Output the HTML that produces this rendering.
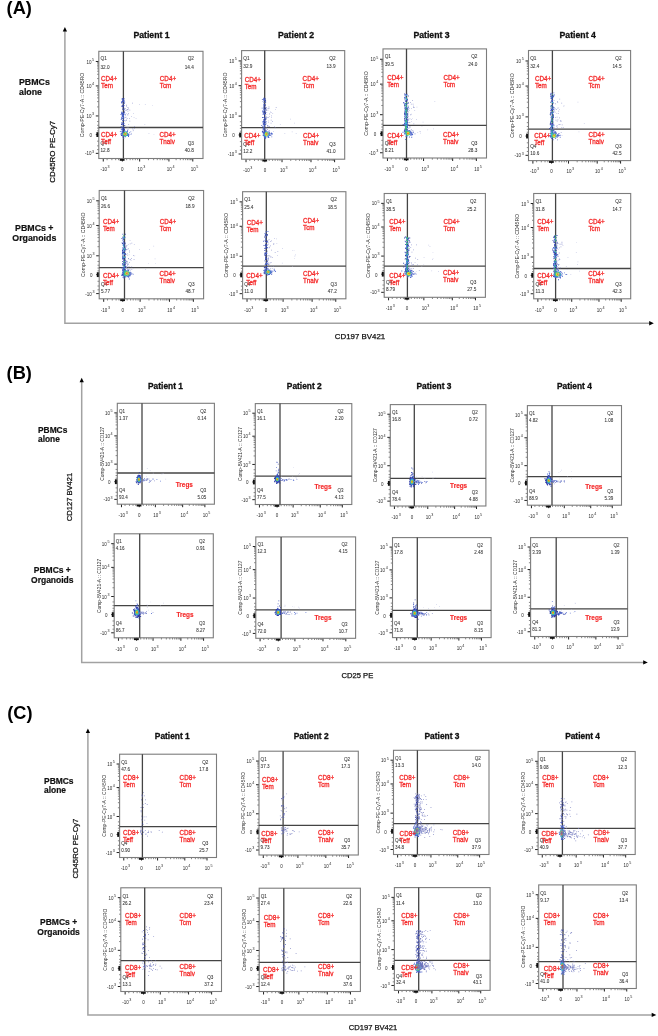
<!DOCTYPE html>
<html><head><meta charset="utf-8"><title>Flow cytometry figure</title>
<style>html,body{margin:0;padding:0;background:#fff;width:658px;height:1036px;overflow:hidden} svg{filter:blur(0.4px)}</style>
</head><body>
<svg width="658" height="1036" viewBox="0 0 658 1036" style="display:block" font-family='"Liberation Sans", sans-serif'>
<rect width="658" height="1036" fill="#fff"/>
<text x="6.6" y="14.3" font-size="18.2" fill="#000" font-weight="bold" text-anchor="start">(A)</text>
<text x="6.6" y="379.4" font-size="18.2" fill="#000" font-weight="bold" text-anchor="start">(B)</text>
<text x="7.2" y="719.2" font-size="18.2" fill="#000" font-weight="bold" text-anchor="start">(C)</text>
<path d="M64.9,30.1V323.3H650.8" fill="none" stroke="#a2a2a2" stroke-width="1.5"/>
<path d="M64.9,27.1 L67.05,31.5 L62.75,31.5Z" fill="#000"/>
<path d="M653.8,323.3 L649.2,321.1 L649.2,325.5Z" fill="#000"/>
<path d="M81.7,380.8V662.4H644.8" fill="none" stroke="#a2a2a2" stroke-width="1.5"/>
<path d="M81.7,377.8 L83.85,382.2 L79.55,382.2Z" fill="#000"/>
<path d="M647.8,662.4 L643.2,660.2 L643.2,664.6Z" fill="#000"/>
<path d="M87.9,731.5V1014.9H653.3" fill="none" stroke="#a2a2a2" stroke-width="1.5"/>
<path d="M87.9,728.5 L90.05,732.9 L85.75,732.9Z" fill="#000"/>
<path d="M656.3,1014.9 L651.7,1012.7 L651.7,1017.1Z" fill="#000"/>
<text x="55.2" y="151.8" font-size="7.95" fill="#111" stroke="#111" stroke-width="0.25" text-anchor="middle" transform="rotate(-90 55.2 151.8)">CD45RO PE-Cy7</text>
<text x="72.3" y="497" font-size="7.6" fill="#111" stroke="#111" stroke-width="0.25" text-anchor="middle" transform="rotate(-90 72.3 497)">CD127 BV421</text>
<text x="78" y="848.6" font-size="7.7" fill="#111" stroke="#111" stroke-width="0.25" text-anchor="middle" transform="rotate(-90 78 848.6)">CD45RO PE-Cy7</text>
<text x="360" y="339.3" font-size="7.9" fill="#111" font-weight="normal" text-anchor="middle" stroke="#111" stroke-width="0.25">CD197 BV421</text>
<text x="357.4" y="677.7" font-size="7.6" fill="#111" font-weight="normal" text-anchor="middle" stroke="#111" stroke-width="0.25">CD25 PE</text>
<text x="373" y="1030.1" font-size="7.6" fill="#111" font-weight="normal" text-anchor="middle" stroke="#111" stroke-width="0.25">CD197 BV421</text>
<text x="19" y="85.1" font-size="8.8" fill="#111" font-weight="bold" text-anchor="start" stroke="#111" stroke-width="0.2">PBMCs</text>
<text x="19" y="94.8" font-size="8.8" fill="#111" font-weight="bold" text-anchor="start" stroke="#111" stroke-width="0.2">alone</text>
<text x="34.3" y="231" font-size="8.8" fill="#111" font-weight="bold" text-anchor="middle" stroke="#111" stroke-width="0.2">PBMCs +</text>
<text x="34.3" y="240.7" font-size="8.8" fill="#111" font-weight="bold" text-anchor="middle" stroke="#111" stroke-width="0.2">Organoids</text>
<text x="38" y="433.3" font-size="8.4" fill="#111" font-weight="bold" text-anchor="start" stroke="#111" stroke-width="0.2">PBMCs</text>
<text x="38" y="442.4" font-size="8.4" fill="#111" font-weight="bold" text-anchor="start" stroke="#111" stroke-width="0.2">alone</text>
<text x="52.3" y="573.1" font-size="8.5" fill="#111" font-weight="bold" text-anchor="middle" stroke="#111" stroke-width="0.2">PBMCs +</text>
<text x="52.3" y="582.6" font-size="8.5" fill="#111" font-weight="bold" text-anchor="middle" stroke="#111" stroke-width="0.2">Organoids</text>
<text x="44" y="784.3" font-size="8.45" fill="#111" font-weight="bold" text-anchor="start" stroke="#111" stroke-width="0.2">PBMCs</text>
<text x="44" y="793.3" font-size="8.45" fill="#111" font-weight="bold" text-anchor="start" stroke="#111" stroke-width="0.2">alone</text>
<text x="58.6" y="925.2" font-size="8.5" fill="#111" font-weight="bold" text-anchor="middle" stroke="#111" stroke-width="0.2">PBMCs +</text>
<text x="58.6" y="934.7" font-size="8.5" fill="#111" font-weight="bold" text-anchor="middle" stroke="#111" stroke-width="0.2">Organoids</text>
<text x="151.5" y="37.8" font-size="8.7" fill="#111" font-weight="bold" text-anchor="middle" stroke="#111" stroke-width="0.3">Patient 1</text>
<text x="296.1" y="37.8" font-size="8.7" fill="#111" font-weight="bold" text-anchor="middle" stroke="#111" stroke-width="0.3">Patient 2</text>
<text x="431.5" y="37.8" font-size="8.7" fill="#111" font-weight="bold" text-anchor="middle" stroke="#111" stroke-width="0.3">Patient 3</text>
<text x="577.7" y="37.8" font-size="8.7" fill="#111" font-weight="bold" text-anchor="middle" stroke="#111" stroke-width="0.3">Patient 4</text>
<text x="165.5" y="389.1" font-size="8.4" fill="#111" font-weight="bold" text-anchor="middle" stroke="#111" stroke-width="0.3">Patient 1</text>
<text x="304.3" y="389.1" font-size="8.4" fill="#111" font-weight="bold" text-anchor="middle" stroke="#111" stroke-width="0.3">Patient 2</text>
<text x="434" y="389.1" font-size="8.4" fill="#111" font-weight="bold" text-anchor="middle" stroke="#111" stroke-width="0.3">Patient 3</text>
<text x="574.4" y="389.1" font-size="8.4" fill="#111" font-weight="bold" text-anchor="middle" stroke="#111" stroke-width="0.3">Patient 4</text>
<text x="172.3" y="738.6" font-size="8.4" fill="#111" font-weight="bold" text-anchor="middle" stroke="#111" stroke-width="0.3">Patient 1</text>
<text x="311.2" y="738.6" font-size="8.4" fill="#111" font-weight="bold" text-anchor="middle" stroke="#111" stroke-width="0.3">Patient 2</text>
<text x="442" y="738.6" font-size="8.4" fill="#111" font-weight="bold" text-anchor="middle" stroke="#111" stroke-width="0.3">Patient 3</text>
<text x="582.6" y="738.6" font-size="8.4" fill="#111" font-weight="bold" text-anchor="middle" stroke="#111" stroke-width="0.3">Patient 4</text>
<text x="84.2" y="104.9" font-size="5.15" fill="#333" text-anchor="middle" transform="rotate(-90 84.2 104.9)">Comp-PE-Cy7-A :: CD45RO</text>
<path d="M95.8,61.48H98.8M95.8,85.93H98.8M95.8,115.94H98.8M95.8,134.59H98.8M95.8,153.35H98.8M103.28,158.5V161.5M122.35,158.5V161.5M139.65,158.5V161.5M168.93,158.5V161.5M192.79,158.5V161.5" stroke="#222" stroke-width="1" fill="none"/>
<path d="M97.1,78.57H98.8M97.1,74.26H98.8M97.1,71.21H98.8M97.1,68.84H98.8M97.1,66.91H98.8M97.1,65.27H98.8M97.1,63.85H98.8M97.1,62.6H98.8M97.1,106.91H98.8M97.1,101.62H98.8M97.1,97.87H98.8M97.1,94.96H98.8M97.1,92.58H98.8M97.1,90.58H98.8M97.1,88.83H98.8M97.1,87.3H98.8M97.1,121.54H98.8M97.1,125.27H98.8M97.1,128.07H98.8M97.1,130.86H98.8M97.1,141.16H98.8M97.1,145.85H98.8M97.1,149.6H98.8M176.11,158.5V160.2M180.31,158.5V160.2M183.29,158.5V160.2M185.61,158.5V160.2M187.49,158.5V160.2M189.09,158.5V160.2M190.48,158.5V160.2M191.7,158.5V160.2M148.46,158.5V160.2M153.62,158.5V160.2M157.27,158.5V160.2M160.11,158.5V160.2M162.43,158.5V160.2M164.39,158.5V160.2M166.09,158.5V160.2M167.59,158.5V160.2M126.67,158.5V160.2M130.13,158.5V160.2M132.73,158.5V160.2M135.32,158.5V160.2M137.57,158.5V160.2M107.09,158.5V160.2M111.86,158.5V160.2M115.68,158.5V160.2M118.54,158.5V160.2" stroke="#444" stroke-width="0.65" fill="none"/>
<rect x="96.4" y="132.19" width="2.4" height="4.8" fill="#111"/>
<rect x="119.75" y="158.5" width="4.8" height="2.3" fill="#111"/>
<text x="94.1" y="63.58" font-size="4.5" fill="#2a2a2a" font-weight="normal" text-anchor="end">10<tspan font-size="3.7" dx="0.6" dy="-2.8">5</tspan></text>
<text x="94.1" y="88.03" font-size="4.5" fill="#2a2a2a" font-weight="normal" text-anchor="end">10<tspan font-size="3.7" dx="0.6" dy="-2.8">4</tspan></text>
<text x="94.1" y="118.04" font-size="4.5" fill="#2a2a2a" font-weight="normal" text-anchor="end">10<tspan font-size="3.7" dx="0.6" dy="-2.8">3</tspan></text>
<text x="92" y="136.99" font-size="4.5" fill="#2a2a2a" font-weight="normal" text-anchor="end">0</text>
<text x="94.1" y="155.45" font-size="4.5" fill="#2a2a2a" font-weight="normal" text-anchor="end">-10<tspan font-size="3.7" dx="0.6" dy="-2.8">3</tspan></text>
<text x="104.98" y="171.3" font-size="4.5" fill="#2a2a2a" font-weight="normal" text-anchor="middle">-10<tspan font-size="3.7" dx="0.6" dy="-3.0">3</tspan></text>
<text x="122.35" y="171.3" font-size="4.5" fill="#2a2a2a" font-weight="normal" text-anchor="middle">0</text>
<text x="141.35" y="171.3" font-size="4.5" fill="#2a2a2a" font-weight="normal" text-anchor="middle">10<tspan font-size="3.7" dx="0.6" dy="-3.0">3</tspan></text>
<text x="170.63" y="171.3" font-size="4.5" fill="#2a2a2a" font-weight="normal" text-anchor="middle">10<tspan font-size="3.7" dx="0.6" dy="-3.0">4</tspan></text>
<text x="194.49" y="171.3" font-size="4.5" fill="#2a2a2a" font-weight="normal" text-anchor="middle">10<tspan font-size="3.7" dx="0.6" dy="-3.0">5</tspan></text>
<rect x="98.8" y="51.3" width="104.2" height="107.2" fill="none" stroke="#7c7c7c" stroke-width="1.1"/>
<line x1="123.4" y1="51.3" x2="123.4" y2="158.5" stroke="#444" stroke-width="1.3"/>
<line x1="98.8" y1="127.5" x2="203" y2="127.5" stroke="#444" stroke-width="1.3"/>
<path d="M122.5 113.8h0.9v0.9h-0.9zM121.0 123.4h0.9v0.9h-0.9zM123.8 135.0h0.9v0.9h-0.9zM124.1 134.3h0.9v0.9h-0.9zM123.0 119.7h0.9v0.9h-0.9zM124.0 129.0h0.9v0.9h-0.9zM121.2 135.0h0.9v0.9h-0.9zM122.3 108.8h0.9v0.9h-0.9zM122.1 105.6h0.9v0.9h-0.9zM121.8 124.4h0.9v0.9h-0.9zM122.7 113.1h0.9v0.9h-0.9zM121.6 113.0h0.9v0.9h-0.9zM123.0 115.4h0.9v0.9h-0.9zM123.3 107.7h0.9v0.9h-0.9zM122.4 106.4h0.9v0.9h-0.9zM123.0 123.1h0.9v0.9h-0.9zM123.0 100.3h0.9v0.9h-0.9zM122.1 101.7h0.9v0.9h-0.9zM123.7 100.4h0.9v0.9h-0.9zM122.4 128.0h0.9v0.9h-0.9zM123.0 127.1h0.9v0.9h-0.9zM121.8 132.5h0.9v0.9h-0.9zM121.3 101.5h0.9v0.9h-0.9zM122.5 101.5h0.9v0.9h-0.9zM122.9 112.4h0.9v0.9h-0.9zM122.5 134.8h0.9v0.9h-0.9zM120.7 126.2h0.9v0.9h-0.9zM121.9 131.4h0.9v0.9h-0.9zM122.0 100.7h0.9v0.9h-0.9zM122.7 114.5h0.9v0.9h-0.9zM122.8 116.6h0.9v0.9h-0.9zM122.9 106.1h0.9v0.9h-0.9zM121.0 124.0h0.9v0.9h-0.9zM121.6 132.6h0.9v0.9h-0.9zM122.1 132.7h0.9v0.9h-0.9zM122.9 127.7h0.9v0.9h-0.9zM121.5 105.4h0.9v0.9h-0.9zM121.8 98.1h0.9v0.9h-0.9zM120.6 114.1h0.9v0.9h-0.9zM123.2 131.5h0.9v0.9h-0.9zM123.6 127.4h0.9v0.9h-0.9zM123.0 113.5h0.9v0.9h-0.9zM124.3 125.0h0.9v0.9h-0.9zM122.9 105.8h0.9v0.9h-0.9zM122.8 123.0h0.9v0.9h-0.9zM123.0 129.1h0.9v0.9h-0.9zM122.6 107.7h0.9v0.9h-0.9zM122.6 115.1h0.9v0.9h-0.9zM124.2 130.2h0.9v0.9h-0.9zM123.9 128.4h0.9v0.9h-0.9zM122.3 126.7h0.9v0.9h-0.9zM123.6 133.7h0.9v0.9h-0.9zM122.1 129.1h0.9v0.9h-0.9zM122.3 121.7h0.9v0.9h-0.9zM120.9 134.5h0.9v0.9h-0.9zM123.8 111.3h0.9v0.9h-0.9zM122.3 116.0h0.9v0.9h-0.9zM122.5 114.9h0.9v0.9h-0.9zM123.2 98.2h0.9v0.9h-0.9zM123.8 131.7h0.9v0.9h-0.9zM119.9 131.2h0.9v0.9h-0.9zM122.8 103.5h0.9v0.9h-0.9zM122.5 104.8h0.9v0.9h-0.9zM123.3 117.6h0.9v0.9h-0.9zM123.0 122.3h0.9v0.9h-0.9zM120.7 133.2h0.9v0.9h-0.9zM122.7 101.1h0.9v0.9h-0.9zM123.2 134.9h0.9v0.9h-0.9zM122.2 99.7h0.9v0.9h-0.9zM123.9 130.2h0.9v0.9h-0.9zM123.3 134.8h0.9v0.9h-0.9zM123.1 124.1h0.9v0.9h-0.9zM122.7 129.3h0.9v0.9h-0.9zM124.2 111.9h0.9v0.9h-0.9zM123.3 99.8h0.9v0.9h-0.9zM122.3 123.2h0.9v0.9h-0.9z" fill="#2a3aa6"/>
<path d="M126.5 133.9h0.8v0.8h-0.8zM127.4 134.6h0.8v0.8h-0.8zM127.2 132.7h0.8v0.8h-0.8zM127.4 133.5h0.8v0.8h-0.8zM126.9 133.6h0.8v0.8h-0.8zM130.6 134.2h0.8v0.8h-0.8zM126.8 133.6h0.8v0.8h-0.8zM127.4 133.3h0.8v0.8h-0.8zM126.9 133.8h0.8v0.8h-0.8zM127.4 133.5h0.8v0.8h-0.8zM127.9 134.6h0.8v0.8h-0.8zM128.4 133.8h0.8v0.8h-0.8zM128.6 134.5h0.8v0.8h-0.8zM128.5 134.1h0.8v0.8h-0.8zM130.4 131.5h0.8v0.8h-0.8zM127.1 134.8h0.8v0.8h-0.8zM127.2 132.5h0.8v0.8h-0.8zM127.1 134.8h0.8v0.8h-0.8zM126.4 133.9h0.8v0.8h-0.8zM128.3 134.4h0.8v0.8h-0.8z" fill="#4a64cc"/>
<path d="M122.1 114.1h0.9v0.9h-0.9zM121.3 128.7h0.9v0.9h-0.9zM122.2 113.1h0.9v0.9h-0.9zM122.2 133.6h0.9v0.9h-0.9zM122.6 115.7h0.9v0.9h-0.9zM122.2 118.0h0.9v0.9h-0.9zM122.5 130.9h0.9v0.9h-0.9zM120.7 134.1h0.9v0.9h-0.9zM121.7 123.9h0.9v0.9h-0.9zM123.4 101.1h0.9v0.9h-0.9zM123.6 112.9h0.9v0.9h-0.9zM122.9 133.1h0.9v0.9h-0.9zM123.0 99.7h0.9v0.9h-0.9zM121.5 111.8h0.9v0.9h-0.9zM122.1 128.8h0.9v0.9h-0.9zM124.6 114.1h0.9v0.9h-0.9zM122.4 133.0h0.9v0.9h-0.9zM121.3 126.7h0.9v0.9h-0.9zM123.8 98.4h0.9v0.9h-0.9zM124.0 133.5h0.9v0.9h-0.9zM121.2 118.0h0.9v0.9h-0.9zM123.2 132.4h0.9v0.9h-0.9zM121.2 101.8h0.9v0.9h-0.9zM121.8 114.7h0.9v0.9h-0.9zM122.1 130.4h0.9v0.9h-0.9zM124.5 133.5h0.9v0.9h-0.9zM122.9 133.8h0.9v0.9h-0.9zM122.5 133.9h0.9v0.9h-0.9zM121.3 121.9h0.9v0.9h-0.9zM122.9 116.3h0.9v0.9h-0.9zM122.3 130.3h0.9v0.9h-0.9zM123.5 123.1h0.9v0.9h-0.9zM123.8 103.0h0.9v0.9h-0.9zM124.2 101.8h0.9v0.9h-0.9zM121.2 116.7h0.9v0.9h-0.9zM123.0 113.4h0.9v0.9h-0.9zM120.8 129.3h0.9v0.9h-0.9zM123.8 108.4h0.9v0.9h-0.9zM121.4 117.2h0.9v0.9h-0.9zM121.9 101.2h0.9v0.9h-0.9zM122.0 127.7h0.9v0.9h-0.9zM123.2 117.1h0.9v0.9h-0.9zM123.6 109.3h0.9v0.9h-0.9zM121.7 115.3h0.9v0.9h-0.9zM121.5 102.7h0.9v0.9h-0.9zM121.7 98.9h0.9v0.9h-0.9zM121.9 128.4h0.9v0.9h-0.9zM123.1 118.6h0.9v0.9h-0.9zM122.1 123.7h0.9v0.9h-0.9zM122.6 113.6h0.9v0.9h-0.9zM121.9 130.3h0.9v0.9h-0.9zM122.1 131.3h0.9v0.9h-0.9zM121.3 102.5h0.9v0.9h-0.9zM123.6 120.2h0.9v0.9h-0.9zM121.0 113.1h0.9v0.9h-0.9zM124.4 133.0h0.9v0.9h-0.9zM123.7 105.2h0.9v0.9h-0.9zM121.3 133.2h0.9v0.9h-0.9zM123.0 115.0h0.9v0.9h-0.9zM124.3 133.8h0.9v0.9h-0.9zM122.3 112.4h0.9v0.9h-0.9zM121.0 111.8h0.9v0.9h-0.9zM123.4 125.7h0.9v0.9h-0.9zM122.3 133.7h0.9v0.9h-0.9zM122.2 120.0h0.9v0.9h-0.9zM121.7 127.6h0.9v0.9h-0.9zM122.4 98.8h0.9v0.9h-0.9zM121.3 106.2h0.9v0.9h-0.9zM121.4 131.3h0.9v0.9h-0.9zM120.8 119.1h0.9v0.9h-0.9zM124.6 130.8h0.9v0.9h-0.9zM124.6 131.6h0.9v0.9h-0.9zM122.6 115.0h0.9v0.9h-0.9zM122.2 99.3h0.9v0.9h-0.9z" fill="#4a64cc"/>
<path d="M122.1 132.3h1v1h-1zM126.7 131.0h1v1h-1zM127.1 130.3h1v1h-1zM121.5 133.2h1v1h-1zM127.2 133.7h1v1h-1zM126.9 130.7h1v1h-1zM126.2 131.6h1v1h-1zM123.2 137.8h1v1h-1zM122.8 135.3h1v1h-1zM127.3 133.9h1v1h-1zM122.6 134.8h1v1h-1zM124.8 136.0h1v1h-1zM127.8 133.7h1v1h-1zM128.0 134.9h1v1h-1zM123.5 135.7h1v1h-1zM122.3 135.3h1v1h-1zM127.0 135.0h1v1h-1zM123.6 131.4h1v1h-1zM122.4 136.4h1v1h-1zM124.8 136.2h1v1h-1zM128.0 136.1h1v1h-1zM122.0 132.1h1v1h-1z" fill="#4a64cc"/>
<path d="M126.7 133.8h1v1h-1zM126.0 134.9h1v1h-1zM126.6 133.3h1v1h-1zM125.8 135.3h1v1h-1zM126.5 132.8h1v1h-1zM126.7 134.5h1v1h-1zM122.5 133.5h1v1h-1zM125.9 131.7h1v1h-1zM124.4 131.3h1v1h-1zM125.0 135.5h1v1h-1z" fill="#30b8e0"/>
<path d="M123.1 132.7h1v1h-1zM126.5 133.3h1v1h-1zM123.0 132.9h1v1h-1zM124.3 132.0h1v1h-1zM125.4 134.9h1v1h-1zM123.9 131.8h1v1h-1zM124.5 135.2h1v1h-1zM125.0 135.0h1v1h-1zM125.9 132.2h1v1h-1zM123.6 135.0h1v1h-1zM126.4 132.8h1v1h-1zM123.1 133.5h1v1h-1zM123.3 134.3h1v1h-1zM124.5 135.3h1v1h-1zM126.0 133.2h1v1h-1zM123.0 134.0h1v1h-1zM124.6 135.3h1v1h-1z" fill="#40c070"/>
<path d="M123.6 133.4h1v1h-1zM124.9 132.3h1v1h-1zM123.4 133.0h1v1h-1zM125.9 133.2h1v1h-1zM123.5 133.8h1v1h-1zM124.8 134.8h1v1h-1zM123.4 133.4h1v1h-1zM125.9 133.5h1v1h-1zM125.5 132.5h1v1h-1zM125.9 133.9h1v1h-1z" fill="#b8e040"/>
<path d="M125.1 133.0h1v1h-1zM125.4 134.0h1v1h-1zM124.7 134.1h1v1h-1zM124.1 134.0h1v1h-1zM124.2 133.9h1v1h-1zM124.9 132.8h1v1h-1z" fill="#f0e030"/>
<path d="M125.2 133.5h1v1h-1zM124.6 133.3h1v1h-1zM124.3 133.4h1v1h-1zM124.9 133.5h1v1h-1zM124.7 134.0h1v1h-1z" fill="#f08020"/>
<path d="M128.2 127.4h0.7v0.7h-0.7zM125.7 116.7h0.7v0.7h-0.7zM133.9 128.1h0.7v0.7h-0.7zM128.6 135.1h0.7v0.7h-0.7zM126.8 118.0h0.7v0.7h-0.7zM124.6 109.8h0.7v0.7h-0.7zM124.9 108.1h0.7v0.7h-0.7zM125.8 113.4h0.7v0.7h-0.7zM129.5 120.8h0.7v0.7h-0.7zM132.3 128.5h0.7v0.7h-0.7zM129.2 132.0h0.7v0.7h-0.7zM125.1 134.3h0.7v0.7h-0.7zM132.0 102.7h0.7v0.7h-0.7zM130.9 133.2h0.7v0.7h-0.7zM126.9 128.9h0.7v0.7h-0.7zM126.5 109.6h0.7v0.7h-0.7zM133.3 129.7h0.7v0.7h-0.7zM126.8 127.0h0.7v0.7h-0.7zM127.5 114.1h0.7v0.7h-0.7zM125.3 117.1h0.7v0.7h-0.7zM125.9 119.4h0.7v0.7h-0.7zM127.6 110.7h0.7v0.7h-0.7zM129.5 109.8h0.7v0.7h-0.7zM125.8 133.5h0.7v0.7h-0.7zM129.2 118.1h0.7v0.7h-0.7zM128.4 124.0h0.7v0.7h-0.7zM126.0 120.0h0.7v0.7h-0.7zM131.0 115.9h0.7v0.7h-0.7zM126.0 104.8h0.7v0.7h-0.7zM128.2 107.7h0.7v0.7h-0.7zM125.2 120.6h0.7v0.7h-0.7zM127.5 107.1h0.7v0.7h-0.7zM127.0 109.2h0.7v0.7h-0.7zM127.7 109.3h0.7v0.7h-0.7zM125.7 110.2h0.7v0.7h-0.7zM125.2 114.9h0.7v0.7h-0.7zM126.0 105.8h0.7v0.7h-0.7zM134.3 126.3h0.7v0.7h-0.7zM128.1 113.2h0.7v0.7h-0.7zM129.3 132.6h0.7v0.7h-0.7z" fill="#8088c8"/>
<path d="M135.7 118.2h0.7v0.7h-0.7zM133.7 117.1h0.7v0.7h-0.7zM144.5 124.1h0.7v0.7h-0.7zM153.6 133.9h0.7v0.7h-0.7zM127.5 115.1h0.7v0.7h-0.7zM132.7 130.6h0.7v0.7h-0.7zM139.0 104.3h0.7v0.7h-0.7zM128.0 129.0h0.7v0.7h-0.7zM148.6 133.0h0.7v0.7h-0.7zM152.3 104.9h0.7v0.7h-0.7zM144.9 104.1h0.7v0.7h-0.7zM133.2 113.1h0.7v0.7h-0.7z" fill="#b8bce0"/>
<text x="100.5" y="60.4" font-size="4.7" fill="#333" font-weight="normal" text-anchor="start" stroke="#333" stroke-width="0.06">Q1</text>
<text x="100.5" y="68.5" font-size="4.7" fill="#333" font-weight="normal" text-anchor="start" stroke="#333" stroke-width="0.06">32.0</text>
<text x="193.9" y="60.4" font-size="4.7" fill="#333" font-weight="normal" text-anchor="end" stroke="#333" stroke-width="0.06">Q2</text>
<text x="193.9" y="68.5" font-size="4.7" fill="#333" font-weight="normal" text-anchor="end" stroke="#333" stroke-width="0.06">14.4</text>
<text x="193.9" y="145.4" font-size="4.7" fill="#333" font-weight="normal" text-anchor="end" stroke="#333" stroke-width="0.06">Q3</text>
<text x="193.9" y="152.4" font-size="4.7" fill="#333" font-weight="normal" text-anchor="end" stroke="#333" stroke-width="0.06">40.8</text>
<text x="100.5" y="145.4" font-size="4.7" fill="#333" font-weight="normal" text-anchor="start" stroke="#333" stroke-width="0.06">Q4</text>
<text x="100.5" y="152.4" font-size="4.7" fill="#333" font-weight="normal" text-anchor="start" stroke="#333" stroke-width="0.06">12.8</text>
<text x="101" y="80.6" font-size="6.3" fill="#f52a2a" font-weight="normal" text-anchor="start" stroke="#f52a2a" stroke-width="0.28">CD4+</text>
<text x="101" y="87.6" font-size="6.3" fill="#f52a2a" font-weight="normal" text-anchor="start" stroke="#f52a2a" stroke-width="0.28">Tem</text>
<text x="159.8" y="80.6" font-size="6.3" fill="#f52a2a" font-weight="normal" text-anchor="start" stroke="#f52a2a" stroke-width="0.28">CD4+</text>
<text x="159.8" y="87.6" font-size="6.3" fill="#f52a2a" font-weight="normal" text-anchor="start" stroke="#f52a2a" stroke-width="0.28">Tcm</text>
<text x="101" y="136.7" font-size="6.3" fill="#f52a2a" font-weight="normal" text-anchor="start" stroke="#f52a2a" stroke-width="0.28">CD4+</text>
<text x="101" y="143.7" font-size="6.3" fill="#f52a2a" font-weight="normal" text-anchor="start" stroke="#f52a2a" stroke-width="0.28">Teff</text>
<text x="159.4" y="136.7" font-size="6.3" fill="#f52a2a" font-weight="normal" text-anchor="start" stroke="#f52a2a" stroke-width="0.28">CD4+</text>
<text x="159.4" y="143.7" font-size="6.3" fill="#f52a2a" font-weight="normal" text-anchor="start" stroke="#f52a2a" stroke-width="0.28">Tnaiv</text>
<text x="227" y="104.9" font-size="5.15" fill="#333" text-anchor="middle" transform="rotate(-90 227 104.9)">Comp-PE-Cy7-A :: CD45RO</text>
<path d="M238.6,60.92H241.6M238.6,85.68H241.6M238.6,116.09H241.6M238.6,134.98H241.6M238.6,153.99H241.6M246.03,159.2V162.2M264.9,159.2V162.2M282.02,159.2V162.2M310.99,159.2V162.2M334.6,159.2V162.2" stroke="#222" stroke-width="1" fill="none"/>
<path d="M239.9,78.22H241.6M239.9,73.86H241.6M239.9,70.77H241.6M239.9,68.37H241.6M239.9,66.41H241.6M239.9,64.75H241.6M239.9,63.32H241.6M239.9,62.05H241.6M239.9,106.93H241.6M239.9,101.58H241.6M239.9,97.78H241.6M239.9,94.83H241.6M239.9,92.42H241.6M239.9,90.39H241.6M239.9,88.62H241.6M239.9,87.07H241.6M239.9,121.75H241.6M239.9,125.53H241.6M239.9,128.37H241.6M239.9,131.2H241.6M239.9,141.63H241.6M239.9,146.39H241.6M239.9,150.19H241.6M318.09,159.2V160.9M322.25,159.2V160.9M325.2,159.2V160.9M327.49,159.2V160.9M329.36,159.2V160.9M330.94,159.2V160.9M332.31,159.2V160.9M333.52,159.2V160.9M290.74,159.2V160.9M295.84,159.2V160.9M299.46,159.2V160.9M302.27,159.2V160.9M304.56,159.2V160.9M306.5,159.2V160.9M308.18,159.2V160.9M309.66,159.2V160.9M269.18,159.2V160.9M272.6,159.2V160.9M275.17,159.2V160.9M277.74,159.2V160.9M279.96,159.2V160.9M249.81,159.2V160.9M254.52,159.2V160.9M258.3,159.2V160.9M261.13,159.2V160.9" stroke="#444" stroke-width="0.65" fill="none"/>
<rect x="239.2" y="132.58" width="2.4" height="4.8" fill="#111"/>
<rect x="262.3" y="159.2" width="4.8" height="2.3" fill="#111"/>
<text x="236.9" y="63.02" font-size="4.5" fill="#2a2a2a" font-weight="normal" text-anchor="end">10<tspan font-size="3.7" dx="0.6" dy="-2.8">5</tspan></text>
<text x="236.9" y="87.78" font-size="4.5" fill="#2a2a2a" font-weight="normal" text-anchor="end">10<tspan font-size="3.7" dx="0.6" dy="-2.8">4</tspan></text>
<text x="236.9" y="118.19" font-size="4.5" fill="#2a2a2a" font-weight="normal" text-anchor="end">10<tspan font-size="3.7" dx="0.6" dy="-2.8">3</tspan></text>
<text x="234.8" y="137.38" font-size="4.5" fill="#2a2a2a" font-weight="normal" text-anchor="end">0</text>
<text x="236.9" y="156.09" font-size="4.5" fill="#2a2a2a" font-weight="normal" text-anchor="end">-10<tspan font-size="3.7" dx="0.6" dy="-2.8">3</tspan></text>
<text x="247.73" y="172" font-size="4.5" fill="#2a2a2a" font-weight="normal" text-anchor="middle">-10<tspan font-size="3.7" dx="0.6" dy="-3.0">3</tspan></text>
<text x="264.9" y="172" font-size="4.5" fill="#2a2a2a" font-weight="normal" text-anchor="middle">0</text>
<text x="283.72" y="172" font-size="4.5" fill="#2a2a2a" font-weight="normal" text-anchor="middle">10<tspan font-size="3.7" dx="0.6" dy="-3.0">3</tspan></text>
<text x="312.69" y="172" font-size="4.5" fill="#2a2a2a" font-weight="normal" text-anchor="middle">10<tspan font-size="3.7" dx="0.6" dy="-3.0">4</tspan></text>
<text x="336.3" y="172" font-size="4.5" fill="#2a2a2a" font-weight="normal" text-anchor="middle">10<tspan font-size="3.7" dx="0.6" dy="-3.0">5</tspan></text>
<rect x="241.6" y="50.6" width="103.1" height="108.6" fill="none" stroke="#7c7c7c" stroke-width="1.1"/>
<line x1="264.7" y1="50.6" x2="264.7" y2="159.2" stroke="#444" stroke-width="1.3"/>
<line x1="241.6" y1="127.6" x2="344.7" y2="127.6" stroke="#444" stroke-width="1.3"/>
<path d="M263.5 122.5h0.9v0.9h-0.9zM265.9 132.8h0.9v0.9h-0.9zM265.9 130.4h0.9v0.9h-0.9zM263.1 105.4h0.9v0.9h-0.9zM263.2 134.9h0.9v0.9h-0.9zM264.8 98.5h0.9v0.9h-0.9zM265.1 108.4h0.9v0.9h-0.9zM264.7 100.1h0.9v0.9h-0.9zM263.7 134.8h0.9v0.9h-0.9zM263.2 128.2h0.9v0.9h-0.9zM261.9 98.9h0.9v0.9h-0.9zM263.6 103.4h0.9v0.9h-0.9zM263.6 135.1h0.9v0.9h-0.9zM263.8 124.9h0.9v0.9h-0.9zM261.3 124.9h0.9v0.9h-0.9zM264.3 105.3h0.9v0.9h-0.9zM264.2 99.3h0.9v0.9h-0.9zM263.5 99.5h0.9v0.9h-0.9zM262.8 131.9h0.9v0.9h-0.9zM263.9 122.1h0.9v0.9h-0.9zM264.0 106.2h0.9v0.9h-0.9zM262.9 123.5h0.9v0.9h-0.9zM264.2 123.7h0.9v0.9h-0.9zM263.4 119.2h0.9v0.9h-0.9zM263.1 105.5h0.9v0.9h-0.9zM265.1 104.6h0.9v0.9h-0.9zM263.3 123.8h0.9v0.9h-0.9zM264.4 133.1h0.9v0.9h-0.9zM264.7 130.8h0.9v0.9h-0.9zM263.4 123.8h0.9v0.9h-0.9zM264.5 118.5h0.9v0.9h-0.9zM263.1 113.5h0.9v0.9h-0.9zM265.9 134.5h0.9v0.9h-0.9zM263.6 117.0h0.9v0.9h-0.9zM265.4 107.6h0.9v0.9h-0.9zM263.4 134.8h0.9v0.9h-0.9zM264.0 123.5h0.9v0.9h-0.9zM265.5 117.6h0.9v0.9h-0.9zM262.8 130.7h0.9v0.9h-0.9zM265.2 100.5h0.9v0.9h-0.9zM263.3 126.9h0.9v0.9h-0.9zM263.9 104.2h0.9v0.9h-0.9zM263.6 132.4h0.9v0.9h-0.9zM263.9 120.8h0.9v0.9h-0.9zM264.3 114.1h0.9v0.9h-0.9zM263.6 109.1h0.9v0.9h-0.9zM264.1 132.1h0.9v0.9h-0.9zM265.0 111.7h0.9v0.9h-0.9zM263.3 113.3h0.9v0.9h-0.9zM263.5 122.2h0.9v0.9h-0.9zM265.6 123.4h0.9v0.9h-0.9zM264.2 116.3h0.9v0.9h-0.9zM264.0 114.8h0.9v0.9h-0.9zM264.3 119.5h0.9v0.9h-0.9zM263.7 109.1h0.9v0.9h-0.9zM264.3 133.9h0.9v0.9h-0.9zM263.8 133.3h0.9v0.9h-0.9zM263.9 111.1h0.9v0.9h-0.9zM261.9 131.3h0.9v0.9h-0.9zM265.2 101.9h0.9v0.9h-0.9zM264.4 107.6h0.9v0.9h-0.9zM263.1 131.9h0.9v0.9h-0.9zM264.9 98.4h0.9v0.9h-0.9zM262.2 130.8h0.9v0.9h-0.9zM264.3 134.6h0.9v0.9h-0.9zM263.5 122.0h0.9v0.9h-0.9zM264.8 130.2h0.9v0.9h-0.9zM262.1 117.2h0.9v0.9h-0.9zM264.0 97.8h0.9v0.9h-0.9zM263.8 123.6h0.9v0.9h-0.9zM267.0 125.4h0.9v0.9h-0.9zM263.7 120.1h0.9v0.9h-0.9zM264.2 123.8h0.9v0.9h-0.9zM262.5 126.1h0.9v0.9h-0.9zM265.4 118.8h0.9v0.9h-0.9zM264.7 111.4h0.9v0.9h-0.9zM265.7 109.6h0.9v0.9h-0.9zM262.6 110.9h0.9v0.9h-0.9zM264.7 112.0h0.9v0.9h-0.9zM263.4 132.5h0.9v0.9h-0.9zM265.1 113.1h0.9v0.9h-0.9zM265.9 133.1h0.9v0.9h-0.9z" fill="#2a3aa6"/>
<path d="M271.4 136.5h0.8v0.8h-0.8zM268.7 132.7h0.8v0.8h-0.8zM271.9 132.9h0.8v0.8h-0.8zM268.4 133.5h0.8v0.8h-0.8zM270.8 132.8h0.8v0.8h-0.8zM268.7 134.8h0.8v0.8h-0.8zM269.3 133.3h0.8v0.8h-0.8zM271.4 133.8h0.8v0.8h-0.8zM267.6 136.2h0.8v0.8h-0.8zM271.7 134.2h0.8v0.8h-0.8zM269.6 133.4h0.8v0.8h-0.8zM271.0 132.7h0.8v0.8h-0.8zM270.8 133.4h0.8v0.8h-0.8zM267.9 136.1h0.8v0.8h-0.8zM268.8 134.7h0.8v0.8h-0.8zM268.0 137.0h0.8v0.8h-0.8zM269.7 134.5h0.8v0.8h-0.8zM271.2 133.2h0.8v0.8h-0.8zM270.9 132.6h0.8v0.8h-0.8zM270.0 135.3h0.8v0.8h-0.8z" fill="#4a64cc"/>
<path d="M265.7 117.4h0.9v0.9h-0.9zM264.0 125.3h0.9v0.9h-0.9zM263.3 98.6h0.9v0.9h-0.9zM262.9 127.2h0.9v0.9h-0.9zM264.3 126.5h0.9v0.9h-0.9zM262.1 131.7h0.9v0.9h-0.9zM263.8 124.1h0.9v0.9h-0.9zM262.6 100.9h0.9v0.9h-0.9zM263.2 111.8h0.9v0.9h-0.9zM263.5 119.5h0.9v0.9h-0.9zM263.2 99.6h0.9v0.9h-0.9zM261.7 107.7h0.9v0.9h-0.9zM263.6 104.4h0.9v0.9h-0.9zM263.8 123.0h0.9v0.9h-0.9zM263.3 128.5h0.9v0.9h-0.9zM262.5 128.5h0.9v0.9h-0.9zM263.1 108.3h0.9v0.9h-0.9zM264.4 109.7h0.9v0.9h-0.9zM262.4 128.7h0.9v0.9h-0.9zM264.0 113.6h0.9v0.9h-0.9zM265.2 121.4h0.9v0.9h-0.9zM266.0 121.4h0.9v0.9h-0.9zM263.3 97.7h0.9v0.9h-0.9zM262.4 128.5h0.9v0.9h-0.9zM263.9 109.1h0.9v0.9h-0.9zM262.8 133.6h0.9v0.9h-0.9zM264.5 133.3h0.9v0.9h-0.9zM262.9 121.5h0.9v0.9h-0.9zM265.0 124.0h0.9v0.9h-0.9zM262.3 111.5h0.9v0.9h-0.9zM264.4 134.7h0.9v0.9h-0.9zM262.6 134.9h0.9v0.9h-0.9zM264.6 120.4h0.9v0.9h-0.9zM262.4 113.7h0.9v0.9h-0.9zM263.2 112.2h0.9v0.9h-0.9zM263.7 130.6h0.9v0.9h-0.9zM264.1 117.8h0.9v0.9h-0.9zM263.1 133.6h0.9v0.9h-0.9zM264.1 99.5h0.9v0.9h-0.9zM265.1 122.2h0.9v0.9h-0.9zM263.4 98.9h0.9v0.9h-0.9zM264.0 133.1h0.9v0.9h-0.9zM263.8 125.7h0.9v0.9h-0.9zM262.3 121.5h0.9v0.9h-0.9zM263.6 120.4h0.9v0.9h-0.9zM264.1 134.6h0.9v0.9h-0.9zM263.8 124.0h0.9v0.9h-0.9zM263.7 125.2h0.9v0.9h-0.9zM262.8 123.5h0.9v0.9h-0.9zM263.3 129.4h0.9v0.9h-0.9zM262.7 133.6h0.9v0.9h-0.9zM263.4 121.0h0.9v0.9h-0.9zM263.2 111.4h0.9v0.9h-0.9zM264.8 130.8h0.9v0.9h-0.9zM264.5 127.9h0.9v0.9h-0.9zM262.4 117.1h0.9v0.9h-0.9zM263.3 104.2h0.9v0.9h-0.9zM262.7 121.0h0.9v0.9h-0.9zM264.8 131.8h0.9v0.9h-0.9zM263.6 134.8h0.9v0.9h-0.9zM263.9 112.9h0.9v0.9h-0.9zM264.7 129.3h0.9v0.9h-0.9zM263.5 102.1h0.9v0.9h-0.9zM263.0 107.2h0.9v0.9h-0.9zM263.6 110.1h0.9v0.9h-0.9zM262.2 110.4h0.9v0.9h-0.9zM267.4 133.0h0.9v0.9h-0.9zM264.9 101.3h0.9v0.9h-0.9z" fill="#4a64cc"/>
<path d="M263.9 131.7h1v1h-1zM268.7 130.6h1v1h-1zM263.7 136.3h1v1h-1zM264.2 135.6h1v1h-1zM268.8 132.6h1v1h-1zM265.1 137.7h1v1h-1zM263.8 132.1h1v1h-1zM264.7 136.1h1v1h-1zM268.3 136.9h1v1h-1zM268.8 132.1h1v1h-1zM268.8 134.9h1v1h-1zM264.2 137.1h1v1h-1zM263.1 131.8h1v1h-1zM264.4 138.2h1v1h-1zM265.1 136.3h1v1h-1zM267.6 131.5h1v1h-1zM268.8 134.5h1v1h-1zM265.0 135.8h1v1h-1zM268.7 134.1h1v1h-1zM265.3 137.0h1v1h-1zM263.3 133.2h1v1h-1zM265.2 131.0h1v1h-1zM267.6 136.8h1v1h-1zM267.7 135.8h1v1h-1z" fill="#4a64cc"/>
<path d="M264.0 134.5h1v1h-1zM267.5 135.1h1v1h-1zM264.0 133.7h1v1h-1zM268.1 134.7h1v1h-1zM267.8 134.5h1v1h-1zM265.9 131.2h1v1h-1zM264.7 135.4h1v1h-1zM265.2 135.4h1v1h-1z" fill="#30b8e0"/>
<path d="M266.7 132.1h1v1h-1zM267.6 133.3h1v1h-1zM265.4 135.3h1v1h-1zM265.7 132.1h1v1h-1zM267.7 134.1h1v1h-1zM266.3 131.9h1v1h-1zM265.0 132.2h1v1h-1zM264.6 134.3h1v1h-1zM267.5 132.7h1v1h-1zM266.2 135.4h1v1h-1zM264.6 134.0h1v1h-1zM265.1 132.5h1v1h-1zM266.3 135.1h1v1h-1zM267.3 132.8h1v1h-1z" fill="#40c070"/>
<path d="M266.5 134.7h1v1h-1zM264.8 133.9h1v1h-1zM266.3 132.6h1v1h-1zM267.2 133.8h1v1h-1zM266.8 134.6h1v1h-1zM265.9 132.3h1v1h-1zM265.9 134.9h1v1h-1zM267.1 133.8h1v1h-1zM265.0 132.8h1v1h-1zM266.6 134.6h1v1h-1zM265.1 134.5h1v1h-1z" fill="#b8e040"/>
<path d="M265.5 133.0h1v1h-1zM266.3 134.4h1v1h-1zM265.8 134.3h1v1h-1zM265.6 132.9h1v1h-1zM265.7 134.1h1v1h-1zM265.4 133.1h1v1h-1zM266.1 133.0h1v1h-1zM266.0 134.4h1v1h-1zM265.4 133.5h1v1h-1zM266.4 134.3h1v1h-1z" fill="#f0e030"/>
<path d="M266.0 133.3h1v1h-1zM265.6 133.5h1v1h-1zM266.3 133.7h1v1h-1z" fill="#f08020"/>
<path d="M271.0 116.8h0.7v0.7h-0.7zM266.4 112.0h0.7v0.7h-0.7zM269.2 113.4h0.7v0.7h-0.7zM267.7 134.9h0.7v0.7h-0.7zM266.1 107.1h0.7v0.7h-0.7zM265.9 134.3h0.7v0.7h-0.7zM268.6 106.6h0.7v0.7h-0.7zM268.4 126.4h0.7v0.7h-0.7zM269.4 113.7h0.7v0.7h-0.7zM266.1 116.4h0.7v0.7h-0.7zM272.0 121.0h0.7v0.7h-0.7zM270.8 119.8h0.7v0.7h-0.7zM270.7 122.7h0.7v0.7h-0.7zM268.3 133.5h0.7v0.7h-0.7zM267.6 109.7h0.7v0.7h-0.7zM268.7 107.8h0.7v0.7h-0.7zM267.0 131.3h0.7v0.7h-0.7zM268.4 108.2h0.7v0.7h-0.7zM269.8 133.0h0.7v0.7h-0.7zM266.8 129.4h0.7v0.7h-0.7zM268.1 121.8h0.7v0.7h-0.7zM272.4 112.9h0.7v0.7h-0.7zM269.0 115.9h0.7v0.7h-0.7zM266.8 108.4h0.7v0.7h-0.7zM266.1 109.8h0.7v0.7h-0.7zM266.3 131.2h0.7v0.7h-0.7zM270.7 112.1h0.7v0.7h-0.7zM265.9 127.5h0.7v0.7h-0.7zM274.2 126.6h0.7v0.7h-0.7zM267.7 125.6h0.7v0.7h-0.7zM267.9 117.1h0.7v0.7h-0.7zM266.5 113.9h0.7v0.7h-0.7zM265.9 128.0h0.7v0.7h-0.7zM269.1 126.2h0.7v0.7h-0.7zM267.8 133.4h0.7v0.7h-0.7zM275.8 107.3h0.7v0.7h-0.7zM267.2 117.4h0.7v0.7h-0.7zM270.9 134.9h0.7v0.7h-0.7zM267.1 128.9h0.7v0.7h-0.7zM267.0 135.0h0.7v0.7h-0.7z" fill="#8088c8"/>
<path d="M279.9 124.3h0.7v0.7h-0.7zM275.0 127.8h0.7v0.7h-0.7zM271.1 115.1h0.7v0.7h-0.7zM270.1 111.6h0.7v0.7h-0.7zM290.0 118.7h0.7v0.7h-0.7zM268.0 119.9h0.7v0.7h-0.7zM295.8 133.0h0.7v0.7h-0.7zM284.5 133.2h0.7v0.7h-0.7zM291.8 131.6h0.7v0.7h-0.7zM275.2 109.1h0.7v0.7h-0.7zM273.3 131.3h0.7v0.7h-0.7zM294.3 122.8h0.7v0.7h-0.7z" fill="#b8bce0"/>
<text x="243.3" y="59.7" font-size="4.7" fill="#333" font-weight="normal" text-anchor="start" stroke="#333" stroke-width="0.06">Q1</text>
<text x="243.3" y="67.8" font-size="4.7" fill="#333" font-weight="normal" text-anchor="start" stroke="#333" stroke-width="0.06">32.9</text>
<text x="335.6" y="59.7" font-size="4.7" fill="#333" font-weight="normal" text-anchor="end" stroke="#333" stroke-width="0.06">Q2</text>
<text x="335.6" y="67.8" font-size="4.7" fill="#333" font-weight="normal" text-anchor="end" stroke="#333" stroke-width="0.06">13.9</text>
<text x="335.6" y="146.1" font-size="4.7" fill="#333" font-weight="normal" text-anchor="end" stroke="#333" stroke-width="0.06">Q3</text>
<text x="335.6" y="153.1" font-size="4.7" fill="#333" font-weight="normal" text-anchor="end" stroke="#333" stroke-width="0.06">41.0</text>
<text x="243.3" y="146.1" font-size="4.7" fill="#333" font-weight="normal" text-anchor="start" stroke="#333" stroke-width="0.06">Q4</text>
<text x="243.3" y="153.1" font-size="4.7" fill="#333" font-weight="normal" text-anchor="start" stroke="#333" stroke-width="0.06">12.2</text>
<text x="244.7" y="81.5" font-size="6.3" fill="#f52a2a" font-weight="normal" text-anchor="start" stroke="#f52a2a" stroke-width="0.28">CD4+</text>
<text x="244.7" y="88.5" font-size="6.3" fill="#f52a2a" font-weight="normal" text-anchor="start" stroke="#f52a2a" stroke-width="0.28">Tem</text>
<text x="302.6" y="80.6" font-size="6.3" fill="#f52a2a" font-weight="normal" text-anchor="start" stroke="#f52a2a" stroke-width="0.28">CD4+</text>
<text x="302.6" y="87.6" font-size="6.3" fill="#f52a2a" font-weight="normal" text-anchor="start" stroke="#f52a2a" stroke-width="0.28">Tcm</text>
<text x="244.2" y="138.4" font-size="6.3" fill="#f52a2a" font-weight="normal" text-anchor="start" stroke="#f52a2a" stroke-width="0.28">CD4+</text>
<text x="244.2" y="145.4" font-size="6.3" fill="#f52a2a" font-weight="normal" text-anchor="start" stroke="#f52a2a" stroke-width="0.28">Teff</text>
<text x="303" y="137.7" font-size="6.3" fill="#f52a2a" font-weight="normal" text-anchor="start" stroke="#f52a2a" stroke-width="0.28">CD4+</text>
<text x="303" y="144.7" font-size="6.3" fill="#f52a2a" font-weight="normal" text-anchor="start" stroke="#f52a2a" stroke-width="0.28">Tnaiv</text>
<text x="368.4" y="103.45" font-size="5.15" fill="#333" text-anchor="middle" transform="rotate(-90 368.4 103.45)">Comp-PE-Cy7-A :: CD45RO</text>
<path d="M380,59.26H383M380,84.14H383M380,114.69H383M380,133.67H383M380,152.76H383M387.45,158V161M406.39,158V161M423.57,158V161M452.66,158V161M476.36,158V161" stroke="#222" stroke-width="1" fill="none"/>
<path d="M381.3,76.65H383M381.3,72.27H383M381.3,69.16H383M381.3,66.75H383M381.3,64.78H383M381.3,63.12H383M381.3,61.68H383M381.3,60.4H383M381.3,105.49H383M381.3,100.11H383M381.3,96.3H383M381.3,93.34H383M381.3,90.92H383M381.3,88.87H383M381.3,87.1H383M381.3,85.54H383M381.3,120.38H383M381.3,124.18H383M381.3,127.03H383M381.3,129.87H383M381.3,140.35H383M381.3,145.13H383M381.3,148.94H383M459.79,158V159.7M463.96,158V159.7M466.93,158V159.7M469.22,158V159.7M471.1,158V159.7M472.69,158V159.7M474.06,158V159.7M475.27,158V159.7M432.33,158V159.7M437.45,158V159.7M441.08,158V159.7M443.9,158V159.7M446.2,158V159.7M448.15,158V159.7M449.84,158V159.7M451.32,158V159.7M410.69,158V159.7M414.12,158V159.7M416.7,158V159.7M419.28,158V159.7M421.51,158V159.7M391.24,158V159.7M395.97,158V159.7M399.76,158V159.7M402.6,158V159.7" stroke="#444" stroke-width="0.65" fill="none"/>
<rect x="380.6" y="131.27" width="2.4" height="4.8" fill="#111"/>
<rect x="403.79" y="158" width="4.8" height="2.3" fill="#111"/>
<text x="378.3" y="61.36" font-size="4.5" fill="#2a2a2a" font-weight="normal" text-anchor="end">10<tspan font-size="3.7" dx="0.6" dy="-2.8">5</tspan></text>
<text x="378.3" y="86.24" font-size="4.5" fill="#2a2a2a" font-weight="normal" text-anchor="end">10<tspan font-size="3.7" dx="0.6" dy="-2.8">4</tspan></text>
<text x="378.3" y="116.79" font-size="4.5" fill="#2a2a2a" font-weight="normal" text-anchor="end">10<tspan font-size="3.7" dx="0.6" dy="-2.8">3</tspan></text>
<text x="376.2" y="136.07" font-size="4.5" fill="#2a2a2a" font-weight="normal" text-anchor="end">0</text>
<text x="378.3" y="154.86" font-size="4.5" fill="#2a2a2a" font-weight="normal" text-anchor="end">-10<tspan font-size="3.7" dx="0.6" dy="-2.8">3</tspan></text>
<text x="389.15" y="170.8" font-size="4.5" fill="#2a2a2a" font-weight="normal" text-anchor="middle">-10<tspan font-size="3.7" dx="0.6" dy="-3.0">3</tspan></text>
<text x="406.39" y="170.8" font-size="4.5" fill="#2a2a2a" font-weight="normal" text-anchor="middle">0</text>
<text x="425.27" y="170.8" font-size="4.5" fill="#2a2a2a" font-weight="normal" text-anchor="middle">10<tspan font-size="3.7" dx="0.6" dy="-3.0">3</tspan></text>
<text x="454.36" y="170.8" font-size="4.5" fill="#2a2a2a" font-weight="normal" text-anchor="middle">10<tspan font-size="3.7" dx="0.6" dy="-3.0">4</tspan></text>
<text x="478.06" y="170.8" font-size="4.5" fill="#2a2a2a" font-weight="normal" text-anchor="middle">10<tspan font-size="3.7" dx="0.6" dy="-3.0">5</tspan></text>
<rect x="383" y="48.9" width="103.5" height="109.1" fill="none" stroke="#7c7c7c" stroke-width="1.1"/>
<line x1="406.5" y1="48.9" x2="406.5" y2="158" stroke="#444" stroke-width="1.3"/>
<line x1="383" y1="125.3" x2="486.5" y2="125.3" stroke="#444" stroke-width="1.3"/>
<path d="M404.2 112.6h0.9v0.9h-0.9zM404.9 129.5h0.9v0.9h-0.9zM406.3 123.0h0.9v0.9h-0.9zM404.3 110.7h0.9v0.9h-0.9zM407.1 117.1h0.9v0.9h-0.9zM405.2 117.2h0.9v0.9h-0.9zM405.5 109.6h0.9v0.9h-0.9zM404.9 108.9h0.9v0.9h-0.9zM404.5 120.0h0.9v0.9h-0.9zM406.5 93.7h0.9v0.9h-0.9zM406.5 121.2h0.9v0.9h-0.9zM404.1 113.3h0.9v0.9h-0.9zM404.2 93.5h0.9v0.9h-0.9zM407.8 95.6h0.9v0.9h-0.9zM406.9 113.3h0.9v0.9h-0.9zM406.2 123.4h0.9v0.9h-0.9zM406.6 116.8h0.9v0.9h-0.9zM404.7 109.6h0.9v0.9h-0.9zM405.8 121.1h0.9v0.9h-0.9zM406.2 126.5h0.9v0.9h-0.9zM406.6 118.8h0.9v0.9h-0.9zM404.3 105.1h0.9v0.9h-0.9zM407.1 121.8h0.9v0.9h-0.9zM404.4 120.4h0.9v0.9h-0.9zM404.8 129.1h0.9v0.9h-0.9zM404.5 129.3h0.9v0.9h-0.9zM407.1 98.7h0.9v0.9h-0.9zM406.6 108.2h0.9v0.9h-0.9zM405.0 106.9h0.9v0.9h-0.9zM404.5 132.6h0.9v0.9h-0.9zM403.9 130.6h0.9v0.9h-0.9zM407.0 113.9h0.9v0.9h-0.9zM407.2 110.2h0.9v0.9h-0.9zM406.5 122.3h0.9v0.9h-0.9zM404.3 114.3h0.9v0.9h-0.9zM407.1 126.6h0.9v0.9h-0.9zM405.5 117.4h0.9v0.9h-0.9zM404.5 114.4h0.9v0.9h-0.9zM405.9 132.8h0.9v0.9h-0.9zM405.8 132.1h0.9v0.9h-0.9zM404.3 130.8h0.9v0.9h-0.9zM405.8 100.4h0.9v0.9h-0.9zM404.6 111.7h0.9v0.9h-0.9zM406.2 104.2h0.9v0.9h-0.9zM404.2 104.3h0.9v0.9h-0.9zM407.0 131.5h0.9v0.9h-0.9zM407.8 102.6h0.9v0.9h-0.9zM406.3 132.2h0.9v0.9h-0.9zM404.8 125.1h0.9v0.9h-0.9zM406.7 108.2h0.9v0.9h-0.9zM407.7 124.6h0.9v0.9h-0.9zM406.9 123.4h0.9v0.9h-0.9zM406.4 121.9h0.9v0.9h-0.9zM402.7 124.1h0.9v0.9h-0.9zM404.2 123.1h0.9v0.9h-0.9zM405.4 111.3h0.9v0.9h-0.9zM405.8 118.2h0.9v0.9h-0.9zM406.2 122.8h0.9v0.9h-0.9zM406.5 130.5h0.9v0.9h-0.9zM404.6 122.6h0.9v0.9h-0.9zM404.2 105.4h0.9v0.9h-0.9zM405.5 103.0h0.9v0.9h-0.9zM406.0 132.8h0.9v0.9h-0.9zM406.8 127.0h0.9v0.9h-0.9zM407.4 111.2h0.9v0.9h-0.9zM404.2 118.0h0.9v0.9h-0.9zM403.9 130.3h0.9v0.9h-0.9zM406.1 132.6h0.9v0.9h-0.9zM406.3 94.6h0.9v0.9h-0.9zM406.7 99.6h0.9v0.9h-0.9zM407.2 114.9h0.9v0.9h-0.9zM406.4 128.2h0.9v0.9h-0.9zM406.7 119.0h0.9v0.9h-0.9zM404.3 119.3h0.9v0.9h-0.9zM406.5 100.5h0.9v0.9h-0.9zM403.1 102.3h0.9v0.9h-0.9zM406.6 114.2h0.9v0.9h-0.9zM406.5 132.5h0.9v0.9h-0.9zM406.5 124.4h0.9v0.9h-0.9zM407.6 119.7h0.9v0.9h-0.9zM406.2 113.4h0.9v0.9h-0.9zM407.0 108.6h0.9v0.9h-0.9zM405.3 120.0h0.9v0.9h-0.9zM404.4 128.4h0.9v0.9h-0.9zM406.5 109.0h0.9v0.9h-0.9zM404.4 123.9h0.9v0.9h-0.9zM404.4 98.5h0.9v0.9h-0.9zM406.6 99.2h0.9v0.9h-0.9zM404.3 130.8h0.9v0.9h-0.9zM405.9 118.8h0.9v0.9h-0.9zM405.8 98.0h0.9v0.9h-0.9zM404.9 123.5h0.9v0.9h-0.9zM406.4 108.2h0.9v0.9h-0.9zM405.6 120.7h0.9v0.9h-0.9zM406.6 120.4h0.9v0.9h-0.9zM405.2 125.4h0.9v0.9h-0.9zM405.8 114.6h0.9v0.9h-0.9zM406.8 125.8h0.9v0.9h-0.9zM405.3 128.9h0.9v0.9h-0.9zM404.8 131.2h0.9v0.9h-0.9zM404.6 131.0h0.9v0.9h-0.9zM405.6 114.7h0.9v0.9h-0.9zM404.3 107.6h0.9v0.9h-0.9z" fill="#2a3aa6"/>
<path d="M410.8 132.9h0.8v0.8h-0.8zM414.6 133.4h0.8v0.8h-0.8zM410.1 131.1h0.8v0.8h-0.8zM410.7 132.1h0.8v0.8h-0.8zM411.0 132.6h0.8v0.8h-0.8zM412.3 133.9h0.8v0.8h-0.8zM409.8 131.3h0.8v0.8h-0.8zM412.2 134.5h0.8v0.8h-0.8zM409.9 131.8h0.8v0.8h-0.8zM410.0 133.5h0.8v0.8h-0.8zM411.7 133.6h0.8v0.8h-0.8zM409.4 134.3h0.8v0.8h-0.8zM412.2 133.8h0.8v0.8h-0.8zM413.2 131.9h0.8v0.8h-0.8zM409.4 132.2h0.8v0.8h-0.8zM410.3 134.6h0.8v0.8h-0.8zM410.1 133.3h0.8v0.8h-0.8zM411.2 132.8h0.8v0.8h-0.8zM410.1 132.2h0.8v0.8h-0.8zM411.6 134.2h0.8v0.8h-0.8z" fill="#4a64cc"/>
<path d="M406.8 130.6h0.9v0.9h-0.9zM407.3 124.2h0.9v0.9h-0.9zM406.9 130.4h0.9v0.9h-0.9zM407.1 124.9h0.9v0.9h-0.9zM406.5 120.3h0.9v0.9h-0.9zM405.2 108.6h0.9v0.9h-0.9zM404.9 116.9h0.9v0.9h-0.9zM406.4 126.9h0.9v0.9h-0.9zM406.0 94.3h0.9v0.9h-0.9zM406.1 111.2h0.9v0.9h-0.9zM404.5 130.6h0.9v0.9h-0.9zM405.5 102.9h0.9v0.9h-0.9zM405.2 125.1h0.9v0.9h-0.9zM405.4 111.8h0.9v0.9h-0.9zM404.9 108.0h0.9v0.9h-0.9zM404.6 107.9h0.9v0.9h-0.9zM405.9 94.3h0.9v0.9h-0.9zM408.0 132.0h0.9v0.9h-0.9zM405.9 131.5h0.9v0.9h-0.9zM406.5 121.0h0.9v0.9h-0.9zM405.4 96.8h0.9v0.9h-0.9zM404.5 132.5h0.9v0.9h-0.9zM407.1 129.1h0.9v0.9h-0.9zM404.8 131.4h0.9v0.9h-0.9zM404.5 129.8h0.9v0.9h-0.9zM406.1 123.2h0.9v0.9h-0.9zM406.2 130.0h0.9v0.9h-0.9zM407.3 113.5h0.9v0.9h-0.9zM406.2 128.7h0.9v0.9h-0.9zM403.7 102.4h0.9v0.9h-0.9zM404.8 113.4h0.9v0.9h-0.9zM405.5 132.7h0.9v0.9h-0.9zM404.1 97.1h0.9v0.9h-0.9zM405.1 114.3h0.9v0.9h-0.9zM404.7 95.6h0.9v0.9h-0.9zM405.5 127.6h0.9v0.9h-0.9zM406.9 131.9h0.9v0.9h-0.9zM405.0 128.1h0.9v0.9h-0.9zM406.1 117.6h0.9v0.9h-0.9zM405.3 113.1h0.9v0.9h-0.9zM404.9 126.6h0.9v0.9h-0.9zM404.3 115.8h0.9v0.9h-0.9zM404.0 129.7h0.9v0.9h-0.9zM406.5 116.3h0.9v0.9h-0.9zM404.7 121.8h0.9v0.9h-0.9zM404.9 100.3h0.9v0.9h-0.9zM405.7 132.2h0.9v0.9h-0.9zM404.8 121.8h0.9v0.9h-0.9zM404.6 94.6h0.9v0.9h-0.9zM407.3 103.0h0.9v0.9h-0.9zM406.6 108.0h0.9v0.9h-0.9zM406.7 126.2h0.9v0.9h-0.9zM405.7 124.8h0.9v0.9h-0.9zM404.8 130.2h0.9v0.9h-0.9zM405.8 103.9h0.9v0.9h-0.9zM406.7 123.7h0.9v0.9h-0.9zM406.3 107.2h0.9v0.9h-0.9zM407.6 108.9h0.9v0.9h-0.9zM406.5 117.4h0.9v0.9h-0.9zM404.3 125.4h0.9v0.9h-0.9zM404.3 116.6h0.9v0.9h-0.9zM408.4 127.7h0.9v0.9h-0.9zM406.7 107.8h0.9v0.9h-0.9zM405.2 101.1h0.9v0.9h-0.9zM406.1 126.4h0.9v0.9h-0.9zM406.8 132.6h0.9v0.9h-0.9zM405.3 93.9h0.9v0.9h-0.9zM404.4 124.7h0.9v0.9h-0.9zM404.8 100.2h0.9v0.9h-0.9zM406.6 130.5h0.9v0.9h-0.9zM406.8 117.2h0.9v0.9h-0.9zM407.7 107.3h0.9v0.9h-0.9zM404.4 124.1h0.9v0.9h-0.9zM405.6 117.1h0.9v0.9h-0.9zM406.9 125.8h0.9v0.9h-0.9zM407.2 119.7h0.9v0.9h-0.9zM404.6 103.2h0.9v0.9h-0.9zM405.7 126.7h0.9v0.9h-0.9zM406.5 113.2h0.9v0.9h-0.9zM404.9 113.8h0.9v0.9h-0.9zM404.4 97.6h0.9v0.9h-0.9zM406.0 115.6h0.9v0.9h-0.9zM408.0 106.4h0.9v0.9h-0.9zM406.6 125.2h0.9v0.9h-0.9zM404.7 121.0h0.9v0.9h-0.9zM404.7 115.6h0.9v0.9h-0.9zM404.3 103.3h0.9v0.9h-0.9zM405.8 109.7h0.9v0.9h-0.9zM404.6 105.9h0.9v0.9h-0.9zM406.3 99.5h0.9v0.9h-0.9z" fill="#4a64cc"/>
<path d="M408.0 130.3h1v1h-1zM408.9 136.4h1v1h-1zM410.6 134.7h1v1h-1zM408.5 130.6h1v1h-1zM405.2 138.9h1v1h-1zM409.2 130.2h1v1h-1zM405.5 135.8h1v1h-1zM410.6 132.2h1v1h-1zM405.2 131.4h1v1h-1zM404.5 132.9h1v1h-1zM405.8 129.9h1v1h-1zM406.5 130.2h1v1h-1zM411.2 136.7h1v1h-1zM404.3 133.4h1v1h-1zM411.2 133.8h1v1h-1zM409.3 130.1h1v1h-1zM406.4 136.2h1v1h-1zM402.5 131.7h1v1h-1z" fill="#4a64cc"/>
<path d="M405.9 131.8h0.9v0.9h-0.9zM406.1 130.4h0.9v0.9h-0.9zM406.2 122.8h0.9v0.9h-0.9zM405.3 121.6h0.9v0.9h-0.9zM405.8 124.6h0.9v0.9h-0.9zM405.1 132.4h0.9v0.9h-0.9zM405.5 119.6h0.9v0.9h-0.9zM405.8 113.6h0.9v0.9h-0.9zM405.7 123.3h0.9v0.9h-0.9zM405.8 106.3h0.9v0.9h-0.9zM405.3 112.0h0.9v0.9h-0.9zM405.6 97.6h0.9v0.9h-0.9zM406.2 125.0h0.9v0.9h-0.9zM406.0 130.4h0.9v0.9h-0.9zM406.1 115.0h0.9v0.9h-0.9zM406.2 132.8h0.9v0.9h-0.9zM405.0 123.1h0.9v0.9h-0.9zM405.3 120.3h0.9v0.9h-0.9zM405.6 124.7h0.9v0.9h-0.9zM405.6 107.1h0.9v0.9h-0.9zM406.0 95.0h0.9v0.9h-0.9zM406.2 127.1h0.9v0.9h-0.9zM405.0 104.3h0.9v0.9h-0.9zM405.3 111.8h0.9v0.9h-0.9zM406.1 110.2h0.9v0.9h-0.9zM405.5 117.3h0.9v0.9h-0.9zM406.1 98.3h0.9v0.9h-0.9zM406.3 121.8h0.9v0.9h-0.9zM406.0 104.9h0.9v0.9h-0.9zM405.0 110.0h0.9v0.9h-0.9zM405.4 130.2h0.9v0.9h-0.9zM405.8 99.0h0.9v0.9h-0.9z" fill="#30b8e0"/>
<path d="M405.5 131.7h1v1h-1zM406.7 134.7h1v1h-1zM405.6 132.1h1v1h-1zM406.3 131.1h1v1h-1zM409.1 131.3h1v1h-1zM406.4 134.8h1v1h-1zM405.5 133.8h1v1h-1zM406.8 135.0h1v1h-1zM405.3 133.5h1v1h-1zM409.2 131.5h1v1h-1zM408.4 134.5h1v1h-1zM405.5 131.7h1v1h-1z" fill="#30b8e0"/>
<path d="M406.1 128.0h0.9v0.9h-0.9zM405.8 129.5h0.9v0.9h-0.9zM406.2 113.9h0.9v0.9h-0.9zM405.6 102.9h0.9v0.9h-0.9zM405.3 129.0h0.9v0.9h-0.9zM405.1 125.6h0.9v0.9h-0.9zM405.2 128.6h0.9v0.9h-0.9zM405.7 121.3h0.9v0.9h-0.9zM405.6 110.7h0.9v0.9h-0.9zM405.8 120.0h0.9v0.9h-0.9zM405.5 108.2h0.9v0.9h-0.9zM406.0 120.8h0.9v0.9h-0.9zM406.3 105.7h0.9v0.9h-0.9zM406.3 126.1h0.9v0.9h-0.9zM405.9 97.7h0.9v0.9h-0.9zM405.0 126.3h0.9v0.9h-0.9zM405.9 131.1h0.9v0.9h-0.9zM406.3 109.3h0.9v0.9h-0.9zM405.5 120.4h0.9v0.9h-0.9zM405.9 112.2h0.9v0.9h-0.9zM405.6 131.3h0.9v0.9h-0.9zM406.3 102.3h0.9v0.9h-0.9zM406.2 102.1h0.9v0.9h-0.9zM406.3 117.0h0.9v0.9h-0.9zM405.2 132.1h0.9v0.9h-0.9zM406.3 110.5h0.9v0.9h-0.9zM405.0 127.5h0.9v0.9h-0.9zM406.0 110.7h0.9v0.9h-0.9zM405.0 131.2h0.9v0.9h-0.9zM405.6 112.7h0.9v0.9h-0.9zM405.2 126.4h0.9v0.9h-0.9zM406.0 131.3h0.9v0.9h-0.9zM405.4 116.4h0.9v0.9h-0.9zM405.5 109.2h0.9v0.9h-0.9zM405.2 105.1h0.9v0.9h-0.9z" fill="#40c070"/>
<path d="M406.3 134.4h1v1h-1zM409.0 131.8h1v1h-1zM408.8 131.6h1v1h-1zM407.8 131.1h1v1h-1zM406.9 134.4h1v1h-1zM409.0 132.8h1v1h-1zM407.5 130.9h1v1h-1zM408.9 132.9h1v1h-1zM406.3 134.2h1v1h-1zM406.2 133.9h1v1h-1zM408.8 131.8h1v1h-1zM408.0 131.3h1v1h-1zM408.5 133.7h1v1h-1zM408.5 131.8h1v1h-1zM406.1 133.5h1v1h-1zM406.1 131.8h1v1h-1zM408.7 134.1h1v1h-1zM406.2 133.7h1v1h-1zM408.5 134.1h1v1h-1zM408.0 134.3h1v1h-1zM408.3 131.5h1v1h-1z" fill="#40c070"/>
<path d="M408.0 131.9h1v1h-1zM407.6 131.5h1v1h-1zM407.5 134.0h1v1h-1zM408.6 132.7h1v1h-1zM407.7 133.8h1v1h-1z" fill="#b8e040"/>
<path d="M407.5 133.5h1v1h-1zM407.3 133.7h1v1h-1zM408.1 132.4h1v1h-1zM407.3 132.2h1v1h-1zM407.2 132.0h1v1h-1zM406.7 132.7h1v1h-1zM408.3 132.8h1v1h-1zM407.5 133.5h1v1h-1zM406.9 132.5h1v1h-1z" fill="#f0e030"/>
<path d="M407.5 133.0h1v1h-1zM407.1 133.2h1v1h-1zM407.1 132.8h1v1h-1zM407.8 132.8h1v1h-1zM407.9 132.9h1v1h-1z" fill="#f08020"/>
<path d="M408.2 102.2h0.7v0.7h-0.7zM407.8 105.4h0.7v0.7h-0.7zM410.4 114.6h0.7v0.7h-0.7zM412.4 131.7h0.7v0.7h-0.7zM408.5 122.3h0.7v0.7h-0.7zM413.1 130.7h0.7v0.7h-0.7zM413.8 107.0h0.7v0.7h-0.7zM410.9 130.7h0.7v0.7h-0.7zM409.5 122.2h0.7v0.7h-0.7zM407.8 112.6h0.7v0.7h-0.7zM407.7 116.1h0.7v0.7h-0.7zM408.7 108.0h0.7v0.7h-0.7zM409.5 126.3h0.7v0.7h-0.7zM410.3 131.8h0.7v0.7h-0.7zM407.9 125.4h0.7v0.7h-0.7zM412.1 100.0h0.7v0.7h-0.7zM409.8 126.7h0.7v0.7h-0.7zM413.2 107.2h0.7v0.7h-0.7zM411.1 118.9h0.7v0.7h-0.7zM410.1 102.0h0.7v0.7h-0.7zM407.8 118.5h0.7v0.7h-0.7zM410.5 114.3h0.7v0.7h-0.7zM413.5 123.5h0.7v0.7h-0.7zM409.0 109.9h0.7v0.7h-0.7zM409.5 131.5h0.7v0.7h-0.7zM411.3 108.4h0.7v0.7h-0.7zM407.7 114.6h0.7v0.7h-0.7zM408.6 130.8h0.7v0.7h-0.7zM407.8 116.5h0.7v0.7h-0.7zM410.9 129.2h0.7v0.7h-0.7zM416.3 119.4h0.7v0.7h-0.7zM412.7 103.8h0.7v0.7h-0.7zM408.4 118.9h0.7v0.7h-0.7zM412.6 132.6h0.7v0.7h-0.7zM413.0 105.8h0.7v0.7h-0.7zM411.9 130.3h0.7v0.7h-0.7zM419.7 131.2h0.7v0.7h-0.7zM409.6 118.6h0.7v0.7h-0.7zM410.9 103.7h0.7v0.7h-0.7zM414.4 110.4h0.7v0.7h-0.7z" fill="#8088c8"/>
<path d="M433.0 128.6h0.7v0.7h-0.7zM412.0 118.4h0.7v0.7h-0.7zM411.1 121.2h0.7v0.7h-0.7zM417.4 132.3h0.7v0.7h-0.7zM420.2 132.7h0.7v0.7h-0.7zM416.6 106.7h0.7v0.7h-0.7zM421.6 126.4h0.7v0.7h-0.7zM434.5 101.2h0.7v0.7h-0.7zM409.2 126.9h0.7v0.7h-0.7zM427.4 129.6h0.7v0.7h-0.7zM422.7 121.7h0.7v0.7h-0.7zM411.2 113.7h0.7v0.7h-0.7z" fill="#b8bce0"/>
<text x="384.7" y="58" font-size="4.7" fill="#333" font-weight="normal" text-anchor="start" stroke="#333" stroke-width="0.06">Q1</text>
<text x="384.7" y="66.1" font-size="4.7" fill="#333" font-weight="normal" text-anchor="start" stroke="#333" stroke-width="0.06">39.5</text>
<text x="477.4" y="58" font-size="4.7" fill="#333" font-weight="normal" text-anchor="end" stroke="#333" stroke-width="0.06">Q2</text>
<text x="477.4" y="66.1" font-size="4.7" fill="#333" font-weight="normal" text-anchor="end" stroke="#333" stroke-width="0.06">24.0</text>
<text x="477.4" y="144.9" font-size="4.7" fill="#333" font-weight="normal" text-anchor="end" stroke="#333" stroke-width="0.06">Q3</text>
<text x="477.4" y="151.9" font-size="4.7" fill="#333" font-weight="normal" text-anchor="end" stroke="#333" stroke-width="0.06">28.3</text>
<text x="384.7" y="144.9" font-size="4.7" fill="#333" font-weight="normal" text-anchor="start" stroke="#333" stroke-width="0.06">Q4</text>
<text x="384.7" y="151.9" font-size="4.7" fill="#333" font-weight="normal" text-anchor="start" stroke="#333" stroke-width="0.06">8.21</text>
<text x="387.2" y="80.1" font-size="6.3" fill="#f52a2a" font-weight="normal" text-anchor="start" stroke="#f52a2a" stroke-width="0.28">CD4+</text>
<text x="387.2" y="87.1" font-size="6.3" fill="#f52a2a" font-weight="normal" text-anchor="start" stroke="#f52a2a" stroke-width="0.28">Tem</text>
<text x="443.5" y="80.1" font-size="6.3" fill="#f52a2a" font-weight="normal" text-anchor="start" stroke="#f52a2a" stroke-width="0.28">CD4+</text>
<text x="443.5" y="87.1" font-size="6.3" fill="#f52a2a" font-weight="normal" text-anchor="start" stroke="#f52a2a" stroke-width="0.28">Tcm</text>
<text x="387.2" y="137.7" font-size="6.3" fill="#f52a2a" font-weight="normal" text-anchor="start" stroke="#f52a2a" stroke-width="0.28">CD4+</text>
<text x="387.2" y="144.7" font-size="6.3" fill="#f52a2a" font-weight="normal" text-anchor="start" stroke="#f52a2a" stroke-width="0.28">Teff</text>
<text x="443" y="136.6" font-size="6.3" fill="#f52a2a" font-weight="normal" text-anchor="start" stroke="#f52a2a" stroke-width="0.28">CD4+</text>
<text x="443" y="143.6" font-size="6.3" fill="#f52a2a" font-weight="normal" text-anchor="start" stroke="#f52a2a" stroke-width="0.28">Tnaiv</text>
<text x="513.9" y="105.55" font-size="5.15" fill="#333" text-anchor="middle" transform="rotate(-90 513.9 105.55)">Comp-PE-Cy7-A :: CD45RO</text>
<path d="M525.5,60.96H528.5M525.5,86.06H528.5M525.5,116.89H528.5M525.5,136.05H528.5M525.5,155.32H528.5M532.89,160.6V163.6M551.57,160.6V163.6M568.52,160.6V163.6M597.21,160.6V163.6M620.59,160.6V163.6" stroke="#222" stroke-width="1" fill="none"/>
<path d="M526.8,78.51H528.5M526.8,74.09H528.5M526.8,70.95H528.5M526.8,68.52H528.5M526.8,66.53H528.5M526.8,64.85H528.5M526.8,63.39H528.5M526.8,62.11H528.5M526.8,107.61H528.5M526.8,102.18H528.5M526.8,98.33H528.5M526.8,95.34H528.5M526.8,92.9H528.5M526.8,90.84H528.5M526.8,89.05H528.5M526.8,87.47H528.5M526.8,122.64H528.5M526.8,126.47H528.5M526.8,129.34H528.5M526.8,132.22H528.5M526.8,142.79H528.5M526.8,147.61H528.5M526.8,151.46H528.5M604.25,160.6V162.3M608.37,160.6V162.3M611.29,160.6V162.3M613.56,160.6V162.3M615.41,160.6V162.3M616.97,160.6V162.3M618.33,160.6V162.3M619.52,160.6V162.3M577.16,160.6V162.3M582.21,160.6V162.3M585.8,160.6V162.3M588.58,160.6V162.3M590.85,160.6V162.3M592.77,160.6V162.3M594.43,160.6V162.3M595.9,160.6V162.3M555.81,160.6V162.3M559.2,160.6V162.3M561.74,160.6V162.3M564.29,160.6V162.3M566.49,160.6V162.3M536.63,160.6V162.3M541.3,160.6V162.3M545.04,160.6V162.3M547.84,160.6V162.3" stroke="#444" stroke-width="0.65" fill="none"/>
<rect x="526.1" y="133.65" width="2.4" height="4.8" fill="#111"/>
<rect x="548.97" y="160.6" width="4.8" height="2.3" fill="#111"/>
<text x="523.8" y="63.06" font-size="4.5" fill="#2a2a2a" font-weight="normal" text-anchor="end">10<tspan font-size="3.7" dx="0.6" dy="-2.8">5</tspan></text>
<text x="523.8" y="88.16" font-size="4.5" fill="#2a2a2a" font-weight="normal" text-anchor="end">10<tspan font-size="3.7" dx="0.6" dy="-2.8">4</tspan></text>
<text x="523.8" y="118.99" font-size="4.5" fill="#2a2a2a" font-weight="normal" text-anchor="end">10<tspan font-size="3.7" dx="0.6" dy="-2.8">3</tspan></text>
<text x="521.7" y="138.45" font-size="4.5" fill="#2a2a2a" font-weight="normal" text-anchor="end">0</text>
<text x="523.8" y="157.42" font-size="4.5" fill="#2a2a2a" font-weight="normal" text-anchor="end">-10<tspan font-size="3.7" dx="0.6" dy="-2.8">3</tspan></text>
<text x="534.59" y="173.4" font-size="4.5" fill="#2a2a2a" font-weight="normal" text-anchor="middle">-10<tspan font-size="3.7" dx="0.6" dy="-3.0">3</tspan></text>
<text x="551.57" y="173.4" font-size="4.5" fill="#2a2a2a" font-weight="normal" text-anchor="middle">0</text>
<text x="570.22" y="173.4" font-size="4.5" fill="#2a2a2a" font-weight="normal" text-anchor="middle">10<tspan font-size="3.7" dx="0.6" dy="-3.0">3</tspan></text>
<text x="598.91" y="173.4" font-size="4.5" fill="#2a2a2a" font-weight="normal" text-anchor="middle">10<tspan font-size="3.7" dx="0.6" dy="-3.0">4</tspan></text>
<text x="622.29" y="173.4" font-size="4.5" fill="#2a2a2a" font-weight="normal" text-anchor="middle">10<tspan font-size="3.7" dx="0.6" dy="-3.0">5</tspan></text>
<rect x="528.5" y="50.5" width="102.1" height="110.1" fill="none" stroke="#7c7c7c" stroke-width="1.1"/>
<line x1="552.4" y1="50.5" x2="552.4" y2="160.6" stroke="#444" stroke-width="1.3"/>
<line x1="528.5" y1="129.2" x2="630.6" y2="129.2" stroke="#444" stroke-width="1.3"/>
<path d="M551.6 133.3h0.9v0.9h-0.9zM552.6 134.3h0.9v0.9h-0.9zM550.1 95.7h0.9v0.9h-0.9zM550.3 136.2h0.9v0.9h-0.9zM553.5 130.3h0.9v0.9h-0.9zM552.4 95.3h0.9v0.9h-0.9zM552.0 131.2h0.9v0.9h-0.9zM550.3 123.1h0.9v0.9h-0.9zM552.3 116.4h0.9v0.9h-0.9zM551.7 124.0h0.9v0.9h-0.9zM552.4 117.1h0.9v0.9h-0.9zM551.1 132.6h0.9v0.9h-0.9zM552.7 106.8h0.9v0.9h-0.9zM550.2 112.5h0.9v0.9h-0.9zM551.6 123.0h0.9v0.9h-0.9zM552.6 121.4h0.9v0.9h-0.9zM551.0 105.1h0.9v0.9h-0.9zM550.9 126.2h0.9v0.9h-0.9zM551.6 127.1h0.9v0.9h-0.9zM553.0 133.3h0.9v0.9h-0.9zM552.7 130.2h0.9v0.9h-0.9zM551.1 109.1h0.9v0.9h-0.9zM551.1 95.6h0.9v0.9h-0.9zM552.1 136.0h0.9v0.9h-0.9zM552.8 115.1h0.9v0.9h-0.9zM551.8 101.1h0.9v0.9h-0.9zM553.9 135.2h0.9v0.9h-0.9zM551.9 128.5h0.9v0.9h-0.9zM551.3 133.2h0.9v0.9h-0.9zM552.5 133.5h0.9v0.9h-0.9zM550.8 93.6h0.9v0.9h-0.9zM549.6 133.2h0.9v0.9h-0.9zM550.6 135.4h0.9v0.9h-0.9zM550.0 112.7h0.9v0.9h-0.9zM551.3 119.4h0.9v0.9h-0.9zM552.4 134.5h0.9v0.9h-0.9zM552.6 115.8h0.9v0.9h-0.9zM551.4 131.8h0.9v0.9h-0.9zM551.0 133.4h0.9v0.9h-0.9zM552.7 111.5h0.9v0.9h-0.9zM552.6 96.7h0.9v0.9h-0.9zM550.8 126.3h0.9v0.9h-0.9zM550.3 93.5h0.9v0.9h-0.9zM551.1 133.6h0.9v0.9h-0.9zM551.1 110.2h0.9v0.9h-0.9zM554.6 133.0h0.9v0.9h-0.9zM551.7 133.1h0.9v0.9h-0.9zM551.1 125.5h0.9v0.9h-0.9zM551.8 97.3h0.9v0.9h-0.9zM553.8 107.4h0.9v0.9h-0.9zM552.4 95.8h0.9v0.9h-0.9zM552.8 114.4h0.9v0.9h-0.9zM551.7 98.2h0.9v0.9h-0.9zM551.5 120.5h0.9v0.9h-0.9zM553.5 131.9h0.9v0.9h-0.9zM550.4 136.5h0.9v0.9h-0.9zM550.5 135.6h0.9v0.9h-0.9zM550.7 130.4h0.9v0.9h-0.9zM551.5 101.2h0.9v0.9h-0.9zM551.0 121.0h0.9v0.9h-0.9zM551.1 112.4h0.9v0.9h-0.9zM552.6 123.7h0.9v0.9h-0.9zM550.5 133.5h0.9v0.9h-0.9zM550.7 96.6h0.9v0.9h-0.9zM549.9 124.3h0.9v0.9h-0.9zM551.4 125.9h0.9v0.9h-0.9zM550.6 111.5h0.9v0.9h-0.9zM550.3 101.8h0.9v0.9h-0.9zM552.7 95.2h0.9v0.9h-0.9zM550.0 127.2h0.9v0.9h-0.9zM551.1 118.4h0.9v0.9h-0.9zM552.1 104.5h0.9v0.9h-0.9zM551.7 136.0h0.9v0.9h-0.9zM552.7 133.2h0.9v0.9h-0.9zM553.0 123.7h0.9v0.9h-0.9zM551.9 105.3h0.9v0.9h-0.9zM550.9 98.0h0.9v0.9h-0.9zM550.3 136.1h0.9v0.9h-0.9zM550.9 130.1h0.9v0.9h-0.9zM550.3 114.7h0.9v0.9h-0.9zM551.3 134.6h0.9v0.9h-0.9zM553.1 116.8h0.9v0.9h-0.9zM551.9 126.3h0.9v0.9h-0.9zM551.2 98.0h0.9v0.9h-0.9zM549.8 113.7h0.9v0.9h-0.9zM549.8 123.6h0.9v0.9h-0.9zM552.8 102.5h0.9v0.9h-0.9zM552.3 119.8h0.9v0.9h-0.9zM549.1 127.9h0.9v0.9h-0.9zM552.6 136.6h0.9v0.9h-0.9zM550.6 107.8h0.9v0.9h-0.9zM550.0 127.4h0.9v0.9h-0.9zM551.3 99.8h0.9v0.9h-0.9zM550.7 120.4h0.9v0.9h-0.9zM553.7 135.7h0.9v0.9h-0.9zM552.3 112.0h0.9v0.9h-0.9z" fill="#2a3aa6"/>
<path d="M558.6 133.1h0.8v0.8h-0.8zM559.1 135.2h0.8v0.8h-0.8zM559.7 135.5h0.8v0.8h-0.8zM558.1 135.7h0.8v0.8h-0.8zM557.9 133.7h0.8v0.8h-0.8zM557.4 135.6h0.8v0.8h-0.8zM559.8 137.3h0.8v0.8h-0.8zM555.5 134.9h0.8v0.8h-0.8zM559.7 134.7h0.8v0.8h-0.8zM555.5 137.4h0.8v0.8h-0.8zM556.9 134.8h0.8v0.8h-0.8zM558.1 135.4h0.8v0.8h-0.8zM555.3 134.5h0.8v0.8h-0.8zM557.2 135.9h0.8v0.8h-0.8zM556.8 135.2h0.8v0.8h-0.8zM555.4 136.2h0.8v0.8h-0.8zM557.7 134.6h0.8v0.8h-0.8zM558.1 135.1h0.8v0.8h-0.8zM557.1 139.5h0.8v0.8h-0.8zM557.0 134.2h0.8v0.8h-0.8z" fill="#4a64cc"/>
<path d="M552.2 134.0h0.9v0.9h-0.9zM551.7 101.2h0.9v0.9h-0.9zM551.7 136.6h0.9v0.9h-0.9zM552.5 136.7h0.9v0.9h-0.9zM551.7 136.6h0.9v0.9h-0.9zM550.8 119.5h0.9v0.9h-0.9zM550.3 135.7h0.9v0.9h-0.9zM549.9 135.8h0.9v0.9h-0.9zM552.3 108.0h0.9v0.9h-0.9zM550.6 98.2h0.9v0.9h-0.9zM550.8 118.4h0.9v0.9h-0.9zM550.9 130.8h0.9v0.9h-0.9zM552.2 113.4h0.9v0.9h-0.9zM552.2 111.7h0.9v0.9h-0.9zM553.6 94.9h0.9v0.9h-0.9zM552.7 124.8h0.9v0.9h-0.9zM550.7 129.9h0.9v0.9h-0.9zM552.1 100.1h0.9v0.9h-0.9zM550.6 130.1h0.9v0.9h-0.9zM550.1 94.3h0.9v0.9h-0.9zM550.7 106.5h0.9v0.9h-0.9zM550.9 136.0h0.9v0.9h-0.9zM552.7 107.3h0.9v0.9h-0.9zM552.2 129.4h0.9v0.9h-0.9zM551.5 110.5h0.9v0.9h-0.9zM550.0 122.0h0.9v0.9h-0.9zM552.3 109.1h0.9v0.9h-0.9zM551.0 97.3h0.9v0.9h-0.9zM552.0 124.0h0.9v0.9h-0.9zM550.4 128.2h0.9v0.9h-0.9zM552.9 135.4h0.9v0.9h-0.9zM551.6 134.6h0.9v0.9h-0.9zM550.4 136.7h0.9v0.9h-0.9zM552.2 108.8h0.9v0.9h-0.9zM552.4 112.0h0.9v0.9h-0.9zM552.5 114.5h0.9v0.9h-0.9zM552.6 134.2h0.9v0.9h-0.9zM552.7 118.6h0.9v0.9h-0.9zM552.6 129.0h0.9v0.9h-0.9zM553.6 109.6h0.9v0.9h-0.9zM553.2 96.1h0.9v0.9h-0.9zM550.4 113.6h0.9v0.9h-0.9zM552.9 108.7h0.9v0.9h-0.9zM551.6 129.4h0.9v0.9h-0.9zM552.8 116.3h0.9v0.9h-0.9zM551.0 133.6h0.9v0.9h-0.9zM552.5 96.2h0.9v0.9h-0.9zM552.5 106.4h0.9v0.9h-0.9zM553.7 94.3h0.9v0.9h-0.9zM550.5 105.6h0.9v0.9h-0.9zM550.7 92.7h0.9v0.9h-0.9zM551.5 134.8h0.9v0.9h-0.9zM551.4 136.1h0.9v0.9h-0.9zM550.3 128.6h0.9v0.9h-0.9zM551.5 125.3h0.9v0.9h-0.9zM552.5 122.3h0.9v0.9h-0.9zM552.3 130.8h0.9v0.9h-0.9zM551.0 123.8h0.9v0.9h-0.9zM552.1 93.5h0.9v0.9h-0.9zM552.6 109.1h0.9v0.9h-0.9zM550.6 116.8h0.9v0.9h-0.9zM549.9 114.1h0.9v0.9h-0.9zM550.2 131.5h0.9v0.9h-0.9zM553.4 92.4h0.9v0.9h-0.9zM552.0 133.5h0.9v0.9h-0.9zM551.4 116.1h0.9v0.9h-0.9zM550.0 109.7h0.9v0.9h-0.9zM550.6 110.2h0.9v0.9h-0.9zM550.1 105.7h0.9v0.9h-0.9zM550.3 121.2h0.9v0.9h-0.9zM551.6 100.5h0.9v0.9h-0.9zM550.4 136.5h0.9v0.9h-0.9zM551.6 109.0h0.9v0.9h-0.9zM553.0 132.8h0.9v0.9h-0.9zM552.1 105.3h0.9v0.9h-0.9zM553.4 126.8h0.9v0.9h-0.9zM550.8 97.6h0.9v0.9h-0.9zM552.8 114.5h0.9v0.9h-0.9zM549.9 136.2h0.9v0.9h-0.9zM551.7 99.4h0.9v0.9h-0.9zM553.2 134.7h0.9v0.9h-0.9zM551.0 125.5h0.9v0.9h-0.9zM553.7 124.7h0.9v0.9h-0.9zM550.8 117.0h0.9v0.9h-0.9zM551.7 97.9h0.9v0.9h-0.9zM551.5 134.3h0.9v0.9h-0.9z" fill="#4a64cc"/>
<path d="M555.6 133.2h1v1h-1zM552.6 139.3h1v1h-1zM552.2 131.0h1v1h-1zM551.1 134.0h1v1h-1zM554.9 137.7h1v1h-1zM555.9 132.4h1v1h-1zM551.3 138.1h1v1h-1zM550.3 136.0h1v1h-1zM551.5 136.2h1v1h-1zM552.0 137.1h1v1h-1zM554.0 131.5h1v1h-1zM551.1 135.9h1v1h-1zM551.6 133.6h1v1h-1zM554.9 132.2h1v1h-1zM550.2 134.7h1v1h-1zM549.6 136.0h1v1h-1zM551.2 136.3h1v1h-1zM555.5 133.5h1v1h-1zM557.3 135.0h1v1h-1zM551.1 138.1h1v1h-1zM551.2 136.0h1v1h-1zM555.1 131.2h1v1h-1zM556.7 136.8h1v1h-1zM556.3 135.2h1v1h-1zM554.5 132.1h1v1h-1zM551.2 135.8h1v1h-1z" fill="#4a64cc"/>
<path d="M552.0 135.2h0.9v0.9h-0.9zM551.6 117.2h0.9v0.9h-0.9zM551.2 128.2h0.9v0.9h-0.9zM551.2 132.0h0.9v0.9h-0.9zM552.2 129.7h0.9v0.9h-0.9zM551.8 135.2h0.9v0.9h-0.9zM551.7 102.4h0.9v0.9h-0.9zM552.0 135.8h0.9v0.9h-0.9zM551.9 133.7h0.9v0.9h-0.9zM552.1 131.5h0.9v0.9h-0.9zM551.7 113.2h0.9v0.9h-0.9zM551.9 133.3h0.9v0.9h-0.9zM551.2 136.4h0.9v0.9h-0.9zM552.1 119.7h0.9v0.9h-0.9zM551.5 112.4h0.9v0.9h-0.9zM552.2 102.0h0.9v0.9h-0.9zM551.4 132.8h0.9v0.9h-0.9zM552.1 125.6h0.9v0.9h-0.9zM551.0 134.1h0.9v0.9h-0.9zM551.3 126.2h0.9v0.9h-0.9zM550.9 133.0h0.9v0.9h-0.9zM551.7 107.4h0.9v0.9h-0.9zM551.5 96.6h0.9v0.9h-0.9zM551.1 134.3h0.9v0.9h-0.9z" fill="#30b8e0"/>
<path d="M552.7 133.3h1v1h-1zM555.9 134.9h1v1h-1zM552.5 133.2h1v1h-1zM551.7 135.0h1v1h-1zM551.8 136.2h1v1h-1zM551.7 135.9h1v1h-1zM551.9 134.3h1v1h-1zM551.9 134.5h1v1h-1zM551.8 135.5h1v1h-1zM555.7 135.7h1v1h-1z" fill="#30b8e0"/>
<path d="M552.1 110.9h0.9v0.9h-0.9zM551.6 120.9h0.9v0.9h-0.9zM551.4 118.6h0.9v0.9h-0.9zM552.2 115.6h0.9v0.9h-0.9zM551.5 133.0h0.9v0.9h-0.9zM551.3 133.0h0.9v0.9h-0.9zM551.1 105.5h0.9v0.9h-0.9zM552.1 93.9h0.9v0.9h-0.9zM551.5 122.0h0.9v0.9h-0.9zM551.2 135.9h0.9v0.9h-0.9zM551.8 135.8h0.9v0.9h-0.9zM552.0 136.2h0.9v0.9h-0.9zM551.2 130.3h0.9v0.9h-0.9zM551.4 119.9h0.9v0.9h-0.9z" fill="#40c070"/>
<path d="M552.2 134.6h1v1h-1zM554.6 133.9h1v1h-1zM554.5 136.3h1v1h-1zM555.1 134.5h1v1h-1zM554.4 133.4h1v1h-1zM553.0 136.6h1v1h-1zM554.5 134.1h1v1h-1zM553.8 133.7h1v1h-1zM552.2 135.6h1v1h-1zM555.0 134.1h1v1h-1zM553.8 136.8h1v1h-1zM555.1 135.5h1v1h-1zM555.4 135.6h1v1h-1zM554.5 133.9h1v1h-1zM552.3 136.4h1v1h-1zM554.6 134.0h1v1h-1z" fill="#40c070"/>
<path d="M554.8 134.8h1v1h-1zM552.5 134.8h1v1h-1zM552.7 135.4h1v1h-1zM552.6 134.6h1v1h-1zM554.7 135.1h1v1h-1zM553.6 136.4h1v1h-1zM553.9 136.5h1v1h-1zM554.0 136.2h1v1h-1zM553.3 136.4h1v1h-1z" fill="#b8e040"/>
<path d="M554.5 135.4h1v1h-1zM553.6 134.7h1v1h-1zM553.4 135.8h1v1h-1zM553.5 135.9h1v1h-1zM553.0 135.3h1v1h-1zM553.9 134.3h1v1h-1z" fill="#f0e030"/>
<path d="M553.5 135.1h1v1h-1zM553.4 135.0h1v1h-1zM553.6 135.0h1v1h-1z" fill="#f08020"/>
<path d="M557.9 113.1h0.7v0.7h-0.7zM556.9 126.7h0.7v0.7h-0.7zM556.1 109.1h0.7v0.7h-0.7zM553.7 100.0h0.7v0.7h-0.7zM553.6 133.2h0.7v0.7h-0.7zM559.3 124.0h0.7v0.7h-0.7zM559.9 120.5h0.7v0.7h-0.7zM562.8 127.3h0.7v0.7h-0.7zM560.6 120.6h0.7v0.7h-0.7zM557.6 119.5h0.7v0.7h-0.7zM556.3 127.9h0.7v0.7h-0.7zM554.7 133.5h0.7v0.7h-0.7zM556.1 136.3h0.7v0.7h-0.7zM554.9 103.0h0.7v0.7h-0.7zM559.4 98.7h0.7v0.7h-0.7zM556.4 113.4h0.7v0.7h-0.7zM560.8 132.2h0.7v0.7h-0.7zM557.3 101.1h0.7v0.7h-0.7zM556.1 125.9h0.7v0.7h-0.7zM561.4 102.7h0.7v0.7h-0.7zM560.7 121.0h0.7v0.7h-0.7zM556.8 120.7h0.7v0.7h-0.7zM559.3 117.5h0.7v0.7h-0.7zM557.5 135.7h0.7v0.7h-0.7zM555.6 119.8h0.7v0.7h-0.7zM559.1 108.9h0.7v0.7h-0.7zM555.6 135.0h0.7v0.7h-0.7zM556.7 116.8h0.7v0.7h-0.7zM554.7 111.8h0.7v0.7h-0.7zM556.7 125.0h0.7v0.7h-0.7zM554.9 131.2h0.7v0.7h-0.7zM553.6 111.2h0.7v0.7h-0.7zM555.0 131.6h0.7v0.7h-0.7zM561.8 124.5h0.7v0.7h-0.7zM555.1 116.9h0.7v0.7h-0.7zM554.9 108.6h0.7v0.7h-0.7zM558.4 110.8h0.7v0.7h-0.7zM561.2 127.4h0.7v0.7h-0.7zM557.4 102.1h0.7v0.7h-0.7zM557.5 107.7h0.7v0.7h-0.7z" fill="#8088c8"/>
<path d="M555.3 117.1h0.7v0.7h-0.7zM561.7 135.3h0.7v0.7h-0.7zM560.2 124.0h0.7v0.7h-0.7zM555.4 104.4h0.7v0.7h-0.7zM563.8 105.6h0.7v0.7h-0.7zM556.1 135.4h0.7v0.7h-0.7zM583.9 123.2h0.7v0.7h-0.7zM563.2 105.8h0.7v0.7h-0.7zM577.6 101.8h0.7v0.7h-0.7zM558.4 107.6h0.7v0.7h-0.7zM558.3 124.2h0.7v0.7h-0.7zM578.6 131.6h0.7v0.7h-0.7z" fill="#b8bce0"/>
<text x="530.2" y="59.6" font-size="4.7" fill="#333" font-weight="normal" text-anchor="start" stroke="#333" stroke-width="0.06">Q1</text>
<text x="530.2" y="67.7" font-size="4.7" fill="#333" font-weight="normal" text-anchor="start" stroke="#333" stroke-width="0.06">32.4</text>
<text x="621.5" y="59.6" font-size="4.7" fill="#333" font-weight="normal" text-anchor="end" stroke="#333" stroke-width="0.06">Q2</text>
<text x="621.5" y="67.7" font-size="4.7" fill="#333" font-weight="normal" text-anchor="end" stroke="#333" stroke-width="0.06">14.5</text>
<text x="621.5" y="147.5" font-size="4.7" fill="#333" font-weight="normal" text-anchor="end" stroke="#333" stroke-width="0.06">Q3</text>
<text x="621.5" y="154.5" font-size="4.7" fill="#333" font-weight="normal" text-anchor="end" stroke="#333" stroke-width="0.06">42.5</text>
<text x="530.2" y="147.5" font-size="4.7" fill="#333" font-weight="normal" text-anchor="start" stroke="#333" stroke-width="0.06">Q4</text>
<text x="530.2" y="154.5" font-size="4.7" fill="#333" font-weight="normal" text-anchor="start" stroke="#333" stroke-width="0.06">10.6</text>
<text x="534.9" y="80.6" font-size="6.3" fill="#f52a2a" font-weight="normal" text-anchor="start" stroke="#f52a2a" stroke-width="0.28">CD4+</text>
<text x="534.9" y="87.6" font-size="6.3" fill="#f52a2a" font-weight="normal" text-anchor="start" stroke="#f52a2a" stroke-width="0.28">Tem</text>
<text x="588.4" y="80.6" font-size="6.3" fill="#f52a2a" font-weight="normal" text-anchor="start" stroke="#f52a2a" stroke-width="0.28">CD4+</text>
<text x="588.4" y="87.6" font-size="6.3" fill="#f52a2a" font-weight="normal" text-anchor="start" stroke="#f52a2a" stroke-width="0.28">Tcm</text>
<text x="534.2" y="137.7" font-size="6.3" fill="#f52a2a" font-weight="normal" text-anchor="start" stroke="#f52a2a" stroke-width="0.28">CD4+</text>
<text x="534.2" y="144.7" font-size="6.3" fill="#f52a2a" font-weight="normal" text-anchor="start" stroke="#f52a2a" stroke-width="0.28">Teff</text>
<text x="588.4" y="137.3" font-size="6.3" fill="#f52a2a" font-weight="normal" text-anchor="start" stroke="#f52a2a" stroke-width="0.28">CD4+</text>
<text x="588.4" y="144.3" font-size="6.3" fill="#f52a2a" font-weight="normal" text-anchor="start" stroke="#f52a2a" stroke-width="0.28">Tnaiv</text>
<text x="84.6" y="244.65" font-size="5.15" fill="#333" text-anchor="middle" transform="rotate(-90 84.6 244.65)">Comp-PE-Cy7-A :: CD45RO</text>
<path d="M96.2,200.79H99.2M96.2,225.48H99.2M96.2,255.8H99.2M96.2,274.65H99.2M96.2,293.6H99.2M103.69,298.8V301.8M122.79,298.8V301.8M140.12,298.8V301.8M169.46,298.8V301.8M193.37,298.8V301.8" stroke="#222" stroke-width="1" fill="none"/>
<path d="M97.5,218.05H99.2M97.5,213.7H99.2M97.5,210.61H99.2M97.5,208.22H99.2M97.5,206.27H99.2M97.5,204.61H99.2M97.5,203.18H99.2M97.5,201.92H99.2M97.5,246.68H99.2M97.5,241.34H99.2M97.5,237.55H99.2M97.5,234.61H99.2M97.5,232.21H99.2M97.5,230.18H99.2M97.5,228.42H99.2M97.5,226.87H99.2M97.5,261.46H99.2M97.5,265.23H99.2M97.5,268.05H99.2M97.5,270.88H99.2M97.5,281.28H99.2M97.5,286.02H99.2M97.5,289.81H99.2M176.66,298.8V300.5M180.87,298.8V300.5M183.86,298.8V300.5M186.17,298.8V300.5M188.06,298.8V300.5M189.67,298.8V300.5M191.05,298.8V300.5M192.27,298.8V300.5M148.96,298.8V300.5M154.12,298.8V300.5M157.79,298.8V300.5M160.63,298.8V300.5M162.95,298.8V300.5M164.92,298.8V300.5M166.62,298.8V300.5M168.12,298.8V300.5M127.13,298.8V300.5M130.59,298.8V300.5M133.19,298.8V300.5M135.79,298.8V300.5M138.05,298.8V300.5M107.51,298.8V300.5M112.29,298.8V300.5M116.11,298.8V300.5M118.97,298.8V300.5" stroke="#444" stroke-width="0.65" fill="none"/>
<rect x="96.8" y="272.25" width="2.4" height="4.8" fill="#111"/>
<rect x="120.19" y="298.8" width="4.8" height="2.3" fill="#111"/>
<text x="94.5" y="202.89" font-size="4.5" fill="#2a2a2a" font-weight="normal" text-anchor="end">10<tspan font-size="3.7" dx="0.6" dy="-2.8">5</tspan></text>
<text x="94.5" y="227.58" font-size="4.5" fill="#2a2a2a" font-weight="normal" text-anchor="end">10<tspan font-size="3.7" dx="0.6" dy="-2.8">4</tspan></text>
<text x="94.5" y="257.9" font-size="4.5" fill="#2a2a2a" font-weight="normal" text-anchor="end">10<tspan font-size="3.7" dx="0.6" dy="-2.8">3</tspan></text>
<text x="92.4" y="277.05" font-size="4.5" fill="#2a2a2a" font-weight="normal" text-anchor="end">0</text>
<text x="94.5" y="295.7" font-size="4.5" fill="#2a2a2a" font-weight="normal" text-anchor="end">-10<tspan font-size="3.7" dx="0.6" dy="-2.8">3</tspan></text>
<text x="105.39" y="311.6" font-size="4.5" fill="#2a2a2a" font-weight="normal" text-anchor="middle">-10<tspan font-size="3.7" dx="0.6" dy="-3.0">3</tspan></text>
<text x="122.79" y="311.6" font-size="4.5" fill="#2a2a2a" font-weight="normal" text-anchor="middle">0</text>
<text x="141.82" y="311.6" font-size="4.5" fill="#2a2a2a" font-weight="normal" text-anchor="middle">10<tspan font-size="3.7" dx="0.6" dy="-3.0">3</tspan></text>
<text x="171.16" y="311.6" font-size="4.5" fill="#2a2a2a" font-weight="normal" text-anchor="middle">10<tspan font-size="3.7" dx="0.6" dy="-3.0">4</tspan></text>
<text x="195.07" y="311.6" font-size="4.5" fill="#2a2a2a" font-weight="normal" text-anchor="middle">10<tspan font-size="3.7" dx="0.6" dy="-3.0">5</tspan></text>
<rect x="99.2" y="190.5" width="104.4" height="108.3" fill="none" stroke="#7c7c7c" stroke-width="1.1"/>
<line x1="124.5" y1="190.5" x2="124.5" y2="298.8" stroke="#444" stroke-width="1.3"/>
<line x1="99.2" y1="267.6" x2="203.6" y2="267.6" stroke="#444" stroke-width="1.3"/>
<path d="M123.6 270.8h0.9v0.9h-0.9zM122.0 263.3h0.9v0.9h-0.9zM122.3 268.8h0.9v0.9h-0.9zM122.6 255.7h0.9v0.9h-0.9zM122.1 249.6h0.9v0.9h-0.9zM123.5 252.5h0.9v0.9h-0.9zM122.0 274.0h0.9v0.9h-0.9zM124.7 246.5h0.9v0.9h-0.9zM122.8 271.2h0.9v0.9h-0.9zM122.4 271.8h0.9v0.9h-0.9zM122.9 251.9h0.9v0.9h-0.9zM124.9 254.3h0.9v0.9h-0.9zM124.2 272.6h0.9v0.9h-0.9zM121.9 253.5h0.9v0.9h-0.9zM123.9 249.6h0.9v0.9h-0.9zM123.1 268.8h0.9v0.9h-0.9zM123.4 248.5h0.9v0.9h-0.9zM123.5 265.0h0.9v0.9h-0.9zM124.6 243.0h0.9v0.9h-0.9zM123.1 272.7h0.9v0.9h-0.9zM121.9 243.0h0.9v0.9h-0.9zM124.7 248.0h0.9v0.9h-0.9zM123.4 271.8h0.9v0.9h-0.9zM124.0 250.6h0.9v0.9h-0.9zM120.9 267.4h0.9v0.9h-0.9zM124.2 253.2h0.9v0.9h-0.9zM123.5 272.3h0.9v0.9h-0.9zM125.5 274.5h0.9v0.9h-0.9zM122.6 274.7h0.9v0.9h-0.9zM123.6 235.7h0.9v0.9h-0.9zM121.5 238.1h0.9v0.9h-0.9zM123.5 274.7h0.9v0.9h-0.9zM123.3 260.2h0.9v0.9h-0.9zM122.9 266.8h0.9v0.9h-0.9zM124.0 247.4h0.9v0.9h-0.9zM123.3 258.3h0.9v0.9h-0.9zM124.6 258.5h0.9v0.9h-0.9zM122.1 236.7h0.9v0.9h-0.9zM124.1 275.1h0.9v0.9h-0.9zM124.9 264.3h0.9v0.9h-0.9zM125.2 266.4h0.9v0.9h-0.9zM122.1 252.1h0.9v0.9h-0.9zM124.1 264.9h0.9v0.9h-0.9zM125.0 253.3h0.9v0.9h-0.9zM122.5 247.4h0.9v0.9h-0.9zM125.2 261.8h0.9v0.9h-0.9zM122.1 257.8h0.9v0.9h-0.9zM123.8 261.9h0.9v0.9h-0.9zM123.5 267.6h0.9v0.9h-0.9zM125.4 273.0h0.9v0.9h-0.9zM124.8 233.8h0.9v0.9h-0.9zM122.9 237.5h0.9v0.9h-0.9zM122.2 256.5h0.9v0.9h-0.9zM122.0 250.5h0.9v0.9h-0.9zM122.5 258.9h0.9v0.9h-0.9zM124.6 271.9h0.9v0.9h-0.9zM123.6 261.3h0.9v0.9h-0.9zM124.8 269.5h0.9v0.9h-0.9zM123.0 258.4h0.9v0.9h-0.9zM125.4 273.4h0.9v0.9h-0.9zM122.4 270.4h0.9v0.9h-0.9zM122.5 273.8h0.9v0.9h-0.9zM122.6 275.0h0.9v0.9h-0.9zM123.7 272.8h0.9v0.9h-0.9zM124.0 260.4h0.9v0.9h-0.9zM124.4 244.6h0.9v0.9h-0.9zM123.7 272.8h0.9v0.9h-0.9zM124.3 247.6h0.9v0.9h-0.9zM123.1 268.6h0.9v0.9h-0.9zM123.4 241.8h0.9v0.9h-0.9zM122.1 260.9h0.9v0.9h-0.9zM123.8 264.6h0.9v0.9h-0.9zM123.3 256.9h0.9v0.9h-0.9zM122.4 272.5h0.9v0.9h-0.9zM124.7 264.6h0.9v0.9h-0.9zM123.8 236.6h0.9v0.9h-0.9zM124.1 262.0h0.9v0.9h-0.9zM125.0 272.8h0.9v0.9h-0.9zM124.5 263.4h0.9v0.9h-0.9zM124.7 274.2h0.9v0.9h-0.9zM124.8 266.7h0.9v0.9h-0.9zM123.9 261.6h0.9v0.9h-0.9zM124.2 274.4h0.9v0.9h-0.9zM122.9 258.0h0.9v0.9h-0.9zM123.4 269.5h0.9v0.9h-0.9zM123.1 274.3h0.9v0.9h-0.9zM124.4 262.6h0.9v0.9h-0.9zM122.4 269.6h0.9v0.9h-0.9zM124.3 242.3h0.9v0.9h-0.9zM123.2 267.1h0.9v0.9h-0.9zM122.6 258.6h0.9v0.9h-0.9zM122.6 243.5h0.9v0.9h-0.9zM124.3 269.9h0.9v0.9h-0.9zM121.4 275.1h0.9v0.9h-0.9zM123.5 268.9h0.9v0.9h-0.9zM124.8 273.5h0.9v0.9h-0.9zM124.5 242.4h0.9v0.9h-0.9zM124.2 236.6h0.9v0.9h-0.9zM124.8 249.5h0.9v0.9h-0.9zM123.5 273.4h0.9v0.9h-0.9zM124.4 274.8h0.9v0.9h-0.9zM124.6 266.8h0.9v0.9h-0.9zM123.4 263.9h0.9v0.9h-0.9zM125.2 266.3h0.9v0.9h-0.9zM123.0 238.8h0.9v0.9h-0.9zM124.4 256.1h0.9v0.9h-0.9zM123.5 251.9h0.9v0.9h-0.9zM124.6 268.7h0.9v0.9h-0.9zM124.4 265.9h0.9v0.9h-0.9zM122.8 245.0h0.9v0.9h-0.9zM122.3 252.8h0.9v0.9h-0.9z" fill="#2a3aa6"/>
<path d="M129.6 272.1h0.8v0.8h-0.8zM128.0 273.8h0.8v0.8h-0.8zM129.2 272.1h0.8v0.8h-0.8zM128.8 275.3h0.8v0.8h-0.8zM129.3 273.0h0.8v0.8h-0.8zM128.5 272.4h0.8v0.8h-0.8zM130.8 272.6h0.8v0.8h-0.8zM129.9 272.1h0.8v0.8h-0.8zM130.1 273.9h0.8v0.8h-0.8zM132.7 274.3h0.8v0.8h-0.8zM129.9 275.0h0.8v0.8h-0.8zM128.9 273.9h0.8v0.8h-0.8zM130.1 272.6h0.8v0.8h-0.8zM128.1 274.9h0.8v0.8h-0.8zM130.7 274.0h0.8v0.8h-0.8zM130.0 274.2h0.8v0.8h-0.8zM129.4 275.1h0.8v0.8h-0.8zM130.5 273.3h0.8v0.8h-0.8zM128.7 273.1h0.8v0.8h-0.8zM129.9 271.8h0.8v0.8h-0.8z" fill="#4a64cc"/>
<path d="M124.0 247.8h0.9v0.9h-0.9zM122.9 261.6h0.9v0.9h-0.9zM122.9 267.3h0.9v0.9h-0.9zM122.3 270.1h0.9v0.9h-0.9zM123.9 237.7h0.9v0.9h-0.9zM122.4 233.8h0.9v0.9h-0.9zM124.8 272.7h0.9v0.9h-0.9zM122.3 250.8h0.9v0.9h-0.9zM123.5 248.9h0.9v0.9h-0.9zM122.8 265.4h0.9v0.9h-0.9zM123.6 253.3h0.9v0.9h-0.9zM122.7 248.2h0.9v0.9h-0.9zM124.5 274.0h0.9v0.9h-0.9zM122.6 240.3h0.9v0.9h-0.9zM123.8 273.7h0.9v0.9h-0.9zM122.9 249.0h0.9v0.9h-0.9zM123.4 270.7h0.9v0.9h-0.9zM124.9 257.2h0.9v0.9h-0.9zM123.9 249.5h0.9v0.9h-0.9zM121.7 241.9h0.9v0.9h-0.9zM123.9 266.9h0.9v0.9h-0.9zM122.2 258.2h0.9v0.9h-0.9zM124.0 261.7h0.9v0.9h-0.9zM122.6 247.4h0.9v0.9h-0.9zM123.3 245.7h0.9v0.9h-0.9zM124.0 273.4h0.9v0.9h-0.9zM122.4 264.0h0.9v0.9h-0.9zM123.9 249.1h0.9v0.9h-0.9zM123.3 243.5h0.9v0.9h-0.9zM124.4 237.0h0.9v0.9h-0.9zM122.3 264.7h0.9v0.9h-0.9zM122.2 267.6h0.9v0.9h-0.9zM122.5 255.0h0.9v0.9h-0.9zM123.2 239.0h0.9v0.9h-0.9zM123.2 265.4h0.9v0.9h-0.9zM125.2 271.4h0.9v0.9h-0.9zM124.4 256.4h0.9v0.9h-0.9zM125.8 267.2h0.9v0.9h-0.9zM125.0 260.3h0.9v0.9h-0.9zM124.7 259.8h0.9v0.9h-0.9zM123.4 259.5h0.9v0.9h-0.9zM123.1 273.3h0.9v0.9h-0.9zM124.5 273.8h0.9v0.9h-0.9zM124.4 251.2h0.9v0.9h-0.9zM123.6 274.1h0.9v0.9h-0.9zM123.7 254.2h0.9v0.9h-0.9zM122.3 239.4h0.9v0.9h-0.9zM122.5 264.6h0.9v0.9h-0.9zM122.6 250.8h0.9v0.9h-0.9zM123.2 268.6h0.9v0.9h-0.9zM123.6 244.6h0.9v0.9h-0.9zM122.7 263.5h0.9v0.9h-0.9zM123.8 275.1h0.9v0.9h-0.9zM121.5 273.8h0.9v0.9h-0.9zM122.6 272.5h0.9v0.9h-0.9zM122.8 273.9h0.9v0.9h-0.9zM123.0 244.5h0.9v0.9h-0.9zM124.7 262.9h0.9v0.9h-0.9zM124.6 271.7h0.9v0.9h-0.9zM122.9 250.6h0.9v0.9h-0.9zM124.3 263.1h0.9v0.9h-0.9zM125.9 261.3h0.9v0.9h-0.9zM123.2 241.3h0.9v0.9h-0.9zM122.0 252.8h0.9v0.9h-0.9zM125.0 249.1h0.9v0.9h-0.9zM123.0 269.4h0.9v0.9h-0.9zM123.5 272.7h0.9v0.9h-0.9zM122.8 257.8h0.9v0.9h-0.9zM123.6 263.7h0.9v0.9h-0.9zM123.3 262.3h0.9v0.9h-0.9zM126.0 275.1h0.9v0.9h-0.9zM123.7 250.8h0.9v0.9h-0.9zM123.4 265.4h0.9v0.9h-0.9zM125.1 274.6h0.9v0.9h-0.9zM122.5 256.5h0.9v0.9h-0.9zM124.7 253.5h0.9v0.9h-0.9zM123.2 243.2h0.9v0.9h-0.9zM122.7 274.9h0.9v0.9h-0.9z" fill="#4a64cc"/>
<path d="M124.3 270.9h1v1h-1zM123.3 273.6h1v1h-1zM128.8 275.2h1v1h-1zM123.4 276.3h1v1h-1zM123.4 275.8h1v1h-1zM129.2 272.1h1v1h-1zM123.4 269.5h1v1h-1zM122.6 272.3h1v1h-1zM127.5 269.5h1v1h-1zM123.8 274.7h1v1h-1zM128.8 278.5h1v1h-1zM122.8 273.7h1v1h-1zM128.1 269.5h1v1h-1zM122.5 276.8h1v1h-1zM123.5 277.6h1v1h-1zM129.5 273.6h1v1h-1zM127.8 270.3h1v1h-1zM124.7 275.7h1v1h-1zM129.3 275.5h1v1h-1zM127.5 270.2h1v1h-1zM127.5 275.7h1v1h-1zM128.2 276.7h1v1h-1zM128.0 275.7h1v1h-1zM125.4 270.2h1v1h-1zM123.6 271.1h1v1h-1zM130.3 273.2h1v1h-1zM129.6 273.9h1v1h-1zM127.2 275.7h1v1h-1zM126.5 276.2h1v1h-1zM128.0 269.8h1v1h-1zM123.8 274.5h1v1h-1zM124.8 269.6h1v1h-1zM123.7 273.9h1v1h-1zM124.8 276.5h1v1h-1zM124.3 270.2h1v1h-1z" fill="#4a64cc"/>
<path d="M124.2 248.1h0.9v0.9h-0.9zM124.0 267.9h0.9v0.9h-0.9zM123.5 256.8h0.9v0.9h-0.9zM124.3 274.9h0.9v0.9h-0.9zM123.4 253.3h0.9v0.9h-0.9zM123.7 249.3h0.9v0.9h-0.9zM123.9 274.9h0.9v0.9h-0.9zM123.2 237.0h0.9v0.9h-0.9zM123.4 246.3h0.9v0.9h-0.9zM123.7 275.0h0.9v0.9h-0.9zM124.2 256.8h0.9v0.9h-0.9zM124.1 273.8h0.9v0.9h-0.9zM124.1 266.3h0.9v0.9h-0.9zM123.2 244.8h0.9v0.9h-0.9zM123.0 271.6h0.9v0.9h-0.9z" fill="#30b8e0"/>
<path d="M125.4 275.5h1v1h-1zM124.5 274.9h1v1h-1zM124.1 273.8h1v1h-1zM124.8 270.8h1v1h-1zM125.8 275.2h1v1h-1zM128.7 271.8h1v1h-1zM125.5 270.8h1v1h-1zM124.3 272.0h1v1h-1zM125.5 275.0h1v1h-1zM129.1 273.4h1v1h-1zM125.5 275.1h1v1h-1zM125.5 275.0h1v1h-1zM129.1 273.6h1v1h-1zM123.8 272.2h1v1h-1zM124.8 274.6h1v1h-1zM124.7 271.0h1v1h-1zM125.7 270.2h1v1h-1z" fill="#30b8e0"/>
<path d="M124.2 270.9h0.9v0.9h-0.9zM124.2 238.2h0.9v0.9h-0.9zM124.2 272.4h0.9v0.9h-0.9zM124.2 270.0h0.9v0.9h-0.9zM123.3 235.3h0.9v0.9h-0.9zM124.3 248.8h0.9v0.9h-0.9zM123.6 262.5h0.9v0.9h-0.9zM123.6 235.5h0.9v0.9h-0.9zM123.5 274.4h0.9v0.9h-0.9zM123.6 256.2h0.9v0.9h-0.9zM123.9 248.7h0.9v0.9h-0.9zM124.1 261.2h0.9v0.9h-0.9zM124.1 260.9h0.9v0.9h-0.9zM124.0 273.6h0.9v0.9h-0.9zM123.3 265.1h0.9v0.9h-0.9zM123.9 274.7h0.9v0.9h-0.9z" fill="#40c070"/>
<path d="M127.9 274.4h1v1h-1zM124.6 271.6h1v1h-1zM126.4 270.7h1v1h-1zM125.5 274.8h1v1h-1zM125.5 274.5h1v1h-1zM128.1 272.0h1v1h-1zM128.3 273.8h1v1h-1zM126.0 271.2h1v1h-1zM127.1 270.8h1v1h-1zM128.5 272.5h1v1h-1zM124.2 273.4h1v1h-1zM128.3 271.7h1v1h-1zM124.7 274.1h1v1h-1zM124.6 273.5h1v1h-1zM126.9 274.6h1v1h-1zM127.5 274.4h1v1h-1zM124.8 273.2h1v1h-1zM124.8 272.2h1v1h-1zM127.1 274.7h1v1h-1zM128.0 271.6h1v1h-1z" fill="#40c070"/>
<path d="M125.3 273.4h1v1h-1zM127.2 273.9h1v1h-1zM127.7 273.1h1v1h-1zM125.9 274.1h1v1h-1zM127.5 273.3h1v1h-1zM126.6 271.6h1v1h-1zM126.3 274.1h1v1h-1zM127.0 274.0h1v1h-1zM127.4 271.8h1v1h-1zM127.2 272.1h1v1h-1zM125.7 271.9h1v1h-1zM124.9 272.8h1v1h-1z" fill="#b8e040"/>
<path d="M126.3 271.8h1v1h-1zM127.1 272.0h1v1h-1zM125.9 272.3h1v1h-1zM126.6 271.8h1v1h-1zM127.3 273.4h1v1h-1zM126.0 273.7h1v1h-1zM125.8 273.5h1v1h-1zM126.2 273.9h1v1h-1z" fill="#f0e030"/>
<path d="M126.1 273.3h1v1h-1zM126.2 272.9h1v1h-1zM126.1 273.2h1v1h-1zM126.6 272.9h1v1h-1zM126.8 272.8h1v1h-1zM126.6 272.4h1v1h-1zM125.9 272.8h1v1h-1zM126.7 273.1h1v1h-1z" fill="#f08020"/>
<path d="M130.7 260.4h0.7v0.7h-0.7zM131.5 242.7h0.7v0.7h-0.7zM125.7 254.1h0.7v0.7h-0.7zM129.1 250.6h0.7v0.7h-0.7zM127.5 272.3h0.7v0.7h-0.7zM133.0 255.2h0.7v0.7h-0.7zM127.8 263.7h0.7v0.7h-0.7zM130.3 259.2h0.7v0.7h-0.7zM128.0 258.0h0.7v0.7h-0.7zM125.9 266.3h0.7v0.7h-0.7zM128.9 273.8h0.7v0.7h-0.7zM127.3 268.4h0.7v0.7h-0.7zM127.1 270.9h0.7v0.7h-0.7zM127.0 269.6h0.7v0.7h-0.7zM126.2 263.3h0.7v0.7h-0.7zM129.9 269.7h0.7v0.7h-0.7zM126.1 267.1h0.7v0.7h-0.7zM127.1 264.9h0.7v0.7h-0.7zM132.5 273.3h0.7v0.7h-0.7zM127.4 254.7h0.7v0.7h-0.7zM126.5 272.9h0.7v0.7h-0.7zM129.4 268.8h0.7v0.7h-0.7zM128.0 266.6h0.7v0.7h-0.7zM127.1 263.8h0.7v0.7h-0.7zM127.4 264.0h0.7v0.7h-0.7zM129.1 262.2h0.7v0.7h-0.7zM129.4 265.9h0.7v0.7h-0.7zM125.7 254.4h0.7v0.7h-0.7zM128.2 258.3h0.7v0.7h-0.7zM129.8 274.3h0.7v0.7h-0.7zM126.8 265.8h0.7v0.7h-0.7zM127.0 261.0h0.7v0.7h-0.7zM126.4 260.6h0.7v0.7h-0.7zM127.8 248.5h0.7v0.7h-0.7zM126.5 274.7h0.7v0.7h-0.7zM127.4 262.6h0.7v0.7h-0.7zM127.3 274.3h0.7v0.7h-0.7zM126.6 245.1h0.7v0.7h-0.7zM131.5 269.3h0.7v0.7h-0.7zM129.5 272.3h0.7v0.7h-0.7zM129.7 239.9h0.7v0.7h-0.7zM131.4 266.5h0.7v0.7h-0.7zM125.9 267.8h0.7v0.7h-0.7zM131.1 258.0h0.7v0.7h-0.7zM127.6 270.8h0.7v0.7h-0.7zM128.7 259.4h0.7v0.7h-0.7zM133.9 244.4h0.7v0.7h-0.7zM126.9 253.4h0.7v0.7h-0.7zM126.3 249.2h0.7v0.7h-0.7zM125.9 249.6h0.7v0.7h-0.7zM133.7 259.2h0.7v0.7h-0.7zM127.9 244.4h0.7v0.7h-0.7zM129.1 251.7h0.7v0.7h-0.7zM128.2 263.7h0.7v0.7h-0.7zM126.9 248.9h0.7v0.7h-0.7zM126.2 245.8h0.7v0.7h-0.7zM130.4 273.7h0.7v0.7h-0.7zM126.9 270.5h0.7v0.7h-0.7zM125.7 246.8h0.7v0.7h-0.7zM129.8 243.6h0.7v0.7h-0.7z" fill="#8088c8"/>
<path d="M130.5 272.8h0.7v0.7h-0.7zM155.0 263.4h0.7v0.7h-0.7zM148.3 263.4h0.7v0.7h-0.7zM139.1 249.2h0.7v0.7h-0.7zM153.4 245.7h0.7v0.7h-0.7zM133.0 268.0h0.7v0.7h-0.7zM145.4 269.0h0.7v0.7h-0.7zM134.4 255.6h0.7v0.7h-0.7zM149.1 249.2h0.7v0.7h-0.7zM154.7 258.5h0.7v0.7h-0.7zM128.2 248.0h0.7v0.7h-0.7zM128.8 254.5h0.7v0.7h-0.7z" fill="#b8bce0"/>
<text x="100.9" y="199.6" font-size="4.7" fill="#333" font-weight="normal" text-anchor="start" stroke="#333" stroke-width="0.06">Q1</text>
<text x="100.9" y="207.7" font-size="4.7" fill="#333" font-weight="normal" text-anchor="start" stroke="#333" stroke-width="0.06">26.6</text>
<text x="194.5" y="199.6" font-size="4.7" fill="#333" font-weight="normal" text-anchor="end" stroke="#333" stroke-width="0.06">Q2</text>
<text x="194.5" y="207.7" font-size="4.7" fill="#333" font-weight="normal" text-anchor="end" stroke="#333" stroke-width="0.06">18.9</text>
<text x="194.5" y="285.7" font-size="4.7" fill="#333" font-weight="normal" text-anchor="end" stroke="#333" stroke-width="0.06">Q3</text>
<text x="194.5" y="292.7" font-size="4.7" fill="#333" font-weight="normal" text-anchor="end" stroke="#333" stroke-width="0.06">48.7</text>
<text x="100.9" y="285.7" font-size="4.7" fill="#333" font-weight="normal" text-anchor="start" stroke="#333" stroke-width="0.06">Q4</text>
<text x="100.9" y="292.7" font-size="4.7" fill="#333" font-weight="normal" text-anchor="start" stroke="#333" stroke-width="0.06">5.77</text>
<text x="102.9" y="224" font-size="6.3" fill="#f52a2a" font-weight="normal" text-anchor="start" stroke="#f52a2a" stroke-width="0.28">CD4+</text>
<text x="102.9" y="231" font-size="6.3" fill="#f52a2a" font-weight="normal" text-anchor="start" stroke="#f52a2a" stroke-width="0.28">Tem</text>
<text x="159.8" y="224" font-size="6.3" fill="#f52a2a" font-weight="normal" text-anchor="start" stroke="#f52a2a" stroke-width="0.28">CD4+</text>
<text x="159.8" y="231" font-size="6.3" fill="#f52a2a" font-weight="normal" text-anchor="start" stroke="#f52a2a" stroke-width="0.28">Tcm</text>
<text x="102.9" y="277.7" font-size="6.3" fill="#f52a2a" font-weight="normal" text-anchor="start" stroke="#f52a2a" stroke-width="0.28">CD4+</text>
<text x="102.9" y="284.7" font-size="6.3" fill="#f52a2a" font-weight="normal" text-anchor="start" stroke="#f52a2a" stroke-width="0.28">Teff</text>
<text x="159.4" y="275.5" font-size="6.3" fill="#f52a2a" font-weight="normal" text-anchor="start" stroke="#f52a2a" stroke-width="0.28">CD4+</text>
<text x="159.4" y="282.5" font-size="6.3" fill="#f52a2a" font-weight="normal" text-anchor="start" stroke="#f52a2a" stroke-width="0.28">Tnaiv</text>
<text x="228" y="245.25" font-size="5.15" fill="#333" text-anchor="middle" transform="rotate(-90 228 245.25)">Comp-PE-Cy7-A :: CD45RO</text>
<path d="M239.6,201.87H242.6M239.6,226.29H242.6M239.6,256.28H242.6M239.6,274.92H242.6M239.6,293.66H242.6M247.04,298.8V301.8M265.95,298.8V301.8M283.09,298.8V301.8M312.12,298.8V301.8M335.78,298.8V301.8" stroke="#222" stroke-width="1" fill="none"/>
<path d="M240.9,218.94H242.6M240.9,214.64H242.6M240.9,211.59H242.6M240.9,209.23H242.6M240.9,207.29H242.6M240.9,205.66H242.6M240.9,204.24H242.6M240.9,202.99H242.6M240.9,247.25H242.6M240.9,241.97H242.6M240.9,238.23H242.6M240.9,235.32H242.6M240.9,232.95H242.6M240.9,230.94H242.6M240.9,229.2H242.6M240.9,227.67H242.6M240.9,261.87H242.6M240.9,265.6H242.6M240.9,268.39H242.6M240.9,271.19H242.6M240.9,281.48H242.6M240.9,286.16H242.6M240.9,289.91H242.6M319.24,298.8V300.5M323.41,298.8V300.5M326.36,298.8V300.5M328.66,298.8V300.5M330.53,298.8V300.5M332.11,298.8V300.5M333.48,298.8V300.5M334.69,298.8V300.5M291.83,298.8V300.5M296.94,298.8V300.5M300.57,298.8V300.5M303.38,298.8V300.5M305.68,298.8V300.5M307.62,298.8V300.5M309.31,298.8V300.5M310.79,298.8V300.5M270.23,298.8V300.5M273.66,298.8V300.5M276.23,298.8V300.5M278.81,298.8V300.5M281.04,298.8V300.5M250.82,298.8V300.5M255.55,298.8V300.5M259.33,298.8V300.5M262.17,298.8V300.5" stroke="#444" stroke-width="0.65" fill="none"/>
<rect x="240.2" y="272.52" width="2.4" height="4.8" fill="#111"/>
<rect x="263.35" y="298.8" width="4.8" height="2.3" fill="#111"/>
<text x="237.9" y="203.97" font-size="4.5" fill="#2a2a2a" font-weight="normal" text-anchor="end">10<tspan font-size="3.7" dx="0.6" dy="-2.8">5</tspan></text>
<text x="237.9" y="228.39" font-size="4.5" fill="#2a2a2a" font-weight="normal" text-anchor="end">10<tspan font-size="3.7" dx="0.6" dy="-2.8">4</tspan></text>
<text x="237.9" y="258.38" font-size="4.5" fill="#2a2a2a" font-weight="normal" text-anchor="end">10<tspan font-size="3.7" dx="0.6" dy="-2.8">3</tspan></text>
<text x="235.8" y="277.32" font-size="4.5" fill="#2a2a2a" font-weight="normal" text-anchor="end">0</text>
<text x="237.9" y="295.76" font-size="4.5" fill="#2a2a2a" font-weight="normal" text-anchor="end">-10<tspan font-size="3.7" dx="0.6" dy="-2.8">3</tspan></text>
<text x="248.74" y="311.6" font-size="4.5" fill="#2a2a2a" font-weight="normal" text-anchor="middle">-10<tspan font-size="3.7" dx="0.6" dy="-3.0">3</tspan></text>
<text x="265.95" y="311.6" font-size="4.5" fill="#2a2a2a" font-weight="normal" text-anchor="middle">0</text>
<text x="284.79" y="311.6" font-size="4.5" fill="#2a2a2a" font-weight="normal" text-anchor="middle">10<tspan font-size="3.7" dx="0.6" dy="-3.0">3</tspan></text>
<text x="313.82" y="311.6" font-size="4.5" fill="#2a2a2a" font-weight="normal" text-anchor="middle">10<tspan font-size="3.7" dx="0.6" dy="-3.0">4</tspan></text>
<text x="337.48" y="311.6" font-size="4.5" fill="#2a2a2a" font-weight="normal" text-anchor="middle">10<tspan font-size="3.7" dx="0.6" dy="-3.0">5</tspan></text>
<rect x="242.6" y="191.7" width="103.3" height="107.1" fill="none" stroke="#7c7c7c" stroke-width="1.1"/>
<line x1="266.3" y1="191.7" x2="266.3" y2="298.8" stroke="#444" stroke-width="1.3"/>
<line x1="242.6" y1="266.2" x2="345.9" y2="266.2" stroke="#444" stroke-width="1.3"/>
<path d="M265.2 241.2h0.9v0.9h-0.9zM267.8 263.7h0.9v0.9h-0.9zM264.1 270.4h0.9v0.9h-0.9zM264.7 240.2h0.9v0.9h-0.9zM265.0 247.8h0.9v0.9h-0.9zM266.7 247.2h0.9v0.9h-0.9zM264.2 272.4h0.9v0.9h-0.9zM264.9 235.1h0.9v0.9h-0.9zM265.2 233.8h0.9v0.9h-0.9zM267.5 259.7h0.9v0.9h-0.9zM265.1 245.2h0.9v0.9h-0.9zM265.5 258.6h0.9v0.9h-0.9zM265.3 253.0h0.9v0.9h-0.9zM265.4 256.3h0.9v0.9h-0.9zM265.3 272.4h0.9v0.9h-0.9zM264.1 266.9h0.9v0.9h-0.9zM263.6 245.0h0.9v0.9h-0.9zM264.8 234.7h0.9v0.9h-0.9zM265.8 263.2h0.9v0.9h-0.9zM265.8 270.3h0.9v0.9h-0.9zM267.0 266.2h0.9v0.9h-0.9zM266.3 257.8h0.9v0.9h-0.9zM265.3 259.0h0.9v0.9h-0.9zM263.9 270.9h0.9v0.9h-0.9zM266.5 263.8h0.9v0.9h-0.9zM264.9 270.5h0.9v0.9h-0.9zM265.4 245.6h0.9v0.9h-0.9zM266.3 241.8h0.9v0.9h-0.9zM265.9 257.7h0.9v0.9h-0.9zM265.6 236.5h0.9v0.9h-0.9zM264.3 236.4h0.9v0.9h-0.9zM264.6 252.7h0.9v0.9h-0.9zM265.9 271.4h0.9v0.9h-0.9zM265.0 243.8h0.9v0.9h-0.9zM265.7 241.2h0.9v0.9h-0.9zM267.9 269.4h0.9v0.9h-0.9zM264.5 272.9h0.9v0.9h-0.9zM264.9 240.4h0.9v0.9h-0.9zM265.3 245.0h0.9v0.9h-0.9zM265.9 261.3h0.9v0.9h-0.9zM265.5 256.9h0.9v0.9h-0.9zM265.3 256.6h0.9v0.9h-0.9zM264.0 254.5h0.9v0.9h-0.9zM265.3 257.4h0.9v0.9h-0.9zM265.0 258.6h0.9v0.9h-0.9zM264.7 252.2h0.9v0.9h-0.9zM263.7 272.1h0.9v0.9h-0.9zM265.5 236.5h0.9v0.9h-0.9zM266.2 252.0h0.9v0.9h-0.9zM265.3 266.9h0.9v0.9h-0.9zM267.3 270.8h0.9v0.9h-0.9zM266.6 267.8h0.9v0.9h-0.9zM266.6 266.0h0.9v0.9h-0.9zM266.2 261.7h0.9v0.9h-0.9zM265.8 254.0h0.9v0.9h-0.9zM265.8 253.9h0.9v0.9h-0.9zM267.3 240.4h0.9v0.9h-0.9zM265.8 272.5h0.9v0.9h-0.9zM265.1 255.0h0.9v0.9h-0.9zM264.2 250.2h0.9v0.9h-0.9zM265.4 249.7h0.9v0.9h-0.9zM264.5 248.0h0.9v0.9h-0.9zM263.9 267.1h0.9v0.9h-0.9zM266.6 241.1h0.9v0.9h-0.9zM265.6 268.7h0.9v0.9h-0.9zM265.8 247.3h0.9v0.9h-0.9zM266.2 246.9h0.9v0.9h-0.9zM265.8 244.3h0.9v0.9h-0.9zM266.4 252.9h0.9v0.9h-0.9zM266.7 250.7h0.9v0.9h-0.9zM263.7 272.9h0.9v0.9h-0.9zM265.8 230.9h0.9v0.9h-0.9zM267.0 260.8h0.9v0.9h-0.9zM265.7 252.9h0.9v0.9h-0.9zM264.0 236.7h0.9v0.9h-0.9zM266.0 266.0h0.9v0.9h-0.9zM266.4 247.3h0.9v0.9h-0.9zM264.7 266.5h0.9v0.9h-0.9zM265.6 245.8h0.9v0.9h-0.9zM265.1 263.6h0.9v0.9h-0.9zM266.9 234.1h0.9v0.9h-0.9zM265.8 253.4h0.9v0.9h-0.9z" fill="#2a3aa6"/>
<path d="M269.5 270.7h0.8v0.8h-0.8zM271.3 274.1h0.8v0.8h-0.8zM274.5 270.5h0.8v0.8h-0.8zM270.4 272.8h0.8v0.8h-0.8zM270.9 271.9h0.8v0.8h-0.8zM275.2 271.1h0.8v0.8h-0.8zM270.1 271.4h0.8v0.8h-0.8zM269.6 273.2h0.8v0.8h-0.8zM269.6 271.0h0.8v0.8h-0.8zM271.5 270.4h0.8v0.8h-0.8zM270.3 271.9h0.8v0.8h-0.8zM270.4 271.1h0.8v0.8h-0.8zM271.4 271.7h0.8v0.8h-0.8zM269.8 270.5h0.8v0.8h-0.8zM269.5 272.5h0.8v0.8h-0.8zM274.2 269.6h0.8v0.8h-0.8zM273.7 269.6h0.8v0.8h-0.8zM272.5 271.0h0.8v0.8h-0.8zM271.5 270.2h0.8v0.8h-0.8zM270.9 272.2h0.8v0.8h-0.8z" fill="#4a64cc"/>
<path d="M265.9 230.9h0.9v0.9h-0.9zM265.6 257.9h0.9v0.9h-0.9zM264.3 260.4h0.9v0.9h-0.9zM266.0 245.4h0.9v0.9h-0.9zM266.7 272.7h0.9v0.9h-0.9zM265.1 271.4h0.9v0.9h-0.9zM265.0 269.5h0.9v0.9h-0.9zM264.6 247.8h0.9v0.9h-0.9zM264.3 273.4h0.9v0.9h-0.9zM266.0 252.3h0.9v0.9h-0.9zM264.2 272.3h0.9v0.9h-0.9zM265.1 234.3h0.9v0.9h-0.9zM267.0 263.2h0.9v0.9h-0.9zM263.9 269.5h0.9v0.9h-0.9zM267.1 273.3h0.9v0.9h-0.9zM264.3 253.2h0.9v0.9h-0.9zM265.5 267.7h0.9v0.9h-0.9zM267.1 244.7h0.9v0.9h-0.9zM263.2 240.8h0.9v0.9h-0.9zM266.3 262.3h0.9v0.9h-0.9zM267.0 271.2h0.9v0.9h-0.9zM264.8 270.1h0.9v0.9h-0.9zM265.5 234.3h0.9v0.9h-0.9zM265.0 238.8h0.9v0.9h-0.9zM264.8 264.0h0.9v0.9h-0.9zM266.8 235.1h0.9v0.9h-0.9zM266.6 263.2h0.9v0.9h-0.9zM267.7 258.6h0.9v0.9h-0.9zM265.7 263.7h0.9v0.9h-0.9zM263.4 270.1h0.9v0.9h-0.9zM265.0 248.1h0.9v0.9h-0.9zM264.4 267.6h0.9v0.9h-0.9zM266.2 271.1h0.9v0.9h-0.9zM265.6 244.3h0.9v0.9h-0.9zM266.1 269.3h0.9v0.9h-0.9zM265.6 273.7h0.9v0.9h-0.9zM264.9 270.4h0.9v0.9h-0.9zM265.9 263.0h0.9v0.9h-0.9zM265.1 269.1h0.9v0.9h-0.9zM264.9 248.0h0.9v0.9h-0.9zM266.3 235.3h0.9v0.9h-0.9zM264.4 232.9h0.9v0.9h-0.9zM266.5 241.7h0.9v0.9h-0.9zM265.7 245.6h0.9v0.9h-0.9zM266.1 253.1h0.9v0.9h-0.9zM266.8 241.5h0.9v0.9h-0.9zM266.9 247.3h0.9v0.9h-0.9zM265.5 238.9h0.9v0.9h-0.9zM267.5 231.1h0.9v0.9h-0.9zM264.7 254.2h0.9v0.9h-0.9zM265.6 232.6h0.9v0.9h-0.9zM266.1 272.6h0.9v0.9h-0.9zM267.5 268.0h0.9v0.9h-0.9zM264.9 269.0h0.9v0.9h-0.9zM266.7 255.4h0.9v0.9h-0.9zM266.8 266.2h0.9v0.9h-0.9zM265.3 238.0h0.9v0.9h-0.9zM266.8 271.5h0.9v0.9h-0.9z" fill="#4a64cc"/>
<path d="M267.2 269.3h1v1h-1zM265.9 270.6h1v1h-1zM268.9 274.0h1v1h-1zM267.9 274.0h1v1h-1zM270.5 272.2h1v1h-1zM267.1 274.4h1v1h-1zM270.5 270.9h1v1h-1zM269.2 273.6h1v1h-1zM265.3 270.8h1v1h-1zM270.0 271.6h1v1h-1zM268.8 269.5h1v1h-1zM270.0 271.3h1v1h-1zM269.7 273.0h1v1h-1zM269.8 270.8h1v1h-1zM268.8 269.6h1v1h-1zM270.5 272.1h1v1h-1zM269.3 270.1h1v1h-1zM267.4 274.2h1v1h-1z" fill="#4a64cc"/>
<path d="M269.1 270.7h1v1h-1zM269.1 272.2h1v1h-1zM269.3 271.4h1v1h-1zM269.2 272.7h1v1h-1zM266.3 272.9h1v1h-1zM268.8 272.9h1v1h-1zM265.9 271.5h1v1h-1zM268.3 269.9h1v1h-1zM269.2 272.4h1v1h-1z" fill="#30b8e0"/>
<path d="M266.5 270.8h1v1h-1zM266.7 270.7h1v1h-1zM266.9 270.7h1v1h-1zM266.9 270.7h1v1h-1zM268.0 270.2h1v1h-1zM268.8 271.8h1v1h-1zM268.9 271.6h1v1h-1zM266.4 271.7h1v1h-1zM268.8 271.5h1v1h-1zM267.5 272.8h1v1h-1zM269.2 271.4h1v1h-1z" fill="#40c070"/>
<path d="M267.3 270.5h1v1h-1zM267.3 270.5h1v1h-1zM266.7 271.8h1v1h-1zM266.9 271.2h1v1h-1zM268.5 271.7h1v1h-1zM266.7 271.4h1v1h-1z" fill="#b8e040"/>
<path d="M268.3 271.2h1v1h-1zM268.2 271.7h1v1h-1zM267.9 272.2h1v1h-1z" fill="#f0e030"/>
<path d="M267.8 271.2h1v1h-1zM267.7 271.8h1v1h-1zM267.6 271.5h1v1h-1z" fill="#f08020"/>
<path d="M267.6 263.9h0.7v0.7h-0.7zM268.7 247.6h0.7v0.7h-0.7zM269.0 246.7h0.7v0.7h-0.7zM267.5 267.7h0.7v0.7h-0.7zM271.2 261.9h0.7v0.7h-0.7zM271.4 273.6h0.7v0.7h-0.7zM269.6 255.7h0.7v0.7h-0.7zM268.8 254.9h0.7v0.7h-0.7zM274.8 252.1h0.7v0.7h-0.7zM273.4 244.0h0.7v0.7h-0.7zM268.6 272.8h0.7v0.7h-0.7zM270.7 256.4h0.7v0.7h-0.7zM267.8 242.6h0.7v0.7h-0.7zM277.5 251.1h0.7v0.7h-0.7zM267.7 244.1h0.7v0.7h-0.7zM273.8 268.5h0.7v0.7h-0.7zM269.8 262.6h0.7v0.7h-0.7zM268.3 257.4h0.7v0.7h-0.7zM268.6 264.2h0.7v0.7h-0.7zM268.0 255.4h0.7v0.7h-0.7zM268.7 239.0h0.7v0.7h-0.7zM270.8 265.8h0.7v0.7h-0.7zM270.5 268.4h0.7v0.7h-0.7zM272.1 268.4h0.7v0.7h-0.7zM270.3 241.1h0.7v0.7h-0.7zM274.0 238.4h0.7v0.7h-0.7zM271.2 249.7h0.7v0.7h-0.7zM270.1 245.6h0.7v0.7h-0.7zM268.5 272.4h0.7v0.7h-0.7zM273.5 243.1h0.7v0.7h-0.7zM271.9 257.3h0.7v0.7h-0.7zM271.7 272.5h0.7v0.7h-0.7zM268.3 258.3h0.7v0.7h-0.7zM270.2 268.5h0.7v0.7h-0.7zM271.3 240.6h0.7v0.7h-0.7zM270.5 256.7h0.7v0.7h-0.7zM267.7 262.0h0.7v0.7h-0.7zM267.9 255.6h0.7v0.7h-0.7zM268.6 263.6h0.7v0.7h-0.7zM273.0 266.3h0.7v0.7h-0.7z" fill="#8088c8"/>
<path d="M270.0 262.4h0.7v0.7h-0.7zM282.3 248.3h0.7v0.7h-0.7zM295.0 254.6h0.7v0.7h-0.7zM294.3 257.9h0.7v0.7h-0.7zM292.1 265.9h0.7v0.7h-0.7zM276.5 243.1h0.7v0.7h-0.7zM294.5 255.8h0.7v0.7h-0.7zM281.9 262.7h0.7v0.7h-0.7zM277.1 255.0h0.7v0.7h-0.7zM292.2 250.4h0.7v0.7h-0.7zM293.7 250.4h0.7v0.7h-0.7zM276.2 238.6h0.7v0.7h-0.7z" fill="#b8bce0"/>
<text x="244.3" y="200.8" font-size="4.7" fill="#333" font-weight="normal" text-anchor="start" stroke="#333" stroke-width="0.06">Q1</text>
<text x="244.3" y="208.9" font-size="4.7" fill="#333" font-weight="normal" text-anchor="start" stroke="#333" stroke-width="0.06">25.4</text>
<text x="336.8" y="200.8" font-size="4.7" fill="#333" font-weight="normal" text-anchor="end" stroke="#333" stroke-width="0.06">Q2</text>
<text x="336.8" y="208.9" font-size="4.7" fill="#333" font-weight="normal" text-anchor="end" stroke="#333" stroke-width="0.06">18.5</text>
<text x="336.8" y="285.7" font-size="4.7" fill="#333" font-weight="normal" text-anchor="end" stroke="#333" stroke-width="0.06">Q3</text>
<text x="336.8" y="292.7" font-size="4.7" fill="#333" font-weight="normal" text-anchor="end" stroke="#333" stroke-width="0.06">47.2</text>
<text x="244.3" y="285.7" font-size="4.7" fill="#333" font-weight="normal" text-anchor="start" stroke="#333" stroke-width="0.06">Q4</text>
<text x="244.3" y="292.7" font-size="4.7" fill="#333" font-weight="normal" text-anchor="start" stroke="#333" stroke-width="0.06">11.0</text>
<text x="246.7" y="225.4" font-size="6.3" fill="#f52a2a" font-weight="normal" text-anchor="start" stroke="#f52a2a" stroke-width="0.28">CD4+</text>
<text x="246.7" y="232.4" font-size="6.3" fill="#f52a2a" font-weight="normal" text-anchor="start" stroke="#f52a2a" stroke-width="0.28">Tem</text>
<text x="303" y="223.1" font-size="6.3" fill="#f52a2a" font-weight="normal" text-anchor="start" stroke="#f52a2a" stroke-width="0.28">CD4+</text>
<text x="303" y="230.1" font-size="6.3" fill="#f52a2a" font-weight="normal" text-anchor="start" stroke="#f52a2a" stroke-width="0.28">Tcm</text>
<text x="246.3" y="277.7" font-size="6.3" fill="#f52a2a" font-weight="normal" text-anchor="start" stroke="#f52a2a" stroke-width="0.28">CD4+</text>
<text x="246.3" y="284.7" font-size="6.3" fill="#f52a2a" font-weight="normal" text-anchor="start" stroke="#f52a2a" stroke-width="0.28">Teff</text>
<text x="303" y="275.5" font-size="6.3" fill="#f52a2a" font-weight="normal" text-anchor="start" stroke="#f52a2a" stroke-width="0.28">CD4+</text>
<text x="303" y="282.5" font-size="6.3" fill="#f52a2a" font-weight="normal" text-anchor="start" stroke="#f52a2a" stroke-width="0.28">Tnaiv</text>
<text x="369.6" y="245.4" font-size="5.15" fill="#333" text-anchor="middle" transform="rotate(-90 369.6 245.4)">Comp-PE-Cy7-A :: CD45RO</text>
<path d="M381.2,203.36H384.2M381.2,227.03H384.2M381.2,256.09H384.2M381.2,274.15H384.2M381.2,292.32H384.2M388.55,297.3V300.3M407.07,297.3V300.3M423.87,297.3V300.3M452.31,297.3V300.3M475.48,297.3V300.3" stroke="#222" stroke-width="1" fill="none"/>
<path d="M382.5,219.9H384.2M382.5,215.74H384.2M382.5,212.78H384.2M382.5,210.49H384.2M382.5,208.61H384.2M382.5,207.03H384.2M382.5,205.65H384.2M382.5,204.44H384.2M382.5,247.34H384.2M382.5,242.22H384.2M382.5,238.59H384.2M382.5,235.78H384.2M382.5,233.48H384.2M382.5,231.53H384.2M382.5,229.84H384.2M382.5,228.36H384.2M382.5,261.51H384.2M382.5,265.12H384.2M382.5,267.83H384.2M382.5,270.54H384.2M382.5,280.51H384.2M382.5,285.05H384.2M382.5,288.68H384.2M459.28,297.3V299M463.36,297.3V299M466.26,297.3V299M468.51,297.3V299M470.34,297.3V299M471.89,297.3V299M473.24,297.3V299M474.42,297.3V299M432.43,297.3V299M437.44,297.3V299M440.99,297.3V299M443.75,297.3V299M446,297.3V299M447.9,297.3V299M449.55,297.3V299M451.01,297.3V299M411.27,297.3V299M414.63,297.3V299M417.15,297.3V299M419.67,297.3V299M421.85,297.3V299M392.26,297.3V299M396.89,297.3V299M400.59,297.3V299M403.37,297.3V299" stroke="#444" stroke-width="0.65" fill="none"/>
<rect x="381.8" y="271.75" width="2.4" height="4.8" fill="#111"/>
<rect x="404.47" y="297.3" width="4.8" height="2.3" fill="#111"/>
<text x="379.5" y="205.46" font-size="4.5" fill="#2a2a2a" font-weight="normal" text-anchor="end">10<tspan font-size="3.7" dx="0.6" dy="-2.8">5</tspan></text>
<text x="379.5" y="229.13" font-size="4.5" fill="#2a2a2a" font-weight="normal" text-anchor="end">10<tspan font-size="3.7" dx="0.6" dy="-2.8">4</tspan></text>
<text x="379.5" y="258.19" font-size="4.5" fill="#2a2a2a" font-weight="normal" text-anchor="end">10<tspan font-size="3.7" dx="0.6" dy="-2.8">3</tspan></text>
<text x="377.4" y="276.55" font-size="4.5" fill="#2a2a2a" font-weight="normal" text-anchor="end">0</text>
<text x="379.5" y="294.42" font-size="4.5" fill="#2a2a2a" font-weight="normal" text-anchor="end">-10<tspan font-size="3.7" dx="0.6" dy="-2.8">3</tspan></text>
<text x="390.25" y="310.1" font-size="4.5" fill="#2a2a2a" font-weight="normal" text-anchor="middle">-10<tspan font-size="3.7" dx="0.6" dy="-3.0">3</tspan></text>
<text x="407.07" y="310.1" font-size="4.5" fill="#2a2a2a" font-weight="normal" text-anchor="middle">0</text>
<text x="425.57" y="310.1" font-size="4.5" fill="#2a2a2a" font-weight="normal" text-anchor="middle">10<tspan font-size="3.7" dx="0.6" dy="-3.0">3</tspan></text>
<text x="454.01" y="310.1" font-size="4.5" fill="#2a2a2a" font-weight="normal" text-anchor="middle">10<tspan font-size="3.7" dx="0.6" dy="-3.0">4</tspan></text>
<text x="477.18" y="310.1" font-size="4.5" fill="#2a2a2a" font-weight="normal" text-anchor="middle">10<tspan font-size="3.7" dx="0.6" dy="-3.0">5</tspan></text>
<rect x="384.2" y="193.5" width="101.2" height="103.8" fill="none" stroke="#7c7c7c" stroke-width="1.1"/>
<line x1="407.4" y1="193.5" x2="407.4" y2="297.3" stroke="#444" stroke-width="1.3"/>
<line x1="384.2" y1="266.2" x2="485.4" y2="266.2" stroke="#444" stroke-width="1.3"/>
<path d="M405.4 255.6h0.9v0.9h-0.9zM408.1 272.6h0.9v0.9h-0.9zM408.0 238.2h0.9v0.9h-0.9zM405.9 266.9h0.9v0.9h-0.9zM406.9 252.4h0.9v0.9h-0.9zM408.2 260.1h0.9v0.9h-0.9zM405.1 247.7h0.9v0.9h-0.9zM409.1 268.7h0.9v0.9h-0.9zM407.2 249.1h0.9v0.9h-0.9zM404.9 268.8h0.9v0.9h-0.9zM405.3 252.4h0.9v0.9h-0.9zM407.6 271.0h0.9v0.9h-0.9zM406.5 262.8h0.9v0.9h-0.9zM407.9 245.3h0.9v0.9h-0.9zM404.0 237.5h0.9v0.9h-0.9zM405.1 269.8h0.9v0.9h-0.9zM403.2 262.8h0.9v0.9h-0.9zM404.5 273.6h0.9v0.9h-0.9zM407.0 245.6h0.9v0.9h-0.9zM407.3 256.4h0.9v0.9h-0.9zM406.3 269.1h0.9v0.9h-0.9zM406.9 267.6h0.9v0.9h-0.9zM406.3 239.5h0.9v0.9h-0.9zM407.1 237.2h0.9v0.9h-0.9zM407.0 254.2h0.9v0.9h-0.9zM407.3 263.3h0.9v0.9h-0.9zM407.7 254.2h0.9v0.9h-0.9zM405.0 255.0h0.9v0.9h-0.9zM407.9 273.3h0.9v0.9h-0.9zM406.0 272.3h0.9v0.9h-0.9zM408.7 240.5h0.9v0.9h-0.9zM406.7 245.2h0.9v0.9h-0.9zM407.5 250.1h0.9v0.9h-0.9zM407.2 271.6h0.9v0.9h-0.9zM406.2 263.7h0.9v0.9h-0.9zM407.4 257.2h0.9v0.9h-0.9zM406.5 262.2h0.9v0.9h-0.9zM405.9 265.3h0.9v0.9h-0.9zM404.0 271.4h0.9v0.9h-0.9zM406.3 271.2h0.9v0.9h-0.9zM403.3 266.5h0.9v0.9h-0.9zM406.7 270.6h0.9v0.9h-0.9zM406.4 244.1h0.9v0.9h-0.9zM406.4 244.4h0.9v0.9h-0.9zM406.0 252.4h0.9v0.9h-0.9zM405.6 254.4h0.9v0.9h-0.9zM407.2 259.6h0.9v0.9h-0.9zM406.6 241.6h0.9v0.9h-0.9zM406.7 238.2h0.9v0.9h-0.9zM408.1 244.4h0.9v0.9h-0.9zM407.0 273.2h0.9v0.9h-0.9zM407.6 271.1h0.9v0.9h-0.9zM405.2 266.1h0.9v0.9h-0.9zM407.3 262.4h0.9v0.9h-0.9zM406.7 258.3h0.9v0.9h-0.9zM408.2 237.4h0.9v0.9h-0.9zM406.4 251.4h0.9v0.9h-0.9zM408.4 273.0h0.9v0.9h-0.9zM405.1 271.3h0.9v0.9h-0.9zM405.9 247.4h0.9v0.9h-0.9zM406.4 254.7h0.9v0.9h-0.9zM406.7 242.3h0.9v0.9h-0.9zM406.9 273.4h0.9v0.9h-0.9zM404.7 258.7h0.9v0.9h-0.9zM405.3 258.2h0.9v0.9h-0.9zM406.6 264.9h0.9v0.9h-0.9zM409.4 241.8h0.9v0.9h-0.9zM404.7 264.0h0.9v0.9h-0.9zM405.8 253.8h0.9v0.9h-0.9zM406.0 271.4h0.9v0.9h-0.9zM406.2 263.2h0.9v0.9h-0.9zM405.8 254.6h0.9v0.9h-0.9zM408.4 263.4h0.9v0.9h-0.9zM408.0 269.9h0.9v0.9h-0.9zM407.7 259.0h0.9v0.9h-0.9zM407.4 251.7h0.9v0.9h-0.9zM406.0 270.0h0.9v0.9h-0.9zM406.5 272.3h0.9v0.9h-0.9zM407.3 245.8h0.9v0.9h-0.9zM404.9 236.5h0.9v0.9h-0.9zM407.3 246.5h0.9v0.9h-0.9zM407.8 271.7h0.9v0.9h-0.9zM407.5 262.9h0.9v0.9h-0.9zM406.6 244.6h0.9v0.9h-0.9zM407.4 270.2h0.9v0.9h-0.9zM407.2 273.7h0.9v0.9h-0.9zM406.8 270.7h0.9v0.9h-0.9zM407.7 270.2h0.9v0.9h-0.9zM408.2 272.3h0.9v0.9h-0.9zM407.4 239.3h0.9v0.9h-0.9zM407.6 268.6h0.9v0.9h-0.9zM407.5 253.3h0.9v0.9h-0.9zM407.7 273.7h0.9v0.9h-0.9zM408.7 240.1h0.9v0.9h-0.9zM408.0 271.1h0.9v0.9h-0.9zM405.1 270.0h0.9v0.9h-0.9zM406.6 259.1h0.9v0.9h-0.9zM409.3 237.6h0.9v0.9h-0.9zM407.5 267.8h0.9v0.9h-0.9zM407.0 257.0h0.9v0.9h-0.9zM405.7 271.0h0.9v0.9h-0.9zM406.2 259.2h0.9v0.9h-0.9zM405.9 267.7h0.9v0.9h-0.9zM405.9 259.7h0.9v0.9h-0.9zM406.0 267.3h0.9v0.9h-0.9zM406.2 270.0h0.9v0.9h-0.9zM406.6 267.8h0.9v0.9h-0.9zM406.0 248.8h0.9v0.9h-0.9zM407.2 248.0h0.9v0.9h-0.9zM409.2 256.0h0.9v0.9h-0.9zM406.5 237.3h0.9v0.9h-0.9zM407.0 252.1h0.9v0.9h-0.9zM406.3 268.4h0.9v0.9h-0.9z" fill="#2a3aa6"/>
<path d="M412.7 273.9h0.8v0.8h-0.8zM410.6 273.9h0.8v0.8h-0.8zM410.1 274.5h0.8v0.8h-0.8zM410.4 272.1h0.8v0.8h-0.8zM411.6 272.9h0.8v0.8h-0.8zM413.6 273.3h0.8v0.8h-0.8zM410.4 273.5h0.8v0.8h-0.8zM409.9 273.2h0.8v0.8h-0.8zM415.0 273.4h0.8v0.8h-0.8zM413.3 273.6h0.8v0.8h-0.8zM412.2 272.6h0.8v0.8h-0.8zM413.7 274.0h0.8v0.8h-0.8zM410.1 270.6h0.8v0.8h-0.8zM412.6 274.0h0.8v0.8h-0.8zM410.2 274.5h0.8v0.8h-0.8zM411.0 274.0h0.8v0.8h-0.8zM411.6 273.7h0.8v0.8h-0.8zM411.7 273.0h0.8v0.8h-0.8zM410.4 274.9h0.8v0.8h-0.8zM410.2 271.6h0.8v0.8h-0.8z" fill="#4a64cc"/>
<path d="M405.9 247.2h0.9v0.9h-0.9zM408.0 242.7h0.9v0.9h-0.9zM405.2 241.3h0.9v0.9h-0.9zM405.7 244.0h0.9v0.9h-0.9zM404.6 251.8h0.9v0.9h-0.9zM405.4 268.4h0.9v0.9h-0.9zM407.8 238.5h0.9v0.9h-0.9zM406.4 264.7h0.9v0.9h-0.9zM406.3 237.8h0.9v0.9h-0.9zM405.4 264.7h0.9v0.9h-0.9zM407.3 258.6h0.9v0.9h-0.9zM405.9 263.5h0.9v0.9h-0.9zM407.7 263.1h0.9v0.9h-0.9zM407.0 271.7h0.9v0.9h-0.9zM405.6 258.2h0.9v0.9h-0.9zM407.3 260.8h0.9v0.9h-0.9zM406.3 258.6h0.9v0.9h-0.9zM408.4 271.6h0.9v0.9h-0.9zM407.4 267.2h0.9v0.9h-0.9zM405.7 266.5h0.9v0.9h-0.9zM405.3 270.7h0.9v0.9h-0.9zM405.0 248.2h0.9v0.9h-0.9zM407.9 268.0h0.9v0.9h-0.9zM405.0 244.0h0.9v0.9h-0.9zM406.6 273.3h0.9v0.9h-0.9zM407.3 267.7h0.9v0.9h-0.9zM407.9 249.7h0.9v0.9h-0.9zM407.3 250.1h0.9v0.9h-0.9zM407.0 257.7h0.9v0.9h-0.9zM405.8 262.6h0.9v0.9h-0.9zM405.8 269.3h0.9v0.9h-0.9zM405.3 265.7h0.9v0.9h-0.9zM407.9 261.0h0.9v0.9h-0.9zM406.1 273.7h0.9v0.9h-0.9zM405.3 266.4h0.9v0.9h-0.9zM405.4 247.8h0.9v0.9h-0.9zM407.6 273.7h0.9v0.9h-0.9zM405.4 236.7h0.9v0.9h-0.9zM407.6 259.6h0.9v0.9h-0.9zM406.7 258.3h0.9v0.9h-0.9zM406.2 238.1h0.9v0.9h-0.9zM406.3 255.4h0.9v0.9h-0.9zM405.6 265.1h0.9v0.9h-0.9zM406.7 273.6h0.9v0.9h-0.9zM407.3 253.4h0.9v0.9h-0.9zM407.5 242.6h0.9v0.9h-0.9zM406.0 261.1h0.9v0.9h-0.9zM406.6 256.1h0.9v0.9h-0.9zM407.4 253.7h0.9v0.9h-0.9zM405.1 268.0h0.9v0.9h-0.9zM407.9 250.5h0.9v0.9h-0.9zM406.2 267.1h0.9v0.9h-0.9zM406.9 261.0h0.9v0.9h-0.9zM407.4 267.5h0.9v0.9h-0.9zM405.8 248.4h0.9v0.9h-0.9zM406.7 254.4h0.9v0.9h-0.9zM406.0 272.9h0.9v0.9h-0.9zM407.4 261.6h0.9v0.9h-0.9zM406.4 255.6h0.9v0.9h-0.9zM407.4 240.1h0.9v0.9h-0.9zM406.1 242.2h0.9v0.9h-0.9zM407.0 273.2h0.9v0.9h-0.9zM407.4 245.3h0.9v0.9h-0.9zM405.2 266.3h0.9v0.9h-0.9zM407.4 258.5h0.9v0.9h-0.9zM406.4 273.1h0.9v0.9h-0.9zM407.7 259.5h0.9v0.9h-0.9zM406.8 238.0h0.9v0.9h-0.9zM406.0 254.8h0.9v0.9h-0.9zM407.7 254.5h0.9v0.9h-0.9zM408.2 260.5h0.9v0.9h-0.9zM406.0 246.0h0.9v0.9h-0.9zM407.4 239.0h0.9v0.9h-0.9zM407.7 252.3h0.9v0.9h-0.9zM407.0 250.2h0.9v0.9h-0.9zM406.0 248.0h0.9v0.9h-0.9zM406.3 237.6h0.9v0.9h-0.9zM406.5 255.9h0.9v0.9h-0.9zM407.7 248.6h0.9v0.9h-0.9zM407.3 266.9h0.9v0.9h-0.9zM405.2 264.6h0.9v0.9h-0.9zM406.2 264.0h0.9v0.9h-0.9zM407.4 272.1h0.9v0.9h-0.9zM404.7 240.7h0.9v0.9h-0.9zM404.9 252.1h0.9v0.9h-0.9zM406.4 245.1h0.9v0.9h-0.9zM406.9 255.8h0.9v0.9h-0.9zM407.7 245.7h0.9v0.9h-0.9zM406.4 257.9h0.9v0.9h-0.9zM405.6 254.9h0.9v0.9h-0.9zM406.6 237.9h0.9v0.9h-0.9z" fill="#4a64cc"/>
<path d="M401.3 270.6h1v1h-1zM410.7 271.2h1v1h-1zM410.5 272.0h1v1h-1zM409.8 269.7h1v1h-1zM408.1 275.8h1v1h-1zM409.9 276.7h1v1h-1zM406.8 275.3h1v1h-1zM405.8 271.4h1v1h-1zM407.2 276.6h1v1h-1zM411.5 275.4h1v1h-1zM405.7 273.7h1v1h-1zM410.9 272.1h1v1h-1zM410.3 277.1h1v1h-1zM412.8 271.1h1v1h-1zM407.6 269.5h1v1h-1zM407.2 269.9h1v1h-1zM405.1 273.4h1v1h-1zM411.0 274.3h1v1h-1zM409.6 270.9h1v1h-1zM411.5 276.1h1v1h-1zM410.5 275.2h1v1h-1zM407.3 269.8h1v1h-1zM404.5 272.6h1v1h-1zM410.9 269.9h1v1h-1z" fill="#4a64cc"/>
<path d="M406.4 272.9h0.9v0.9h-0.9zM406.2 264.7h0.9v0.9h-0.9zM406.9 253.7h0.9v0.9h-0.9zM406.3 272.7h0.9v0.9h-0.9zM406.2 257.7h0.9v0.9h-0.9zM406.5 266.5h0.9v0.9h-0.9zM406.4 268.7h0.9v0.9h-0.9zM406.2 261.3h0.9v0.9h-0.9zM407.2 265.3h0.9v0.9h-0.9zM406.1 244.4h0.9v0.9h-0.9zM406.7 261.8h0.9v0.9h-0.9zM405.9 269.8h0.9v0.9h-0.9zM406.4 246.2h0.9v0.9h-0.9zM406.5 268.6h0.9v0.9h-0.9zM406.1 268.6h0.9v0.9h-0.9zM406.4 260.1h0.9v0.9h-0.9zM406.1 238.1h0.9v0.9h-0.9zM407.0 243.0h0.9v0.9h-0.9zM406.5 250.5h0.9v0.9h-0.9zM406.9 242.9h0.9v0.9h-0.9zM405.9 269.9h0.9v0.9h-0.9zM407.1 239.9h0.9v0.9h-0.9zM407.2 246.7h0.9v0.9h-0.9zM407.0 254.6h0.9v0.9h-0.9zM406.1 254.4h0.9v0.9h-0.9zM406.4 272.9h0.9v0.9h-0.9zM406.7 263.2h0.9v0.9h-0.9zM407.2 270.6h0.9v0.9h-0.9z" fill="#30b8e0"/>
<path d="M408.3 275.2h1v1h-1zM406.3 273.6h1v1h-1zM410.4 272.3h1v1h-1zM406.8 274.7h1v1h-1zM409.3 275.2h1v1h-1zM406.8 271.8h1v1h-1z" fill="#30b8e0"/>
<path d="M406.8 273.0h0.9v0.9h-0.9zM407.2 272.8h0.9v0.9h-0.9zM406.3 250.1h0.9v0.9h-0.9zM406.1 240.0h0.9v0.9h-0.9zM406.4 252.7h0.9v0.9h-0.9zM406.9 238.0h0.9v0.9h-0.9zM406.2 244.1h0.9v0.9h-0.9zM407.1 241.5h0.9v0.9h-0.9zM407.1 241.6h0.9v0.9h-0.9zM407.2 247.7h0.9v0.9h-0.9zM406.0 242.9h0.9v0.9h-0.9zM406.7 240.3h0.9v0.9h-0.9zM406.8 252.2h0.9v0.9h-0.9zM406.4 270.1h0.9v0.9h-0.9zM406.9 253.4h0.9v0.9h-0.9zM405.9 272.8h0.9v0.9h-0.9zM406.3 236.8h0.9v0.9h-0.9zM406.9 237.0h0.9v0.9h-0.9zM406.7 263.4h0.9v0.9h-0.9zM406.1 239.8h0.9v0.9h-0.9zM407.2 260.0h0.9v0.9h-0.9zM406.5 265.5h0.9v0.9h-0.9zM406.3 258.8h0.9v0.9h-0.9zM406.8 268.1h0.9v0.9h-0.9zM406.1 256.4h0.9v0.9h-0.9zM407.1 266.8h0.9v0.9h-0.9zM407.0 248.0h0.9v0.9h-0.9zM406.5 243.4h0.9v0.9h-0.9z" fill="#40c070"/>
<path d="M409.4 272.0h1v1h-1zM409.2 271.6h1v1h-1zM409.8 272.4h1v1h-1zM408.7 274.9h1v1h-1zM407.1 272.1h1v1h-1zM409.3 271.6h1v1h-1zM407.4 271.7h1v1h-1zM410.0 272.9h1v1h-1zM410.2 273.1h1v1h-1zM407.4 272.0h1v1h-1zM409.9 272.2h1v1h-1zM409.9 272.4h1v1h-1zM408.1 274.7h1v1h-1zM407.9 274.8h1v1h-1zM407.5 274.6h1v1h-1zM407.5 274.4h1v1h-1z" fill="#40c070"/>
<path d="M407.8 274.2h1v1h-1zM407.5 272.5h1v1h-1zM407.3 273.9h1v1h-1zM408.9 274.2h1v1h-1zM409.0 274.1h1v1h-1zM409.5 273.2h1v1h-1zM409.1 274.0h1v1h-1zM407.2 273.6h1v1h-1zM407.1 272.8h1v1h-1zM408.2 272.1h1v1h-1zM408.0 272.1h1v1h-1zM409.5 273.8h1v1h-1zM407.4 273.8h1v1h-1zM407.2 272.9h1v1h-1z" fill="#b8e040"/>
<path d="M407.6 273.8h1v1h-1zM408.1 272.5h1v1h-1zM408.5 273.9h1v1h-1zM407.7 273.7h1v1h-1zM407.4 272.8h1v1h-1zM407.4 272.9h1v1h-1zM407.5 273.1h1v1h-1z" fill="#f0e030"/>
<path d="M408.9 273.2h1v1h-1zM408.7 273.1h1v1h-1zM408.2 273.0h1v1h-1z" fill="#f08020"/>
<path d="M408.7 262.4h0.7v0.7h-0.7zM409.0 256.7h0.7v0.7h-0.7zM409.3 266.4h0.7v0.7h-0.7zM410.0 273.5h0.7v0.7h-0.7zM418.9 270.1h0.7v0.7h-0.7zM413.3 264.3h0.7v0.7h-0.7zM408.7 249.1h0.7v0.7h-0.7zM411.3 268.5h0.7v0.7h-0.7zM412.0 264.5h0.7v0.7h-0.7zM409.4 262.2h0.7v0.7h-0.7zM411.0 272.7h0.7v0.7h-0.7zM412.1 270.0h0.7v0.7h-0.7zM410.0 256.3h0.7v0.7h-0.7zM416.1 273.8h0.7v0.7h-0.7zM413.2 249.5h0.7v0.7h-0.7zM409.9 273.4h0.7v0.7h-0.7zM411.0 263.5h0.7v0.7h-0.7zM413.2 268.1h0.7v0.7h-0.7zM414.1 273.4h0.7v0.7h-0.7zM411.8 270.9h0.7v0.7h-0.7zM409.1 250.3h0.7v0.7h-0.7zM412.8 271.2h0.7v0.7h-0.7zM411.1 272.4h0.7v0.7h-0.7zM415.3 257.7h0.7v0.7h-0.7zM417.3 264.6h0.7v0.7h-0.7zM411.0 265.6h0.7v0.7h-0.7zM409.1 246.1h0.7v0.7h-0.7zM409.3 248.1h0.7v0.7h-0.7zM417.4 259.1h0.7v0.7h-0.7zM411.6 251.8h0.7v0.7h-0.7zM409.2 257.4h0.7v0.7h-0.7zM410.4 247.3h0.7v0.7h-0.7zM410.4 268.6h0.7v0.7h-0.7zM414.7 262.4h0.7v0.7h-0.7zM411.0 261.9h0.7v0.7h-0.7zM411.2 244.6h0.7v0.7h-0.7zM409.3 266.7h0.7v0.7h-0.7zM409.2 270.1h0.7v0.7h-0.7zM416.3 244.5h0.7v0.7h-0.7zM411.6 268.6h0.7v0.7h-0.7z" fill="#8088c8"/>
<path d="M432.2 259.2h0.7v0.7h-0.7zM423.7 257.0h0.7v0.7h-0.7zM421.5 266.4h0.7v0.7h-0.7zM414.6 272.0h0.7v0.7h-0.7zM438.3 271.0h0.7v0.7h-0.7zM429.6 246.2h0.7v0.7h-0.7zM432.7 258.4h0.7v0.7h-0.7zM428.4 244.7h0.7v0.7h-0.7zM432.6 252.4h0.7v0.7h-0.7zM431.4 270.6h0.7v0.7h-0.7zM415.9 270.9h0.7v0.7h-0.7zM423.4 263.9h0.7v0.7h-0.7z" fill="#b8bce0"/>
<text x="385.9" y="202.6" font-size="4.7" fill="#333" font-weight="normal" text-anchor="start" stroke="#333" stroke-width="0.06">Q1</text>
<text x="385.9" y="210.7" font-size="4.7" fill="#333" font-weight="normal" text-anchor="start" stroke="#333" stroke-width="0.06">38.5</text>
<text x="476.3" y="202.6" font-size="4.7" fill="#333" font-weight="normal" text-anchor="end" stroke="#333" stroke-width="0.06">Q2</text>
<text x="476.3" y="210.7" font-size="4.7" fill="#333" font-weight="normal" text-anchor="end" stroke="#333" stroke-width="0.06">25.2</text>
<text x="476.3" y="284.2" font-size="4.7" fill="#333" font-weight="normal" text-anchor="end" stroke="#333" stroke-width="0.06">Q3</text>
<text x="476.3" y="291.2" font-size="4.7" fill="#333" font-weight="normal" text-anchor="end" stroke="#333" stroke-width="0.06">27.5</text>
<text x="385.9" y="284.2" font-size="4.7" fill="#333" font-weight="normal" text-anchor="start" stroke="#333" stroke-width="0.06">Q4</text>
<text x="385.9" y="291.2" font-size="4.7" fill="#333" font-weight="normal" text-anchor="start" stroke="#333" stroke-width="0.06">8.79</text>
<text x="389.2" y="223.6" font-size="6.3" fill="#f52a2a" font-weight="normal" text-anchor="start" stroke="#f52a2a" stroke-width="0.28">CD4+</text>
<text x="389.2" y="230.6" font-size="6.3" fill="#f52a2a" font-weight="normal" text-anchor="start" stroke="#f52a2a" stroke-width="0.28">Tem</text>
<text x="443.5" y="223.6" font-size="6.3" fill="#f52a2a" font-weight="normal" text-anchor="start" stroke="#f52a2a" stroke-width="0.28">CD4+</text>
<text x="443.5" y="230.6" font-size="6.3" fill="#f52a2a" font-weight="normal" text-anchor="start" stroke="#f52a2a" stroke-width="0.28">Tcm</text>
<text x="389.2" y="277.7" font-size="6.3" fill="#f52a2a" font-weight="normal" text-anchor="start" stroke="#f52a2a" stroke-width="0.28">CD4+</text>
<text x="389.2" y="284.7" font-size="6.3" fill="#f52a2a" font-weight="normal" text-anchor="start" stroke="#f52a2a" stroke-width="0.28">Teff</text>
<text x="443" y="275" font-size="6.3" fill="#f52a2a" font-weight="normal" text-anchor="start" stroke="#f52a2a" stroke-width="0.28">CD4+</text>
<text x="443" y="282" font-size="6.3" fill="#f52a2a" font-weight="normal" text-anchor="start" stroke="#f52a2a" stroke-width="0.28">Tnaiv</text>
<text x="519.1" y="246.15" font-size="5.15" fill="#333" text-anchor="middle" transform="rotate(-90 519.1 246.15)">Comp-PE-Cy7-A :: CD45RO</text>
<path d="M530.7,203.5H533.7M530.7,227.51H533.7M530.7,257H533.7M530.7,275.32H533.7M530.7,293.75H533.7M537.87,298.8V301.8M555.62,298.8V301.8M571.72,298.8V301.8M598.98,298.8V301.8M621.19,298.8V301.8" stroke="#222" stroke-width="1" fill="none"/>
<path d="M532,220.28H533.7M532,216.06H533.7M532,213.06H533.7M532,210.73H533.7M532,208.83H533.7M532,207.22H533.7M532,205.83H533.7M532,204.6H533.7M532,248.12H533.7M532,242.93H533.7M532,239.24H533.7M532,236.39H533.7M532,234.05H533.7M532,232.08H533.7M532,230.37H533.7M532,228.86H533.7M532,262.49H533.7M532,266.16H533.7M532,268.91H533.7M532,271.65H533.7M532,281.77H533.7M532,286.37H533.7M532,290.06H533.7M605.67,298.8V300.5M609.58,298.8V300.5M612.35,298.8V300.5M614.51,298.8V300.5M616.27,298.8V300.5M617.75,298.8V300.5M619.04,298.8V300.5M620.18,298.8V300.5M579.93,298.8V300.5M584.73,298.8V300.5M588.13,298.8V300.5M590.78,298.8V300.5M592.93,298.8V300.5M594.76,298.8V300.5M596.34,298.8V300.5M597.73,298.8V300.5M559.65,298.8V300.5M562.87,298.8V300.5M565.28,298.8V300.5M567.7,298.8V300.5M569.79,298.8V300.5M541.42,298.8V300.5M545.86,298.8V300.5M549.41,298.8V300.5M552.07,298.8V300.5" stroke="#444" stroke-width="0.65" fill="none"/>
<rect x="531.3" y="272.92" width="2.4" height="4.8" fill="#111"/>
<rect x="553.02" y="298.8" width="4.8" height="2.3" fill="#111"/>
<text x="529" y="205.6" font-size="4.5" fill="#2a2a2a" font-weight="normal" text-anchor="end">10<tspan font-size="3.7" dx="0.6" dy="-2.8">5</tspan></text>
<text x="529" y="229.61" font-size="4.5" fill="#2a2a2a" font-weight="normal" text-anchor="end">10<tspan font-size="3.7" dx="0.6" dy="-2.8">4</tspan></text>
<text x="529" y="259.1" font-size="4.5" fill="#2a2a2a" font-weight="normal" text-anchor="end">10<tspan font-size="3.7" dx="0.6" dy="-2.8">3</tspan></text>
<text x="526.9" y="277.72" font-size="4.5" fill="#2a2a2a" font-weight="normal" text-anchor="end">0</text>
<text x="529" y="295.85" font-size="4.5" fill="#2a2a2a" font-weight="normal" text-anchor="end">-10<tspan font-size="3.7" dx="0.6" dy="-2.8">3</tspan></text>
<text x="539.57" y="311.6" font-size="4.5" fill="#2a2a2a" font-weight="normal" text-anchor="middle">-10<tspan font-size="3.7" dx="0.6" dy="-3.0">3</tspan></text>
<text x="555.62" y="311.6" font-size="4.5" fill="#2a2a2a" font-weight="normal" text-anchor="middle">0</text>
<text x="573.42" y="311.6" font-size="4.5" fill="#2a2a2a" font-weight="normal" text-anchor="middle">10<tspan font-size="3.7" dx="0.6" dy="-3.0">3</tspan></text>
<text x="600.68" y="311.6" font-size="4.5" fill="#2a2a2a" font-weight="normal" text-anchor="middle">10<tspan font-size="3.7" dx="0.6" dy="-3.0">4</tspan></text>
<text x="622.89" y="311.6" font-size="4.5" fill="#2a2a2a" font-weight="normal" text-anchor="middle">10<tspan font-size="3.7" dx="0.6" dy="-3.0">5</tspan></text>
<rect x="533.7" y="193.5" width="97" height="105.3" fill="none" stroke="#7c7c7c" stroke-width="1.1"/>
<line x1="555.6" y1="193.5" x2="555.6" y2="298.8" stroke="#444" stroke-width="1.3"/>
<line x1="533.7" y1="268.5" x2="630.7" y2="268.5" stroke="#444" stroke-width="1.3"/>
<path d="M553.4 263.1h0.9v0.9h-0.9zM556.0 273.7h0.9v0.9h-0.9zM554.6 256.6h0.9v0.9h-0.9zM553.0 275.7h0.9v0.9h-0.9zM555.8 276.0h0.9v0.9h-0.9zM554.9 269.9h0.9v0.9h-0.9zM555.5 271.3h0.9v0.9h-0.9zM554.2 275.4h0.9v0.9h-0.9zM553.5 271.2h0.9v0.9h-0.9zM553.2 276.0h0.9v0.9h-0.9zM553.9 265.1h0.9v0.9h-0.9zM555.9 254.6h0.9v0.9h-0.9zM554.0 244.2h0.9v0.9h-0.9zM556.6 276.0h0.9v0.9h-0.9zM555.5 265.7h0.9v0.9h-0.9zM555.7 251.8h0.9v0.9h-0.9zM553.7 253.6h0.9v0.9h-0.9zM553.1 263.9h0.9v0.9h-0.9zM553.2 275.8h0.9v0.9h-0.9zM555.9 246.5h0.9v0.9h-0.9zM553.5 270.6h0.9v0.9h-0.9zM554.0 275.7h0.9v0.9h-0.9zM553.9 249.6h0.9v0.9h-0.9zM553.6 242.0h0.9v0.9h-0.9zM556.0 247.5h0.9v0.9h-0.9zM554.9 273.5h0.9v0.9h-0.9zM553.5 263.0h0.9v0.9h-0.9zM555.7 249.7h0.9v0.9h-0.9zM554.2 245.8h0.9v0.9h-0.9zM553.8 273.7h0.9v0.9h-0.9zM555.8 240.2h0.9v0.9h-0.9zM556.5 263.7h0.9v0.9h-0.9zM553.4 247.0h0.9v0.9h-0.9zM557.1 242.5h0.9v0.9h-0.9zM553.0 267.8h0.9v0.9h-0.9zM556.3 275.1h0.9v0.9h-0.9zM553.1 264.9h0.9v0.9h-0.9zM553.8 236.4h0.9v0.9h-0.9zM553.1 251.4h0.9v0.9h-0.9zM553.6 265.5h0.9v0.9h-0.9zM556.0 249.9h0.9v0.9h-0.9zM553.3 256.3h0.9v0.9h-0.9zM553.0 236.7h0.9v0.9h-0.9zM554.4 276.0h0.9v0.9h-0.9zM555.1 239.5h0.9v0.9h-0.9zM555.9 273.7h0.9v0.9h-0.9zM554.3 241.8h0.9v0.9h-0.9zM554.1 236.0h0.9v0.9h-0.9zM556.7 234.9h0.9v0.9h-0.9zM556.5 254.9h0.9v0.9h-0.9zM554.8 236.6h0.9v0.9h-0.9zM554.7 262.2h0.9v0.9h-0.9zM555.4 260.2h0.9v0.9h-0.9zM554.2 276.0h0.9v0.9h-0.9zM554.7 272.7h0.9v0.9h-0.9zM554.9 244.5h0.9v0.9h-0.9zM554.8 250.7h0.9v0.9h-0.9zM555.1 249.7h0.9v0.9h-0.9zM553.7 237.2h0.9v0.9h-0.9zM556.4 244.7h0.9v0.9h-0.9zM554.2 239.3h0.9v0.9h-0.9zM554.6 264.0h0.9v0.9h-0.9zM554.6 270.5h0.9v0.9h-0.9zM557.0 254.2h0.9v0.9h-0.9zM554.3 245.3h0.9v0.9h-0.9zM554.7 251.7h0.9v0.9h-0.9zM554.2 252.6h0.9v0.9h-0.9zM555.3 257.9h0.9v0.9h-0.9zM555.2 271.8h0.9v0.9h-0.9zM556.3 261.4h0.9v0.9h-0.9zM552.5 239.9h0.9v0.9h-0.9zM555.2 266.9h0.9v0.9h-0.9zM554.1 273.7h0.9v0.9h-0.9zM554.2 260.8h0.9v0.9h-0.9zM553.5 241.3h0.9v0.9h-0.9zM554.1 254.4h0.9v0.9h-0.9zM553.9 262.6h0.9v0.9h-0.9zM555.7 274.4h0.9v0.9h-0.9zM554.0 265.8h0.9v0.9h-0.9zM554.6 265.9h0.9v0.9h-0.9zM555.9 246.4h0.9v0.9h-0.9zM555.3 272.7h0.9v0.9h-0.9zM554.0 257.7h0.9v0.9h-0.9zM554.7 272.0h0.9v0.9h-0.9zM555.5 237.0h0.9v0.9h-0.9zM555.7 272.4h0.9v0.9h-0.9zM553.9 254.1h0.9v0.9h-0.9zM554.6 268.5h0.9v0.9h-0.9zM556.1 265.0h0.9v0.9h-0.9zM554.8 261.8h0.9v0.9h-0.9zM552.1 249.6h0.9v0.9h-0.9zM556.2 274.7h0.9v0.9h-0.9zM553.6 252.0h0.9v0.9h-0.9zM555.9 266.3h0.9v0.9h-0.9zM555.4 257.3h0.9v0.9h-0.9zM555.9 240.4h0.9v0.9h-0.9zM554.3 275.4h0.9v0.9h-0.9zM555.4 264.6h0.9v0.9h-0.9zM554.0 244.4h0.9v0.9h-0.9zM555.3 254.5h0.9v0.9h-0.9zM555.0 262.6h0.9v0.9h-0.9z" fill="#2a3aa6"/>
<path d="M560.2 273.5h0.8v0.8h-0.8zM559.0 274.8h0.8v0.8h-0.8zM559.1 275.5h0.8v0.8h-0.8zM561.4 274.9h0.8v0.8h-0.8zM561.7 275.8h0.8v0.8h-0.8zM561.7 272.8h0.8v0.8h-0.8zM559.0 274.8h0.8v0.8h-0.8zM564.2 272.5h0.8v0.8h-0.8zM559.6 271.9h0.8v0.8h-0.8zM559.0 274.3h0.8v0.8h-0.8zM565.7 274.0h0.8v0.8h-0.8zM566.4 274.3h0.8v0.8h-0.8zM560.1 274.9h0.8v0.8h-0.8zM559.4 274.9h0.8v0.8h-0.8zM559.0 272.1h0.8v0.8h-0.8zM560.9 272.3h0.8v0.8h-0.8zM561.8 273.5h0.8v0.8h-0.8zM562.1 276.3h0.8v0.8h-0.8zM559.5 273.7h0.8v0.8h-0.8zM559.4 272.7h0.8v0.8h-0.8z" fill="#4a64cc"/>
<path d="M554.6 274.6h0.9v0.9h-0.9zM554.7 239.8h0.9v0.9h-0.9zM555.0 248.6h0.9v0.9h-0.9zM554.3 270.9h0.9v0.9h-0.9zM553.8 238.7h0.9v0.9h-0.9zM555.3 255.8h0.9v0.9h-0.9zM554.2 273.5h0.9v0.9h-0.9zM553.9 261.1h0.9v0.9h-0.9zM554.0 275.7h0.9v0.9h-0.9zM554.6 264.4h0.9v0.9h-0.9zM555.8 235.0h0.9v0.9h-0.9zM554.2 244.1h0.9v0.9h-0.9zM555.9 255.2h0.9v0.9h-0.9zM554.3 275.4h0.9v0.9h-0.9zM553.4 240.7h0.9v0.9h-0.9zM555.0 259.7h0.9v0.9h-0.9zM555.9 253.5h0.9v0.9h-0.9zM554.2 248.2h0.9v0.9h-0.9zM553.3 247.1h0.9v0.9h-0.9zM555.0 247.2h0.9v0.9h-0.9zM555.4 239.3h0.9v0.9h-0.9zM555.0 265.5h0.9v0.9h-0.9zM554.1 260.6h0.9v0.9h-0.9zM554.8 271.1h0.9v0.9h-0.9zM555.6 275.4h0.9v0.9h-0.9zM553.1 268.2h0.9v0.9h-0.9zM555.1 249.1h0.9v0.9h-0.9zM553.7 251.0h0.9v0.9h-0.9zM552.9 251.6h0.9v0.9h-0.9zM555.2 271.7h0.9v0.9h-0.9zM555.0 262.1h0.9v0.9h-0.9zM556.7 272.2h0.9v0.9h-0.9zM555.3 254.3h0.9v0.9h-0.9zM553.5 273.8h0.9v0.9h-0.9zM556.2 254.4h0.9v0.9h-0.9zM554.1 275.0h0.9v0.9h-0.9zM554.5 237.6h0.9v0.9h-0.9zM554.6 256.0h0.9v0.9h-0.9zM552.6 248.0h0.9v0.9h-0.9zM554.5 257.0h0.9v0.9h-0.9zM554.2 262.5h0.9v0.9h-0.9zM557.4 269.5h0.9v0.9h-0.9zM553.6 273.7h0.9v0.9h-0.9zM555.5 253.7h0.9v0.9h-0.9zM555.5 269.0h0.9v0.9h-0.9zM555.1 263.9h0.9v0.9h-0.9zM553.4 258.1h0.9v0.9h-0.9zM553.2 249.9h0.9v0.9h-0.9zM553.6 262.9h0.9v0.9h-0.9zM554.5 266.0h0.9v0.9h-0.9zM553.6 258.3h0.9v0.9h-0.9zM554.8 256.0h0.9v0.9h-0.9zM555.1 273.4h0.9v0.9h-0.9zM554.9 275.0h0.9v0.9h-0.9zM554.5 269.8h0.9v0.9h-0.9zM554.4 270.9h0.9v0.9h-0.9zM553.7 271.6h0.9v0.9h-0.9zM555.7 245.8h0.9v0.9h-0.9zM556.1 267.6h0.9v0.9h-0.9zM557.4 272.1h0.9v0.9h-0.9zM554.1 270.1h0.9v0.9h-0.9zM556.1 266.8h0.9v0.9h-0.9zM554.2 253.3h0.9v0.9h-0.9zM556.5 246.7h0.9v0.9h-0.9zM553.1 263.5h0.9v0.9h-0.9zM554.8 271.8h0.9v0.9h-0.9zM555.4 257.1h0.9v0.9h-0.9zM553.6 263.7h0.9v0.9h-0.9zM555.5 261.5h0.9v0.9h-0.9zM554.1 255.4h0.9v0.9h-0.9zM554.7 244.5h0.9v0.9h-0.9zM555.9 252.9h0.9v0.9h-0.9zM553.7 266.8h0.9v0.9h-0.9zM554.4 247.4h0.9v0.9h-0.9zM554.2 239.5h0.9v0.9h-0.9zM553.6 265.1h0.9v0.9h-0.9zM555.3 248.1h0.9v0.9h-0.9zM554.5 242.6h0.9v0.9h-0.9zM555.9 253.6h0.9v0.9h-0.9zM554.9 260.4h0.9v0.9h-0.9zM555.8 262.5h0.9v0.9h-0.9zM555.4 274.1h0.9v0.9h-0.9zM554.2 234.9h0.9v0.9h-0.9zM553.6 260.8h0.9v0.9h-0.9zM554.0 267.7h0.9v0.9h-0.9zM555.8 242.5h0.9v0.9h-0.9z" fill="#4a64cc"/>
<path d="M554.1 275.0h1v1h-1zM556.5 276.7h1v1h-1zM554.8 276.5h1v1h-1zM556.0 270.8h1v1h-1zM557.2 268.7h1v1h-1zM554.0 272.5h1v1h-1zM554.7 277.1h1v1h-1zM554.5 275.4h1v1h-1zM559.6 276.3h1v1h-1zM558.0 279.2h1v1h-1zM555.5 276.6h1v1h-1zM557.6 276.7h1v1h-1zM554.3 275.4h1v1h-1zM560.0 273.4h1v1h-1zM559.4 276.9h1v1h-1zM558.3 270.7h1v1h-1zM559.9 276.8h1v1h-1zM559.9 277.4h1v1h-1zM557.8 270.0h1v1h-1zM559.9 274.8h1v1h-1zM555.8 276.8h1v1h-1zM559.4 275.7h1v1h-1zM553.7 274.6h1v1h-1zM553.9 272.6h1v1h-1zM554.2 272.0h1v1h-1zM554.9 276.4h1v1h-1zM560.5 274.0h1v1h-1zM553.7 276.2h1v1h-1zM555.2 269.6h1v1h-1zM555.4 276.1h1v1h-1zM560.2 270.9h1v1h-1zM554.6 274.9h1v1h-1zM559.8 275.0h1v1h-1zM556.5 270.9h1v1h-1z" fill="#4a64cc"/>
<path d="M554.5 255.0h0.9v0.9h-0.9zM554.5 274.1h0.9v0.9h-0.9zM554.4 265.3h0.9v0.9h-0.9zM554.9 257.6h0.9v0.9h-0.9zM554.1 265.5h0.9v0.9h-0.9zM555.3 261.3h0.9v0.9h-0.9zM554.3 262.3h0.9v0.9h-0.9zM555.2 266.2h0.9v0.9h-0.9zM554.8 251.1h0.9v0.9h-0.9zM554.6 248.2h0.9v0.9h-0.9zM554.4 274.9h0.9v0.9h-0.9zM555.1 250.9h0.9v0.9h-0.9zM555.4 252.0h0.9v0.9h-0.9zM555.1 260.2h0.9v0.9h-0.9zM554.5 270.3h0.9v0.9h-0.9zM554.9 238.9h0.9v0.9h-0.9z" fill="#30b8e0"/>
<path d="M559.2 272.5h1v1h-1zM555.8 275.4h1v1h-1zM555.6 272.3h1v1h-1zM555.7 272.0h1v1h-1zM556.7 271.6h1v1h-1zM557.1 276.0h1v1h-1zM555.5 275.7h1v1h-1zM559.9 273.6h1v1h-1zM558.4 271.9h1v1h-1zM556.0 275.6h1v1h-1zM555.1 274.8h1v1h-1zM555.2 272.9h1v1h-1zM558.9 271.8h1v1h-1zM559.8 274.7h1v1h-1z" fill="#30b8e0"/>
<path d="M554.2 270.6h0.9v0.9h-0.9zM555.0 265.2h0.9v0.9h-0.9zM554.5 250.4h0.9v0.9h-0.9zM554.6 272.8h0.9v0.9h-0.9zM554.2 268.9h0.9v0.9h-0.9zM554.9 272.5h0.9v0.9h-0.9zM555.2 238.2h0.9v0.9h-0.9zM555.0 274.1h0.9v0.9h-0.9zM555.4 240.0h0.9v0.9h-0.9zM554.6 265.7h0.9v0.9h-0.9zM554.8 258.1h0.9v0.9h-0.9zM554.6 274.5h0.9v0.9h-0.9zM554.8 259.9h0.9v0.9h-0.9zM554.9 260.4h0.9v0.9h-0.9zM555.2 270.4h0.9v0.9h-0.9zM555.3 245.9h0.9v0.9h-0.9zM555.4 236.9h0.9v0.9h-0.9zM554.8 236.6h0.9v0.9h-0.9zM554.7 268.4h0.9v0.9h-0.9zM554.4 272.4h0.9v0.9h-0.9zM554.8 235.3h0.9v0.9h-0.9zM555.3 250.9h0.9v0.9h-0.9zM554.9 272.7h0.9v0.9h-0.9zM554.9 240.9h0.9v0.9h-0.9zM554.4 267.8h0.9v0.9h-0.9zM554.8 269.6h0.9v0.9h-0.9zM554.3 260.2h0.9v0.9h-0.9z" fill="#40c070"/>
<path d="M559.4 273.3h1v1h-1zM558.8 274.9h1v1h-1zM556.9 275.8h1v1h-1zM558.2 275.2h1v1h-1zM558.0 272.3h1v1h-1zM557.0 275.8h1v1h-1zM555.9 274.6h1v1h-1zM555.7 274.2h1v1h-1zM558.8 274.8h1v1h-1zM559.2 274.1h1v1h-1zM558.6 275.0h1v1h-1zM556.7 275.3h1v1h-1zM555.7 273.1h1v1h-1zM555.8 272.3h1v1h-1zM558.3 275.2h1v1h-1z" fill="#40c070"/>
<path d="M555.9 274.3h1v1h-1zM556.3 274.6h1v1h-1zM555.9 273.7h1v1h-1zM557.7 272.7h1v1h-1zM557.7 274.9h1v1h-1zM556.4 275.0h1v1h-1zM557.8 274.9h1v1h-1zM558.2 272.8h1v1h-1zM556.9 274.8h1v1h-1zM556.4 275.0h1v1h-1zM556.5 272.6h1v1h-1zM556.3 272.8h1v1h-1zM557.8 274.9h1v1h-1zM558.1 274.9h1v1h-1zM556.1 273.7h1v1h-1zM556.6 274.8h1v1h-1z" fill="#b8e040"/>
<path d="M558.2 273.9h1v1h-1zM557.2 274.5h1v1h-1zM557.4 273.2h1v1h-1zM556.6 273.9h1v1h-1zM556.9 272.8h1v1h-1zM556.4 273.7h1v1h-1zM558.0 274.6h1v1h-1zM557.8 273.3h1v1h-1zM558.2 273.6h1v1h-1z" fill="#f0e030"/>
<path d="M556.9 274.2h1v1h-1zM557.2 273.5h1v1h-1z" fill="#f08020"/>
<path d="M557.9 268.5h0.7v0.7h-0.7zM559.5 274.5h0.7v0.7h-0.7zM558.7 264.1h0.7v0.7h-0.7zM559.1 259.4h0.7v0.7h-0.7zM558.9 247.6h0.7v0.7h-0.7zM559.7 244.2h0.7v0.7h-0.7zM558.0 264.0h0.7v0.7h-0.7zM558.1 255.7h0.7v0.7h-0.7zM561.6 241.8h0.7v0.7h-0.7zM557.1 263.4h0.7v0.7h-0.7zM557.4 256.2h0.7v0.7h-0.7zM561.6 242.7h0.7v0.7h-0.7zM559.6 273.3h0.7v0.7h-0.7zM557.4 268.1h0.7v0.7h-0.7zM559.9 267.6h0.7v0.7h-0.7zM558.8 272.7h0.7v0.7h-0.7zM558.7 259.5h0.7v0.7h-0.7zM559.5 259.0h0.7v0.7h-0.7zM558.0 265.0h0.7v0.7h-0.7zM557.8 274.3h0.7v0.7h-0.7zM558.4 243.4h0.7v0.7h-0.7zM558.1 275.8h0.7v0.7h-0.7zM558.9 258.4h0.7v0.7h-0.7zM557.3 241.7h0.7v0.7h-0.7zM557.1 273.0h0.7v0.7h-0.7zM558.8 252.7h0.7v0.7h-0.7zM565.4 274.0h0.7v0.7h-0.7zM560.6 246.6h0.7v0.7h-0.7zM558.1 267.5h0.7v0.7h-0.7zM557.7 260.4h0.7v0.7h-0.7zM556.8 264.0h0.7v0.7h-0.7zM559.5 274.8h0.7v0.7h-0.7zM557.7 254.4h0.7v0.7h-0.7zM556.9 266.2h0.7v0.7h-0.7zM557.8 248.9h0.7v0.7h-0.7zM557.0 248.3h0.7v0.7h-0.7zM558.2 274.9h0.7v0.7h-0.7zM558.9 252.5h0.7v0.7h-0.7zM561.6 244.0h0.7v0.7h-0.7zM562.6 245.4h0.7v0.7h-0.7z" fill="#8088c8"/>
<path d="M567.6 257.0h0.7v0.7h-0.7zM570.5 274.2h0.7v0.7h-0.7zM577.3 264.2h0.7v0.7h-0.7zM575.9 252.3h0.7v0.7h-0.7zM565.3 274.4h0.7v0.7h-0.7zM562.5 274.2h0.7v0.7h-0.7zM565.9 266.0h0.7v0.7h-0.7zM566.8 269.3h0.7v0.7h-0.7zM579.1 270.8h0.7v0.7h-0.7zM559.7 243.4h0.7v0.7h-0.7zM577.6 261.6h0.7v0.7h-0.7zM576.2 242.4h0.7v0.7h-0.7z" fill="#b8bce0"/>
<text x="535.4" y="202.6" font-size="4.7" fill="#333" font-weight="normal" text-anchor="start" stroke="#333" stroke-width="0.06">Q1</text>
<text x="535.4" y="210.7" font-size="4.7" fill="#333" font-weight="normal" text-anchor="start" stroke="#333" stroke-width="0.06">31.8</text>
<text x="621.6" y="202.6" font-size="4.7" fill="#333" font-weight="normal" text-anchor="end" stroke="#333" stroke-width="0.06">Q2</text>
<text x="621.6" y="210.7" font-size="4.7" fill="#333" font-weight="normal" text-anchor="end" stroke="#333" stroke-width="0.06">14.7</text>
<text x="621.6" y="285.7" font-size="4.7" fill="#333" font-weight="normal" text-anchor="end" stroke="#333" stroke-width="0.06">Q3</text>
<text x="621.6" y="292.7" font-size="4.7" fill="#333" font-weight="normal" text-anchor="end" stroke="#333" stroke-width="0.06">42.3</text>
<text x="535.4" y="285.7" font-size="4.7" fill="#333" font-weight="normal" text-anchor="start" stroke="#333" stroke-width="0.06">Q4</text>
<text x="535.4" y="292.7" font-size="4.7" fill="#333" font-weight="normal" text-anchor="start" stroke="#333" stroke-width="0.06">11.3</text>
<text x="537.2" y="223.6" font-size="6.3" fill="#f52a2a" font-weight="normal" text-anchor="start" stroke="#f52a2a" stroke-width="0.28">CD4+</text>
<text x="537.2" y="230.6" font-size="6.3" fill="#f52a2a" font-weight="normal" text-anchor="start" stroke="#f52a2a" stroke-width="0.28">Tem</text>
<text x="588.4" y="224.3" font-size="6.3" fill="#f52a2a" font-weight="normal" text-anchor="start" stroke="#f52a2a" stroke-width="0.28">CD4+</text>
<text x="588.4" y="231.3" font-size="6.3" fill="#f52a2a" font-weight="normal" text-anchor="start" stroke="#f52a2a" stroke-width="0.28">Tcm</text>
<text x="537.2" y="278.2" font-size="6.3" fill="#f52a2a" font-weight="normal" text-anchor="start" stroke="#f52a2a" stroke-width="0.28">CD4+</text>
<text x="537.2" y="285.2" font-size="6.3" fill="#f52a2a" font-weight="normal" text-anchor="start" stroke="#f52a2a" stroke-width="0.28">Teff</text>
<text x="588.2" y="275.9" font-size="6.3" fill="#f52a2a" font-weight="normal" text-anchor="start" stroke="#f52a2a" stroke-width="0.28">CD4+</text>
<text x="588.2" y="282.9" font-size="6.3" fill="#f52a2a" font-weight="normal" text-anchor="start" stroke="#f52a2a" stroke-width="0.28">Tnaiv</text>
<text x="103.8" y="453.75" font-size="4.85" fill="#333" text-anchor="middle" transform="rotate(-90 103.8 453.75)">Comp-BV421-A :: CD127</text>
<path d="M114.3,412.89H117.3M114.3,435.89H117.3M114.3,464.14H117.3M114.3,481.7H117.3M114.3,499.36H117.3M121.48,504.2V507.2M139.24,504.2V507.2M155.36,504.2V507.2M182.65,504.2V507.2M204.88,504.2V507.2" stroke="#222" stroke-width="1" fill="none"/>
<path d="M115.6,428.97H117.3M115.6,424.91H117.3M115.6,422.04H117.3M115.6,419.81H117.3M115.6,417.99H117.3M115.6,416.45H117.3M115.6,415.11H117.3M115.6,413.94H117.3M115.6,455.64H117.3M115.6,450.66H117.3M115.6,447.13H117.3M115.6,444.4H117.3M115.6,442.16H117.3M115.6,440.27H117.3M115.6,438.63H117.3M115.6,437.18H117.3M115.6,469.41H117.3M115.6,472.92H117.3M115.6,475.55H117.3M115.6,478.19H117.3M115.6,487.88H117.3M115.6,492.29H117.3M115.6,495.83H117.3M189.34,504.2V505.9M193.26,504.2V505.9M196.04,504.2V505.9M198.19,504.2V505.9M199.95,504.2V505.9M201.44,504.2V505.9M202.73,504.2V505.9M203.87,504.2V505.9M163.58,504.2V505.9M168.38,504.2V505.9M171.79,504.2V505.9M174.43,504.2V505.9M176.6,504.2V505.9M178.42,504.2V505.9M180,504.2V505.9M181.4,504.2V505.9M143.27,504.2V505.9M146.5,504.2V505.9M148.92,504.2V505.9M151.33,504.2V505.9M153.43,504.2V505.9M125.03,504.2V505.9M129.47,504.2V505.9M133.03,504.2V505.9M135.69,504.2V505.9" stroke="#444" stroke-width="0.65" fill="none"/>
<rect x="114.9" y="479.3" width="2.4" height="4.8" fill="#111"/>
<rect x="136.64" y="504.2" width="4.8" height="2.3" fill="#111"/>
<text x="112.6" y="414.99" font-size="4.5" fill="#2a2a2a" font-weight="normal" text-anchor="end">10<tspan font-size="3.7" dx="0.6" dy="-2.8">5</tspan></text>
<text x="112.6" y="437.99" font-size="4.5" fill="#2a2a2a" font-weight="normal" text-anchor="end">10<tspan font-size="3.7" dx="0.6" dy="-2.8">4</tspan></text>
<text x="112.6" y="466.24" font-size="4.5" fill="#2a2a2a" font-weight="normal" text-anchor="end">10<tspan font-size="3.7" dx="0.6" dy="-2.8">3</tspan></text>
<text x="110.5" y="484.1" font-size="4.5" fill="#2a2a2a" font-weight="normal" text-anchor="end">0</text>
<text x="112.6" y="501.46" font-size="4.5" fill="#2a2a2a" font-weight="normal" text-anchor="end">-10<tspan font-size="3.7" dx="0.6" dy="-2.8">3</tspan></text>
<text x="123.18" y="517" font-size="4.5" fill="#2a2a2a" font-weight="normal" text-anchor="middle">-10<tspan font-size="3.7" dx="0.6" dy="-3.0">3</tspan></text>
<text x="139.24" y="517" font-size="4.5" fill="#2a2a2a" font-weight="normal" text-anchor="middle">0</text>
<text x="157.06" y="517" font-size="4.5" fill="#2a2a2a" font-weight="normal" text-anchor="middle">10<tspan font-size="3.7" dx="0.6" dy="-3.0">3</tspan></text>
<text x="184.35" y="517" font-size="4.5" fill="#2a2a2a" font-weight="normal" text-anchor="middle">10<tspan font-size="3.7" dx="0.6" dy="-3.0">4</tspan></text>
<text x="206.58" y="517" font-size="4.5" fill="#2a2a2a" font-weight="normal" text-anchor="middle">10<tspan font-size="3.7" dx="0.6" dy="-3.0">5</tspan></text>
<rect x="117.3" y="403.3" width="97.1" height="100.9" fill="none" stroke="#7c7c7c" stroke-width="1.1"/>
<line x1="142" y1="403.3" x2="142" y2="504.2" stroke="#444" stroke-width="1.3"/>
<line x1="117.3" y1="473" x2="214.4" y2="473" stroke="#444" stroke-width="1.3"/>
<path d="M138.9 472.3h0.8v0.8h-0.8zM137.6 475.5h0.8v0.8h-0.8zM139.0 476.9h0.8v0.8h-0.8zM138.9 475.5h0.8v0.8h-0.8z" fill="#2a3aa6"/>
<path d="M136.9 476.5h1v1h-1zM139.7 482.0h1v1h-1zM136.4 477.0h1v1h-1zM138.1 482.3h1v1h-1zM139.7 480.4h1v1h-1zM137.4 481.3h1v1h-1zM136.1 482.3h1v1h-1zM137.6 476.7h1v1h-1zM137.8 481.4h1v1h-1zM138.9 476.0h1v1h-1zM139.9 478.8h1v1h-1zM138.6 476.0h1v1h-1zM137.8 483.9h1v1h-1zM136.8 477.8h1v1h-1zM140.2 475.6h1v1h-1zM137.7 475.1h1v1h-1zM136.9 477.0h1v1h-1zM139.3 482.2h1v1h-1zM136.9 481.1h1v1h-1zM139.7 482.2h1v1h-1zM140.0 477.8h1v1h-1zM139.1 476.7h1v1h-1zM139.6 477.4h1v1h-1zM140.4 478.1h1v1h-1zM135.7 481.2h1v1h-1zM138.7 482.2h1v1h-1zM136.6 479.2h1v1h-1zM139.8 480.5h1v1h-1zM136.0 479.5h1v1h-1zM137.6 482.5h1v1h-1zM139.4 476.9h1v1h-1zM137.4 481.3h1v1h-1zM139.0 475.0h1v1h-1zM137.6 475.4h1v1h-1zM139.8 480.9h1v1h-1zM137.9 476.0h1v1h-1zM138.6 474.7h1v1h-1zM138.2 482.5h1v1h-1zM136.6 479.4h1v1h-1zM139.9 476.9h1v1h-1zM137.1 477.4h1v1h-1zM139.4 476.5h1v1h-1zM138.0 482.6h1v1h-1z" fill="#2a3aa6"/>
<path d="M144.0 478.3h0.8v0.8h-0.8zM149.5 480.5h0.8v0.8h-0.8zM148.8 482.0h0.8v0.8h-0.8zM143.6 480.5h0.8v0.8h-0.8zM160.0 480.7h0.8v0.8h-0.8zM152.6 479.0h0.8v0.8h-0.8zM141.5 480.8h0.8v0.8h-0.8zM156.5 479.2h0.8v0.8h-0.8zM143.4 479.7h0.8v0.8h-0.8zM144.6 479.4h0.8v0.8h-0.8zM141.2 479.4h0.8v0.8h-0.8zM140.3 475.6h0.8v0.8h-0.8zM138.1 474.7h0.8v0.8h-0.8zM137.9 476.2h0.8v0.8h-0.8zM139.2 476.7h0.8v0.8h-0.8z" fill="#4a64cc"/>
<path d="M138.3 481.5h1v1h-1zM137.1 479.0h1v1h-1zM139.3 480.5h1v1h-1zM139.3 477.0h1v1h-1zM137.4 480.2h1v1h-1zM138.6 476.9h1v1h-1zM139.8 478.3h1v1h-1zM139.1 476.8h1v1h-1zM138.9 476.9h1v1h-1zM139.5 479.9h1v1h-1zM137.2 478.7h1v1h-1zM137.3 479.9h1v1h-1zM137.2 480.3h1v1h-1zM137.1 479.1h1v1h-1zM139.0 477.3h1v1h-1zM137.2 480.1h1v1h-1zM139.2 480.7h1v1h-1zM136.9 478.9h1v1h-1zM139.7 478.7h1v1h-1zM137.2 478.3h1v1h-1zM139.3 480.9h1v1h-1zM138.8 476.6h1v1h-1zM139.6 478.1h1v1h-1zM137.1 477.7h1v1h-1zM138.9 477.0h1v1h-1zM137.2 479.9h1v1h-1zM138.7 481.4h1v1h-1zM138.5 481.2h1v1h-1zM137.7 480.7h1v1h-1zM137.3 480.3h1v1h-1z" fill="#4a64cc"/>
<path d="M137.8 480.1h1v1h-1zM137.6 480.2h1v1h-1zM137.6 480.2h1v1h-1zM137.9 477.4h1v1h-1zM138.5 480.9h1v1h-1zM139.4 479.8h1v1h-1zM137.5 478.7h1v1h-1zM138.7 480.7h1v1h-1zM137.4 478.6h1v1h-1zM137.8 480.3h1v1h-1zM138.9 480.6h1v1h-1zM139.4 479.1h1v1h-1zM139.5 479.5h1v1h-1zM137.5 477.9h1v1h-1zM137.7 480.0h1v1h-1zM137.8 480.2h1v1h-1zM138.3 477.5h1v1h-1zM139.1 480.1h1v1h-1zM138.1 477.2h1v1h-1zM137.8 480.4h1v1h-1zM137.8 477.9h1v1h-1zM137.7 477.8h1v1h-1zM137.6 479.9h1v1h-1zM139.1 480.3h1v1h-1zM139.4 479.3h1v1h-1zM138.6 480.7h1v1h-1zM139.5 479.1h1v1h-1zM137.4 479.3h1v1h-1zM139.3 478.0h1v1h-1z" fill="#30b8e0"/>
<path d="M137.7 479.6h1v1h-1zM139.1 479.3h1v1h-1zM139.1 479.1h1v1h-1zM138.9 480.1h1v1h-1zM139.0 478.1h1v1h-1zM139.0 479.7h1v1h-1zM137.9 479.8h1v1h-1zM138.3 477.7h1v1h-1zM138.9 478.1h1v1h-1zM137.9 479.3h1v1h-1zM137.9 479.6h1v1h-1zM138.2 480.4h1v1h-1zM138.4 477.8h1v1h-1zM138.1 477.7h1v1h-1zM138.7 478.1h1v1h-1zM138.2 478.1h1v1h-1zM138.6 480.4h1v1h-1zM137.7 478.7h1v1h-1zM139.0 478.6h1v1h-1zM137.9 478.4h1v1h-1zM138.6 480.0h1v1h-1zM138.4 480.0h1v1h-1zM138.9 480.0h1v1h-1zM138.0 479.8h1v1h-1zM138.2 477.8h1v1h-1zM138.3 480.0h1v1h-1zM138.3 480.2h1v1h-1zM137.7 478.2h1v1h-1zM138.9 478.4h1v1h-1zM139.2 478.7h1v1h-1zM137.9 480.0h1v1h-1zM137.6 479.2h1v1h-1zM139.2 478.7h1v1h-1zM137.8 478.9h1v1h-1zM138.8 478.0h1v1h-1zM139.2 478.6h1v1h-1z" fill="#40c070"/>
<path d="M138.1 478.4h1v1h-1zM138.2 478.3h1v1h-1zM138.5 478.4h1v1h-1zM138.8 479.2h1v1h-1zM138.4 478.4h1v1h-1zM138.5 479.6h1v1h-1zM138.0 479.3h1v1h-1zM138.7 478.3h1v1h-1zM138.0 478.8h1v1h-1zM138.6 478.4h1v1h-1zM137.9 478.7h1v1h-1zM138.5 478.1h1v1h-1zM137.9 478.7h1v1h-1zM138.0 479.0h1v1h-1zM138.0 479.0h1v1h-1zM138.5 478.4h1v1h-1zM138.1 479.0h1v1h-1zM138.3 478.1h1v1h-1zM137.9 478.8h1v1h-1zM138.0 478.5h1v1h-1zM138.8 478.6h1v1h-1zM138.6 478.2h1v1h-1zM138.4 478.2h1v1h-1zM138.6 478.2h1v1h-1z" fill="#b8e040"/>
<path d="M138.1 479.1h1v1h-1zM138.5 478.8h1v1h-1zM138.1 479.0h1v1h-1zM138.2 478.9h1v1h-1zM138.5 478.6h1v1h-1zM138.5 479.2h1v1h-1zM138.4 479.4h1v1h-1zM138.2 479.3h1v1h-1z" fill="#f08020"/>
<path d="M142.0 481.0h0.8v0.8h-0.8zM142.9 480.4h0.8v0.8h-0.8zM146.4 480.2h0.8v0.8h-0.8zM147.1 478.3h0.8v0.8h-0.8zM147.1 479.0h0.8v0.8h-0.8zM152.6 478.0h0.8v0.8h-0.8zM154.0 480.5h0.8v0.8h-0.8zM144.2 479.7h0.8v0.8h-0.8zM141.7 481.4h0.8v0.8h-0.8zM146.7 479.5h0.8v0.8h-0.8zM142.9 479.8h0.8v0.8h-0.8zM144.5 480.1h0.8v0.8h-0.8zM149.4 480.6h0.8v0.8h-0.8zM146.3 478.5h0.8v0.8h-0.8zM150.8 480.0h0.8v0.8h-0.8zM150.1 481.3h0.8v0.8h-0.8zM148.5 478.6h0.8v0.8h-0.8zM143.0 479.1h0.8v0.8h-0.8zM145.9 479.6h0.8v0.8h-0.8z" fill="#8088c8"/>
<path d="M152.9 472.8h0.6v0.6h-0.6zM146.2 476.5h0.6v0.6h-0.6zM149.8 470.1h0.6v0.6h-0.6zM165.5 478.8h0.6v0.6h-0.6zM161.6 473.8h0.6v0.6h-0.6zM146.9 468.3h0.6v0.6h-0.6zM141.6 470.5h0.6v0.6h-0.6zM162.8 473.1h0.6v0.6h-0.6z" fill="#b8bce0"/>
<text x="118.9" y="412.5" font-size="4.5" fill="#333" font-weight="normal" text-anchor="start" stroke="#333" stroke-width="0.06">Q1</text>
<text x="118.9" y="419.6" font-size="4.5" fill="#333" font-weight="normal" text-anchor="start" stroke="#333" stroke-width="0.06">1.37</text>
<text x="206.2" y="412.5" font-size="4.5" fill="#333" font-weight="normal" text-anchor="end" stroke="#333" stroke-width="0.06">Q2</text>
<text x="206.2" y="419.6" font-size="4.5" fill="#333" font-weight="normal" text-anchor="end" stroke="#333" stroke-width="0.06">0.14</text>
<text x="206.2" y="491.7" font-size="4.5" fill="#333" font-weight="normal" text-anchor="end" stroke="#333" stroke-width="0.06">Q3</text>
<text x="206.2" y="498.7" font-size="4.5" fill="#333" font-weight="normal" text-anchor="end" stroke="#333" stroke-width="0.06">5.05</text>
<text x="118.9" y="491.7" font-size="4.5" fill="#333" font-weight="normal" text-anchor="start" stroke="#333" stroke-width="0.06">Q4</text>
<text x="118.9" y="498.7" font-size="4.5" fill="#333" font-weight="normal" text-anchor="start" stroke="#333" stroke-width="0.06">93.4</text>
<text x="175.8" y="486.7" font-size="6.4" fill="#f52a2a" font-weight="bold" text-anchor="start" stroke="#f52a2a" stroke-width="0.15">Tregs</text>
<text x="241.8" y="454.05" font-size="4.85" fill="#333" text-anchor="middle" transform="rotate(-90 241.8 454.05)">Comp-BV421-A :: CD127</text>
<path d="M252.3,413.19H255.3M252.3,436.19H255.3M252.3,464.44H255.3M252.3,482H255.3M252.3,499.66H255.3M259.45,504.5V507.5M277.11,504.5V507.5M293.13,504.5V507.5M320.24,504.5V507.5M342.34,504.5V507.5" stroke="#222" stroke-width="1" fill="none"/>
<path d="M253.6,429.27H255.3M253.6,425.21H255.3M253.6,422.34H255.3M253.6,420.11H255.3M253.6,418.29H255.3M253.6,416.75H255.3M253.6,415.41H255.3M253.6,414.24H255.3M253.6,455.94H255.3M253.6,450.96H255.3M253.6,447.43H255.3M253.6,444.7H255.3M253.6,442.46H255.3M253.6,440.57H255.3M253.6,438.93H255.3M253.6,437.48H255.3M253.6,469.71H255.3M253.6,473.22H255.3M253.6,475.85H255.3M253.6,478.49H255.3M253.6,488.18H255.3M253.6,492.59H255.3M253.6,496.13H255.3M326.9,504.5V506.2M330.79,504.5V506.2M333.55,504.5V506.2M335.69,504.5V506.2M337.44,504.5V506.2M338.92,504.5V506.2M340.2,504.5V506.2M341.33,504.5V506.2M301.29,504.5V506.2M306.07,504.5V506.2M309.45,504.5V506.2M312.08,504.5V506.2M314.23,504.5V506.2M316.04,504.5V506.2M317.62,504.5V506.2M319,504.5V506.2M281.11,504.5V506.2M284.32,504.5V506.2M286.72,504.5V506.2M289.12,504.5V506.2M291.21,504.5V506.2M262.98,504.5V506.2M267.4,504.5V506.2M270.93,504.5V506.2M273.58,504.5V506.2" stroke="#444" stroke-width="0.65" fill="none"/>
<rect x="252.9" y="479.6" width="2.4" height="4.8" fill="#111"/>
<rect x="274.51" y="504.5" width="4.8" height="2.3" fill="#111"/>
<text x="250.6" y="415.29" font-size="4.5" fill="#2a2a2a" font-weight="normal" text-anchor="end">10<tspan font-size="3.7" dx="0.6" dy="-2.8">5</tspan></text>
<text x="250.6" y="438.29" font-size="4.5" fill="#2a2a2a" font-weight="normal" text-anchor="end">10<tspan font-size="3.7" dx="0.6" dy="-2.8">4</tspan></text>
<text x="250.6" y="466.54" font-size="4.5" fill="#2a2a2a" font-weight="normal" text-anchor="end">10<tspan font-size="3.7" dx="0.6" dy="-2.8">3</tspan></text>
<text x="248.5" y="484.4" font-size="4.5" fill="#2a2a2a" font-weight="normal" text-anchor="end">0</text>
<text x="250.6" y="501.76" font-size="4.5" fill="#2a2a2a" font-weight="normal" text-anchor="end">-10<tspan font-size="3.7" dx="0.6" dy="-2.8">3</tspan></text>
<text x="261.15" y="517.3" font-size="4.5" fill="#2a2a2a" font-weight="normal" text-anchor="middle">-10<tspan font-size="3.7" dx="0.6" dy="-3.0">3</tspan></text>
<text x="277.11" y="517.3" font-size="4.5" fill="#2a2a2a" font-weight="normal" text-anchor="middle">0</text>
<text x="294.83" y="517.3" font-size="4.5" fill="#2a2a2a" font-weight="normal" text-anchor="middle">10<tspan font-size="3.7" dx="0.6" dy="-3.0">3</tspan></text>
<text x="321.94" y="517.3" font-size="4.5" fill="#2a2a2a" font-weight="normal" text-anchor="middle">10<tspan font-size="3.7" dx="0.6" dy="-3.0">4</tspan></text>
<text x="344.04" y="517.3" font-size="4.5" fill="#2a2a2a" font-weight="normal" text-anchor="middle">10<tspan font-size="3.7" dx="0.6" dy="-3.0">5</tspan></text>
<rect x="255.3" y="403.6" width="96.5" height="100.9" fill="none" stroke="#7c7c7c" stroke-width="1.1"/>
<line x1="280" y1="403.6" x2="280" y2="504.5" stroke="#444" stroke-width="1.3"/>
<line x1="255.3" y1="476.2" x2="351.8" y2="476.2" stroke="#444" stroke-width="1.3"/>
<path d="M277.1 474.8h0.8v0.8h-0.8zM277.1 473.6h0.8v0.8h-0.8zM277.8 463.8h0.8v0.8h-0.8zM277.1 475.1h0.8v0.8h-0.8zM278.4 472.4h0.8v0.8h-0.8zM278.3 469.8h0.8v0.8h-0.8zM275.9 476.0h0.8v0.8h-0.8zM277.1 474.5h0.8v0.8h-0.8zM276.5 461.8h0.8v0.8h-0.8zM278.3 476.7h0.8v0.8h-0.8zM277.6 475.7h0.8v0.8h-0.8zM276.4 474.6h0.8v0.8h-0.8zM278.1 476.5h0.8v0.8h-0.8zM275.4 476.5h0.8v0.8h-0.8zM277.8 472.3h0.8v0.8h-0.8zM278.5 468.7h0.8v0.8h-0.8z" fill="#2a3aa6"/>
<path d="M276.1 476.0h1v1h-1zM277.4 481.3h1v1h-1zM275.2 478.1h1v1h-1zM275.3 477.6h1v1h-1zM277.9 481.2h1v1h-1zM277.1 481.9h1v1h-1zM276.6 481.0h1v1h-1zM278.6 481.6h1v1h-1zM275.5 475.8h1v1h-1zM278.9 478.8h1v1h-1zM278.5 477.4h1v1h-1zM274.6 477.6h1v1h-1zM276.1 482.9h1v1h-1zM274.5 477.0h1v1h-1zM275.9 480.6h1v1h-1zM277.0 481.5h1v1h-1zM274.0 478.0h1v1h-1zM277.0 481.6h1v1h-1zM275.2 479.6h1v1h-1zM276.1 481.1h1v1h-1zM278.3 480.9h1v1h-1zM276.8 481.3h1v1h-1zM277.9 480.9h1v1h-1zM276.9 475.9h1v1h-1zM277.2 482.4h1v1h-1zM277.0 481.1h1v1h-1zM275.6 477.1h1v1h-1zM279.0 481.0h1v1h-1zM275.6 480.6h1v1h-1zM279.4 482.6h1v1h-1zM275.3 480.1h1v1h-1zM278.5 478.1h1v1h-1zM275.2 479.2h1v1h-1zM278.6 476.5h1v1h-1zM277.2 481.8h1v1h-1zM275.1 478.3h1v1h-1zM276.6 481.0h1v1h-1zM278.6 480.6h1v1h-1zM276.0 481.7h1v1h-1zM275.7 481.5h1v1h-1zM274.6 478.6h1v1h-1zM277.4 475.1h1v1h-1zM278.4 480.4h1v1h-1zM278.5 476.3h1v1h-1zM274.0 481.2h1v1h-1zM278.3 481.8h1v1h-1zM275.6 480.7h1v1h-1zM275.8 480.6h1v1h-1zM275.7 480.4h1v1h-1zM275.4 479.9h1v1h-1zM277.3 475.8h1v1h-1zM278.4 480.2h1v1h-1zM274.6 480.2h1v1h-1zM276.0 476.7h1v1h-1zM279.0 479.7h1v1h-1zM277.3 481.1h1v1h-1zM279.8 479.5h1v1h-1zM278.4 475.7h1v1h-1z" fill="#2a3aa6"/>
<path d="M280.9 477.9h0.8v0.8h-0.8zM290.6 479.2h0.8v0.8h-0.8zM282.6 478.9h0.8v0.8h-0.8zM292.9 479.6h0.8v0.8h-0.8zM283.6 479.8h0.8v0.8h-0.8zM279.5 478.6h0.8v0.8h-0.8zM279.8 478.9h0.8v0.8h-0.8zM279.6 479.3h0.8v0.8h-0.8zM293.4 480.3h0.8v0.8h-0.8zM283.9 480.3h0.8v0.8h-0.8zM283.7 480.9h0.8v0.8h-0.8zM279.4 479.4h0.8v0.8h-0.8zM285.9 479.0h0.8v0.8h-0.8zM284.4 480.0h0.8v0.8h-0.8zM286.6 479.6h0.8v0.8h-0.8zM286.0 479.8h0.8v0.8h-0.8zM278.6 473.5h0.8v0.8h-0.8zM277.2 474.6h0.8v0.8h-0.8zM278.0 470.5h0.8v0.8h-0.8zM276.2 467.2h0.8v0.8h-0.8zM275.8 470.4h0.8v0.8h-0.8zM276.7 461.9h0.8v0.8h-0.8zM278.9 475.7h0.8v0.8h-0.8zM277.8 470.7h0.8v0.8h-0.8zM276.5 475.3h0.8v0.8h-0.8z" fill="#4a64cc"/>
<path d="M278.0 477.7h1v1h-1zM278.0 480.0h1v1h-1zM277.2 476.9h1v1h-1zM276.6 480.7h1v1h-1zM277.8 480.2h1v1h-1zM276.2 477.1h1v1h-1zM276.5 480.7h1v1h-1zM277.1 476.6h1v1h-1zM277.6 480.2h1v1h-1zM278.1 478.1h1v1h-1zM277.9 477.1h1v1h-1zM278.1 479.6h1v1h-1zM277.4 480.7h1v1h-1zM275.9 480.0h1v1h-1zM276.2 476.9h1v1h-1zM276.6 476.5h1v1h-1zM276.4 476.8h1v1h-1zM278.3 479.3h1v1h-1zM277.7 477.2h1v1h-1zM278.0 480.1h1v1h-1zM276.5 480.5h1v1h-1zM276.2 480.8h1v1h-1zM278.3 479.1h1v1h-1zM278.1 480.0h1v1h-1zM276.5 480.7h1v1h-1z" fill="#4a64cc"/>
<path d="M276.8 480.0h1v1h-1zM276.6 477.1h1v1h-1zM277.5 477.5h1v1h-1zM275.7 479.3h1v1h-1zM276.4 477.3h1v1h-1zM275.9 477.7h1v1h-1zM276.0 479.9h1v1h-1zM276.3 477.4h1v1h-1zM277.5 477.6h1v1h-1zM275.9 478.1h1v1h-1zM277.6 477.8h1v1h-1zM277.2 477.4h1v1h-1zM277.3 477.2h1v1h-1zM276.2 479.9h1v1h-1zM275.9 479.6h1v1h-1zM277.9 478.5h1v1h-1zM276.2 477.7h1v1h-1zM277.2 477.5h1v1h-1zM277.3 477.5h1v1h-1zM276.9 480.0h1v1h-1zM277.8 477.8h1v1h-1zM276.5 477.1h1v1h-1zM276.3 477.4h1v1h-1zM276.4 480.1h1v1h-1zM276.1 479.9h1v1h-1zM277.2 477.2h1v1h-1zM277.1 480.2h1v1h-1zM276.3 479.9h1v1h-1zM275.8 477.7h1v1h-1zM277.5 480.0h1v1h-1zM278.0 479.0h1v1h-1zM277.6 479.4h1v1h-1z" fill="#30b8e0"/>
<path d="M277.2 479.8h1v1h-1zM277.5 478.8h1v1h-1zM276.2 479.3h1v1h-1zM277.6 478.4h1v1h-1zM276.9 479.9h1v1h-1zM276.3 479.3h1v1h-1zM276.1 478.1h1v1h-1zM277.4 477.9h1v1h-1zM277.4 478.2h1v1h-1zM276.4 479.4h1v1h-1zM276.2 478.0h1v1h-1zM277.2 479.7h1v1h-1zM276.0 478.1h1v1h-1zM276.1 478.0h1v1h-1zM277.1 477.9h1v1h-1zM277.1 477.9h1v1h-1zM277.5 479.1h1v1h-1zM276.3 479.6h1v1h-1zM276.3 479.1h1v1h-1zM276.8 479.8h1v1h-1zM277.4 479.3h1v1h-1zM276.9 479.8h1v1h-1zM276.4 479.7h1v1h-1zM276.2 479.5h1v1h-1zM276.8 477.7h1v1h-1zM277.3 477.8h1v1h-1zM276.6 479.7h1v1h-1zM275.9 478.9h1v1h-1z" fill="#40c070"/>
<path d="M277.4 478.6h1v1h-1zM276.4 478.5h1v1h-1zM277.1 479.4h1v1h-1zM276.6 479.1h1v1h-1zM277.0 479.2h1v1h-1zM276.3 478.7h1v1h-1zM276.8 478.1h1v1h-1zM276.6 478.3h1v1h-1zM276.3 478.6h1v1h-1zM277.2 479.1h1v1h-1zM277.1 479.4h1v1h-1zM276.5 478.3h1v1h-1zM277.1 478.4h1v1h-1zM277.0 478.1h1v1h-1zM276.5 479.0h1v1h-1zM276.5 478.0h1v1h-1zM276.5 478.9h1v1h-1zM277.3 478.6h1v1h-1zM277.2 478.9h1v1h-1zM276.6 479.1h1v1h-1zM276.5 479.3h1v1h-1z" fill="#b8e040"/>
<path d="M277.0 478.4h1v1h-1zM276.8 479.0h1v1h-1zM277.1 478.9h1v1h-1zM276.8 478.4h1v1h-1zM277.0 478.5h1v1h-1zM276.8 478.7h1v1h-1z" fill="#f08020"/>
<path d="M288.1 478.8h0.8v0.8h-0.8zM283.9 479.6h0.8v0.8h-0.8zM280.3 479.3h0.8v0.8h-0.8zM284.9 479.0h0.8v0.8h-0.8zM282.2 480.0h0.8v0.8h-0.8zM282.0 479.2h0.8v0.8h-0.8zM279.4 478.8h0.8v0.8h-0.8zM280.8 479.9h0.8v0.8h-0.8zM282.2 478.9h0.8v0.8h-0.8zM281.5 480.1h0.8v0.8h-0.8zM288.9 478.8h0.8v0.8h-0.8zM286.7 479.8h0.8v0.8h-0.8zM296.5 478.9h0.8v0.8h-0.8zM286.0 479.7h0.8v0.8h-0.8z" fill="#8088c8"/>
<path d="M281.3 475.8h0.6v0.6h-0.6zM298.4 474.2h0.6v0.6h-0.6zM295.7 477.3h0.6v0.6h-0.6zM296.3 478.4h0.6v0.6h-0.6zM293.3 466.9h0.6v0.6h-0.6zM292.3 476.0h0.6v0.6h-0.6zM289.4 478.5h0.6v0.6h-0.6zM299.0 473.3h0.6v0.6h-0.6z" fill="#b8bce0"/>
<text x="256.9" y="412.8" font-size="4.5" fill="#333" font-weight="normal" text-anchor="start" stroke="#333" stroke-width="0.06">Q1</text>
<text x="256.9" y="419.9" font-size="4.5" fill="#333" font-weight="normal" text-anchor="start" stroke="#333" stroke-width="0.06">16.1</text>
<text x="343.6" y="412.8" font-size="4.5" fill="#333" font-weight="normal" text-anchor="end" stroke="#333" stroke-width="0.06">Q2</text>
<text x="343.6" y="419.9" font-size="4.5" fill="#333" font-weight="normal" text-anchor="end" stroke="#333" stroke-width="0.06">2.20</text>
<text x="343.6" y="492" font-size="4.5" fill="#333" font-weight="normal" text-anchor="end" stroke="#333" stroke-width="0.06">Q3</text>
<text x="343.6" y="499" font-size="4.5" fill="#333" font-weight="normal" text-anchor="end" stroke="#333" stroke-width="0.06">4.13</text>
<text x="256.9" y="492" font-size="4.5" fill="#333" font-weight="normal" text-anchor="start" stroke="#333" stroke-width="0.06">Q4</text>
<text x="256.9" y="499" font-size="4.5" fill="#333" font-weight="normal" text-anchor="start" stroke="#333" stroke-width="0.06">77.5</text>
<text x="314.5" y="488.9" font-size="6.4" fill="#f52a2a" font-weight="bold" text-anchor="start" stroke="#f52a2a" stroke-width="0.15">Tregs</text>
<text x="376.8" y="455.3" font-size="4.85" fill="#333" text-anchor="middle" transform="rotate(-90 376.8 455.3)">Comp-BV421-A :: CD127</text>
<path d="M387.3,414.23H390.3M387.3,437.35H390.3M387.3,465.74H390.3M387.3,483.39H390.3M387.3,501.13H390.3M394.41,506V509M411.91,506V509M427.78,506V509M454.64,506V509M476.53,506V509" stroke="#222" stroke-width="1" fill="none"/>
<path d="M388.6,430.39H390.3M388.6,426.32H390.3M388.6,423.43H390.3M388.6,421.19H390.3M388.6,419.36H390.3M388.6,417.81H390.3M388.6,416.47H390.3M388.6,415.29H390.3M388.6,457.2H390.3M388.6,452.2H390.3M388.6,448.65H390.3M388.6,445.9H390.3M388.6,443.65H390.3M388.6,441.75H390.3M388.6,440.1H390.3M388.6,438.65H390.3M388.6,471.04H390.3M388.6,474.57H390.3M388.6,477.21H390.3M388.6,479.86H390.3M388.6,489.6H390.3M388.6,494.03H390.3M388.6,497.58H390.3M461.23,506V507.7M465.08,506V507.7M467.82,506V507.7M469.94,506V507.7M471.67,506V507.7M473.14,506V507.7M474.41,506V507.7M475.53,506V507.7M435.86,506V507.7M440.59,506V507.7M443.95,506V507.7M446.55,506V507.7M448.68,506V507.7M450.48,506V507.7M452.04,506V507.7M453.41,506V507.7M415.87,506V507.7M419.05,506V507.7M421.43,506V507.7M423.81,506V507.7M425.87,506V507.7M397.91,506V507.7M402.28,506V507.7M405.78,506V507.7M408.41,506V507.7" stroke="#444" stroke-width="0.65" fill="none"/>
<rect x="387.9" y="480.99" width="2.4" height="4.8" fill="#111"/>
<rect x="409.31" y="506" width="4.8" height="2.3" fill="#111"/>
<text x="385.6" y="416.33" font-size="4.5" fill="#2a2a2a" font-weight="normal" text-anchor="end">10<tspan font-size="3.7" dx="0.6" dy="-2.8">5</tspan></text>
<text x="385.6" y="439.45" font-size="4.5" fill="#2a2a2a" font-weight="normal" text-anchor="end">10<tspan font-size="3.7" dx="0.6" dy="-2.8">4</tspan></text>
<text x="385.6" y="467.84" font-size="4.5" fill="#2a2a2a" font-weight="normal" text-anchor="end">10<tspan font-size="3.7" dx="0.6" dy="-2.8">3</tspan></text>
<text x="383.5" y="485.79" font-size="4.5" fill="#2a2a2a" font-weight="normal" text-anchor="end">0</text>
<text x="385.6" y="503.23" font-size="4.5" fill="#2a2a2a" font-weight="normal" text-anchor="end">-10<tspan font-size="3.7" dx="0.6" dy="-2.8">3</tspan></text>
<text x="396.11" y="518.8" font-size="4.5" fill="#2a2a2a" font-weight="normal" text-anchor="middle">-10<tspan font-size="3.7" dx="0.6" dy="-3.0">3</tspan></text>
<text x="411.91" y="518.8" font-size="4.5" fill="#2a2a2a" font-weight="normal" text-anchor="middle">0</text>
<text x="429.48" y="518.8" font-size="4.5" fill="#2a2a2a" font-weight="normal" text-anchor="middle">10<tspan font-size="3.7" dx="0.6" dy="-3.0">3</tspan></text>
<text x="456.34" y="518.8" font-size="4.5" fill="#2a2a2a" font-weight="normal" text-anchor="middle">10<tspan font-size="3.7" dx="0.6" dy="-3.0">4</tspan></text>
<text x="478.23" y="518.8" font-size="4.5" fill="#2a2a2a" font-weight="normal" text-anchor="middle">10<tspan font-size="3.7" dx="0.6" dy="-3.0">5</tspan></text>
<rect x="390.3" y="404.6" width="95.6" height="101.4" fill="none" stroke="#7c7c7c" stroke-width="1.1"/>
<line x1="414.3" y1="404.6" x2="414.3" y2="506" stroke="#444" stroke-width="1.3"/>
<line x1="390.3" y1="478.3" x2="485.9" y2="478.3" stroke="#444" stroke-width="1.3"/>
<path d="M411.4 474.3h0.8v0.8h-0.8zM411.7 472.8h0.8v0.8h-0.8zM411.4 467.6h0.8v0.8h-0.8zM411.1 472.1h0.8v0.8h-0.8zM411.7 477.8h0.8v0.8h-0.8zM410.5 475.5h0.8v0.8h-0.8zM411.2 477.8h0.8v0.8h-0.8zM409.8 476.8h0.8v0.8h-0.8zM411.3 474.3h0.8v0.8h-0.8zM412.1 473.7h0.8v0.8h-0.8zM412.6 477.7h0.8v0.8h-0.8zM411.1 477.4h0.8v0.8h-0.8zM412.9 473.4h0.8v0.8h-0.8zM410.7 475.0h0.8v0.8h-0.8zM411.6 478.4h0.8v0.8h-0.8zM412.0 476.7h0.8v0.8h-0.8z" fill="#2a3aa6"/>
<path d="M417.7 482.5h0.9v0.9h-0.9zM416.0 481.5h0.9v0.9h-0.9z" fill="#2a3aa6"/>
<path d="M412.9 483.3h1v1h-1zM411.9 476.6h1v1h-1zM412.4 478.1h1v1h-1zM413.4 486.1h1v1h-1zM411.3 485.4h1v1h-1zM410.9 484.3h1v1h-1zM412.6 477.8h1v1h-1zM413.3 483.2h1v1h-1zM410.2 479.0h1v1h-1zM409.9 480.0h1v1h-1zM413.0 482.5h1v1h-1zM409.7 482.8h1v1h-1zM415.3 484.1h1v1h-1zM410.3 477.1h1v1h-1zM409.7 478.7h1v1h-1zM410.9 484.4h1v1h-1zM413.4 478.5h1v1h-1zM411.9 477.2h1v1h-1zM410.5 484.5h1v1h-1zM409.8 477.6h1v1h-1zM409.6 479.0h1v1h-1zM412.3 484.0h1v1h-1zM413.3 484.2h1v1h-1zM410.3 483.7h1v1h-1zM409.4 483.2h1v1h-1zM413.2 486.2h1v1h-1zM410.3 484.4h1v1h-1zM413.2 485.3h1v1h-1zM413.4 480.6h1v1h-1zM409.2 484.0h1v1h-1zM409.4 482.4h1v1h-1zM409.4 482.7h1v1h-1zM409.4 478.9h1v1h-1zM410.4 483.9h1v1h-1zM414.4 479.1h1v1h-1zM412.6 478.1h1v1h-1zM414.1 480.8h1v1h-1zM410.4 478.8h1v1h-1zM410.7 478.2h1v1h-1zM413.2 479.8h1v1h-1zM411.1 484.5h1v1h-1zM413.4 478.7h1v1h-1zM409.6 481.8h1v1h-1zM409.1 480.8h1v1h-1zM409.6 485.7h1v1h-1zM411.1 478.0h1v1h-1zM413.6 480.2h1v1h-1zM410.7 486.4h1v1h-1zM414.6 483.6h1v1h-1zM412.3 476.6h1v1h-1z" fill="#2a3aa6"/>
<path d="M418.7 481.9h0.8v0.8h-0.8zM416.3 481.0h0.8v0.8h-0.8zM417.0 481.8h0.8v0.8h-0.8zM415.5 481.4h0.8v0.8h-0.8zM415.4 479.4h0.8v0.8h-0.8zM418.7 483.2h0.8v0.8h-0.8zM421.8 482.1h0.8v0.8h-0.8zM418.1 481.8h0.8v0.8h-0.8zM417.8 481.3h0.8v0.8h-0.8zM418.1 484.1h0.8v0.8h-0.8zM426.1 482.0h0.8v0.8h-0.8zM417.9 481.9h0.8v0.8h-0.8zM412.1 479.0h0.8v0.8h-0.8zM412.4 475.6h0.8v0.8h-0.8zM412.6 478.1h0.8v0.8h-0.8zM413.4 476.1h0.8v0.8h-0.8zM411.8 477.9h0.8v0.8h-0.8zM412.9 478.9h0.8v0.8h-0.8zM412.5 468.6h0.8v0.8h-0.8zM412.7 475.9h0.8v0.8h-0.8zM411.0 477.7h0.8v0.8h-0.8zM412.7 475.6h0.8v0.8h-0.8zM412.0 479.0h0.8v0.8h-0.8zM412.5 477.6h0.8v0.8h-0.8zM411.8 474.3h0.8v0.8h-0.8zM412.1 472.5h0.8v0.8h-0.8z" fill="#4a64cc"/>
<path d="M418.9 481.9h0.9v0.9h-0.9zM417.6 480.0h0.9v0.9h-0.9zM415.9 482.1h0.9v0.9h-0.9zM419.6 481.6h0.9v0.9h-0.9zM420.8 481.8h0.9v0.9h-0.9zM416.5 480.3h0.9v0.9h-0.9zM416.0 481.4h0.9v0.9h-0.9zM415.4 481.0h0.9v0.9h-0.9zM417.7 480.9h0.9v0.9h-0.9zM426.5 481.1h0.9v0.9h-0.9z" fill="#4a64cc"/>
<path d="M410.6 483.6h1v1h-1zM412.4 478.9h1v1h-1zM410.5 478.8h1v1h-1zM410.2 481.8h1v1h-1zM410.1 481.0h1v1h-1zM412.4 483.1h1v1h-1zM410.3 480.1h1v1h-1zM412.2 483.6h1v1h-1zM412.5 483.2h1v1h-1zM412.9 481.5h1v1h-1zM411.9 478.8h1v1h-1zM410.2 482.6h1v1h-1zM410.8 478.4h1v1h-1zM412.3 478.8h1v1h-1zM412.7 482.8h1v1h-1zM412.8 482.1h1v1h-1zM411.0 478.7h1v1h-1zM412.5 482.6h1v1h-1zM410.1 482.1h1v1h-1zM410.5 483.0h1v1h-1zM412.8 482.9h1v1h-1zM410.0 480.2h1v1h-1zM413.0 481.1h1v1h-1zM412.5 483.2h1v1h-1zM412.8 481.4h1v1h-1zM410.5 479.5h1v1h-1zM412.5 478.9h1v1h-1zM411.8 483.7h1v1h-1zM412.8 482.1h1v1h-1zM412.1 483.7h1v1h-1zM410.9 479.0h1v1h-1zM410.6 479.5h1v1h-1zM412.2 479.1h1v1h-1zM412.7 479.8h1v1h-1zM410.1 479.8h1v1h-1zM411.0 478.5h1v1h-1zM411.6 483.8h1v1h-1zM410.3 480.3h1v1h-1zM411.6 478.7h1v1h-1zM410.2 482.8h1v1h-1z" fill="#4a64cc"/>
<path d="M410.9 479.6h1v1h-1zM411.0 483.3h1v1h-1zM412.5 480.8h1v1h-1zM412.0 479.5h1v1h-1zM412.5 482.2h1v1h-1zM411.2 483.4h1v1h-1zM410.7 482.4h1v1h-1zM410.8 482.8h1v1h-1zM410.7 480.2h1v1h-1zM412.5 480.8h1v1h-1zM412.1 482.9h1v1h-1zM412.2 479.6h1v1h-1zM410.5 481.7h1v1h-1zM411.3 478.9h1v1h-1zM412.5 482.3h1v1h-1zM411.0 479.5h1v1h-1zM412.0 483.1h1v1h-1zM411.3 483.3h1v1h-1zM411.3 483.3h1v1h-1zM410.4 481.0h1v1h-1zM410.9 483.1h1v1h-1zM410.5 481.0h1v1h-1zM411.1 483.0h1v1h-1zM410.6 482.1h1v1h-1zM411.8 479.0h1v1h-1zM410.6 482.2h1v1h-1zM410.3 481.5h1v1h-1zM412.4 480.0h1v1h-1z" fill="#30b8e0"/>
<path d="M412.3 481.7h1v1h-1zM410.9 481.5h1v1h-1zM412.3 481.8h1v1h-1zM412.1 482.1h1v1h-1zM412.3 480.6h1v1h-1zM411.9 479.8h1v1h-1zM412.2 480.9h1v1h-1zM411.1 482.8h1v1h-1zM412.2 482.3h1v1h-1zM412.2 481.6h1v1h-1zM411.8 482.2h1v1h-1zM411.7 479.7h1v1h-1zM410.9 480.9h1v1h-1zM410.8 481.5h1v1h-1zM412.2 481.5h1v1h-1zM412.2 480.5h1v1h-1zM410.6 481.3h1v1h-1zM412.0 480.0h1v1h-1zM412.2 480.2h1v1h-1zM412.2 480.7h1v1h-1zM412.2 481.3h1v1h-1zM412.0 480.4h1v1h-1zM412.4 481.3h1v1h-1zM411.4 482.5h1v1h-1zM411.4 479.7h1v1h-1z" fill="#40c070"/>
<path d="M411.1 481.0h1v1h-1zM411.4 480.2h1v1h-1zM412.1 481.3h1v1h-1zM410.9 481.2h1v1h-1zM411.4 480.4h1v1h-1zM411.4 480.4h1v1h-1zM411.5 482.3h1v1h-1zM411.0 480.7h1v1h-1zM411.3 480.6h1v1h-1zM412.0 481.9h1v1h-1zM411.0 481.4h1v1h-1zM411.6 480.4h1v1h-1zM411.3 482.2h1v1h-1zM411.8 482.1h1v1h-1zM411.9 481.6h1v1h-1zM411.4 481.9h1v1h-1zM411.6 480.2h1v1h-1zM411.7 480.7h1v1h-1zM411.5 481.9h1v1h-1z" fill="#b8e040"/>
<path d="M411.8 481.4h1v1h-1zM411.5 481.4h1v1h-1zM411.7 481.2h1v1h-1zM411.4 481.4h1v1h-1zM411.7 481.0h1v1h-1zM411.4 481.6h1v1h-1zM411.6 480.9h1v1h-1zM411.4 481.5h1v1h-1z" fill="#f08020"/>
<path d="M418.4 480.8h0.8v0.8h-0.8zM415.4 482.2h0.8v0.8h-0.8zM418.7 480.6h0.8v0.8h-0.8zM424.2 481.3h0.8v0.8h-0.8zM415.2 482.0h0.8v0.8h-0.8zM415.1 481.2h0.8v0.8h-0.8zM418.8 482.8h0.8v0.8h-0.8zM415.2 479.9h0.8v0.8h-0.8zM421.0 483.1h0.8v0.8h-0.8zM414.1 481.0h0.8v0.8h-0.8zM424.3 481.1h0.8v0.8h-0.8zM424.6 481.3h0.8v0.8h-0.8zM415.6 482.1h0.8v0.8h-0.8zM414.5 481.3h0.8v0.8h-0.8zM421.3 483.2h0.8v0.8h-0.8zM418.6 482.5h0.8v0.8h-0.8zM425.3 482.5h0.8v0.8h-0.8zM416.4 482.8h0.8v0.8h-0.8z" fill="#8088c8"/>
<path d="M421.8 476.2h0.6v0.6h-0.6zM419.5 480.3h0.6v0.6h-0.6zM424.6 477.8h0.6v0.6h-0.6zM416.9 478.8h0.6v0.6h-0.6zM432.7 478.3h0.6v0.6h-0.6zM432.4 471.8h0.6v0.6h-0.6zM435.2 477.1h0.6v0.6h-0.6zM415.9 476.4h0.6v0.6h-0.6z" fill="#b8bce0"/>
<text x="391.9" y="413.8" font-size="4.5" fill="#333" font-weight="normal" text-anchor="start" stroke="#333" stroke-width="0.06">Q1</text>
<text x="391.9" y="420.9" font-size="4.5" fill="#333" font-weight="normal" text-anchor="start" stroke="#333" stroke-width="0.06">16.8</text>
<text x="477.7" y="413.8" font-size="4.5" fill="#333" font-weight="normal" text-anchor="end" stroke="#333" stroke-width="0.06">Q2</text>
<text x="477.7" y="420.9" font-size="4.5" fill="#333" font-weight="normal" text-anchor="end" stroke="#333" stroke-width="0.06">0.72</text>
<text x="477.7" y="493.5" font-size="4.5" fill="#333" font-weight="normal" text-anchor="end" stroke="#333" stroke-width="0.06">Q3</text>
<text x="477.7" y="500.5" font-size="4.5" fill="#333" font-weight="normal" text-anchor="end" stroke="#333" stroke-width="0.06">4.88</text>
<text x="391.9" y="493.5" font-size="4.5" fill="#333" font-weight="normal" text-anchor="start" stroke="#333" stroke-width="0.06">Q4</text>
<text x="391.9" y="500.5" font-size="4.5" fill="#333" font-weight="normal" text-anchor="start" stroke="#333" stroke-width="0.06">78.4</text>
<text x="450.1" y="488.2" font-size="6.4" fill="#f52a2a" font-weight="bold" text-anchor="start" stroke="#f52a2a" stroke-width="0.15">Tregs</text>
<text x="513.9" y="455.4" font-size="4.85" fill="#333" text-anchor="middle" transform="rotate(-90 513.9 455.4)">Comp-BV421-A :: CD127</text>
<path d="M524.4,415.06H527.4M524.4,437.77H527.4M524.4,465.66H527.4M524.4,482.99H527.4M524.4,500.42H527.4M531.45,505.2V508.2M548.67,505.2V508.2M564.29,505.2V508.2M590.73,505.2V508.2M612.28,505.2V508.2" stroke="#222" stroke-width="1" fill="none"/>
<path d="M525.7,430.93H527.4M525.7,426.94H527.4M525.7,424.1H527.4M525.7,421.9H527.4M525.7,420.1H527.4M525.7,418.58H527.4M525.7,417.26H527.4M525.7,416.1H527.4M525.7,457.26H527.4M525.7,452.35H527.4M525.7,448.87H527.4M525.7,446.17H527.4M525.7,443.96H527.4M525.7,442.09H527.4M525.7,440.47H527.4M525.7,439.05H527.4M525.7,470.86H527.4M525.7,474.32H527.4M525.7,476.92H527.4M525.7,479.52H527.4M525.7,489.09H527.4M525.7,493.45H527.4M525.7,496.93H527.4M597.22,505.2V506.9M601.01,505.2V506.9M603.7,505.2V506.9M605.79,505.2V506.9M607.5,505.2V506.9M608.94,505.2V506.9M610.19,505.2V506.9M611.29,505.2V506.9M572.25,505.2V506.9M576.9,505.2V506.9M580.21,505.2V506.9M582.77,505.2V506.9M584.86,505.2V506.9M586.63,505.2V506.9M588.17,505.2V506.9M589.52,505.2V506.9M552.57,505.2V506.9M555.7,505.2V506.9M558.04,505.2V506.9M560.38,505.2V506.9M562.41,505.2V506.9M534.89,505.2V506.9M539.2,505.2V506.9M542.64,505.2V506.9M545.22,505.2V506.9" stroke="#444" stroke-width="0.65" fill="none"/>
<rect x="525" y="480.59" width="2.4" height="4.8" fill="#111"/>
<rect x="546.07" y="505.2" width="4.8" height="2.3" fill="#111"/>
<text x="522.7" y="417.16" font-size="4.5" fill="#2a2a2a" font-weight="normal" text-anchor="end">10<tspan font-size="3.7" dx="0.6" dy="-2.8">5</tspan></text>
<text x="522.7" y="439.87" font-size="4.5" fill="#2a2a2a" font-weight="normal" text-anchor="end">10<tspan font-size="3.7" dx="0.6" dy="-2.8">4</tspan></text>
<text x="522.7" y="467.76" font-size="4.5" fill="#2a2a2a" font-weight="normal" text-anchor="end">10<tspan font-size="3.7" dx="0.6" dy="-2.8">3</tspan></text>
<text x="520.6" y="485.39" font-size="4.5" fill="#2a2a2a" font-weight="normal" text-anchor="end">0</text>
<text x="522.7" y="502.52" font-size="4.5" fill="#2a2a2a" font-weight="normal" text-anchor="end">-10<tspan font-size="3.7" dx="0.6" dy="-2.8">3</tspan></text>
<text x="533.15" y="518" font-size="4.5" fill="#2a2a2a" font-weight="normal" text-anchor="middle">-10<tspan font-size="3.7" dx="0.6" dy="-3.0">3</tspan></text>
<text x="548.67" y="518" font-size="4.5" fill="#2a2a2a" font-weight="normal" text-anchor="middle">0</text>
<text x="565.99" y="518" font-size="4.5" fill="#2a2a2a" font-weight="normal" text-anchor="middle">10<tspan font-size="3.7" dx="0.6" dy="-3.0">3</tspan></text>
<text x="592.43" y="518" font-size="4.5" fill="#2a2a2a" font-weight="normal" text-anchor="middle">10<tspan font-size="3.7" dx="0.6" dy="-3.0">4</tspan></text>
<text x="613.98" y="518" font-size="4.5" fill="#2a2a2a" font-weight="normal" text-anchor="middle">10<tspan font-size="3.7" dx="0.6" dy="-3.0">5</tspan></text>
<rect x="527.4" y="405.6" width="94.1" height="99.6" fill="none" stroke="#7c7c7c" stroke-width="1.1"/>
<line x1="552" y1="405.6" x2="552" y2="505.2" stroke="#444" stroke-width="1.3"/>
<line x1="527.4" y1="476.6" x2="621.5" y2="476.6" stroke="#444" stroke-width="1.3"/>
<path d="M549.0 475.3h0.8v0.8h-0.8zM548.4 475.7h0.8v0.8h-0.8zM548.1 475.2h0.8v0.8h-0.8zM548.6 471.0h0.8v0.8h-0.8zM547.4 474.7h0.8v0.8h-0.8z" fill="#2a3aa6"/>
<path d="M553.8 480.7h0.9v0.9h-0.9zM556.3 481.2h0.9v0.9h-0.9zM560.7 480.6h0.9v0.9h-0.9zM552.7 481.2h0.9v0.9h-0.9zM551.4 481.2h0.9v0.9h-0.9z" fill="#2a3aa6"/>
<path d="M545.4 478.7h1v1h-1zM545.3 482.0h1v1h-1zM550.2 481.3h1v1h-1zM548.7 483.0h1v1h-1zM550.6 478.6h1v1h-1zM546.7 477.9h1v1h-1zM547.0 477.7h1v1h-1zM551.2 479.2h1v1h-1zM546.4 481.5h1v1h-1zM550.9 481.2h1v1h-1zM549.1 484.2h1v1h-1zM546.3 480.8h1v1h-1zM547.7 477.2h1v1h-1zM548.5 483.3h1v1h-1zM546.0 483.3h1v1h-1zM551.2 478.2h1v1h-1zM546.5 478.5h1v1h-1zM546.9 478.2h1v1h-1zM546.1 479.2h1v1h-1zM550.1 483.6h1v1h-1zM545.3 480.6h1v1h-1zM547.1 484.6h1v1h-1zM550.1 476.9h1v1h-1zM546.6 478.4h1v1h-1zM545.8 480.0h1v1h-1zM549.3 483.7h1v1h-1zM546.2 480.3h1v1h-1zM546.8 482.1h1v1h-1zM546.7 477.5h1v1h-1zM547.0 477.8h1v1h-1zM547.4 477.5h1v1h-1zM550.5 485.8h1v1h-1zM548.6 477.3h1v1h-1zM544.4 478.2h1v1h-1zM548.0 475.4h1v1h-1zM550.1 483.4h1v1h-1zM550.9 480.3h1v1h-1zM546.5 476.1h1v1h-1zM546.7 482.7h1v1h-1zM549.8 478.1h1v1h-1zM545.8 481.9h1v1h-1zM548.1 476.6h1v1h-1zM547.8 476.9h1v1h-1zM546.9 484.0h1v1h-1zM546.3 479.2h1v1h-1zM548.6 483.3h1v1h-1zM546.8 478.0h1v1h-1zM547.5 482.7h1v1h-1zM550.7 481.3h1v1h-1zM547.0 477.0h1v1h-1zM547.5 476.6h1v1h-1zM545.1 480.1h1v1h-1zM546.1 480.8h1v1h-1zM548.3 477.2h1v1h-1zM550.6 484.3h1v1h-1zM546.6 482.0h1v1h-1z" fill="#2a3aa6"/>
<path d="M560.7 480.8h0.8v0.8h-0.8zM551.5 481.1h0.8v0.8h-0.8zM551.3 480.0h0.8v0.8h-0.8zM552.6 482.3h0.8v0.8h-0.8zM553.0 481.2h0.8v0.8h-0.8zM554.8 480.1h0.8v0.8h-0.8zM554.2 480.0h0.8v0.8h-0.8zM556.6 481.2h0.8v0.8h-0.8zM547.9 477.1h0.8v0.8h-0.8zM549.1 474.6h0.8v0.8h-0.8zM549.3 472.6h0.8v0.8h-0.8zM549.3 473.5h0.8v0.8h-0.8zM548.5 478.0h0.8v0.8h-0.8zM548.1 475.0h0.8v0.8h-0.8zM547.1 473.6h0.8v0.8h-0.8zM548.0 476.5h0.8v0.8h-0.8zM548.7 472.8h0.8v0.8h-0.8zM548.6 476.2h0.8v0.8h-0.8z" fill="#4a64cc"/>
<path d="M552.1 480.7h0.9v0.9h-0.9zM563.7 480.8h0.9v0.9h-0.9zM553.0 481.0h0.9v0.9h-0.9zM555.9 480.6h0.9v0.9h-0.9zM556.5 480.5h0.9v0.9h-0.9z" fill="#4a64cc"/>
<path d="M549.1 482.5h1v1h-1zM548.8 482.5h1v1h-1zM546.6 480.7h1v1h-1zM549.2 482.2h1v1h-1zM547.4 482.0h1v1h-1zM548.2 477.7h1v1h-1zM550.1 479.2h1v1h-1zM547.0 478.7h1v1h-1zM546.9 481.3h1v1h-1zM546.8 481.0h1v1h-1zM546.9 478.4h1v1h-1zM549.2 478.3h1v1h-1zM547.3 478.2h1v1h-1zM550.0 479.0h1v1h-1zM548.8 482.6h1v1h-1zM549.8 480.1h1v1h-1zM549.7 480.8h1v1h-1zM548.7 478.0h1v1h-1zM549.3 482.2h1v1h-1zM547.2 481.5h1v1h-1zM548.7 477.5h1v1h-1zM549.9 479.4h1v1h-1zM547.1 478.1h1v1h-1zM547.9 482.7h1v1h-1zM548.2 482.5h1v1h-1zM546.8 479.5h1v1h-1zM546.7 480.8h1v1h-1zM549.9 478.7h1v1h-1zM549.1 478.2h1v1h-1zM547.1 478.1h1v1h-1zM549.3 481.9h1v1h-1zM547.0 478.7h1v1h-1zM546.8 478.7h1v1h-1zM546.9 479.2h1v1h-1zM550.0 479.0h1v1h-1zM549.2 482.5h1v1h-1zM548.0 478.1h1v1h-1z" fill="#4a64cc"/>
<path d="M547.1 479.0h1v1h-1zM549.2 481.1h1v1h-1zM548.7 481.9h1v1h-1zM546.8 479.8h1v1h-1zM549.7 479.6h1v1h-1zM547.2 481.2h1v1h-1zM549.2 479.1h1v1h-1zM547.9 481.9h1v1h-1zM549.7 480.2h1v1h-1zM549.3 480.7h1v1h-1zM547.3 481.0h1v1h-1zM548.7 478.2h1v1h-1zM548.1 482.0h1v1h-1zM549.1 478.5h1v1h-1zM549.2 478.9h1v1h-1zM547.2 478.9h1v1h-1zM548.8 481.6h1v1h-1zM548.2 478.1h1v1h-1zM548.8 478.7h1v1h-1zM547.4 481.2h1v1h-1zM549.5 480.5h1v1h-1zM547.1 479.0h1v1h-1zM547.1 481.0h1v1h-1zM548.4 482.0h1v1h-1zM547.8 478.4h1v1h-1zM548.5 478.5h1v1h-1z" fill="#30b8e0"/>
<path d="M548.0 479.1h1v1h-1zM547.5 480.2h1v1h-1zM548.9 479.3h1v1h-1zM547.6 479.7h1v1h-1zM548.6 478.9h1v1h-1zM548.2 479.0h1v1h-1zM547.8 481.5h1v1h-1zM548.0 481.0h1v1h-1zM549.3 480.5h1v1h-1zM548.0 479.2h1v1h-1zM549.2 480.6h1v1h-1zM548.3 478.9h1v1h-1zM549.1 480.0h1v1h-1zM548.4 481.6h1v1h-1zM548.8 478.9h1v1h-1zM548.3 481.4h1v1h-1zM547.7 479.3h1v1h-1zM548.3 479.0h1v1h-1zM548.5 481.3h1v1h-1zM547.6 481.0h1v1h-1zM548.3 481.4h1v1h-1zM548.9 481.2h1v1h-1zM548.1 478.8h1v1h-1zM548.3 478.7h1v1h-1zM548.8 480.9h1v1h-1zM547.6 481.0h1v1h-1zM547.8 479.0h1v1h-1zM548.5 481.3h1v1h-1zM548.8 481.1h1v1h-1zM547.4 480.5h1v1h-1zM549.2 480.2h1v1h-1zM547.3 479.5h1v1h-1zM547.6 479.2h1v1h-1z" fill="#40c070"/>
<path d="M547.8 479.6h1v1h-1zM547.7 480.2h1v1h-1zM548.1 479.6h1v1h-1zM548.8 480.1h1v1h-1zM549.0 480.1h1v1h-1zM548.1 480.7h1v1h-1zM548.7 480.7h1v1h-1zM548.4 479.6h1v1h-1zM548.1 479.6h1v1h-1zM548.1 479.2h1v1h-1zM548.3 480.7h1v1h-1zM547.7 480.4h1v1h-1z" fill="#b8e040"/>
<path d="M547.9 480.1h1v1h-1zM548.3 480.6h1v1h-1zM548.1 479.8h1v1h-1zM548.2 480.6h1v1h-1zM548.4 479.7h1v1h-1zM548.3 480.4h1v1h-1z" fill="#f08020"/>
<path d="M558.7 481.8h0.8v0.8h-0.8zM553.5 481.2h0.8v0.8h-0.8zM564.2 481.6h0.8v0.8h-0.8zM553.2 479.9h0.8v0.8h-0.8zM555.1 482.1h0.8v0.8h-0.8zM559.9 482.2h0.8v0.8h-0.8zM552.7 481.6h0.8v0.8h-0.8zM558.4 480.8h0.8v0.8h-0.8zM553.0 481.1h0.8v0.8h-0.8zM551.0 480.3h0.8v0.8h-0.8zM552.1 480.2h0.8v0.8h-0.8zM556.6 481.7h0.8v0.8h-0.8zM553.4 481.8h0.8v0.8h-0.8zM551.9 480.0h0.8v0.8h-0.8zM551.5 480.7h0.8v0.8h-0.8zM552.4 480.1h0.8v0.8h-0.8zM553.8 481.1h0.8v0.8h-0.8zM553.3 482.1h0.8v0.8h-0.8zM559.8 481.6h0.8v0.8h-0.8zM560.0 481.4h0.8v0.8h-0.8zM563.9 479.9h0.8v0.8h-0.8zM553.8 483.4h0.8v0.8h-0.8z" fill="#8088c8"/>
<path d="M567.3 476.2h0.6v0.6h-0.6zM560.4 470.9h0.6v0.6h-0.6zM551.8 477.9h0.6v0.6h-0.6zM571.4 478.0h0.6v0.6h-0.6zM561.2 469.8h0.6v0.6h-0.6zM559.0 478.7h0.6v0.6h-0.6zM571.2 470.9h0.6v0.6h-0.6zM558.6 472.0h0.6v0.6h-0.6z" fill="#b8bce0"/>
<text x="529" y="414.8" font-size="4.5" fill="#333" font-weight="normal" text-anchor="start" stroke="#333" stroke-width="0.06">Q1</text>
<text x="529" y="421.9" font-size="4.5" fill="#333" font-weight="normal" text-anchor="start" stroke="#333" stroke-width="0.06">4.82</text>
<text x="613.3" y="414.8" font-size="4.5" fill="#333" font-weight="normal" text-anchor="end" stroke="#333" stroke-width="0.06">Q2</text>
<text x="613.3" y="421.9" font-size="4.5" fill="#333" font-weight="normal" text-anchor="end" stroke="#333" stroke-width="0.06">1.08</text>
<text x="613.3" y="492.7" font-size="4.5" fill="#333" font-weight="normal" text-anchor="end" stroke="#333" stroke-width="0.06">Q3</text>
<text x="613.3" y="499.7" font-size="4.5" fill="#333" font-weight="normal" text-anchor="end" stroke="#333" stroke-width="0.06">5.39</text>
<text x="529" y="492.7" font-size="4.5" fill="#333" font-weight="normal" text-anchor="start" stroke="#333" stroke-width="0.06">Q4</text>
<text x="529" y="499.7" font-size="4.5" fill="#333" font-weight="normal" text-anchor="start" stroke="#333" stroke-width="0.06">88.9</text>
<text x="585.3" y="488.9" font-size="6.4" fill="#f52a2a" font-weight="bold" text-anchor="start" stroke="#f52a2a" stroke-width="0.15">Tregs</text>
<text x="100.7" y="585.8" font-size="4.85" fill="#333" text-anchor="middle" transform="rotate(-90 100.7 585.8)">Comp-BV421-A :: CD127</text>
<path d="M111.2,543.68H114.2M111.2,567.39H114.2M111.2,596.51H114.2M111.2,614.61H114.2M111.2,632.81H114.2M118.46,637.8V640.8M136.6,637.8V640.8M153.05,637.8V640.8M180.89,637.8V640.8M203.59,637.8V640.8" stroke="#222" stroke-width="1" fill="none"/>
<path d="M112.5,560.25H114.2M112.5,556.08H114.2M112.5,553.12H114.2M112.5,550.82H114.2M112.5,548.94H114.2M112.5,547.35H114.2M112.5,545.98H114.2M112.5,544.77H114.2M112.5,587.75H114.2M112.5,582.62H114.2M112.5,578.98H114.2M112.5,576.16H114.2M112.5,573.85H114.2M112.5,571.9H114.2M112.5,570.21H114.2M112.5,568.72H114.2M112.5,601.94H114.2M112.5,605.56H114.2M112.5,608.27H114.2M112.5,610.99H114.2M112.5,620.98H114.2M112.5,625.53H114.2M112.5,629.17H114.2M187.73,637.8V639.5M191.72,637.8V639.5M194.56,637.8V639.5M196.76,637.8V639.5M198.55,637.8V639.5M200.07,637.8V639.5M201.39,637.8V639.5M202.55,637.8V639.5M161.43,637.8V639.5M166.33,637.8V639.5M169.81,637.8V639.5M172.51,637.8V639.5M174.72,637.8V639.5M176.58,637.8V639.5M178.2,637.8V639.5M179.62,637.8V639.5M140.71,637.8V639.5M144,637.8V639.5M146.47,637.8V639.5M148.93,637.8V639.5M151.07,637.8V639.5M122.09,637.8V639.5M126.62,637.8V639.5M130.25,637.8V639.5M132.97,637.8V639.5" stroke="#444" stroke-width="0.65" fill="none"/>
<rect x="111.8" y="612.21" width="2.4" height="4.8" fill="#111"/>
<rect x="134" y="637.8" width="4.8" height="2.3" fill="#111"/>
<text x="109.5" y="545.78" font-size="4.5" fill="#2a2a2a" font-weight="normal" text-anchor="end">10<tspan font-size="3.7" dx="0.6" dy="-2.8">5</tspan></text>
<text x="109.5" y="569.49" font-size="4.5" fill="#2a2a2a" font-weight="normal" text-anchor="end">10<tspan font-size="3.7" dx="0.6" dy="-2.8">4</tspan></text>
<text x="109.5" y="598.61" font-size="4.5" fill="#2a2a2a" font-weight="normal" text-anchor="end">10<tspan font-size="3.7" dx="0.6" dy="-2.8">3</tspan></text>
<text x="107.4" y="617.01" font-size="4.5" fill="#2a2a2a" font-weight="normal" text-anchor="end">0</text>
<text x="109.5" y="634.91" font-size="4.5" fill="#2a2a2a" font-weight="normal" text-anchor="end">-10<tspan font-size="3.7" dx="0.6" dy="-2.8">3</tspan></text>
<text x="120.16" y="650.6" font-size="4.5" fill="#2a2a2a" font-weight="normal" text-anchor="middle">-10<tspan font-size="3.7" dx="0.6" dy="-3.0">3</tspan></text>
<text x="136.6" y="650.6" font-size="4.5" fill="#2a2a2a" font-weight="normal" text-anchor="middle">0</text>
<text x="154.75" y="650.6" font-size="4.5" fill="#2a2a2a" font-weight="normal" text-anchor="middle">10<tspan font-size="3.7" dx="0.6" dy="-3.0">3</tspan></text>
<text x="182.59" y="650.6" font-size="4.5" fill="#2a2a2a" font-weight="normal" text-anchor="middle">10<tspan font-size="3.7" dx="0.6" dy="-3.0">4</tspan></text>
<text x="205.29" y="650.6" font-size="4.5" fill="#2a2a2a" font-weight="normal" text-anchor="middle">10<tspan font-size="3.7" dx="0.6" dy="-3.0">5</tspan></text>
<rect x="114.2" y="533.8" width="99.1" height="104" fill="none" stroke="#7c7c7c" stroke-width="1.1"/>
<line x1="139.7" y1="533.8" x2="139.7" y2="637.8" stroke="#444" stroke-width="1.3"/>
<line x1="114.2" y1="605.7" x2="213.3" y2="605.7" stroke="#444" stroke-width="1.3"/>
<path d="M136.7 603.5h0.8v0.8h-0.8zM138.0 606.4h0.8v0.8h-0.8zM136.3 607.5h0.8v0.8h-0.8zM137.2 608.7h0.8v0.8h-0.8zM136.3 605.6h0.8v0.8h-0.8zM135.9 605.1h0.8v0.8h-0.8zM137.0 608.5h0.8v0.8h-0.8zM136.7 606.8h0.8v0.8h-0.8z" fill="#2a3aa6"/>
<path d="M137.1 607.7h1v1h-1zM140.1 615.9h1v1h-1zM134.4 610.3h1v1h-1zM136.3 616.3h1v1h-1zM137.9 615.7h1v1h-1zM133.4 610.2h1v1h-1zM134.3 612.5h1v1h-1zM138.5 614.5h1v1h-1zM136.7 615.7h1v1h-1zM138.7 612.8h1v1h-1zM138.3 608.2h1v1h-1zM134.0 611.2h1v1h-1zM133.9 610.0h1v1h-1zM134.1 608.4h1v1h-1zM137.1 607.0h1v1h-1zM138.7 613.7h1v1h-1zM138.0 614.9h1v1h-1zM140.1 613.3h1v1h-1zM139.2 611.6h1v1h-1zM133.2 609.0h1v1h-1zM135.8 606.9h1v1h-1zM134.6 613.9h1v1h-1zM137.5 609.0h1v1h-1zM136.7 608.3h1v1h-1zM138.6 611.1h1v1h-1zM137.5 614.9h1v1h-1zM139.1 610.7h1v1h-1zM138.0 614.5h1v1h-1zM134.3 613.5h1v1h-1zM138.1 615.9h1v1h-1zM134.4 614.2h1v1h-1zM137.8 609.2h1v1h-1zM138.0 615.9h1v1h-1zM134.2 613.7h1v1h-1zM138.4 610.4h1v1h-1zM131.9 612.6h1v1h-1zM132.8 615.5h1v1h-1zM135.5 617.0h1v1h-1zM136.1 607.6h1v1h-1zM137.3 617.0h1v1h-1zM138.8 610.0h1v1h-1zM134.7 614.6h1v1h-1zM134.6 615.5h1v1h-1zM138.2 615.8h1v1h-1zM139.4 614.2h1v1h-1zM133.7 613.6h1v1h-1zM138.7 611.1h1v1h-1zM138.1 609.5h1v1h-1zM139.0 615.3h1v1h-1zM134.1 611.8h1v1h-1zM137.4 615.5h1v1h-1zM138.0 616.0h1v1h-1zM136.6 616.5h1v1h-1zM134.8 614.5h1v1h-1zM135.0 614.5h1v1h-1zM138.7 617.7h1v1h-1zM135.8 607.7h1v1h-1z" fill="#2a3aa6"/>
<path d="M139.1 612.1h0.8v0.8h-0.8zM139.9 611.7h0.8v0.8h-0.8zM144.9 612.5h0.8v0.8h-0.8zM141.6 611.4h0.8v0.8h-0.8zM146.1 612.9h0.8v0.8h-0.8zM139.6 613.9h0.8v0.8h-0.8zM142.3 612.9h0.8v0.8h-0.8zM139.2 611.8h0.8v0.8h-0.8zM139.1 612.6h0.8v0.8h-0.8zM151.0 613.1h0.8v0.8h-0.8zM137.7 608.6h0.8v0.8h-0.8zM137.5 607.4h0.8v0.8h-0.8zM136.6 608.1h0.8v0.8h-0.8zM136.7 607.9h0.8v0.8h-0.8zM137.7 607.9h0.8v0.8h-0.8zM137.4 609.6h0.8v0.8h-0.8zM137.3 604.1h0.8v0.8h-0.8zM137.0 605.2h0.8v0.8h-0.8zM135.1 606.6h0.8v0.8h-0.8zM136.8 608.3h0.8v0.8h-0.8zM135.5 600.5h0.8v0.8h-0.8zM135.3 606.1h0.8v0.8h-0.8z" fill="#4a64cc"/>
<path d="M137.7 609.7h1v1h-1zM138.0 611.3h1v1h-1zM137.2 614.8h1v1h-1zM136.2 614.4h1v1h-1zM137.9 610.4h1v1h-1zM136.4 614.7h1v1h-1zM137.7 613.3h1v1h-1zM138.0 612.3h1v1h-1zM136.9 609.4h1v1h-1zM134.9 610.1h1v1h-1zM136.0 614.3h1v1h-1zM134.9 613.8h1v1h-1zM134.6 613.0h1v1h-1zM137.9 610.2h1v1h-1zM137.4 613.9h1v1h-1zM134.9 610.9h1v1h-1zM135.7 614.6h1v1h-1zM137.3 614.5h1v1h-1zM134.5 613.0h1v1h-1zM135.1 610.1h1v1h-1zM134.5 611.5h1v1h-1zM134.5 611.6h1v1h-1zM136.3 614.8h1v1h-1zM137.9 613.2h1v1h-1zM137.8 610.0h1v1h-1zM134.9 610.3h1v1h-1zM138.1 612.4h1v1h-1zM138.1 612.0h1v1h-1zM137.7 609.6h1v1h-1zM134.6 611.5h1v1h-1zM134.3 611.2h1v1h-1zM135.5 609.3h1v1h-1z" fill="#4a64cc"/>
<path d="M136.8 610.0h1v1h-1zM135.5 609.8h1v1h-1zM135.5 613.1h1v1h-1zM137.9 612.5h1v1h-1zM135.1 613.2h1v1h-1zM135.9 614.1h1v1h-1zM137.3 610.1h1v1h-1zM135.2 612.4h1v1h-1zM135.4 610.5h1v1h-1zM136.8 609.5h1v1h-1zM136.4 609.9h1v1h-1zM136.3 613.7h1v1h-1zM137.5 610.1h1v1h-1zM135.4 610.4h1v1h-1zM137.2 610.2h1v1h-1zM137.3 613.4h1v1h-1zM135.0 611.3h1v1h-1zM137.7 611.2h1v1h-1zM136.7 613.9h1v1h-1zM136.1 610.0h1v1h-1zM135.5 609.9h1v1h-1zM135.4 610.2h1v1h-1zM135.9 614.0h1v1h-1zM136.7 609.5h1v1h-1zM137.5 613.2h1v1h-1zM137.1 614.0h1v1h-1zM135.3 613.2h1v1h-1z" fill="#30b8e0"/>
<path d="M136.8 613.4h1v1h-1zM137.4 611.7h1v1h-1zM137.3 612.0h1v1h-1zM136.4 610.2h1v1h-1zM136.9 613.2h1v1h-1zM136.7 610.4h1v1h-1zM135.3 611.6h1v1h-1zM135.8 610.4h1v1h-1zM135.6 610.9h1v1h-1zM136.3 610.0h1v1h-1zM135.6 613.0h1v1h-1zM136.5 610.4h1v1h-1zM136.6 610.1h1v1h-1zM137.1 612.3h1v1h-1zM136.3 613.3h1v1h-1zM137.2 610.8h1v1h-1zM136.0 610.7h1v1h-1zM137.5 611.9h1v1h-1zM135.7 610.4h1v1h-1zM137.3 612.9h1v1h-1zM136.4 613.1h1v1h-1zM136.6 613.6h1v1h-1zM136.4 610.0h1v1h-1zM135.4 611.7h1v1h-1zM135.5 612.1h1v1h-1zM136.0 613.2h1v1h-1zM136.6 613.6h1v1h-1zM136.6 613.2h1v1h-1zM135.8 613.1h1v1h-1z" fill="#40c070"/>
<path d="M136.5 610.9h1v1h-1zM135.7 611.9h1v1h-1zM136.0 611.2h1v1h-1zM136.4 610.6h1v1h-1zM135.8 612.1h1v1h-1zM136.9 611.7h1v1h-1zM136.5 611.1h1v1h-1zM135.9 611.1h1v1h-1zM136.4 610.7h1v1h-1zM136.9 611.0h1v1h-1zM136.1 611.2h1v1h-1zM136.7 611.1h1v1h-1zM135.9 612.1h1v1h-1zM136.4 612.8h1v1h-1zM136.4 610.8h1v1h-1zM136.6 612.8h1v1h-1zM136.0 611.9h1v1h-1zM136.7 611.0h1v1h-1z" fill="#b8e040"/>
<path d="M136.8 611.8h1v1h-1zM136.3 612.0h1v1h-1zM136.2 612.3h1v1h-1zM136.3 611.3h1v1h-1zM136.3 611.4h1v1h-1zM136.4 612.1h1v1h-1zM136.7 612.1h1v1h-1z" fill="#f08020"/>
<path d="M146.0 613.1h0.8v0.8h-0.8zM152.6 611.9h0.8v0.8h-0.8zM141.2 612.1h0.8v0.8h-0.8zM143.1 611.8h0.8v0.8h-0.8zM141.2 613.0h0.8v0.8h-0.8zM143.8 612.7h0.8v0.8h-0.8zM146.2 611.3h0.8v0.8h-0.8zM143.3 613.0h0.8v0.8h-0.8zM143.5 612.4h0.8v0.8h-0.8zM142.9 614.0h0.8v0.8h-0.8zM141.8 611.9h0.8v0.8h-0.8zM139.1 612.7h0.8v0.8h-0.8zM140.2 612.7h0.8v0.8h-0.8zM142.5 612.7h0.8v0.8h-0.8zM145.6 612.9h0.8v0.8h-0.8zM141.1 611.9h0.8v0.8h-0.8zM145.2 612.6h0.8v0.8h-0.8zM143.0 612.7h0.8v0.8h-0.8zM139.9 613.3h0.8v0.8h-0.8zM145.5 612.4h0.8v0.8h-0.8z" fill="#8088c8"/>
<path d="M146.9 605.3h0.6v0.6h-0.6zM151.5 610.7h0.6v0.6h-0.6zM163.0 602.8h0.6v0.6h-0.6zM146.9 607.3h0.6v0.6h-0.6zM146.7 604.2h0.6v0.6h-0.6zM150.5 601.7h0.6v0.6h-0.6zM147.9 609.8h0.6v0.6h-0.6zM160.4 605.2h0.6v0.6h-0.6z" fill="#b8bce0"/>
<text x="115.8" y="543" font-size="4.5" fill="#333" font-weight="normal" text-anchor="start" stroke="#333" stroke-width="0.06">Q1</text>
<text x="115.8" y="550.1" font-size="4.5" fill="#333" font-weight="normal" text-anchor="start" stroke="#333" stroke-width="0.06">4.16</text>
<text x="205.1" y="543" font-size="4.5" fill="#333" font-weight="normal" text-anchor="end" stroke="#333" stroke-width="0.06">Q2</text>
<text x="205.1" y="550.1" font-size="4.5" fill="#333" font-weight="normal" text-anchor="end" stroke="#333" stroke-width="0.06">0.91</text>
<text x="205.1" y="625.3" font-size="4.5" fill="#333" font-weight="normal" text-anchor="end" stroke="#333" stroke-width="0.06">Q3</text>
<text x="205.1" y="632.3" font-size="4.5" fill="#333" font-weight="normal" text-anchor="end" stroke="#333" stroke-width="0.06">8.27</text>
<text x="115.8" y="625.3" font-size="4.5" fill="#333" font-weight="normal" text-anchor="start" stroke="#333" stroke-width="0.06">Q4</text>
<text x="115.8" y="632.3" font-size="4.5" fill="#333" font-weight="normal" text-anchor="start" stroke="#333" stroke-width="0.06">86.7</text>
<text x="176.4" y="617.1" font-size="6.4" fill="#f52a2a" font-weight="bold" text-anchor="start" stroke="#f52a2a" stroke-width="0.15">Tregs</text>
<text x="242.3" y="587.6" font-size="4.85" fill="#333" text-anchor="middle" transform="rotate(-90 242.3 587.6)">Comp-BV421-A :: CD127</text>
<path d="M252.8,546.53H255.8M252.8,569.65H255.8M252.8,598.04H255.8M252.8,615.69H255.8M252.8,633.43H255.8M260.09,638.3V641.3M278.35,638.3V641.3M294.92,638.3V641.3M322.97,638.3V641.3M345.82,638.3V641.3" stroke="#222" stroke-width="1" fill="none"/>
<path d="M254.1,562.69H255.8M254.1,558.62H255.8M254.1,555.73H255.8M254.1,553.49H255.8M254.1,551.66H255.8M254.1,550.11H255.8M254.1,548.77H255.8M254.1,547.59H255.8M254.1,589.5H255.8M254.1,584.5H255.8M254.1,580.95H255.8M254.1,578.2H255.8M254.1,575.95H255.8M254.1,574.05H255.8M254.1,572.4H255.8M254.1,570.95H255.8M254.1,603.34H255.8M254.1,606.87H255.8M254.1,609.51H255.8M254.1,612.16H255.8M254.1,621.9H255.8M254.1,626.33H255.8M254.1,629.88H255.8M329.85,638.3V640M333.87,638.3V640M336.72,638.3V640M338.94,638.3V640M340.75,638.3V640M342.28,638.3V640M343.6,638.3V640M344.77,638.3V640M303.36,638.3V640M308.3,638.3V640M311.81,638.3V640M314.52,638.3V640M316.74,638.3V640M318.62,638.3V640M320.25,638.3V640M321.68,638.3V640M282.5,638.3V640M285.81,638.3V640M288.29,638.3V640M290.78,638.3V640M292.93,638.3V640M263.74,638.3V640M268.31,638.3V640M271.96,638.3V640M274.7,638.3V640" stroke="#444" stroke-width="0.65" fill="none"/>
<rect x="253.4" y="613.29" width="2.4" height="4.8" fill="#111"/>
<rect x="275.75" y="638.3" width="4.8" height="2.3" fill="#111"/>
<text x="251.1" y="548.63" font-size="4.5" fill="#2a2a2a" font-weight="normal" text-anchor="end">10<tspan font-size="3.7" dx="0.6" dy="-2.8">5</tspan></text>
<text x="251.1" y="571.75" font-size="4.5" fill="#2a2a2a" font-weight="normal" text-anchor="end">10<tspan font-size="3.7" dx="0.6" dy="-2.8">4</tspan></text>
<text x="251.1" y="600.14" font-size="4.5" fill="#2a2a2a" font-weight="normal" text-anchor="end">10<tspan font-size="3.7" dx="0.6" dy="-2.8">3</tspan></text>
<text x="249" y="618.09" font-size="4.5" fill="#2a2a2a" font-weight="normal" text-anchor="end">0</text>
<text x="251.1" y="635.53" font-size="4.5" fill="#2a2a2a" font-weight="normal" text-anchor="end">-10<tspan font-size="3.7" dx="0.6" dy="-2.8">3</tspan></text>
<text x="261.79" y="651.1" font-size="4.5" fill="#2a2a2a" font-weight="normal" text-anchor="middle">-10<tspan font-size="3.7" dx="0.6" dy="-3.0">3</tspan></text>
<text x="278.35" y="651.1" font-size="4.5" fill="#2a2a2a" font-weight="normal" text-anchor="middle">0</text>
<text x="296.62" y="651.1" font-size="4.5" fill="#2a2a2a" font-weight="normal" text-anchor="middle">10<tspan font-size="3.7" dx="0.6" dy="-3.0">3</tspan></text>
<text x="324.67" y="651.1" font-size="4.5" fill="#2a2a2a" font-weight="normal" text-anchor="middle">10<tspan font-size="3.7" dx="0.6" dy="-3.0">4</tspan></text>
<text x="347.52" y="651.1" font-size="4.5" fill="#2a2a2a" font-weight="normal" text-anchor="middle">10<tspan font-size="3.7" dx="0.6" dy="-3.0">5</tspan></text>
<rect x="255.8" y="536.9" width="99.8" height="101.4" fill="none" stroke="#7c7c7c" stroke-width="1.1"/>
<line x1="281.1" y1="536.9" x2="281.1" y2="638.3" stroke="#444" stroke-width="1.3"/>
<line x1="255.8" y1="609.8" x2="355.6" y2="609.8" stroke="#444" stroke-width="1.3"/>
<path d="M277.0 609.1h0.8v0.8h-0.8zM277.5 606.4h0.8v0.8h-0.8zM280.0 607.0h0.8v0.8h-0.8zM277.7 609.2h0.8v0.8h-0.8zM277.5 608.1h0.8v0.8h-0.8zM278.4 600.5h0.8v0.8h-0.8zM277.7 603.4h0.8v0.8h-0.8zM279.0 605.6h0.8v0.8h-0.8zM278.9 609.4h0.8v0.8h-0.8zM278.7 610.1h0.8v0.8h-0.8z" fill="#2a3aa6"/>
<path d="M275.5 610.6h1v1h-1zM275.8 612.0h1v1h-1zM275.8 611.5h1v1h-1zM275.7 612.1h1v1h-1zM277.6 614.8h1v1h-1zM278.9 610.0h1v1h-1zM279.8 610.2h1v1h-1zM275.9 613.3h1v1h-1zM276.7 613.8h1v1h-1zM275.4 613.6h1v1h-1zM276.8 608.8h1v1h-1zM280.0 612.3h1v1h-1zM276.2 609.1h1v1h-1zM275.3 611.5h1v1h-1zM279.8 613.1h1v1h-1zM278.0 609.0h1v1h-1zM275.9 611.3h1v1h-1zM279.6 611.7h1v1h-1zM278.8 609.9h1v1h-1zM279.9 610.8h1v1h-1zM278.8 613.9h1v1h-1zM279.0 613.7h1v1h-1zM274.5 612.3h1v1h-1zM276.0 613.5h1v1h-1zM279.6 612.4h1v1h-1zM277.7 609.5h1v1h-1zM276.2 613.3h1v1h-1zM280.1 614.1h1v1h-1zM276.6 614.9h1v1h-1zM280.0 609.3h1v1h-1zM280.4 612.7h1v1h-1zM278.3 609.2h1v1h-1zM277.3 609.7h1v1h-1zM275.9 609.7h1v1h-1zM277.6 614.9h1v1h-1zM279.3 610.6h1v1h-1zM279.7 611.6h1v1h-1zM275.9 609.8h1v1h-1zM275.8 609.6h1v1h-1zM277.9 609.3h1v1h-1zM279.2 610.7h1v1h-1zM279.3 613.3h1v1h-1zM275.1 613.7h1v1h-1zM277.7 609.3h1v1h-1zM279.5 611.1h1v1h-1zM279.5 611.0h1v1h-1zM277.2 608.3h1v1h-1zM275.7 609.6h1v1h-1zM277.9 614.9h1v1h-1z" fill="#2a3aa6"/>
<path d="M281.9 613.3h0.8v0.8h-0.8zM282.8 611.9h0.8v0.8h-0.8zM285.8 613.1h0.8v0.8h-0.8zM305.5 612.3h0.8v0.8h-0.8zM296.6 612.7h0.8v0.8h-0.8zM284.8 611.5h0.8v0.8h-0.8zM294.6 614.2h0.8v0.8h-0.8zM295.1 613.0h0.8v0.8h-0.8zM284.0 613.3h0.8v0.8h-0.8zM282.0 612.7h0.8v0.8h-0.8zM282.3 613.3h0.8v0.8h-0.8zM294.3 612.1h0.8v0.8h-0.8zM277.8 609.7h0.8v0.8h-0.8zM279.4 609.6h0.8v0.8h-0.8zM279.7 609.5h0.8v0.8h-0.8zM277.0 608.0h0.8v0.8h-0.8zM278.4 609.8h0.8v0.8h-0.8zM277.5 609.3h0.8v0.8h-0.8zM277.3 610.0h0.8v0.8h-0.8zM278.0 610.0h0.8v0.8h-0.8z" fill="#4a64cc"/>
<path d="M279.2 612.9h1v1h-1zM276.8 613.3h1v1h-1zM276.2 611.8h1v1h-1zM276.0 612.4h1v1h-1zM276.4 612.9h1v1h-1zM276.1 611.6h1v1h-1zM279.2 611.0h1v1h-1zM279.0 613.4h1v1h-1zM276.2 611.6h1v1h-1zM278.8 610.4h1v1h-1zM278.4 610.4h1v1h-1zM277.4 614.0h1v1h-1zM277.3 613.9h1v1h-1zM276.5 610.6h1v1h-1zM276.8 610.3h1v1h-1zM276.1 612.2h1v1h-1zM276.1 612.4h1v1h-1zM276.4 610.9h1v1h-1zM277.9 613.7h1v1h-1zM276.2 611.6h1v1h-1zM279.0 610.9h1v1h-1zM277.7 613.9h1v1h-1zM277.9 609.8h1v1h-1zM278.6 610.0h1v1h-1zM279.0 612.7h1v1h-1zM278.1 609.8h1v1h-1zM279.3 612.8h1v1h-1zM276.2 612.5h1v1h-1zM279.0 613.2h1v1h-1zM277.8 610.0h1v1h-1zM277.3 610.2h1v1h-1z" fill="#4a64cc"/>
<path d="M278.8 611.7h1v1h-1zM279.0 611.9h1v1h-1zM278.0 613.2h1v1h-1zM278.5 610.7h1v1h-1zM278.2 610.7h1v1h-1zM278.7 612.8h1v1h-1zM278.4 610.5h1v1h-1zM277.3 613.3h1v1h-1zM278.0 613.2h1v1h-1zM277.9 610.6h1v1h-1zM279.0 612.0h1v1h-1zM278.8 611.9h1v1h-1zM276.8 613.0h1v1h-1zM277.2 610.5h1v1h-1zM278.1 610.3h1v1h-1zM278.6 611.0h1v1h-1zM276.6 611.6h1v1h-1zM277.0 610.9h1v1h-1zM278.9 611.9h1v1h-1zM277.3 613.3h1v1h-1zM278.1 613.5h1v1h-1zM278.5 613.0h1v1h-1zM278.5 612.8h1v1h-1zM276.8 613.2h1v1h-1zM279.0 611.4h1v1h-1zM278.2 613.3h1v1h-1zM276.6 611.9h1v1h-1zM278.9 611.1h1v1h-1z" fill="#30b8e0"/>
<path d="M278.6 611.6h1v1h-1zM277.1 611.6h1v1h-1zM276.9 612.1h1v1h-1zM278.6 611.8h1v1h-1zM278.1 611.2h1v1h-1zM277.9 612.7h1v1h-1zM278.6 611.6h1v1h-1zM276.9 611.6h1v1h-1zM278.6 611.5h1v1h-1zM277.4 611.1h1v1h-1zM278.0 612.9h1v1h-1zM278.4 611.2h1v1h-1zM278.5 611.9h1v1h-1zM278.0 611.1h1v1h-1zM277.1 611.6h1v1h-1zM277.1 611.5h1v1h-1zM277.2 612.7h1v1h-1zM278.7 611.8h1v1h-1zM276.9 611.9h1v1h-1zM277.0 612.6h1v1h-1zM278.5 612.6h1v1h-1zM278.2 612.7h1v1h-1zM278.1 612.8h1v1h-1zM276.8 612.2h1v1h-1zM277.2 613.0h1v1h-1zM277.2 612.9h1v1h-1zM278.6 611.6h1v1h-1zM278.4 612.4h1v1h-1zM278.5 611.4h1v1h-1zM277.5 613.0h1v1h-1zM276.7 611.8h1v1h-1zM277.9 612.9h1v1h-1zM277.1 612.7h1v1h-1zM278.5 611.2h1v1h-1zM277.9 612.9h1v1h-1zM278.3 612.5h1v1h-1zM277.9 613.1h1v1h-1z" fill="#40c070"/>
<path d="M277.3 611.5h1v1h-1zM278.0 611.6h1v1h-1zM277.9 612.5h1v1h-1zM277.5 612.6h1v1h-1zM277.4 611.3h1v1h-1zM277.7 611.1h1v1h-1zM278.2 611.8h1v1h-1zM277.5 612.7h1v1h-1zM278.1 612.4h1v1h-1zM278.0 611.6h1v1h-1zM277.9 611.1h1v1h-1zM278.0 612.3h1v1h-1zM277.3 611.2h1v1h-1zM277.4 612.5h1v1h-1zM278.0 612.3h1v1h-1zM278.1 612.3h1v1h-1zM278.1 611.8h1v1h-1zM277.5 612.3h1v1h-1zM277.6 611.2h1v1h-1z" fill="#b8e040"/>
<path d="M277.4 612.0h1v1h-1zM278.0 612.0h1v1h-1zM277.8 612.0h1v1h-1zM277.6 611.9h1v1h-1zM277.4 612.1h1v1h-1zM277.6 611.5h1v1h-1z" fill="#f08020"/>
<path d="M287.3 612.1h0.8v0.8h-0.8zM283.6 613.1h0.8v0.8h-0.8zM285.6 614.1h0.8v0.8h-0.8zM284.6 611.6h0.8v0.8h-0.8zM281.7 612.6h0.8v0.8h-0.8zM289.3 613.9h0.8v0.8h-0.8zM289.9 611.4h0.8v0.8h-0.8zM280.9 611.4h0.8v0.8h-0.8zM283.4 611.0h0.8v0.8h-0.8zM291.4 613.4h0.8v0.8h-0.8zM289.7 611.9h0.8v0.8h-0.8zM287.6 614.2h0.8v0.8h-0.8zM287.9 611.6h0.8v0.8h-0.8zM287.2 611.6h0.8v0.8h-0.8zM283.8 612.2h0.8v0.8h-0.8zM286.2 612.8h0.8v0.8h-0.8zM287.7 613.9h0.8v0.8h-0.8zM281.1 613.7h0.8v0.8h-0.8z" fill="#8088c8"/>
<path d="M299.2 607.7h0.6v0.6h-0.6zM298.9 608.7h0.6v0.6h-0.6zM283.9 605.9h0.6v0.6h-0.6zM298.1 606.8h0.6v0.6h-0.6zM284.6 604.8h0.6v0.6h-0.6zM292.1 606.5h0.6v0.6h-0.6zM293.8 606.7h0.6v0.6h-0.6zM285.2 605.7h0.6v0.6h-0.6z" fill="#b8bce0"/>
<text x="257.4" y="546.1" font-size="4.5" fill="#333" font-weight="normal" text-anchor="start" stroke="#333" stroke-width="0.06">Q1</text>
<text x="257.4" y="553.2" font-size="4.5" fill="#333" font-weight="normal" text-anchor="start" stroke="#333" stroke-width="0.06">12.3</text>
<text x="347.4" y="546.1" font-size="4.5" fill="#333" font-weight="normal" text-anchor="end" stroke="#333" stroke-width="0.06">Q2</text>
<text x="347.4" y="553.2" font-size="4.5" fill="#333" font-weight="normal" text-anchor="end" stroke="#333" stroke-width="0.06">4.15</text>
<text x="347.4" y="625.8" font-size="4.5" fill="#333" font-weight="normal" text-anchor="end" stroke="#333" stroke-width="0.06">Q3</text>
<text x="347.4" y="632.8" font-size="4.5" fill="#333" font-weight="normal" text-anchor="end" stroke="#333" stroke-width="0.06">10.7</text>
<text x="257.4" y="625.8" font-size="4.5" fill="#333" font-weight="normal" text-anchor="start" stroke="#333" stroke-width="0.06">Q4</text>
<text x="257.4" y="632.8" font-size="4.5" fill="#333" font-weight="normal" text-anchor="start" stroke="#333" stroke-width="0.06">72.0</text>
<text x="314.5" y="619.6" font-size="6.4" fill="#f52a2a" font-weight="bold" text-anchor="start" stroke="#f52a2a" stroke-width="0.15">Tregs</text>
<text x="379" y="587.6" font-size="4.85" fill="#333" text-anchor="middle" transform="rotate(-90 379 587.6)">Comp-BV421-A :: CD127</text>
<path d="M389.5,547.1H392.5M389.5,569.9H392.5M389.5,597.9H392.5M389.5,615.3H392.5M389.5,632.8H392.5M396.74,637.6V640.6M414.78,637.6V640.6M431.15,637.6V640.6M458.86,637.6V640.6M481.44,637.6V640.6" stroke="#222" stroke-width="1" fill="none"/>
<path d="M390.8,563.04H392.5M390.8,559.02H392.5M390.8,556.17H392.5M390.8,553.96H392.5M390.8,552.16H392.5M390.8,550.63H392.5M390.8,549.31H392.5M390.8,548.14H392.5M390.8,589.47H392.5M390.8,584.54H392.5M390.8,581.04H392.5M390.8,578.33H392.5M390.8,576.11H392.5M390.8,574.24H392.5M390.8,572.61H392.5M390.8,571.18H392.5M390.8,603.12H392.5M390.8,606.6H392.5M390.8,609.21H392.5M390.8,611.82H392.5M390.8,621.43H392.5M390.8,625.8H392.5M390.8,629.3H392.5M465.65,637.6V639.3M469.63,637.6V639.3M472.45,637.6V639.3M474.64,637.6V639.3M476.43,637.6V639.3M477.94,637.6V639.3M479.25,637.6V639.3M480.4,637.6V639.3M439.49,637.6V639.3M444.37,637.6V639.3M447.83,637.6V639.3M450.52,637.6V639.3M452.71,637.6V639.3M454.57,637.6V639.3M456.17,637.6V639.3M457.59,637.6V639.3M418.88,637.6V639.3M422.15,637.6V639.3M424.6,637.6V639.3M427.06,637.6V639.3M429.19,637.6V639.3M400.35,637.6V639.3M404.86,637.6V639.3M408.47,637.6V639.3M411.17,637.6V639.3" stroke="#444" stroke-width="0.65" fill="none"/>
<rect x="390.1" y="612.9" width="2.4" height="4.8" fill="#111"/>
<rect x="412.18" y="637.6" width="4.8" height="2.3" fill="#111"/>
<text x="387.8" y="549.2" font-size="4.5" fill="#2a2a2a" font-weight="normal" text-anchor="end">10<tspan font-size="3.7" dx="0.6" dy="-2.8">5</tspan></text>
<text x="387.8" y="572" font-size="4.5" fill="#2a2a2a" font-weight="normal" text-anchor="end">10<tspan font-size="3.7" dx="0.6" dy="-2.8">4</tspan></text>
<text x="387.8" y="600" font-size="4.5" fill="#2a2a2a" font-weight="normal" text-anchor="end">10<tspan font-size="3.7" dx="0.6" dy="-2.8">3</tspan></text>
<text x="385.7" y="617.7" font-size="4.5" fill="#2a2a2a" font-weight="normal" text-anchor="end">0</text>
<text x="387.8" y="634.9" font-size="4.5" fill="#2a2a2a" font-weight="normal" text-anchor="end">-10<tspan font-size="3.7" dx="0.6" dy="-2.8">3</tspan></text>
<text x="398.44" y="650.4" font-size="4.5" fill="#2a2a2a" font-weight="normal" text-anchor="middle">-10<tspan font-size="3.7" dx="0.6" dy="-3.0">3</tspan></text>
<text x="414.78" y="650.4" font-size="4.5" fill="#2a2a2a" font-weight="normal" text-anchor="middle">0</text>
<text x="432.85" y="650.4" font-size="4.5" fill="#2a2a2a" font-weight="normal" text-anchor="middle">10<tspan font-size="3.7" dx="0.6" dy="-3.0">3</tspan></text>
<text x="460.56" y="650.4" font-size="4.5" fill="#2a2a2a" font-weight="normal" text-anchor="middle">10<tspan font-size="3.7" dx="0.6" dy="-3.0">4</tspan></text>
<text x="483.14" y="650.4" font-size="4.5" fill="#2a2a2a" font-weight="normal" text-anchor="middle">10<tspan font-size="3.7" dx="0.6" dy="-3.0">5</tspan></text>
<rect x="392.5" y="537.6" width="98.6" height="100" fill="none" stroke="#7c7c7c" stroke-width="1.1"/>
<line x1="417.3" y1="537.6" x2="417.3" y2="637.6" stroke="#444" stroke-width="1.3"/>
<line x1="392.5" y1="610.4" x2="491.1" y2="610.4" stroke="#444" stroke-width="1.3"/>
<path d="M413.7 608.4h0.8v0.8h-0.8zM413.3 602.6h0.8v0.8h-0.8zM413.1 604.3h0.8v0.8h-0.8zM414.0 608.3h0.8v0.8h-0.8zM414.1 608.6h0.8v0.8h-0.8zM415.0 607.2h0.8v0.8h-0.8zM412.9 609.5h0.8v0.8h-0.8zM415.7 608.4h0.8v0.8h-0.8zM413.6 606.0h0.8v0.8h-0.8zM413.9 609.1h0.8v0.8h-0.8zM415.9 604.4h0.8v0.8h-0.8zM416.2 609.8h0.8v0.8h-0.8zM414.6 610.2h0.8v0.8h-0.8zM416.1 610.7h0.8v0.8h-0.8zM414.7 609.2h0.8v0.8h-0.8zM414.8 608.0h0.8v0.8h-0.8zM414.7 599.5h0.8v0.8h-0.8z" fill="#2a3aa6"/>
<path d="M419.2 613.1h0.9v0.9h-0.9zM418.6 612.1h0.9v0.9h-0.9zM422.8 614.5h0.9v0.9h-0.9zM417.9 613.7h0.9v0.9h-0.9zM421.3 613.1h0.9v0.9h-0.9zM421.4 612.7h0.9v0.9h-0.9z" fill="#2a3aa6"/>
<path d="M415.7 617.1h1v1h-1zM416.2 616.9h1v1h-1zM416.6 612.7h1v1h-1zM413.5 615.6h1v1h-1zM415.3 615.4h1v1h-1zM416.9 613.5h1v1h-1zM413.5 609.8h1v1h-1zM410.2 613.3h1v1h-1zM413.5 616.0h1v1h-1zM416.9 607.3h1v1h-1zM417.5 618.7h1v1h-1zM417.5 610.7h1v1h-1zM411.6 613.4h1v1h-1zM412.7 610.8h1v1h-1zM411.7 613.6h1v1h-1zM418.0 614.4h1v1h-1zM415.8 610.6h1v1h-1zM416.4 611.6h1v1h-1zM416.3 616.2h1v1h-1zM414.7 617.1h1v1h-1zM416.3 611.7h1v1h-1zM416.3 615.0h1v1h-1zM412.3 611.2h1v1h-1zM412.6 615.0h1v1h-1zM411.7 614.4h1v1h-1zM414.7 616.6h1v1h-1zM415.7 615.6h1v1h-1zM416.2 609.0h1v1h-1zM417.0 612.6h1v1h-1zM414.0 609.5h1v1h-1zM411.8 612.3h1v1h-1zM413.9 616.2h1v1h-1zM416.3 611.5h1v1h-1zM412.2 611.1h1v1h-1zM411.6 616.0h1v1h-1zM413.3 615.8h1v1h-1zM411.7 613.1h1v1h-1zM415.8 609.1h1v1h-1zM414.4 616.4h1v1h-1zM411.6 612.7h1v1h-1zM411.2 614.7h1v1h-1zM413.5 609.0h1v1h-1zM415.9 615.1h1v1h-1zM413.2 606.5h1v1h-1zM415.7 610.4h1v1h-1zM412.6 614.9h1v1h-1z" fill="#2a3aa6"/>
<path d="M426.3 612.2h0.8v0.8h-0.8zM419.4 612.3h0.8v0.8h-0.8zM426.1 614.6h0.8v0.8h-0.8zM420.9 615.8h0.8v0.8h-0.8zM418.2 612.9h0.8v0.8h-0.8zM421.9 612.9h0.8v0.8h-0.8zM422.7 613.1h0.8v0.8h-0.8zM422.1 613.7h0.8v0.8h-0.8zM426.0 614.3h0.8v0.8h-0.8zM415.2 609.0h0.8v0.8h-0.8zM415.1 606.2h0.8v0.8h-0.8zM413.0 607.4h0.8v0.8h-0.8zM416.0 605.4h0.8v0.8h-0.8zM416.2 609.7h0.8v0.8h-0.8zM413.3 604.5h0.8v0.8h-0.8zM415.0 604.9h0.8v0.8h-0.8zM415.2 609.3h0.8v0.8h-0.8zM412.7 609.4h0.8v0.8h-0.8zM413.4 609.9h0.8v0.8h-0.8zM414.1 610.5h0.8v0.8h-0.8z" fill="#4a64cc"/>
<path d="M418.2 612.2h0.9v0.9h-0.9zM417.8 614.1h0.9v0.9h-0.9zM417.9 613.8h0.9v0.9h-0.9zM418.1 612.3h0.9v0.9h-0.9zM419.6 612.6h0.9v0.9h-0.9zM420.8 612.3h0.9v0.9h-0.9z" fill="#4a64cc"/>
<path d="M415.9 613.1h1v1h-1zM415.5 614.4h1v1h-1zM414.4 609.8h1v1h-1zM413.8 615.4h1v1h-1zM413.1 615.1h1v1h-1zM413.8 615.1h1v1h-1zM415.7 612.8h1v1h-1zM412.5 614.2h1v1h-1zM413.3 610.3h1v1h-1zM413.7 615.1h1v1h-1zM414.1 615.1h1v1h-1zM412.4 611.4h1v1h-1zM414.2 615.4h1v1h-1zM412.6 612.4h1v1h-1zM415.1 614.6h1v1h-1zM412.7 611.6h1v1h-1zM415.3 615.0h1v1h-1zM415.4 610.7h1v1h-1zM415.1 615.1h1v1h-1zM414.7 610.0h1v1h-1zM412.6 611.7h1v1h-1zM413.9 610.3h1v1h-1zM414.5 610.0h1v1h-1zM413.4 610.8h1v1h-1zM415.9 613.6h1v1h-1zM414.3 610.1h1v1h-1zM414.4 615.1h1v1h-1zM415.7 613.6h1v1h-1zM413.9 615.0h1v1h-1zM413.4 610.2h1v1h-1zM415.7 613.3h1v1h-1zM412.3 612.8h1v1h-1zM415.8 611.9h1v1h-1zM413.8 610.1h1v1h-1zM413.2 614.7h1v1h-1z" fill="#4a64cc"/>
<path d="M413.9 610.9h1v1h-1zM413.2 611.7h1v1h-1zM415.4 614.0h1v1h-1zM412.8 612.4h1v1h-1zM414.8 610.7h1v1h-1zM413.5 614.5h1v1h-1zM415.6 612.1h1v1h-1zM415.1 614.3h1v1h-1zM413.1 613.7h1v1h-1zM412.9 612.9h1v1h-1zM413.3 611.3h1v1h-1zM414.9 611.2h1v1h-1zM414.1 610.9h1v1h-1zM413.3 611.6h1v1h-1zM412.8 612.4h1v1h-1zM412.9 613.4h1v1h-1zM414.0 610.7h1v1h-1zM412.9 612.1h1v1h-1zM415.7 612.6h1v1h-1zM415.7 612.6h1v1h-1zM415.6 612.7h1v1h-1zM413.3 611.4h1v1h-1zM413.8 610.8h1v1h-1zM413.2 611.8h1v1h-1zM413.5 614.2h1v1h-1zM413.0 613.5h1v1h-1zM412.9 612.8h1v1h-1zM413.8 614.6h1v1h-1z" fill="#30b8e0"/>
<path d="M413.8 611.8h1v1h-1zM414.7 611.8h1v1h-1zM413.9 614.0h1v1h-1zM415.0 612.6h1v1h-1zM413.9 611.4h1v1h-1zM414.4 611.4h1v1h-1zM413.4 611.5h1v1h-1zM414.6 613.7h1v1h-1zM414.0 614.1h1v1h-1zM415.0 613.4h1v1h-1zM413.9 611.1h1v1h-1zM414.0 611.1h1v1h-1zM414.9 613.7h1v1h-1zM413.9 611.5h1v1h-1zM413.4 613.4h1v1h-1zM414.1 611.5h1v1h-1zM413.4 612.9h1v1h-1zM413.2 612.0h1v1h-1zM413.6 612.0h1v1h-1zM413.5 611.8h1v1h-1zM413.4 613.6h1v1h-1zM413.4 612.4h1v1h-1zM413.7 613.8h1v1h-1zM414.5 613.9h1v1h-1zM413.4 613.1h1v1h-1zM413.3 612.1h1v1h-1zM415.1 612.0h1v1h-1zM414.9 611.5h1v1h-1zM414.3 611.4h1v1h-1zM413.5 614.0h1v1h-1zM414.1 611.5h1v1h-1zM413.9 611.4h1v1h-1zM413.4 612.0h1v1h-1zM415.2 613.4h1v1h-1zM414.2 614.0h1v1h-1zM413.5 613.1h1v1h-1z" fill="#40c070"/>
<path d="M414.3 613.6h1v1h-1zM413.7 612.8h1v1h-1zM413.8 613.4h1v1h-1zM413.6 612.3h1v1h-1zM414.3 612.0h1v1h-1zM413.7 612.8h1v1h-1zM413.6 612.9h1v1h-1zM413.7 612.2h1v1h-1zM414.7 612.8h1v1h-1zM413.8 611.9h1v1h-1zM413.7 612.7h1v1h-1zM413.8 613.3h1v1h-1zM413.8 612.6h1v1h-1zM413.7 612.2h1v1h-1zM414.7 611.9h1v1h-1zM414.5 613.2h1v1h-1z" fill="#b8e040"/>
<path d="M414.2 612.7h1v1h-1zM414.2 613.3h1v1h-1zM414.4 612.2h1v1h-1zM413.9 613.0h1v1h-1zM414.1 612.4h1v1h-1zM414.3 612.7h1v1h-1zM413.9 613.0h1v1h-1zM414.0 612.9h1v1h-1zM414.3 612.6h1v1h-1z" fill="#f08020"/>
<path d="M422.9 613.7h0.8v0.8h-0.8zM425.0 613.1h0.8v0.8h-0.8zM419.7 614.2h0.8v0.8h-0.8zM431.9 613.0h0.8v0.8h-0.8zM428.6 614.6h0.8v0.8h-0.8zM427.8 613.5h0.8v0.8h-0.8zM428.0 613.5h0.8v0.8h-0.8zM420.3 611.7h0.8v0.8h-0.8zM423.9 614.6h0.8v0.8h-0.8zM417.1 614.5h0.8v0.8h-0.8zM424.2 613.6h0.8v0.8h-0.8zM424.4 613.9h0.8v0.8h-0.8zM423.5 613.3h0.8v0.8h-0.8zM422.5 613.7h0.8v0.8h-0.8zM417.6 612.8h0.8v0.8h-0.8zM418.5 614.6h0.8v0.8h-0.8zM421.6 612.3h0.8v0.8h-0.8zM421.4 614.3h0.8v0.8h-0.8zM417.3 614.9h0.8v0.8h-0.8zM420.2 613.0h0.8v0.8h-0.8zM418.9 614.5h0.8v0.8h-0.8z" fill="#8088c8"/>
<path d="M423.2 607.5h0.6v0.6h-0.6zM436.0 604.1h0.6v0.6h-0.6zM428.3 608.3h0.6v0.6h-0.6zM435.4 609.5h0.6v0.6h-0.6zM434.1 607.0h0.6v0.6h-0.6zM420.8 611.6h0.6v0.6h-0.6zM429.7 611.5h0.6v0.6h-0.6zM439.3 606.3h0.6v0.6h-0.6z" fill="#b8bce0"/>
<text x="394.1" y="546.8" font-size="4.5" fill="#333" font-weight="normal" text-anchor="start" stroke="#333" stroke-width="0.06">Q1</text>
<text x="394.1" y="553.9" font-size="4.5" fill="#333" font-weight="normal" text-anchor="start" stroke="#333" stroke-width="0.06">17.8</text>
<text x="482.9" y="546.8" font-size="4.5" fill="#333" font-weight="normal" text-anchor="end" stroke="#333" stroke-width="0.06">Q2</text>
<text x="482.9" y="553.9" font-size="4.5" fill="#333" font-weight="normal" text-anchor="end" stroke="#333" stroke-width="0.06">2.48</text>
<text x="482.9" y="625.1" font-size="4.5" fill="#333" font-weight="normal" text-anchor="end" stroke="#333" stroke-width="0.06">Q3</text>
<text x="482.9" y="632.1" font-size="4.5" fill="#333" font-weight="normal" text-anchor="end" stroke="#333" stroke-width="0.06">8.15</text>
<text x="394.1" y="625.1" font-size="4.5" fill="#333" font-weight="normal" text-anchor="start" stroke="#333" stroke-width="0.06">Q4</text>
<text x="394.1" y="632.1" font-size="4.5" fill="#333" font-weight="normal" text-anchor="start" stroke="#333" stroke-width="0.06">71.8</text>
<text x="450.1" y="619.6" font-size="6.4" fill="#f52a2a" font-weight="bold" text-anchor="start" stroke="#f52a2a" stroke-width="0.15">Tregs</text>
<text x="517.1" y="587.05" font-size="4.85" fill="#333" text-anchor="middle" transform="rotate(-90 517.1 587.05)">Comp-BV421-A :: CD127</text>
<path d="M527.6,547H530.6M527.6,569.54H530.6M527.6,597.24H530.6M527.6,614.45H530.6M527.6,631.75H530.6M534.77,636.5V639.5M552.52,636.5V639.5M568.62,636.5V639.5M595.88,636.5V639.5M618.09,636.5V639.5" stroke="#222" stroke-width="1" fill="none"/>
<path d="M528.9,562.76H530.6M528.9,558.79H530.6M528.9,555.97H530.6M528.9,553.78H530.6M528.9,552H530.6M528.9,550.49H530.6M528.9,549.18H530.6M528.9,548.03H530.6M528.9,588.9H530.6M528.9,584.02H530.6M528.9,580.56H530.6M528.9,577.88H530.6M528.9,575.69H530.6M528.9,573.83H530.6M528.9,572.23H530.6M528.9,570.81H530.6M528.9,602.4H530.6M528.9,605.84H530.6M528.9,608.42H530.6M528.9,611H530.6M528.9,620.5H530.6M528.9,624.83H530.6M528.9,628.29H530.6M602.57,636.5V638.2M606.48,636.5V638.2M609.25,636.5V638.2M611.41,636.5V638.2M613.17,636.5V638.2M614.65,636.5V638.2M615.94,636.5V638.2M617.08,636.5V638.2M576.83,636.5V638.2M581.63,636.5V638.2M585.03,636.5V638.2M587.68,636.5V638.2M589.83,636.5V638.2M591.66,636.5V638.2M593.24,636.5V638.2M594.63,636.5V638.2M556.55,636.5V638.2M559.77,636.5V638.2M562.18,636.5V638.2M564.6,636.5V638.2M566.69,636.5V638.2M538.32,636.5V638.2M542.76,636.5V638.2M546.31,636.5V638.2M548.97,636.5V638.2" stroke="#444" stroke-width="0.65" fill="none"/>
<rect x="528.2" y="612.05" width="2.4" height="4.8" fill="#111"/>
<rect x="549.92" y="636.5" width="4.8" height="2.3" fill="#111"/>
<text x="525.9" y="549.1" font-size="4.5" fill="#2a2a2a" font-weight="normal" text-anchor="end">10<tspan font-size="3.7" dx="0.6" dy="-2.8">5</tspan></text>
<text x="525.9" y="571.64" font-size="4.5" fill="#2a2a2a" font-weight="normal" text-anchor="end">10<tspan font-size="3.7" dx="0.6" dy="-2.8">4</tspan></text>
<text x="525.9" y="599.34" font-size="4.5" fill="#2a2a2a" font-weight="normal" text-anchor="end">10<tspan font-size="3.7" dx="0.6" dy="-2.8">3</tspan></text>
<text x="523.8" y="616.85" font-size="4.5" fill="#2a2a2a" font-weight="normal" text-anchor="end">0</text>
<text x="525.9" y="633.85" font-size="4.5" fill="#2a2a2a" font-weight="normal" text-anchor="end">-10<tspan font-size="3.7" dx="0.6" dy="-2.8">3</tspan></text>
<text x="536.47" y="649.3" font-size="4.5" fill="#2a2a2a" font-weight="normal" text-anchor="middle">-10<tspan font-size="3.7" dx="0.6" dy="-3.0">3</tspan></text>
<text x="552.52" y="649.3" font-size="4.5" fill="#2a2a2a" font-weight="normal" text-anchor="middle">0</text>
<text x="570.32" y="649.3" font-size="4.5" fill="#2a2a2a" font-weight="normal" text-anchor="middle">10<tspan font-size="3.7" dx="0.6" dy="-3.0">3</tspan></text>
<text x="597.58" y="649.3" font-size="4.5" fill="#2a2a2a" font-weight="normal" text-anchor="middle">10<tspan font-size="3.7" dx="0.6" dy="-3.0">4</tspan></text>
<text x="619.79" y="649.3" font-size="4.5" fill="#2a2a2a" font-weight="normal" text-anchor="middle">10<tspan font-size="3.7" dx="0.6" dy="-3.0">5</tspan></text>
<rect x="530.6" y="537.6" width="97" height="98.9" fill="none" stroke="#7c7c7c" stroke-width="1.1"/>
<line x1="556.2" y1="537.6" x2="556.2" y2="636.5" stroke="#444" stroke-width="1.3"/>
<line x1="530.6" y1="608.8" x2="627.6" y2="608.8" stroke="#444" stroke-width="1.3"/>
<path d="M552.9 607.6h0.8v0.8h-0.8zM552.5 609.3h0.8v0.8h-0.8zM552.3 605.6h0.8v0.8h-0.8zM553.7 608.1h0.8v0.8h-0.8zM551.0 607.3h0.8v0.8h-0.8zM553.4 609.4h0.8v0.8h-0.8z" fill="#2a3aa6"/>
<path d="M559.4 611.4h0.9v0.9h-0.9zM558.6 613.2h0.9v0.9h-0.9zM557.0 612.4h0.9v0.9h-0.9zM557.7 613.3h0.9v0.9h-0.9zM558.1 613.7h0.9v0.9h-0.9zM556.2 613.3h0.9v0.9h-0.9zM560.0 612.4h0.9v0.9h-0.9zM555.8 614.6h0.9v0.9h-0.9zM557.8 613.6h0.9v0.9h-0.9zM561.4 612.3h0.9v0.9h-0.9zM557.0 611.1h0.9v0.9h-0.9zM558.5 614.3h0.9v0.9h-0.9zM559.1 612.4h0.9v0.9h-0.9zM558.1 614.6h0.9v0.9h-0.9zM560.0 612.4h0.9v0.9h-0.9zM560.3 611.7h0.9v0.9h-0.9zM559.3 613.1h0.9v0.9h-0.9zM560.4 612.8h0.9v0.9h-0.9zM559.3 611.6h0.9v0.9h-0.9z" fill="#2a3aa6"/>
<path d="M553.3 615.3h1v1h-1zM551.6 609.6h1v1h-1zM554.6 611.5h1v1h-1zM550.3 612.2h1v1h-1zM554.7 611.7h1v1h-1zM552.0 615.5h1v1h-1zM551.8 614.9h1v1h-1zM551.5 614.9h1v1h-1zM550.6 610.5h1v1h-1zM555.1 615.0h1v1h-1zM551.5 616.0h1v1h-1zM554.8 612.8h1v1h-1zM551.8 609.7h1v1h-1zM554.1 615.9h1v1h-1zM554.3 614.4h1v1h-1zM550.1 611.3h1v1h-1zM552.1 609.0h1v1h-1zM553.6 616.6h1v1h-1zM555.2 615.4h1v1h-1zM550.2 611.3h1v1h-1zM549.7 612.7h1v1h-1zM550.3 612.9h1v1h-1zM549.8 611.8h1v1h-1zM549.8 613.0h1v1h-1zM553.6 615.7h1v1h-1zM553.7 609.5h1v1h-1zM556.5 610.7h1v1h-1zM556.6 613.2h1v1h-1zM553.9 615.1h1v1h-1zM552.0 615.7h1v1h-1zM554.1 610.0h1v1h-1zM548.7 609.6h1v1h-1zM550.7 610.6h1v1h-1zM554.9 612.3h1v1h-1zM551.3 608.6h1v1h-1zM553.4 609.6h1v1h-1zM550.2 613.1h1v1h-1zM555.2 611.2h1v1h-1zM551.9 609.6h1v1h-1zM549.6 611.0h1v1h-1zM551.4 617.1h1v1h-1zM554.9 613.6h1v1h-1zM552.0 615.8h1v1h-1zM553.7 616.0h1v1h-1zM554.9 609.8h1v1h-1zM551.3 615.0h1v1h-1zM553.1 615.0h1v1h-1zM552.2 615.7h1v1h-1z" fill="#2a3aa6"/>
<path d="M558.1 613.1h0.8v0.8h-0.8zM565.3 613.0h0.8v0.8h-0.8zM557.1 613.8h0.8v0.8h-0.8zM574.5 610.9h0.8v0.8h-0.8zM565.1 613.4h0.8v0.8h-0.8zM566.1 611.9h0.8v0.8h-0.8zM558.5 613.5h0.8v0.8h-0.8zM569.9 612.7h0.8v0.8h-0.8zM562.9 614.0h0.8v0.8h-0.8zM555.8 613.5h0.8v0.8h-0.8zM560.6 612.8h0.8v0.8h-0.8zM559.1 612.9h0.8v0.8h-0.8zM556.6 613.1h0.8v0.8h-0.8zM557.3 613.8h0.8v0.8h-0.8zM554.4 606.6h0.8v0.8h-0.8zM553.6 609.5h0.8v0.8h-0.8zM552.9 610.4h0.8v0.8h-0.8zM552.7 607.6h0.8v0.8h-0.8zM553.5 609.6h0.8v0.8h-0.8zM551.9 601.0h0.8v0.8h-0.8zM554.3 606.2h0.8v0.8h-0.8zM553.6 607.1h0.8v0.8h-0.8zM551.9 606.9h0.8v0.8h-0.8z" fill="#4a64cc"/>
<path d="M558.9 611.7h0.9v0.9h-0.9zM559.8 612.4h0.9v0.9h-0.9zM557.6 613.7h0.9v0.9h-0.9zM560.4 611.9h0.9v0.9h-0.9zM556.5 612.1h0.9v0.9h-0.9zM556.7 613.0h0.9v0.9h-0.9zM557.5 614.0h0.9v0.9h-0.9zM555.7 613.3h0.9v0.9h-0.9zM560.7 613.1h0.9v0.9h-0.9zM559.2 613.9h0.9v0.9h-0.9zM557.3 612.4h0.9v0.9h-0.9zM559.9 612.4h0.9v0.9h-0.9zM557.4 613.0h0.9v0.9h-0.9zM560.1 612.9h0.9v0.9h-0.9zM561.6 612.4h0.9v0.9h-0.9zM558.1 612.9h0.9v0.9h-0.9z" fill="#4a64cc"/>
<path d="M554.2 613.5h1v1h-1zM553.0 614.3h1v1h-1zM554.1 611.2h1v1h-1zM551.8 610.1h1v1h-1zM553.9 610.8h1v1h-1zM551.7 614.2h1v1h-1zM554.0 610.7h1v1h-1zM553.6 614.2h1v1h-1zM550.8 613.3h1v1h-1zM553.1 614.6h1v1h-1zM553.4 610.1h1v1h-1zM551.8 609.9h1v1h-1zM550.9 612.2h1v1h-1zM551.9 614.2h1v1h-1zM551.2 613.6h1v1h-1zM550.7 611.2h1v1h-1zM551.7 610.0h1v1h-1zM552.8 610.1h1v1h-1zM554.1 611.5h1v1h-1zM552.9 609.8h1v1h-1zM554.1 610.6h1v1h-1zM551.0 610.4h1v1h-1zM551.0 610.8h1v1h-1zM550.9 612.8h1v1h-1zM552.9 614.7h1v1h-1zM552.9 609.8h1v1h-1z" fill="#4a64cc"/>
<path d="M551.1 611.5h1v1h-1zM551.9 614.1h1v1h-1zM551.2 613.1h1v1h-1zM552.0 610.7h1v1h-1zM553.4 613.6h1v1h-1zM551.2 611.8h1v1h-1zM551.9 610.7h1v1h-1zM552.8 614.0h1v1h-1zM552.2 614.3h1v1h-1zM554.1 612.2h1v1h-1zM552.2 614.0h1v1h-1zM552.8 610.7h1v1h-1zM553.8 611.9h1v1h-1zM553.9 612.0h1v1h-1zM552.7 614.0h1v1h-1zM553.0 614.1h1v1h-1zM551.1 612.2h1v1h-1zM551.8 610.5h1v1h-1zM551.8 613.6h1v1h-1zM551.1 612.0h1v1h-1zM554.1 612.0h1v1h-1zM551.1 612.6h1v1h-1zM553.3 610.7h1v1h-1zM553.9 611.8h1v1h-1zM551.0 612.5h1v1h-1zM552.7 613.9h1v1h-1zM553.9 613.2h1v1h-1zM553.0 614.1h1v1h-1zM553.7 613.5h1v1h-1zM553.1 610.5h1v1h-1zM553.8 612.8h1v1h-1z" fill="#30b8e0"/>
<path d="M551.7 613.4h1v1h-1zM551.9 611.4h1v1h-1zM551.6 612.8h1v1h-1zM553.2 612.9h1v1h-1zM553.0 613.6h1v1h-1zM553.4 612.7h1v1h-1zM551.6 612.6h1v1h-1zM553.4 613.0h1v1h-1zM553.4 613.2h1v1h-1zM551.5 612.7h1v1h-1zM551.9 613.2h1v1h-1zM551.8 611.7h1v1h-1zM552.2 611.1h1v1h-1zM552.0 611.6h1v1h-1zM552.7 613.4h1v1h-1zM553.4 612.8h1v1h-1zM551.8 613.1h1v1h-1zM552.4 610.9h1v1h-1zM551.7 611.8h1v1h-1zM553.2 611.2h1v1h-1zM551.7 611.3h1v1h-1zM552.9 613.5h1v1h-1zM553.4 611.6h1v1h-1zM553.2 612.9h1v1h-1zM553.4 611.3h1v1h-1zM552.9 613.6h1v1h-1zM551.8 611.8h1v1h-1zM551.6 612.4h1v1h-1zM553.4 611.3h1v1h-1zM553.4 612.4h1v1h-1zM553.1 613.1h1v1h-1zM551.7 611.3h1v1h-1zM552.1 613.3h1v1h-1zM553.1 611.3h1v1h-1zM551.6 611.7h1v1h-1zM551.8 613.4h1v1h-1zM551.7 611.8h1v1h-1zM552.6 611.0h1v1h-1zM553.0 610.9h1v1h-1z" fill="#40c070"/>
<path d="M553.1 612.4h1v1h-1zM552.4 612.8h1v1h-1zM551.9 612.0h1v1h-1zM551.8 611.9h1v1h-1zM552.2 611.4h1v1h-1zM552.9 612.8h1v1h-1zM552.1 612.8h1v1h-1zM552.3 611.7h1v1h-1zM552.9 611.8h1v1h-1zM552.4 611.6h1v1h-1zM552.1 612.8h1v1h-1zM552.8 613.1h1v1h-1zM551.9 612.6h1v1h-1zM552.8 611.7h1v1h-1zM552.1 612.2h1v1h-1zM552.0 612.9h1v1h-1zM551.9 612.0h1v1h-1zM552.7 611.4h1v1h-1z" fill="#b8e040"/>
<path d="M552.9 612.0h1v1h-1zM552.7 612.4h1v1h-1zM552.2 612.4h1v1h-1zM552.6 612.4h1v1h-1zM552.3 611.9h1v1h-1zM552.5 612.2h1v1h-1zM552.7 612.6h1v1h-1zM552.7 611.9h1v1h-1z" fill="#f08020"/>
<path d="M564.4 614.1h0.8v0.8h-0.8zM556.6 613.4h0.8v0.8h-0.8zM562.3 612.8h0.8v0.8h-0.8zM559.6 611.8h0.8v0.8h-0.8zM560.3 612.9h0.8v0.8h-0.8zM558.8 613.1h0.8v0.8h-0.8zM557.2 613.1h0.8v0.8h-0.8zM563.4 613.2h0.8v0.8h-0.8zM556.4 612.9h0.8v0.8h-0.8zM565.7 612.4h0.8v0.8h-0.8zM556.9 613.0h0.8v0.8h-0.8zM556.3 612.5h0.8v0.8h-0.8zM563.7 614.0h0.8v0.8h-0.8zM563.5 613.7h0.8v0.8h-0.8zM558.6 612.7h0.8v0.8h-0.8zM563.1 614.2h0.8v0.8h-0.8z" fill="#8088c8"/>
<path d="M571.1 609.4h0.6v0.6h-0.6zM574.8 602.8h0.6v0.6h-0.6zM561.1 609.9h0.6v0.6h-0.6zM563.6 611.7h0.6v0.6h-0.6zM575.0 603.4h0.6v0.6h-0.6zM563.9 605.3h0.6v0.6h-0.6zM562.0 609.5h0.6v0.6h-0.6zM573.6 612.2h0.6v0.6h-0.6z" fill="#b8bce0"/>
<text x="532.2" y="546.8" font-size="4.5" fill="#333" font-weight="normal" text-anchor="start" stroke="#333" stroke-width="0.06">Q1</text>
<text x="532.2" y="553.9" font-size="4.5" fill="#333" font-weight="normal" text-anchor="start" stroke="#333" stroke-width="0.06">3.39</text>
<text x="619.4" y="546.8" font-size="4.5" fill="#333" font-weight="normal" text-anchor="end" stroke="#333" stroke-width="0.06">Q2</text>
<text x="619.4" y="553.9" font-size="4.5" fill="#333" font-weight="normal" text-anchor="end" stroke="#333" stroke-width="0.06">1.39</text>
<text x="619.4" y="624" font-size="4.5" fill="#333" font-weight="normal" text-anchor="end" stroke="#333" stroke-width="0.06">Q3</text>
<text x="619.4" y="631" font-size="4.5" fill="#333" font-weight="normal" text-anchor="end" stroke="#333" stroke-width="0.06">13.9</text>
<text x="532.2" y="624" font-size="4.5" fill="#333" font-weight="normal" text-anchor="start" stroke="#333" stroke-width="0.06">Q4</text>
<text x="532.2" y="631" font-size="4.5" fill="#333" font-weight="normal" text-anchor="start" stroke="#333" stroke-width="0.06">81.3</text>
<text x="585.3" y="619.6" font-size="6.4" fill="#f52a2a" font-weight="bold" text-anchor="start" stroke="#f52a2a" stroke-width="0.15">Tregs</text>
<text x="106" y="805.85" font-size="4.95" fill="#333" text-anchor="middle" transform="rotate(-90 106 805.85)">Comp-PE-Cy7-A :: CD45RO</text>
<path d="M116.6,764.01H119.6M116.6,787.57H119.6M116.6,816.49H119.6M116.6,834.46H119.6M116.6,852.54H119.6M123.77,857.5V860.5M141.5,857.5V860.5M157.58,857.5V860.5M184.81,857.5V860.5M207,857.5V860.5" stroke="#222" stroke-width="1" fill="none"/>
<path d="M117.9,780.48H119.6M117.9,776.33H119.6M117.9,773.39H119.6M117.9,771.1H119.6M117.9,769.24H119.6M117.9,767.66H119.6M117.9,766.3H119.6M117.9,765.09H119.6M117.9,807.78H119.6M117.9,802.69H119.6M117.9,799.08H119.6M117.9,796.27H119.6M117.9,793.98H119.6M117.9,792.05H119.6M117.9,790.37H119.6M117.9,788.89H119.6M117.9,821.88H119.6M117.9,825.48H119.6M117.9,828.17H119.6M117.9,830.87H119.6M117.9,840.79H119.6M117.9,845.31H119.6M117.9,848.93H119.6M191.49,857.5V859.2M195.4,857.5V859.2M198.17,857.5V859.2M200.32,857.5V859.2M202.08,857.5V859.2M203.57,857.5V859.2M204.85,857.5V859.2M205.99,857.5V859.2M165.78,857.5V859.2M170.58,857.5V859.2M173.98,857.5V859.2M176.62,857.5V859.2M178.77,857.5V859.2M180.6,857.5V859.2M182.17,857.5V859.2M183.57,857.5V859.2M145.52,857.5V859.2M148.74,857.5V859.2M151.15,857.5V859.2M153.56,857.5V859.2M155.65,857.5V859.2M127.31,857.5V859.2M131.75,857.5V859.2M135.29,857.5V859.2M137.95,857.5V859.2" stroke="#444" stroke-width="0.65" fill="none"/>
<rect x="117.2" y="832.06" width="2.4" height="4.8" fill="#111"/>
<rect x="138.9" y="857.5" width="4.8" height="2.3" fill="#111"/>
<text x="114.9" y="766.11" font-size="4.5" fill="#2a2a2a" font-weight="normal" text-anchor="end">10<tspan font-size="3.7" dx="0.6" dy="-2.8">5</tspan></text>
<text x="114.9" y="789.67" font-size="4.5" fill="#2a2a2a" font-weight="normal" text-anchor="end">10<tspan font-size="3.7" dx="0.6" dy="-2.8">4</tspan></text>
<text x="114.9" y="818.59" font-size="4.5" fill="#2a2a2a" font-weight="normal" text-anchor="end">10<tspan font-size="3.7" dx="0.6" dy="-2.8">3</tspan></text>
<text x="112.8" y="836.86" font-size="4.5" fill="#2a2a2a" font-weight="normal" text-anchor="end">0</text>
<text x="114.9" y="854.64" font-size="4.5" fill="#2a2a2a" font-weight="normal" text-anchor="end">-10<tspan font-size="3.7" dx="0.6" dy="-2.8">3</tspan></text>
<text x="125.47" y="870.3" font-size="4.5" fill="#2a2a2a" font-weight="normal" text-anchor="middle">-10<tspan font-size="3.7" dx="0.6" dy="-3.0">3</tspan></text>
<text x="141.5" y="870.3" font-size="4.5" fill="#2a2a2a" font-weight="normal" text-anchor="middle">0</text>
<text x="159.28" y="870.3" font-size="4.5" fill="#2a2a2a" font-weight="normal" text-anchor="middle">10<tspan font-size="3.7" dx="0.6" dy="-3.0">3</tspan></text>
<text x="186.51" y="870.3" font-size="4.5" fill="#2a2a2a" font-weight="normal" text-anchor="middle">10<tspan font-size="3.7" dx="0.6" dy="-3.0">4</tspan></text>
<text x="208.7" y="870.3" font-size="4.5" fill="#2a2a2a" font-weight="normal" text-anchor="middle">10<tspan font-size="3.7" dx="0.6" dy="-3.0">5</tspan></text>
<rect x="119.6" y="754.2" width="96.9" height="103.3" fill="none" stroke="#7c7c7c" stroke-width="1.1"/>
<line x1="142.4" y1="754.2" x2="142.4" y2="857.5" stroke="#444" stroke-width="1.3"/>
<line x1="119.6" y1="826.7" x2="216.5" y2="826.7" stroke="#444" stroke-width="1.3"/>
<path d="M142.2 823.3h0.75v0.75h-0.75zM141.4 825.7h0.75v0.75h-0.75zM141.6 830.4h0.75v0.75h-0.75zM140.7 807.2h0.75v0.75h-0.75zM142.0 817.4h0.75v0.75h-0.75zM140.7 810.5h0.75v0.75h-0.75zM141.0 799.5h0.75v0.75h-0.75z" fill="#2a3aa6"/>
<path d="M144.4 819.8h0.75v0.75h-0.75zM143.7 816.4h0.75v0.75h-0.75zM142.8 804.1h0.75v0.75h-0.75zM143.1 792.3h0.75v0.75h-0.75zM145.7 816.4h0.75v0.75h-0.75zM142.0 796.6h0.75v0.75h-0.75zM146.6 823.2h0.75v0.75h-0.75zM141.7 829.5h0.75v0.75h-0.75zM145.5 833.9h0.75v0.75h-0.75zM140.1 827.5h0.75v0.75h-0.75zM143.5 831.6h0.75v0.75h-0.75zM141.3 833.9h0.75v0.75h-0.75zM141.6 836.7h0.75v0.75h-0.75zM140.3 831.3h0.75v0.75h-0.75z" fill="#8088c8"/>
<path d="M143.9 795.5h0.75v0.75h-0.75zM144.9 803.3h0.75v0.75h-0.75zM142.7 824.0h0.75v0.75h-0.75zM142.0 830.4h0.75v0.75h-0.75zM141.1 815.7h0.75v0.75h-0.75zM142.3 819.8h0.75v0.75h-0.75zM141.5 794.8h0.75v0.75h-0.75zM141.8 795.6h0.75v0.75h-0.75zM142.0 805.4h0.75v0.75h-0.75zM140.8 811.6h0.75v0.75h-0.75zM146.8 804.0h0.75v0.75h-0.75zM141.8 794.5h0.75v0.75h-0.75zM148.1 830.7h0.75v0.75h-0.75zM141.0 819.4h0.75v0.75h-0.75zM143.0 807.1h0.75v0.75h-0.75zM145.0 799.6h0.75v0.75h-0.75zM151.0 831.7h0.75v0.75h-0.75zM140.1 829.7h0.75v0.75h-0.75zM141.1 834.1h0.75v0.75h-0.75zM144.9 830.2h0.75v0.75h-0.75zM147.9 832.3h0.75v0.75h-0.75zM143.0 832.3h0.75v0.75h-0.75zM147.0 835.8h0.75v0.75h-0.75zM150.6 831.6h0.75v0.75h-0.75zM147.5 831.9h0.75v0.75h-0.75zM145.6 833.6h0.75v0.75h-0.75zM140.9 833.1h0.75v0.75h-0.75zM142.5 828.6h0.75v0.75h-0.75zM161.9 831.8h0.75v0.75h-0.75zM140.1 832.3h0.75v0.75h-0.75zM141.6 833.1h0.75v0.75h-0.75zM140.1 830.8h0.75v0.75h-0.75zM147.9 832.1h0.75v0.75h-0.75zM158.8 830.1h0.75v0.75h-0.75z" fill="#6a70b8"/>
<text x="121.2" y="764" font-size="4.6" fill="#333" font-weight="normal" text-anchor="start" stroke="#333" stroke-width="0.06">Q1</text>
<text x="121.2" y="771.2" font-size="4.6" fill="#333" font-weight="normal" text-anchor="start" stroke="#333" stroke-width="0.06">47.6</text>
<text x="208.3" y="764" font-size="4.6" fill="#333" font-weight="normal" text-anchor="end" stroke="#333" stroke-width="0.06">Q2</text>
<text x="208.3" y="771.2" font-size="4.6" fill="#333" font-weight="normal" text-anchor="end" stroke="#333" stroke-width="0.06">17.8</text>
<text x="208.3" y="844.7" font-size="4.6" fill="#333" font-weight="normal" text-anchor="end" stroke="#333" stroke-width="0.06">Q3</text>
<text x="208.3" y="851.5" font-size="4.6" fill="#333" font-weight="normal" text-anchor="end" stroke="#333" stroke-width="0.06">25.7</text>
<text x="121.2" y="844.7" font-size="4.6" fill="#333" font-weight="normal" text-anchor="start" stroke="#333" stroke-width="0.06">Q4</text>
<text x="121.2" y="851.5" font-size="4.6" fill="#333" font-weight="normal" text-anchor="start" stroke="#333" stroke-width="0.06">0.90</text>
<text x="123" y="779.7" font-size="6.3" fill="#f52a2a" font-weight="normal" text-anchor="start" stroke="#f52a2a" stroke-width="0.28">CD8+</text>
<text x="123" y="786.7" font-size="6.3" fill="#f52a2a" font-weight="normal" text-anchor="start" stroke="#f52a2a" stroke-width="0.28">Tem</text>
<text x="179.6" y="779.7" font-size="6.3" fill="#f52a2a" font-weight="normal" text-anchor="start" stroke="#f52a2a" stroke-width="0.28">CD8+</text>
<text x="179.6" y="786.7" font-size="6.3" fill="#f52a2a" font-weight="normal" text-anchor="start" stroke="#f52a2a" stroke-width="0.28">Tcm</text>
<text x="123" y="834.7" font-size="6.3" fill="#f52a2a" font-weight="normal" text-anchor="start" stroke="#f52a2a" stroke-width="0.28">CD8+</text>
<text x="123" y="841.7" font-size="6.3" fill="#f52a2a" font-weight="normal" text-anchor="start" stroke="#f52a2a" stroke-width="0.28">Teff</text>
<text x="179.4" y="834.7" font-size="6.3" fill="#f52a2a" font-weight="normal" text-anchor="start" stroke="#f52a2a" stroke-width="0.28">CD8+</text>
<text x="179.4" y="841.7" font-size="6.3" fill="#f52a2a" font-weight="normal" text-anchor="start" stroke="#f52a2a" stroke-width="0.28">Tnaiv</text>
<text x="245.4" y="803.1" font-size="4.95" fill="#333" text-anchor="middle" transform="rotate(-90 245.4 803.1)">Comp-PE-Cy7-A :: CD45RO</text>
<path d="M256,761.06H259M256,784.73H259M256,813.79H259M256,831.85H259M256,850.02H259M263.27,855V858M281.44,855V858M297.93,855V858M325.83,855V858M348.57,855V858" stroke="#222" stroke-width="1" fill="none"/>
<path d="M257.3,777.6H259M257.3,773.44H259M257.3,770.48H259M257.3,768.19H259M257.3,766.31H259M257.3,764.73H259M257.3,763.35H259M257.3,762.14H259M257.3,805.04H259M257.3,799.92H259M257.3,796.29H259M257.3,793.48H259M257.3,791.18H259M257.3,789.23H259M257.3,787.54H259M257.3,786.06H259M257.3,819.21H259M257.3,822.82H259M257.3,825.53H259M257.3,828.24H259M257.3,838.21H259M257.3,842.75H259M257.3,846.38H259M332.67,855V856.7M336.68,855V856.7M339.52,855V856.7M341.72,855V856.7M343.52,855V856.7M345.05,855V856.7M346.36,855V856.7M347.53,855V856.7M306.33,855V856.7M311.24,855V856.7M314.73,855V856.7M317.43,855V856.7M319.64,855V856.7M321.51,855V856.7M323.12,855V856.7M324.55,855V856.7M285.56,855V856.7M288.86,855V856.7M291.33,855V856.7M293.8,855V856.7M295.95,855V856.7M266.9,855V856.7M271.45,855V856.7M275.08,855V856.7M277.81,855V856.7" stroke="#444" stroke-width="0.65" fill="none"/>
<rect x="256.6" y="829.45" width="2.4" height="4.8" fill="#111"/>
<rect x="278.84" y="855" width="4.8" height="2.3" fill="#111"/>
<text x="254.3" y="763.16" font-size="4.5" fill="#2a2a2a" font-weight="normal" text-anchor="end">10<tspan font-size="3.7" dx="0.6" dy="-2.8">5</tspan></text>
<text x="254.3" y="786.83" font-size="4.5" fill="#2a2a2a" font-weight="normal" text-anchor="end">10<tspan font-size="3.7" dx="0.6" dy="-2.8">4</tspan></text>
<text x="254.3" y="815.89" font-size="4.5" fill="#2a2a2a" font-weight="normal" text-anchor="end">10<tspan font-size="3.7" dx="0.6" dy="-2.8">3</tspan></text>
<text x="252.2" y="834.25" font-size="4.5" fill="#2a2a2a" font-weight="normal" text-anchor="end">0</text>
<text x="254.3" y="852.12" font-size="4.5" fill="#2a2a2a" font-weight="normal" text-anchor="end">-10<tspan font-size="3.7" dx="0.6" dy="-2.8">3</tspan></text>
<text x="264.97" y="867.8" font-size="4.5" fill="#2a2a2a" font-weight="normal" text-anchor="middle">-10<tspan font-size="3.7" dx="0.6" dy="-3.0">3</tspan></text>
<text x="281.44" y="867.8" font-size="4.5" fill="#2a2a2a" font-weight="normal" text-anchor="middle">0</text>
<text x="299.63" y="867.8" font-size="4.5" fill="#2a2a2a" font-weight="normal" text-anchor="middle">10<tspan font-size="3.7" dx="0.6" dy="-3.0">3</tspan></text>
<text x="327.53" y="867.8" font-size="4.5" fill="#2a2a2a" font-weight="normal" text-anchor="middle">10<tspan font-size="3.7" dx="0.6" dy="-3.0">4</tspan></text>
<text x="350.27" y="867.8" font-size="4.5" fill="#2a2a2a" font-weight="normal" text-anchor="middle">10<tspan font-size="3.7" dx="0.6" dy="-3.0">5</tspan></text>
<rect x="259" y="751.2" width="99.3" height="103.8" fill="none" stroke="#7c7c7c" stroke-width="1.1"/>
<line x1="283.1" y1="751.2" x2="283.1" y2="855" stroke="#444" stroke-width="1.3"/>
<line x1="259" y1="825.3" x2="358.3" y2="825.3" stroke="#444" stroke-width="1.3"/>
<path d="M281.3 798.3h0.75v0.75h-0.75zM281.1 804.9h0.75v0.75h-0.75zM283.0 817.2h0.75v0.75h-0.75zM283.8 813.8h0.75v0.75h-0.75zM283.4 806.4h0.75v0.75h-0.75zM280.3 818.8h0.75v0.75h-0.75zM281.5 817.3h0.75v0.75h-0.75zM283.6 814.7h0.75v0.75h-0.75zM283.0 796.9h0.75v0.75h-0.75zM282.8 805.2h0.75v0.75h-0.75zM283.6 813.3h0.75v0.75h-0.75z" fill="#2a3aa6"/>
<path d="M286.3 793.6h0.75v0.75h-0.75zM283.7 826.7h0.75v0.75h-0.75zM285.8 811.1h0.75v0.75h-0.75zM283.5 817.3h0.75v0.75h-0.75zM282.3 833.6h0.75v0.75h-0.75zM285.8 829.7h0.75v0.75h-0.75zM281.9 830.8h0.75v0.75h-0.75zM283.1 827.6h0.75v0.75h-0.75zM284.0 829.7h0.75v0.75h-0.75zM290.7 833.5h0.75v0.75h-0.75zM286.7 830.7h0.75v0.75h-0.75zM293.0 830.6h0.75v0.75h-0.75zM281.0 833.6h0.75v0.75h-0.75zM294.1 830.9h0.75v0.75h-0.75zM280.9 827.7h0.75v0.75h-0.75zM284.7 829.2h0.75v0.75h-0.75zM298.8 831.6h0.75v0.75h-0.75zM285.7 830.9h0.75v0.75h-0.75zM284.6 828.4h0.75v0.75h-0.75z" fill="#8088c8"/>
<path d="M283.3 798.2h0.75v0.75h-0.75zM282.9 798.1h0.75v0.75h-0.75zM280.0 819.4h0.75v0.75h-0.75zM283.7 813.0h0.75v0.75h-0.75zM282.3 816.0h0.75v0.75h-0.75zM283.2 798.1h0.75v0.75h-0.75zM284.4 808.6h0.75v0.75h-0.75zM283.3 804.8h0.75v0.75h-0.75zM279.9 815.5h0.75v0.75h-0.75zM281.8 811.0h0.75v0.75h-0.75zM283.1 815.0h0.75v0.75h-0.75zM281.0 798.2h0.75v0.75h-0.75zM281.9 805.4h0.75v0.75h-0.75zM283.8 796.4h0.75v0.75h-0.75zM281.7 799.4h0.75v0.75h-0.75zM283.4 813.0h0.75v0.75h-0.75zM283.5 808.3h0.75v0.75h-0.75zM281.1 827.6h0.75v0.75h-0.75zM282.5 796.7h0.75v0.75h-0.75zM283.0 814.2h0.75v0.75h-0.75zM280.8 810.1h0.75v0.75h-0.75zM283.4 830.3h0.75v0.75h-0.75zM282.8 795.4h0.75v0.75h-0.75zM285.9 807.5h0.75v0.75h-0.75zM281.2 806.1h0.75v0.75h-0.75zM282.9 832.8h0.75v0.75h-0.75zM283.6 831.6h0.75v0.75h-0.75zM282.9 828.6h0.75v0.75h-0.75zM283.8 827.7h0.75v0.75h-0.75zM287.1 833.2h0.75v0.75h-0.75zM285.2 827.1h0.75v0.75h-0.75zM281.9 830.5h0.75v0.75h-0.75zM281.8 832.9h0.75v0.75h-0.75zM283.1 831.0h0.75v0.75h-0.75zM282.5 829.9h0.75v0.75h-0.75zM286.8 834.7h0.75v0.75h-0.75zM287.6 827.8h0.75v0.75h-0.75zM292.3 829.9h0.75v0.75h-0.75zM286.7 828.0h0.75v0.75h-0.75zM289.6 833.4h0.75v0.75h-0.75zM285.1 829.3h0.75v0.75h-0.75zM283.5 832.1h0.75v0.75h-0.75zM281.2 829.5h0.75v0.75h-0.75zM283.5 832.5h0.75v0.75h-0.75zM289.8 834.2h0.75v0.75h-0.75zM284.3 829.6h0.75v0.75h-0.75zM291.6 833.2h0.75v0.75h-0.75zM281.8 829.8h0.75v0.75h-0.75zM285.5 829.5h0.75v0.75h-0.75zM281.5 830.3h0.75v0.75h-0.75z" fill="#6a70b8"/>
<text x="260.6" y="761" font-size="4.6" fill="#333" font-weight="normal" text-anchor="start" stroke="#333" stroke-width="0.06">Q1</text>
<text x="260.6" y="768.2" font-size="4.6" fill="#333" font-weight="normal" text-anchor="start" stroke="#333" stroke-width="0.06">37.3</text>
<text x="350.1" y="761" font-size="4.6" fill="#333" font-weight="normal" text-anchor="end" stroke="#333" stroke-width="0.06">Q2</text>
<text x="350.1" y="768.2" font-size="4.6" fill="#333" font-weight="normal" text-anchor="end" stroke="#333" stroke-width="0.06">17.3</text>
<text x="350.1" y="842.2" font-size="4.6" fill="#333" font-weight="normal" text-anchor="end" stroke="#333" stroke-width="0.06">Q3</text>
<text x="350.1" y="849" font-size="4.6" fill="#333" font-weight="normal" text-anchor="end" stroke="#333" stroke-width="0.06">35.7</text>
<text x="260.6" y="842.2" font-size="4.6" fill="#333" font-weight="normal" text-anchor="start" stroke="#333" stroke-width="0.06">Q4</text>
<text x="260.6" y="849" font-size="4.6" fill="#333" font-weight="normal" text-anchor="start" stroke="#333" stroke-width="0.06">9.73</text>
<text x="261.9" y="781.5" font-size="6.3" fill="#f52a2a" font-weight="normal" text-anchor="start" stroke="#f52a2a" stroke-width="0.28">CD8+</text>
<text x="261.9" y="788.5" font-size="6.3" fill="#f52a2a" font-weight="normal" text-anchor="start" stroke="#f52a2a" stroke-width="0.28">Tem</text>
<text x="318" y="779.7" font-size="6.3" fill="#f52a2a" font-weight="normal" text-anchor="start" stroke="#f52a2a" stroke-width="0.28">CD8+</text>
<text x="318" y="786.7" font-size="6.3" fill="#f52a2a" font-weight="normal" text-anchor="start" stroke="#f52a2a" stroke-width="0.28">Tcm</text>
<text x="261.2" y="835.8" font-size="6.3" fill="#f52a2a" font-weight="normal" text-anchor="start" stroke="#f52a2a" stroke-width="0.28">CD8+</text>
<text x="261.2" y="842.8" font-size="6.3" fill="#f52a2a" font-weight="normal" text-anchor="start" stroke="#f52a2a" stroke-width="0.28">Teff</text>
<text x="318" y="835.4" font-size="6.3" fill="#f52a2a" font-weight="normal" text-anchor="start" stroke="#f52a2a" stroke-width="0.28">CD8+</text>
<text x="318" y="842.4" font-size="6.3" fill="#f52a2a" font-weight="normal" text-anchor="start" stroke="#f52a2a" stroke-width="0.28">Tnaiv</text>
<text x="379.9" y="802.4" font-size="4.95" fill="#333" text-anchor="middle" transform="rotate(-90 379.9 802.4)">Comp-PE-Cy7-A :: CD45RO</text>
<path d="M390.5,760.2H393.5M390.5,783.96H393.5M390.5,813.13H393.5M390.5,831.26H393.5M390.5,849.5H393.5M397.61,854.5V857.5M415.08,854.5V857.5M430.94,854.5V857.5M457.77,854.5V857.5M479.64,854.5V857.5" stroke="#222" stroke-width="1" fill="none"/>
<path d="M391.8,776.8H393.5M391.8,772.62H393.5M391.8,769.65H393.5M391.8,767.35H393.5M391.8,765.47H393.5M391.8,763.88H393.5M391.8,762.5H393.5M391.8,761.29H393.5M391.8,804.35H393.5M391.8,799.21H393.5M391.8,795.57H393.5M391.8,792.74H393.5M391.8,790.43H393.5M391.8,788.48H393.5M391.8,786.78H393.5M391.8,785.29H393.5M391.8,818.57H393.5M391.8,822.2H393.5M391.8,824.92H393.5M391.8,827.64H393.5M391.8,837.65H393.5M391.8,842.2H393.5M391.8,845.85H393.5M464.35,854.5V856.2M468.21,854.5V856.2M470.94,854.5V856.2M473.06,854.5V856.2M474.79,854.5V856.2M476.25,854.5V856.2M477.52,854.5V856.2M478.64,854.5V856.2M439.01,854.5V856.2M443.74,854.5V856.2M447.09,854.5V856.2M449.69,854.5V856.2M451.82,854.5V856.2M453.61,854.5V856.2M455.17,854.5V856.2M456.54,854.5V856.2M419.05,854.5V856.2M422.22,854.5V856.2M424.59,854.5V856.2M426.97,854.5V856.2M429.03,854.5V856.2M401.1,854.5V856.2M405.47,854.5V856.2M408.97,854.5V856.2M411.59,854.5V856.2" stroke="#444" stroke-width="0.65" fill="none"/>
<rect x="391.1" y="828.86" width="2.4" height="4.8" fill="#111"/>
<rect x="412.48" y="854.5" width="4.8" height="2.3" fill="#111"/>
<text x="388.8" y="762.3" font-size="4.5" fill="#2a2a2a" font-weight="normal" text-anchor="end">10<tspan font-size="3.7" dx="0.6" dy="-2.8">5</tspan></text>
<text x="388.8" y="786.06" font-size="4.5" fill="#2a2a2a" font-weight="normal" text-anchor="end">10<tspan font-size="3.7" dx="0.6" dy="-2.8">4</tspan></text>
<text x="388.8" y="815.23" font-size="4.5" fill="#2a2a2a" font-weight="normal" text-anchor="end">10<tspan font-size="3.7" dx="0.6" dy="-2.8">3</tspan></text>
<text x="386.7" y="833.66" font-size="4.5" fill="#2a2a2a" font-weight="normal" text-anchor="end">0</text>
<text x="388.8" y="851.6" font-size="4.5" fill="#2a2a2a" font-weight="normal" text-anchor="end">-10<tspan font-size="3.7" dx="0.6" dy="-2.8">3</tspan></text>
<text x="399.31" y="867.3" font-size="4.5" fill="#2a2a2a" font-weight="normal" text-anchor="middle">-10<tspan font-size="3.7" dx="0.6" dy="-3.0">3</tspan></text>
<text x="415.08" y="867.3" font-size="4.5" fill="#2a2a2a" font-weight="normal" text-anchor="middle">0</text>
<text x="432.64" y="867.3" font-size="4.5" fill="#2a2a2a" font-weight="normal" text-anchor="middle">10<tspan font-size="3.7" dx="0.6" dy="-3.0">3</tspan></text>
<text x="459.47" y="867.3" font-size="4.5" fill="#2a2a2a" font-weight="normal" text-anchor="middle">10<tspan font-size="3.7" dx="0.6" dy="-3.0">4</tspan></text>
<text x="481.34" y="867.3" font-size="4.5" fill="#2a2a2a" font-weight="normal" text-anchor="middle">10<tspan font-size="3.7" dx="0.6" dy="-3.0">5</tspan></text>
<rect x="393.5" y="750.3" width="95.5" height="104.2" fill="none" stroke="#7c7c7c" stroke-width="1.1"/>
<line x1="417.4" y1="750.3" x2="417.4" y2="854.5" stroke="#444" stroke-width="1.3"/>
<line x1="393.5" y1="823.7" x2="489" y2="823.7" stroke="#444" stroke-width="1.3"/>
<path d="M415.5 816.7h0.75v0.75h-0.75zM415.6 797.3h0.75v0.75h-0.75zM415.5 822.1h0.75v0.75h-0.75zM415.8 821.5h0.75v0.75h-0.75zM416.6 804.2h0.75v0.75h-0.75zM416.6 796.6h0.75v0.75h-0.75zM415.3 796.2h0.75v0.75h-0.75zM417.6 813.6h0.75v0.75h-0.75zM415.5 798.2h0.75v0.75h-0.75zM418.0 827.2h0.75v0.75h-0.75zM416.6 803.8h0.75v0.75h-0.75zM415.9 806.4h0.75v0.75h-0.75zM416.3 797.5h0.75v0.75h-0.75zM416.3 795.5h0.75v0.75h-0.75zM418.9 811.2h0.75v0.75h-0.75zM417.5 829.1h0.75v0.75h-0.75zM417.5 799.6h0.75v0.75h-0.75zM417.0 812.6h0.75v0.75h-0.75zM415.8 799.3h0.75v0.75h-0.75zM416.4 801.9h0.75v0.75h-0.75zM418.3 814.5h0.75v0.75h-0.75zM416.4 799.7h0.75v0.75h-0.75zM416.7 809.4h0.75v0.75h-0.75zM417.1 807.5h0.75v0.75h-0.75zM417.1 816.4h0.75v0.75h-0.75zM417.6 828.4h0.75v0.75h-0.75zM416.8 800.5h0.75v0.75h-0.75zM416.3 827.6h0.75v0.75h-0.75zM416.6 801.5h0.75v0.75h-0.75zM414.6 827.5h0.75v0.75h-0.75zM415.4 822.6h0.75v0.75h-0.75zM417.8 796.5h0.75v0.75h-0.75zM415.8 828.5h0.75v0.75h-0.75zM415.6 822.2h0.75v0.75h-0.75zM417.8 800.8h0.75v0.75h-0.75zM415.6 821.8h0.75v0.75h-0.75zM418.2 817.8h0.75v0.75h-0.75zM416.2 802.4h0.75v0.75h-0.75zM416.3 802.6h0.75v0.75h-0.75zM416.6 820.9h0.75v0.75h-0.75zM416.1 822.5h0.75v0.75h-0.75zM416.1 818.6h0.75v0.75h-0.75zM417.0 814.2h0.75v0.75h-0.75zM415.1 817.2h0.75v0.75h-0.75zM416.3 795.8h0.75v0.75h-0.75zM415.3 827.0h0.75v0.75h-0.75zM417.8 798.0h0.75v0.75h-0.75zM415.9 802.0h0.75v0.75h-0.75zM416.3 817.7h0.75v0.75h-0.75zM415.6 809.8h0.75v0.75h-0.75zM416.6 807.8h0.75v0.75h-0.75zM415.5 803.7h0.75v0.75h-0.75zM417.7 818.0h0.75v0.75h-0.75zM417.6 806.8h0.75v0.75h-0.75zM417.2 826.9h0.75v0.75h-0.75zM415.5 800.5h0.75v0.75h-0.75zM415.4 815.0h0.75v0.75h-0.75zM418.0 798.1h0.75v0.75h-0.75zM417.3 803.6h0.75v0.75h-0.75zM416.1 811.2h0.75v0.75h-0.75zM416.3 797.2h0.75v0.75h-0.75zM415.9 828.7h0.75v0.75h-0.75zM416.9 797.9h0.75v0.75h-0.75zM415.6 804.7h0.75v0.75h-0.75zM415.9 808.7h0.75v0.75h-0.75zM415.7 816.7h0.75v0.75h-0.75zM416.4 795.2h0.75v0.75h-0.75zM415.8 820.2h0.75v0.75h-0.75zM417.8 799.8h0.75v0.75h-0.75zM415.3 819.2h0.75v0.75h-0.75zM416.6 794.8h0.75v0.75h-0.75zM416.2 812.4h0.75v0.75h-0.75zM417.0 811.4h0.75v0.75h-0.75zM415.1 828.3h0.75v0.75h-0.75zM416.1 808.6h0.75v0.75h-0.75zM414.9 809.1h0.75v0.75h-0.75zM415.3 805.4h0.75v0.75h-0.75zM416.4 802.1h0.75v0.75h-0.75zM416.3 808.1h0.75v0.75h-0.75z" fill="#2a3aa6"/>
<path d="M418.0 836.0h1v1h-1zM413.4 833.8h1v1h-1zM413.7 831.1h1v1h-1zM419.1 832.9h1v1h-1zM414.2 832.9h1v1h-1zM413.6 828.1h1v1h-1zM420.7 831.8h1v1h-1zM418.7 834.3h1v1h-1zM411.5 831.3h1v1h-1zM419.4 829.9h1v1h-1zM418.1 834.4h1v1h-1zM418.8 827.2h1v1h-1zM412.7 833.6h1v1h-1zM416.7 826.1h1v1h-1zM419.2 832.6h1v1h-1zM418.8 832.7h1v1h-1zM413.9 829.5h1v1h-1zM418.6 826.5h1v1h-1zM415.1 834.1h1v1h-1zM417.0 835.4h1v1h-1zM417.6 836.0h1v1h-1zM415.8 834.9h1v1h-1zM414.9 834.9h1v1h-1zM414.6 836.5h1v1h-1zM412.8 832.7h1v1h-1zM418.1 827.4h1v1h-1zM419.4 829.0h1v1h-1zM416.7 826.2h1v1h-1zM413.1 826.6h1v1h-1zM413.2 827.8h1v1h-1zM413.6 831.9h1v1h-1zM412.8 833.6h1v1h-1zM414.4 834.5h1v1h-1zM418.9 827.4h1v1h-1zM417.2 825.5h1v1h-1zM415.8 834.8h1v1h-1zM414.0 832.8h1v1h-1zM416.5 834.7h1v1h-1zM414.4 825.8h1v1h-1zM418.8 831.3h1v1h-1zM414.2 824.6h1v1h-1zM415.2 823.6h1v1h-1z" fill="#4a64cc"/>
<path d="M414.3 832.2h1v1h-1zM414.2 829.5h1v1h-1zM414.3 829.9h1v1h-1zM416.4 827.0h1v1h-1zM414.1 829.4h1v1h-1zM414.5 832.6h1v1h-1zM414.6 832.2h1v1h-1zM415.0 832.6h1v1h-1zM418.0 828.9h1v1h-1zM415.1 832.9h1v1h-1zM415.1 833.1h1v1h-1zM416.0 834.0h1v1h-1zM417.9 827.4h1v1h-1zM416.6 833.9h1v1h-1zM415.7 826.8h1v1h-1zM415.9 833.6h1v1h-1zM418.3 828.2h1v1h-1zM418.1 831.2h1v1h-1zM417.0 833.5h1v1h-1zM417.1 833.0h1v1h-1zM414.1 830.5h1v1h-1zM416.5 826.8h1v1h-1zM414.9 827.8h1v1h-1z" fill="#30b8e0"/>
<path d="M417.4 832.4h1v1h-1zM415.6 832.4h1v1h-1zM416.3 827.6h1v1h-1zM415.0 828.8h1v1h-1zM414.6 829.5h1v1h-1zM414.8 830.4h1v1h-1zM417.7 830.8h1v1h-1zM414.5 830.0h1v1h-1zM417.8 830.0h1v1h-1zM415.9 832.9h1v1h-1zM417.5 832.5h1v1h-1zM417.9 830.8h1v1h-1zM414.5 829.8h1v1h-1zM417.8 830.2h1v1h-1zM415.3 832.0h1v1h-1zM417.5 828.4h1v1h-1zM415.3 831.9h1v1h-1zM418.1 829.8h1v1h-1zM417.4 828.0h1v1h-1zM416.8 833.1h1v1h-1zM417.8 829.4h1v1h-1zM416.8 827.9h1v1h-1z" fill="#40c070"/>
<path d="M415.6 831.7h1v1h-1zM417.4 829.3h1v1h-1zM416.8 831.9h1v1h-1zM416.5 827.9h1v1h-1zM417.3 831.8h1v1h-1zM415.2 830.7h1v1h-1zM415.3 830.5h1v1h-1zM417.0 831.9h1v1h-1zM417.2 831.0h1v1h-1zM415.4 831.1h1v1h-1zM415.2 830.2h1v1h-1zM417.5 830.3h1v1h-1zM417.7 830.4h1v1h-1zM417.0 828.7h1v1h-1zM417.4 829.0h1v1h-1zM415.9 832.0h1v1h-1zM416.7 828.5h1v1h-1zM415.3 830.9h1v1h-1zM416.6 828.1h1v1h-1zM417.6 829.6h1v1h-1z" fill="#b8e040"/>
<path d="M417.3 829.6h1v1h-1zM416.5 828.6h1v1h-1zM416.5 831.2h1v1h-1zM415.7 828.8h1v1h-1zM417.1 829.4h1v1h-1zM416.9 829.9h1v1h-1zM416.2 831.4h1v1h-1zM416.0 828.7h1v1h-1zM416.1 831.5h1v1h-1zM415.8 831.2h1v1h-1zM417.0 831.3h1v1h-1zM415.9 829.2h1v1h-1zM416.0 828.9h1v1h-1z" fill="#f08020"/>
<path d="M415.9 830.3h1v1h-1zM416.5 829.3h1v1h-1zM416.0 830.0h1v1h-1zM416.1 829.9h1v1h-1zM416.4 830.7h1v1h-1zM416.6 829.9h1v1h-1zM416.7 829.9h1v1h-1zM416.4 830.9h1v1h-1zM416.6 831.0h1v1h-1zM416.7 830.7h1v1h-1z" fill="#e02020"/>
<path d="M420.9 795.6h0.75v0.75h-0.75zM419.1 814.0h0.75v0.75h-0.75zM420.3 811.4h0.75v0.75h-0.75zM421.8 801.4h0.75v0.75h-0.75zM418.5 804.5h0.75v0.75h-0.75zM425.3 815.7h0.75v0.75h-0.75zM416.6 796.2h0.75v0.75h-0.75zM418.4 817.1h0.75v0.75h-0.75zM418.7 794.0h0.75v0.75h-0.75zM417.5 805.1h0.75v0.75h-0.75zM418.3 825.3h0.75v0.75h-0.75zM420.9 819.2h0.75v0.75h-0.75zM422.7 825.5h0.75v0.75h-0.75zM419.9 805.7h0.75v0.75h-0.75zM420.2 798.0h0.75v0.75h-0.75zM420.0 822.1h0.75v0.75h-0.75zM416.8 828.9h0.75v0.75h-0.75zM422.7 812.1h0.75v0.75h-0.75zM416.6 807.8h0.75v0.75h-0.75zM421.1 799.1h0.75v0.75h-0.75zM417.6 799.7h0.75v0.75h-0.75zM416.8 807.7h0.75v0.75h-0.75zM416.6 807.6h0.75v0.75h-0.75zM419.4 818.1h0.75v0.75h-0.75zM425.4 815.7h0.75v0.75h-0.75zM418.9 795.8h0.75v0.75h-0.75zM421.3 807.8h0.75v0.75h-0.75zM425.8 798.9h0.75v0.75h-0.75zM417.3 824.8h0.75v0.75h-0.75zM418.2 820.5h0.75v0.75h-0.75zM418.0 823.9h0.75v0.75h-0.75zM418.9 818.8h0.75v0.75h-0.75zM419.4 801.9h0.75v0.75h-0.75zM417.1 816.0h0.75v0.75h-0.75zM421.7 802.7h0.75v0.75h-0.75zM420.5 825.7h0.75v0.75h-0.75zM418.8 808.3h0.75v0.75h-0.75zM426.0 824.5h0.75v0.75h-0.75zM421.1 809.1h0.75v0.75h-0.75zM417.6 830.3h0.75v0.75h-0.75zM420.0 830.0h0.75v0.75h-0.75zM416.5 828.7h0.75v0.75h-0.75zM422.2 831.0h0.75v0.75h-0.75zM426.4 831.9h0.75v0.75h-0.75zM420.9 826.4h0.75v0.75h-0.75zM419.0 827.8h0.75v0.75h-0.75zM429.5 829.7h0.75v0.75h-0.75zM421.8 829.3h0.75v0.75h-0.75zM428.8 829.1h0.75v0.75h-0.75zM419.5 829.7h0.75v0.75h-0.75zM427.3 825.4h0.75v0.75h-0.75zM422.1 828.3h0.75v0.75h-0.75zM417.0 829.3h0.75v0.75h-0.75zM419.7 831.7h0.75v0.75h-0.75zM426.2 832.2h0.75v0.75h-0.75zM420.4 827.5h0.75v0.75h-0.75zM428.0 832.4h0.75v0.75h-0.75zM415.8 831.4h0.75v0.75h-0.75zM417.4 831.7h0.75v0.75h-0.75zM426.0 827.2h0.75v0.75h-0.75zM418.6 829.4h0.75v0.75h-0.75zM433.5 824.6h0.75v0.75h-0.75zM425.0 827.6h0.75v0.75h-0.75zM420.6 827.0h0.75v0.75h-0.75zM423.5 829.1h0.75v0.75h-0.75zM424.8 828.8h0.75v0.75h-0.75zM416.9 830.6h0.75v0.75h-0.75zM422.9 830.5h0.75v0.75h-0.75zM418.3 831.5h0.75v0.75h-0.75zM430.3 827.7h0.75v0.75h-0.75zM421.0 832.8h0.75v0.75h-0.75zM420.1 828.3h0.75v0.75h-0.75zM423.2 830.4h0.75v0.75h-0.75zM427.7 824.0h0.75v0.75h-0.75zM434.0 829.5h0.75v0.75h-0.75zM415.5 827.6h0.75v0.75h-0.75zM418.8 825.8h0.75v0.75h-0.75zM423.9 826.7h0.75v0.75h-0.75zM416.4 828.4h0.75v0.75h-0.75zM430.6 827.5h0.75v0.75h-0.75zM425.1 826.8h0.75v0.75h-0.75zM421.5 827.4h0.75v0.75h-0.75zM415.1 830.1h0.75v0.75h-0.75zM417.7 831.3h0.75v0.75h-0.75zM426.8 832.2h0.75v0.75h-0.75zM420.2 831.3h0.75v0.75h-0.75zM417.9 834.0h0.75v0.75h-0.75zM416.0 830.8h0.75v0.75h-0.75zM417.0 831.4h0.75v0.75h-0.75zM421.0 831.0h0.75v0.75h-0.75zM427.3 830.8h0.75v0.75h-0.75zM415.4 830.7h0.75v0.75h-0.75zM422.5 832.9h0.75v0.75h-0.75zM417.4 833.0h0.75v0.75h-0.75zM422.1 829.0h0.75v0.75h-0.75zM418.1 827.8h0.75v0.75h-0.75zM431.2 830.5h0.75v0.75h-0.75zM415.8 828.7h0.75v0.75h-0.75zM426.0 832.1h0.75v0.75h-0.75zM441.8 829.6h0.75v0.75h-0.75zM421.2 831.5h0.75v0.75h-0.75zM415.5 827.4h0.75v0.75h-0.75zM418.5 830.2h0.75v0.75h-0.75zM425.8 826.9h0.75v0.75h-0.75z" fill="#8088c8"/>
<path d="M418.1 815.8h0.75v0.75h-0.75zM416.7 818.1h0.75v0.75h-0.75zM418.1 802.0h0.75v0.75h-0.75zM418.8 816.0h0.75v0.75h-0.75zM423.8 794.5h0.75v0.75h-0.75zM418.6 798.3h0.75v0.75h-0.75zM416.5 801.3h0.75v0.75h-0.75zM416.6 799.0h0.75v0.75h-0.75zM420.5 808.4h0.75v0.75h-0.75zM420.0 808.9h0.75v0.75h-0.75zM419.2 817.6h0.75v0.75h-0.75zM415.2 804.5h0.75v0.75h-0.75zM420.2 824.0h0.75v0.75h-0.75zM418.1 795.0h0.75v0.75h-0.75zM416.4 817.9h0.75v0.75h-0.75zM416.8 827.1h0.75v0.75h-0.75zM419.8 823.1h0.75v0.75h-0.75zM430.6 807.1h0.75v0.75h-0.75zM415.9 803.0h0.75v0.75h-0.75zM413.8 803.7h0.75v0.75h-0.75zM424.1 819.2h0.75v0.75h-0.75zM417.5 793.5h0.75v0.75h-0.75zM423.1 812.0h0.75v0.75h-0.75zM413.7 796.9h0.75v0.75h-0.75zM417.3 801.9h0.75v0.75h-0.75zM421.8 825.7h0.75v0.75h-0.75zM417.4 795.0h0.75v0.75h-0.75zM416.7 800.3h0.75v0.75h-0.75zM416.5 795.2h0.75v0.75h-0.75zM415.9 810.9h0.75v0.75h-0.75zM418.7 799.2h0.75v0.75h-0.75zM417.9 823.5h0.75v0.75h-0.75zM416.9 823.3h0.75v0.75h-0.75zM416.7 823.0h0.75v0.75h-0.75zM421.7 814.7h0.75v0.75h-0.75zM416.7 795.1h0.75v0.75h-0.75zM415.5 827.1h0.75v0.75h-0.75zM426.3 804.2h0.75v0.75h-0.75zM416.3 819.7h0.75v0.75h-0.75zM418.9 810.4h0.75v0.75h-0.75zM416.3 796.8h0.75v0.75h-0.75zM418.6 817.5h0.75v0.75h-0.75zM419.3 809.2h0.75v0.75h-0.75zM418.7 806.6h0.75v0.75h-0.75zM414.4 805.8h0.75v0.75h-0.75zM415.3 797.2h0.75v0.75h-0.75zM416.3 827.5h0.75v0.75h-0.75zM417.4 812.6h0.75v0.75h-0.75zM417.9 819.6h0.75v0.75h-0.75zM417.7 813.7h0.75v0.75h-0.75zM420.8 799.0h0.75v0.75h-0.75zM425.4 796.0h0.75v0.75h-0.75zM417.4 807.3h0.75v0.75h-0.75zM417.4 821.4h0.75v0.75h-0.75zM427.1 814.9h0.75v0.75h-0.75zM416.2 810.7h0.75v0.75h-0.75zM419.2 807.8h0.75v0.75h-0.75zM419.0 804.7h0.75v0.75h-0.75zM417.0 800.2h0.75v0.75h-0.75zM415.7 804.3h0.75v0.75h-0.75zM414.0 798.2h0.75v0.75h-0.75zM419.8 809.8h0.75v0.75h-0.75zM416.7 796.3h0.75v0.75h-0.75zM419.1 796.7h0.75v0.75h-0.75zM415.9 823.2h0.75v0.75h-0.75zM421.0 812.0h0.75v0.75h-0.75zM415.6 816.8h0.75v0.75h-0.75zM418.5 816.7h0.75v0.75h-0.75zM415.3 793.4h0.75v0.75h-0.75zM419.9 798.2h0.75v0.75h-0.75zM423.0 799.0h0.75v0.75h-0.75zM418.9 797.5h0.75v0.75h-0.75zM416.9 795.4h0.75v0.75h-0.75zM417.4 805.6h0.75v0.75h-0.75zM418.8 794.0h0.75v0.75h-0.75zM419.8 804.4h0.75v0.75h-0.75zM421.2 821.9h0.75v0.75h-0.75zM416.1 798.8h0.75v0.75h-0.75zM414.9 807.7h0.75v0.75h-0.75zM417.3 796.0h0.75v0.75h-0.75zM416.6 826.3h0.75v0.75h-0.75zM419.3 813.2h0.75v0.75h-0.75zM422.2 815.6h0.75v0.75h-0.75zM423.8 814.7h0.75v0.75h-0.75zM418.7 827.3h0.75v0.75h-0.75zM424.1 809.3h0.75v0.75h-0.75zM418.8 795.4h0.75v0.75h-0.75zM415.8 816.0h0.75v0.75h-0.75zM416.1 803.8h0.75v0.75h-0.75zM418.0 818.5h0.75v0.75h-0.75zM420.1 821.0h0.75v0.75h-0.75zM420.1 807.0h0.75v0.75h-0.75zM416.0 817.7h0.75v0.75h-0.75zM423.7 816.1h0.75v0.75h-0.75zM417.1 793.4h0.75v0.75h-0.75zM416.6 801.3h0.75v0.75h-0.75zM420.4 801.6h0.75v0.75h-0.75zM421.9 813.5h0.75v0.75h-0.75zM416.9 802.7h0.75v0.75h-0.75zM418.3 796.7h0.75v0.75h-0.75zM417.6 826.4h0.75v0.75h-0.75zM419.9 803.2h0.75v0.75h-0.75zM418.0 833.1h0.75v0.75h-0.75zM416.0 830.5h0.75v0.75h-0.75zM417.5 829.3h0.75v0.75h-0.75zM416.6 827.5h0.75v0.75h-0.75zM423.9 828.1h0.75v0.75h-0.75zM423.9 832.5h0.75v0.75h-0.75zM416.0 827.3h0.75v0.75h-0.75zM420.2 827.6h0.75v0.75h-0.75zM416.0 831.8h0.75v0.75h-0.75zM423.8 830.0h0.75v0.75h-0.75zM419.1 829.2h0.75v0.75h-0.75zM422.8 828.8h0.75v0.75h-0.75zM433.1 834.3h0.75v0.75h-0.75zM429.3 829.2h0.75v0.75h-0.75zM421.8 825.5h0.75v0.75h-0.75zM424.9 829.7h0.75v0.75h-0.75zM424.8 828.9h0.75v0.75h-0.75zM421.7 830.2h0.75v0.75h-0.75zM421.4 823.4h0.75v0.75h-0.75zM427.0 830.4h0.75v0.75h-0.75zM421.7 830.0h0.75v0.75h-0.75zM415.9 827.1h0.75v0.75h-0.75zM421.2 829.7h0.75v0.75h-0.75zM430.9 828.8h0.75v0.75h-0.75zM424.9 832.9h0.75v0.75h-0.75zM429.1 830.8h0.75v0.75h-0.75zM420.0 829.8h0.75v0.75h-0.75zM433.4 831.6h0.75v0.75h-0.75zM422.2 826.2h0.75v0.75h-0.75zM421.3 829.7h0.75v0.75h-0.75zM416.4 832.2h0.75v0.75h-0.75zM419.3 828.1h0.75v0.75h-0.75zM425.4 828.4h0.75v0.75h-0.75zM422.2 828.8h0.75v0.75h-0.75zM417.6 827.3h0.75v0.75h-0.75zM419.3 828.9h0.75v0.75h-0.75zM429.0 829.7h0.75v0.75h-0.75zM420.3 828.1h0.75v0.75h-0.75zM424.4 837.0h0.75v0.75h-0.75zM415.9 829.2h0.75v0.75h-0.75zM425.7 828.7h0.75v0.75h-0.75zM421.6 832.8h0.75v0.75h-0.75zM416.9 833.9h0.75v0.75h-0.75zM421.1 825.4h0.75v0.75h-0.75zM420.4 834.7h0.75v0.75h-0.75zM419.6 829.0h0.75v0.75h-0.75zM415.2 832.0h0.75v0.75h-0.75zM428.9 831.8h0.75v0.75h-0.75zM421.0 828.4h0.75v0.75h-0.75zM416.7 830.0h0.75v0.75h-0.75zM417.1 829.3h0.75v0.75h-0.75zM429.4 836.3h0.75v0.75h-0.75zM419.2 831.0h0.75v0.75h-0.75zM417.1 829.2h0.75v0.75h-0.75zM416.2 833.0h0.75v0.75h-0.75zM415.1 827.6h0.75v0.75h-0.75zM440.5 829.0h0.75v0.75h-0.75zM424.6 830.9h0.75v0.75h-0.75zM415.7 829.5h0.75v0.75h-0.75zM426.7 831.6h0.75v0.75h-0.75zM425.4 832.2h0.75v0.75h-0.75zM416.0 825.1h0.75v0.75h-0.75zM416.9 831.3h0.75v0.75h-0.75zM419.3 829.4h0.75v0.75h-0.75zM419.1 832.6h0.75v0.75h-0.75zM415.6 826.6h0.75v0.75h-0.75zM425.9 829.4h0.75v0.75h-0.75zM420.0 827.4h0.75v0.75h-0.75zM423.0 831.2h0.75v0.75h-0.75zM418.3 830.0h0.75v0.75h-0.75zM415.4 832.9h0.75v0.75h-0.75zM420.0 826.5h0.75v0.75h-0.75zM423.5 828.0h0.75v0.75h-0.75zM427.5 830.1h0.75v0.75h-0.75zM420.2 827.9h0.75v0.75h-0.75zM415.1 828.3h0.75v0.75h-0.75zM415.1 828.6h0.75v0.75h-0.75zM426.5 828.2h0.75v0.75h-0.75zM424.8 829.4h0.75v0.75h-0.75zM419.2 826.7h0.75v0.75h-0.75zM429.2 827.9h0.75v0.75h-0.75zM415.9 830.8h0.75v0.75h-0.75zM416.7 830.4h0.75v0.75h-0.75zM431.0 826.7h0.75v0.75h-0.75zM428.1 833.4h0.75v0.75h-0.75z" fill="#6a70b8"/>
<text x="395.1" y="760.1" font-size="4.6" fill="#333" font-weight="normal" text-anchor="start" stroke="#333" stroke-width="0.06">Q1</text>
<text x="395.1" y="767.3" font-size="4.6" fill="#333" font-weight="normal" text-anchor="start" stroke="#333" stroke-width="0.06">13.3</text>
<text x="480.8" y="760.1" font-size="4.6" fill="#333" font-weight="normal" text-anchor="end" stroke="#333" stroke-width="0.06">Q2</text>
<text x="480.8" y="767.3" font-size="4.6" fill="#333" font-weight="normal" text-anchor="end" stroke="#333" stroke-width="0.06">14.0</text>
<text x="480.8" y="841.7" font-size="4.6" fill="#333" font-weight="normal" text-anchor="end" stroke="#333" stroke-width="0.06">Q3</text>
<text x="480.8" y="848.5" font-size="4.6" fill="#333" font-weight="normal" text-anchor="end" stroke="#333" stroke-width="0.06">37.9</text>
<text x="395.1" y="841.7" font-size="4.6" fill="#333" font-weight="normal" text-anchor="start" stroke="#333" stroke-width="0.06">Q4</text>
<text x="395.1" y="848.5" font-size="4.6" fill="#333" font-weight="normal" text-anchor="start" stroke="#333" stroke-width="0.06">34.8</text>
<text x="399.2" y="779.7" font-size="6.3" fill="#f52a2a" font-weight="normal" text-anchor="start" stroke="#f52a2a" stroke-width="0.28">CD8+</text>
<text x="399.2" y="786.7" font-size="6.3" fill="#f52a2a" font-weight="normal" text-anchor="start" stroke="#f52a2a" stroke-width="0.28">Tem</text>
<text x="453.4" y="779.7" font-size="6.3" fill="#f52a2a" font-weight="normal" text-anchor="start" stroke="#f52a2a" stroke-width="0.28">CD8+</text>
<text x="453.4" y="786.7" font-size="6.3" fill="#f52a2a" font-weight="normal" text-anchor="start" stroke="#f52a2a" stroke-width="0.28">Tcm</text>
<text x="399.6" y="835.8" font-size="6.3" fill="#f52a2a" font-weight="normal" text-anchor="start" stroke="#f52a2a" stroke-width="0.28">CD8+</text>
<text x="399.6" y="842.8" font-size="6.3" fill="#f52a2a" font-weight="normal" text-anchor="start" stroke="#f52a2a" stroke-width="0.28">Teff</text>
<text x="452.7" y="834.7" font-size="6.3" fill="#f52a2a" font-weight="normal" text-anchor="start" stroke="#f52a2a" stroke-width="0.28">CD8+</text>
<text x="452.7" y="841.7" font-size="6.3" fill="#f52a2a" font-weight="normal" text-anchor="start" stroke="#f52a2a" stroke-width="0.28">Tnaiv</text>
<text x="524.5" y="803" font-size="4.95" fill="#333" text-anchor="middle" transform="rotate(-90 524.5 803)">Comp-PE-Cy7-A :: CD45RO</text>
<path d="M535.1,761.28H538.1M535.1,784.77H538.1M535.1,813.61H538.1M535.1,831.53H538.1M535.1,849.56H538.1M542.28,854.5V857.5M560.04,854.5V857.5M576.16,854.5V857.5M603.45,854.5V857.5M625.68,854.5V857.5" stroke="#222" stroke-width="1" fill="none"/>
<path d="M536.4,777.7H538.1M536.4,773.56H538.1M536.4,770.63H538.1M536.4,768.35H538.1M536.4,766.49H538.1M536.4,764.92H538.1M536.4,763.56H538.1M536.4,762.36H538.1M536.4,804.93H538.1M536.4,799.85H538.1M536.4,796.25H538.1M536.4,793.45H538.1M536.4,791.17H538.1M536.4,789.24H538.1M536.4,787.56H538.1M536.4,786.09H538.1M536.4,818.99H538.1M536.4,822.57H538.1M536.4,825.26H538.1M536.4,827.95H538.1M536.4,837.84H538.1M536.4,842.35H538.1M536.4,845.95H538.1M610.14,854.5V856.2M614.06,854.5V856.2M616.84,854.5V856.2M618.99,854.5V856.2M620.75,854.5V856.2M622.24,854.5V856.2M623.53,854.5V856.2M624.67,854.5V856.2M584.38,854.5V856.2M589.18,854.5V856.2M592.59,854.5V856.2M595.23,854.5V856.2M597.4,854.5V856.2M599.22,854.5V856.2M600.8,854.5V856.2M602.2,854.5V856.2M564.07,854.5V856.2M567.3,854.5V856.2M569.72,854.5V856.2M572.13,854.5V856.2M574.23,854.5V856.2M545.83,854.5V856.2M550.27,854.5V856.2M553.83,854.5V856.2M556.49,854.5V856.2" stroke="#444" stroke-width="0.65" fill="none"/>
<rect x="535.7" y="829.13" width="2.4" height="4.8" fill="#111"/>
<rect x="557.44" y="854.5" width="4.8" height="2.3" fill="#111"/>
<text x="533.4" y="763.38" font-size="4.5" fill="#2a2a2a" font-weight="normal" text-anchor="end">10<tspan font-size="3.7" dx="0.6" dy="-2.8">5</tspan></text>
<text x="533.4" y="786.87" font-size="4.5" fill="#2a2a2a" font-weight="normal" text-anchor="end">10<tspan font-size="3.7" dx="0.6" dy="-2.8">4</tspan></text>
<text x="533.4" y="815.71" font-size="4.5" fill="#2a2a2a" font-weight="normal" text-anchor="end">10<tspan font-size="3.7" dx="0.6" dy="-2.8">3</tspan></text>
<text x="531.3" y="833.93" font-size="4.5" fill="#2a2a2a" font-weight="normal" text-anchor="end">0</text>
<text x="533.4" y="851.66" font-size="4.5" fill="#2a2a2a" font-weight="normal" text-anchor="end">-10<tspan font-size="3.7" dx="0.6" dy="-2.8">3</tspan></text>
<text x="543.98" y="867.3" font-size="4.5" fill="#2a2a2a" font-weight="normal" text-anchor="middle">-10<tspan font-size="3.7" dx="0.6" dy="-3.0">3</tspan></text>
<text x="560.04" y="867.3" font-size="4.5" fill="#2a2a2a" font-weight="normal" text-anchor="middle">0</text>
<text x="577.86" y="867.3" font-size="4.5" fill="#2a2a2a" font-weight="normal" text-anchor="middle">10<tspan font-size="3.7" dx="0.6" dy="-3.0">3</tspan></text>
<text x="605.15" y="867.3" font-size="4.5" fill="#2a2a2a" font-weight="normal" text-anchor="middle">10<tspan font-size="3.7" dx="0.6" dy="-3.0">4</tspan></text>
<text x="627.38" y="867.3" font-size="4.5" fill="#2a2a2a" font-weight="normal" text-anchor="middle">10<tspan font-size="3.7" dx="0.6" dy="-3.0">5</tspan></text>
<rect x="538.1" y="751.5" width="97.1" height="103" fill="none" stroke="#7c7c7c" stroke-width="1.1"/>
<line x1="562.4" y1="751.5" x2="562.4" y2="854.5" stroke="#444" stroke-width="1.3"/>
<line x1="538.1" y1="828.3" x2="635.2" y2="828.3" stroke="#444" stroke-width="1.3"/>
<path d="M563.3 802.4h0.75v0.75h-0.75zM560.9 798.3h0.75v0.75h-0.75zM560.6 815.3h0.75v0.75h-0.75zM560.4 822.3h0.75v0.75h-0.75zM561.1 804.3h0.75v0.75h-0.75zM561.0 822.7h0.75v0.75h-0.75zM561.7 831.1h0.75v0.75h-0.75zM563.8 824.7h0.75v0.75h-0.75zM561.3 817.4h0.75v0.75h-0.75zM561.1 822.6h0.75v0.75h-0.75zM560.8 816.3h0.75v0.75h-0.75zM562.0 816.5h0.75v0.75h-0.75zM560.3 806.6h0.75v0.75h-0.75zM560.8 818.6h0.75v0.75h-0.75zM561.0 809.1h0.75v0.75h-0.75zM562.3 805.2h0.75v0.75h-0.75zM562.8 803.9h0.75v0.75h-0.75zM560.1 807.6h0.75v0.75h-0.75zM562.3 806.0h0.75v0.75h-0.75zM561.7 800.0h0.75v0.75h-0.75zM561.8 829.3h0.75v0.75h-0.75zM562.1 822.2h0.75v0.75h-0.75zM562.1 802.7h0.75v0.75h-0.75zM561.3 814.4h0.75v0.75h-0.75zM561.2 806.5h0.75v0.75h-0.75zM560.7 801.2h0.75v0.75h-0.75zM560.8 808.7h0.75v0.75h-0.75zM561.4 816.3h0.75v0.75h-0.75zM562.0 832.5h0.75v0.75h-0.75zM561.3 822.2h0.75v0.75h-0.75zM561.2 820.5h0.75v0.75h-0.75zM563.4 804.7h0.75v0.75h-0.75z" fill="#2a3aa6"/>
<path d="M561.6 837.9h1v1h-1zM560.8 827.1h1v1h-1zM563.0 832.7h1v1h-1zM560.3 825.3h1v1h-1zM562.8 835.3h1v1h-1zM561.3 826.6h1v1h-1zM563.0 828.3h1v1h-1zM563.4 828.5h1v1h-1zM562.9 828.2h1v1h-1zM564.5 830.3h1v1h-1zM562.4 827.0h1v1h-1zM562.7 839.0h1v1h-1zM560.5 828.8h1v1h-1zM561.7 825.4h1v1h-1zM561.1 821.7h1v1h-1zM561.7 838.2h1v1h-1zM563.1 832.1h1v1h-1zM559.1 834.1h1v1h-1zM562.5 826.3h1v1h-1zM561.3 837.3h1v1h-1zM563.2 832.4h1v1h-1zM558.8 832.3h1v1h-1zM561.1 838.9h1v1h-1zM560.9 838.5h1v1h-1zM562.3 825.3h1v1h-1zM563.4 827.1h1v1h-1zM562.8 830.1h1v1h-1zM561.0 826.2h1v1h-1zM562.9 835.4h1v1h-1zM563.8 830.5h1v1h-1zM559.5 832.7h1v1h-1zM563.7 833.8h1v1h-1zM563.7 833.0h1v1h-1zM564.1 838.0h1v1h-1zM562.5 826.4h1v1h-1z" fill="#4a64cc"/>
<path d="M560.8 836.3h1v1h-1zM559.8 832.0h1v1h-1zM559.9 832.9h1v1h-1zM560.7 836.4h1v1h-1zM560.2 830.3h1v1h-1zM560.3 836.1h1v1h-1zM561.9 829.4h1v1h-1zM560.0 832.4h1v1h-1zM561.3 829.2h1v1h-1zM561.8 829.6h1v1h-1zM561.6 829.3h1v1h-1zM562.5 835.2h1v1h-1zM562.9 833.4h1v1h-1zM562.7 831.0h1v1h-1zM560.3 836.1h1v1h-1zM562.6 835.1h1v1h-1zM562.0 829.6h1v1h-1zM561.2 836.8h1v1h-1zM559.8 832.7h1v1h-1zM561.6 836.9h1v1h-1z" fill="#30b8e0"/>
<path d="M561.8 830.2h1v1h-1zM560.2 831.9h1v1h-1zM561.5 829.7h1v1h-1zM562.1 835.3h1v1h-1zM561.8 830.4h1v1h-1zM562.3 831.5h1v1h-1zM562.2 835.0h1v1h-1zM562.5 832.8h1v1h-1zM562.4 832.1h1v1h-1zM560.5 830.4h1v1h-1zM562.2 831.1h1v1h-1zM560.1 831.5h1v1h-1zM560.3 830.7h1v1h-1zM560.9 830.4h1v1h-1zM561.1 835.5h1v1h-1zM562.2 835.1h1v1h-1z" fill="#40c070"/>
<path d="M560.6 834.3h1v1h-1zM562.0 833.4h1v1h-1zM560.6 833.3h1v1h-1zM560.5 832.8h1v1h-1zM560.7 834.0h1v1h-1zM561.3 830.9h1v1h-1zM560.3 832.3h1v1h-1zM562.1 831.4h1v1h-1zM560.4 832.7h1v1h-1zM560.5 833.9h1v1h-1zM560.5 831.6h1v1h-1zM562.1 833.8h1v1h-1zM560.5 831.4h1v1h-1z" fill="#b8e040"/>
<path d="M560.7 832.7h1v1h-1zM561.1 834.3h1v1h-1zM561.9 832.7h1v1h-1zM560.7 833.3h1v1h-1zM560.7 833.0h1v1h-1zM561.7 831.3h1v1h-1zM561.9 832.8h1v1h-1zM561.2 831.5h1v1h-1zM561.3 834.0h1v1h-1zM561.4 831.2h1v1h-1zM561.0 834.4h1v1h-1zM560.9 833.7h1v1h-1z" fill="#f08020"/>
<path d="M561.1 831.9h1v1h-1zM561.1 832.1h1v1h-1zM561.1 832.4h1v1h-1zM561.1 832.2h1v1h-1z" fill="#e02020"/>
<path d="M566.9 803.1h0.75v0.75h-0.75zM569.4 813.7h0.75v0.75h-0.75zM562.4 831.1h0.75v0.75h-0.75zM563.0 813.1h0.75v0.75h-0.75zM563.6 825.5h0.75v0.75h-0.75zM562.7 809.5h0.75v0.75h-0.75zM564.3 798.6h0.75v0.75h-0.75zM564.6 805.8h0.75v0.75h-0.75zM567.6 830.4h0.75v0.75h-0.75zM569.9 815.9h0.75v0.75h-0.75zM561.9 812.0h0.75v0.75h-0.75zM565.3 802.3h0.75v0.75h-0.75zM564.6 810.6h0.75v0.75h-0.75zM571.5 801.5h0.75v0.75h-0.75zM562.8 809.7h0.75v0.75h-0.75zM571.0 832.3h0.75v0.75h-0.75zM568.6 832.7h0.75v0.75h-0.75zM569.5 833.6h0.75v0.75h-0.75zM568.0 834.6h0.75v0.75h-0.75zM567.1 836.6h0.75v0.75h-0.75zM563.1 834.8h0.75v0.75h-0.75zM565.0 830.7h0.75v0.75h-0.75zM571.1 833.8h0.75v0.75h-0.75zM561.1 834.8h0.75v0.75h-0.75zM562.1 837.1h0.75v0.75h-0.75zM581.9 836.5h0.75v0.75h-0.75zM565.5 836.4h0.75v0.75h-0.75zM566.0 833.3h0.75v0.75h-0.75zM564.3 834.5h0.75v0.75h-0.75zM576.3 835.8h0.75v0.75h-0.75zM573.7 834.0h0.75v0.75h-0.75zM572.2 833.7h0.75v0.75h-0.75zM568.5 833.3h0.75v0.75h-0.75zM572.9 832.6h0.75v0.75h-0.75zM574.1 834.1h0.75v0.75h-0.75zM583.1 835.0h0.75v0.75h-0.75zM574.5 830.1h0.75v0.75h-0.75zM581.9 830.5h0.75v0.75h-0.75zM560.4 830.4h0.75v0.75h-0.75zM560.8 832.5h0.75v0.75h-0.75zM563.9 836.0h0.75v0.75h-0.75zM580.2 833.6h0.75v0.75h-0.75zM573.9 836.3h0.75v0.75h-0.75zM562.9 830.6h0.75v0.75h-0.75zM560.6 831.7h0.75v0.75h-0.75zM576.6 836.6h0.75v0.75h-0.75zM560.6 830.3h0.75v0.75h-0.75zM579.7 836.3h0.75v0.75h-0.75zM577.7 835.0h0.75v0.75h-0.75zM560.1 832.8h0.75v0.75h-0.75zM561.7 830.4h0.75v0.75h-0.75zM570.3 836.0h0.75v0.75h-0.75zM567.7 834.6h0.75v0.75h-0.75zM571.8 833.9h0.75v0.75h-0.75zM577.5 836.2h0.75v0.75h-0.75zM569.5 834.3h0.75v0.75h-0.75zM567.7 832.5h0.75v0.75h-0.75zM564.9 830.8h0.75v0.75h-0.75z" fill="#8088c8"/>
<path d="M563.4 821.0h0.75v0.75h-0.75zM570.3 807.2h0.75v0.75h-0.75zM563.0 813.1h0.75v0.75h-0.75zM559.7 828.8h0.75v0.75h-0.75zM566.3 828.3h0.75v0.75h-0.75zM565.7 816.5h0.75v0.75h-0.75zM559.6 818.6h0.75v0.75h-0.75zM565.0 808.8h0.75v0.75h-0.75zM560.2 804.2h0.75v0.75h-0.75zM559.1 802.6h0.75v0.75h-0.75zM578.0 827.9h0.75v0.75h-0.75zM562.0 801.5h0.75v0.75h-0.75zM566.7 814.1h0.75v0.75h-0.75zM561.4 831.9h0.75v0.75h-0.75zM562.8 808.5h0.75v0.75h-0.75zM564.4 809.6h0.75v0.75h-0.75zM561.5 801.8h0.75v0.75h-0.75zM561.4 814.0h0.75v0.75h-0.75zM566.5 809.7h0.75v0.75h-0.75zM563.5 825.0h0.75v0.75h-0.75zM561.2 822.1h0.75v0.75h-0.75zM561.8 809.3h0.75v0.75h-0.75zM564.6 815.9h0.75v0.75h-0.75zM574.7 833.0h0.75v0.75h-0.75zM559.6 831.1h0.75v0.75h-0.75zM563.4 804.9h0.75v0.75h-0.75zM561.9 831.7h0.75v0.75h-0.75zM576.5 813.7h0.75v0.75h-0.75zM562.3 817.3h0.75v0.75h-0.75zM562.5 798.4h0.75v0.75h-0.75zM560.9 813.5h0.75v0.75h-0.75zM561.6 832.9h0.75v0.75h-0.75zM562.3 798.5h0.75v0.75h-0.75zM563.7 813.9h0.75v0.75h-0.75zM560.4 810.6h0.75v0.75h-0.75zM562.0 819.2h0.75v0.75h-0.75zM564.6 804.7h0.75v0.75h-0.75zM565.7 801.6h0.75v0.75h-0.75zM565.4 817.7h0.75v0.75h-0.75zM561.6 820.7h0.75v0.75h-0.75zM561.7 800.9h0.75v0.75h-0.75zM562.2 816.2h0.75v0.75h-0.75zM565.8 826.1h0.75v0.75h-0.75zM567.0 814.5h0.75v0.75h-0.75zM561.4 805.1h0.75v0.75h-0.75zM559.7 817.9h0.75v0.75h-0.75zM564.1 830.7h0.75v0.75h-0.75zM561.7 817.5h0.75v0.75h-0.75zM566.3 813.4h0.75v0.75h-0.75zM561.7 818.8h0.75v0.75h-0.75zM569.6 810.1h0.75v0.75h-0.75zM563.0 810.6h0.75v0.75h-0.75zM563.1 837.4h0.75v0.75h-0.75zM560.6 834.5h0.75v0.75h-0.75zM561.2 834.9h0.75v0.75h-0.75zM569.7 835.9h0.75v0.75h-0.75zM568.1 833.7h0.75v0.75h-0.75zM563.2 834.3h0.75v0.75h-0.75zM564.7 834.8h0.75v0.75h-0.75zM561.8 835.0h0.75v0.75h-0.75zM560.2 833.0h0.75v0.75h-0.75zM575.4 840.4h0.75v0.75h-0.75zM563.5 831.0h0.75v0.75h-0.75zM577.9 831.2h0.75v0.75h-0.75zM561.1 828.4h0.75v0.75h-0.75zM565.1 832.6h0.75v0.75h-0.75zM569.2 830.5h0.75v0.75h-0.75zM568.3 833.7h0.75v0.75h-0.75zM574.6 834.2h0.75v0.75h-0.75zM573.4 829.9h0.75v0.75h-0.75zM563.6 833.2h0.75v0.75h-0.75zM566.9 835.7h0.75v0.75h-0.75zM563.6 833.5h0.75v0.75h-0.75zM573.5 830.9h0.75v0.75h-0.75zM565.0 834.1h0.75v0.75h-0.75zM571.3 837.5h0.75v0.75h-0.75zM563.5 835.8h0.75v0.75h-0.75zM577.3 837.1h0.75v0.75h-0.75zM573.9 838.5h0.75v0.75h-0.75zM568.9 831.0h0.75v0.75h-0.75zM568.8 836.1h0.75v0.75h-0.75zM587.9 834.5h0.75v0.75h-0.75zM564.1 835.3h0.75v0.75h-0.75zM570.3 837.2h0.75v0.75h-0.75zM573.9 837.9h0.75v0.75h-0.75zM565.7 834.2h0.75v0.75h-0.75zM569.1 836.4h0.75v0.75h-0.75zM570.6 832.1h0.75v0.75h-0.75zM561.5 831.0h0.75v0.75h-0.75zM571.7 835.2h0.75v0.75h-0.75zM562.1 833.2h0.75v0.75h-0.75zM561.9 832.2h0.75v0.75h-0.75zM563.1 833.1h0.75v0.75h-0.75zM565.7 834.8h0.75v0.75h-0.75zM570.5 834.0h0.75v0.75h-0.75zM565.1 833.1h0.75v0.75h-0.75zM567.4 836.0h0.75v0.75h-0.75zM563.8 831.4h0.75v0.75h-0.75zM569.9 831.5h0.75v0.75h-0.75zM561.8 829.5h0.75v0.75h-0.75zM572.5 833.5h0.75v0.75h-0.75zM560.1 835.0h0.75v0.75h-0.75zM569.5 832.2h0.75v0.75h-0.75zM560.2 834.3h0.75v0.75h-0.75zM561.8 834.2h0.75v0.75h-0.75zM564.5 834.4h0.75v0.75h-0.75zM568.5 833.0h0.75v0.75h-0.75zM561.2 832.5h0.75v0.75h-0.75zM578.4 828.1h0.75v0.75h-0.75zM564.4 834.5h0.75v0.75h-0.75zM563.3 833.5h0.75v0.75h-0.75zM576.1 831.5h0.75v0.75h-0.75zM575.7 833.3h0.75v0.75h-0.75zM571.9 832.6h0.75v0.75h-0.75zM565.2 833.2h0.75v0.75h-0.75zM561.6 837.8h0.75v0.75h-0.75zM570.1 831.9h0.75v0.75h-0.75zM561.8 836.2h0.75v0.75h-0.75zM566.6 834.8h0.75v0.75h-0.75zM565.2 832.3h0.75v0.75h-0.75zM568.6 830.8h0.75v0.75h-0.75zM561.3 837.4h0.75v0.75h-0.75zM561.8 829.9h0.75v0.75h-0.75zM565.3 831.8h0.75v0.75h-0.75zM563.3 837.1h0.75v0.75h-0.75zM575.5 833.6h0.75v0.75h-0.75zM562.2 833.0h0.75v0.75h-0.75zM563.2 834.7h0.75v0.75h-0.75zM576.1 834.8h0.75v0.75h-0.75zM584.0 837.6h0.75v0.75h-0.75z" fill="#6a70b8"/>
<text x="539.7" y="761.3" font-size="4.6" fill="#333" font-weight="normal" text-anchor="start" stroke="#333" stroke-width="0.06">Q1</text>
<text x="539.7" y="768.5" font-size="4.6" fill="#333" font-weight="normal" text-anchor="start" stroke="#333" stroke-width="0.06">9.08</text>
<text x="627" y="761.3" font-size="4.6" fill="#333" font-weight="normal" text-anchor="end" stroke="#333" stroke-width="0.06">Q2</text>
<text x="627" y="768.5" font-size="4.6" fill="#333" font-weight="normal" text-anchor="end" stroke="#333" stroke-width="0.06">12.3</text>
<text x="627" y="841.7" font-size="4.6" fill="#333" font-weight="normal" text-anchor="end" stroke="#333" stroke-width="0.06">Q3</text>
<text x="627" y="848.5" font-size="4.6" fill="#333" font-weight="normal" text-anchor="end" stroke="#333" stroke-width="0.06">37.7</text>
<text x="539.7" y="841.7" font-size="4.6" fill="#333" font-weight="normal" text-anchor="start" stroke="#333" stroke-width="0.06">Q4</text>
<text x="539.7" y="848.5" font-size="4.6" fill="#333" font-weight="normal" text-anchor="start" stroke="#333" stroke-width="0.06">40.9</text>
<text x="542.2" y="779.7" font-size="6.3" fill="#f52a2a" font-weight="normal" text-anchor="start" stroke="#f52a2a" stroke-width="0.28">CD8+</text>
<text x="542.2" y="786.7" font-size="6.3" fill="#f52a2a" font-weight="normal" text-anchor="start" stroke="#f52a2a" stroke-width="0.28">Tem</text>
<text x="593" y="779.7" font-size="6.3" fill="#f52a2a" font-weight="normal" text-anchor="start" stroke="#f52a2a" stroke-width="0.28">CD8+</text>
<text x="593" y="786.7" font-size="6.3" fill="#f52a2a" font-weight="normal" text-anchor="start" stroke="#f52a2a" stroke-width="0.28">Tcm</text>
<text x="541.5" y="835.8" font-size="6.3" fill="#f52a2a" font-weight="normal" text-anchor="start" stroke="#f52a2a" stroke-width="0.28">CD8+</text>
<text x="541.5" y="842.8" font-size="6.3" fill="#f52a2a" font-weight="normal" text-anchor="start" stroke="#f52a2a" stroke-width="0.28">Teff</text>
<text x="593.5" y="835.4" font-size="6.3" fill="#f52a2a" font-weight="normal" text-anchor="start" stroke="#f52a2a" stroke-width="0.28">CD8+</text>
<text x="593.5" y="842.4" font-size="6.3" fill="#f52a2a" font-weight="normal" text-anchor="start" stroke="#f52a2a" stroke-width="0.28">Tnaiv</text>
<text x="107.2" y="939.65" font-size="4.95" fill="#333" text-anchor="middle" transform="rotate(-90 107.2 939.65)">Comp-PE-Cy7-A :: CD45RO</text>
<path d="M117.8,897.65H120.8M117.8,921.3H120.8M117.8,950.33H120.8M117.8,968.37H120.8M117.8,986.52H120.8M125.13,991.5V994.5M143.56,991.5V994.5M160.27,991.5V994.5M188.57,991.5V994.5M211.63,991.5V994.5" stroke="#222" stroke-width="1" fill="none"/>
<path d="M119.1,914.18H120.8M119.1,910.01H120.8M119.1,907.06H120.8M119.1,904.77H120.8M119.1,902.9H120.8M119.1,901.31H120.8M119.1,899.94H120.8M119.1,898.73H120.8M119.1,941.59H120.8M119.1,936.48H120.8M119.1,932.85H120.8M119.1,930.04H120.8M119.1,927.74H120.8M119.1,925.79H120.8M119.1,924.11H120.8M119.1,922.62H120.8M119.1,955.74H120.8M119.1,959.35H120.8M119.1,962.06H120.8M119.1,964.77H120.8M119.1,974.73H120.8M119.1,979.26H120.8M119.1,982.89H120.8M195.51,991.5V993.2M199.57,991.5V993.2M202.45,991.5V993.2M204.69,991.5V993.2M206.52,991.5V993.2M208.06,991.5V993.2M209.4,991.5V993.2M210.58,991.5V993.2M168.79,991.5V993.2M173.78,991.5V993.2M177.31,991.5V993.2M180.05,991.5V993.2M182.29,991.5V993.2M184.19,991.5V993.2M185.83,991.5V993.2M187.28,991.5V993.2M147.74,991.5V993.2M151.08,991.5V993.2M153.59,991.5V993.2M156.1,991.5V993.2M158.27,991.5V993.2M128.82,991.5V993.2M133.42,991.5V993.2M137.11,991.5V993.2M139.87,991.5V993.2" stroke="#444" stroke-width="0.65" fill="none"/>
<rect x="118.4" y="965.97" width="2.4" height="4.8" fill="#111"/>
<rect x="140.96" y="991.5" width="4.8" height="2.3" fill="#111"/>
<text x="116.1" y="899.75" font-size="4.5" fill="#2a2a2a" font-weight="normal" text-anchor="end">10<tspan font-size="3.7" dx="0.6" dy="-2.8">5</tspan></text>
<text x="116.1" y="923.4" font-size="4.5" fill="#2a2a2a" font-weight="normal" text-anchor="end">10<tspan font-size="3.7" dx="0.6" dy="-2.8">4</tspan></text>
<text x="116.1" y="952.43" font-size="4.5" fill="#2a2a2a" font-weight="normal" text-anchor="end">10<tspan font-size="3.7" dx="0.6" dy="-2.8">3</tspan></text>
<text x="114" y="970.77" font-size="4.5" fill="#2a2a2a" font-weight="normal" text-anchor="end">0</text>
<text x="116.1" y="988.62" font-size="4.5" fill="#2a2a2a" font-weight="normal" text-anchor="end">-10<tspan font-size="3.7" dx="0.6" dy="-2.8">3</tspan></text>
<text x="126.83" y="1004.3" font-size="4.5" fill="#2a2a2a" font-weight="normal" text-anchor="middle">-10<tspan font-size="3.7" dx="0.6" dy="-3.0">3</tspan></text>
<text x="143.56" y="1004.3" font-size="4.5" fill="#2a2a2a" font-weight="normal" text-anchor="middle">0</text>
<text x="161.97" y="1004.3" font-size="4.5" fill="#2a2a2a" font-weight="normal" text-anchor="middle">10<tspan font-size="3.7" dx="0.6" dy="-3.0">3</tspan></text>
<text x="190.27" y="1004.3" font-size="4.5" fill="#2a2a2a" font-weight="normal" text-anchor="middle">10<tspan font-size="3.7" dx="0.6" dy="-3.0">4</tspan></text>
<text x="213.33" y="1004.3" font-size="4.5" fill="#2a2a2a" font-weight="normal" text-anchor="middle">10<tspan font-size="3.7" dx="0.6" dy="-3.0">5</tspan></text>
<rect x="120.8" y="887.8" width="100.7" height="103.7" fill="none" stroke="#7c7c7c" stroke-width="1.1"/>
<line x1="144.7" y1="887.8" x2="144.7" y2="991.5" stroke="#444" stroke-width="1.3"/>
<line x1="120.8" y1="960.7" x2="221.5" y2="960.7" stroke="#444" stroke-width="1.3"/>
<path d="M144.3 949.2h0.75v0.75h-0.75zM142.1 938.7h0.75v0.75h-0.75zM144.3 958.0h0.75v0.75h-0.75zM142.5 944.6h0.75v0.75h-0.75zM143.7 947.1h0.75v0.75h-0.75zM143.3 936.3h0.75v0.75h-0.75zM144.4 936.1h0.75v0.75h-0.75zM143.1 947.2h0.75v0.75h-0.75zM144.0 965.9h0.75v0.75h-0.75zM145.2 954.9h0.75v0.75h-0.75zM145.2 934.0h0.75v0.75h-0.75zM142.4 947.8h0.75v0.75h-0.75zM142.9 943.9h0.75v0.75h-0.75zM142.6 948.7h0.75v0.75h-0.75zM143.3 951.1h0.75v0.75h-0.75zM143.4 947.4h0.75v0.75h-0.75zM143.7 943.2h0.75v0.75h-0.75zM145.1 934.9h0.75v0.75h-0.75zM142.8 960.9h0.75v0.75h-0.75zM143.0 930.1h0.75v0.75h-0.75zM144.3 951.7h0.75v0.75h-0.75zM142.3 943.6h0.75v0.75h-0.75zM144.4 965.1h0.75v0.75h-0.75z" fill="#2a3aa6"/>
<path d="M146.9 929.9h0.75v0.75h-0.75zM149.0 957.1h0.75v0.75h-0.75zM147.1 932.1h0.75v0.75h-0.75zM145.9 929.1h0.75v0.75h-0.75zM153.3 935.9h0.75v0.75h-0.75zM144.7 935.7h0.75v0.75h-0.75zM152.9 964.6h0.75v0.75h-0.75zM146.5 954.6h0.75v0.75h-0.75zM145.4 937.9h0.75v0.75h-0.75zM148.1 950.0h0.75v0.75h-0.75zM151.0 966.2h0.75v0.75h-0.75zM144.3 967.3h0.75v0.75h-0.75zM150.2 965.9h0.75v0.75h-0.75zM149.3 967.8h0.75v0.75h-0.75zM150.5 968.5h0.75v0.75h-0.75zM143.6 968.3h0.75v0.75h-0.75zM153.0 968.0h0.75v0.75h-0.75zM149.2 968.0h0.75v0.75h-0.75zM142.8 966.5h0.75v0.75h-0.75zM152.3 962.1h0.75v0.75h-0.75zM161.4 967.7h0.75v0.75h-0.75zM151.4 969.1h0.75v0.75h-0.75zM153.0 964.7h0.75v0.75h-0.75zM146.7 965.5h0.75v0.75h-0.75zM143.7 966.6h0.75v0.75h-0.75zM149.6 964.4h0.75v0.75h-0.75zM142.5 969.0h0.75v0.75h-0.75zM144.5 966.8h0.75v0.75h-0.75zM151.7 965.5h0.75v0.75h-0.75z" fill="#8088c8"/>
<path d="M143.8 932.8h0.75v0.75h-0.75zM146.1 953.7h0.75v0.75h-0.75zM142.4 962.7h0.75v0.75h-0.75zM143.9 964.9h0.75v0.75h-0.75zM145.1 957.8h0.75v0.75h-0.75zM142.7 942.1h0.75v0.75h-0.75zM144.9 938.0h0.75v0.75h-0.75zM150.9 960.1h0.75v0.75h-0.75zM145.2 933.7h0.75v0.75h-0.75zM147.7 939.4h0.75v0.75h-0.75zM144.1 944.1h0.75v0.75h-0.75zM142.4 953.0h0.75v0.75h-0.75zM146.5 959.9h0.75v0.75h-0.75zM144.4 939.6h0.75v0.75h-0.75zM148.0 961.6h0.75v0.75h-0.75zM141.8 931.5h0.75v0.75h-0.75zM148.8 964.9h0.75v0.75h-0.75zM145.3 937.4h0.75v0.75h-0.75zM149.2 928.8h0.75v0.75h-0.75zM146.0 926.4h0.75v0.75h-0.75zM148.0 933.9h0.75v0.75h-0.75zM149.3 927.1h0.75v0.75h-0.75zM144.3 956.1h0.75v0.75h-0.75zM145.4 945.9h0.75v0.75h-0.75zM141.5 952.8h0.75v0.75h-0.75zM153.3 964.3h0.75v0.75h-0.75zM144.6 939.7h0.75v0.75h-0.75zM146.1 965.5h0.75v0.75h-0.75zM155.2 964.9h0.75v0.75h-0.75zM150.1 963.5h0.75v0.75h-0.75zM155.5 963.8h0.75v0.75h-0.75zM148.7 970.9h0.75v0.75h-0.75zM149.5 965.9h0.75v0.75h-0.75zM155.3 960.2h0.75v0.75h-0.75zM148.1 975.1h0.75v0.75h-0.75zM155.1 969.0h0.75v0.75h-0.75zM156.8 969.6h0.75v0.75h-0.75zM143.8 963.7h0.75v0.75h-0.75zM145.0 966.8h0.75v0.75h-0.75zM144.6 968.7h0.75v0.75h-0.75zM159.7 965.8h0.75v0.75h-0.75zM143.2 966.0h0.75v0.75h-0.75zM149.6 965.2h0.75v0.75h-0.75zM150.2 964.8h0.75v0.75h-0.75zM144.2 964.0h0.75v0.75h-0.75zM147.0 966.2h0.75v0.75h-0.75zM152.1 970.3h0.75v0.75h-0.75zM144.2 965.8h0.75v0.75h-0.75z" fill="#6a70b8"/>
<text x="122.4" y="897.6" font-size="4.6" fill="#333" font-weight="normal" text-anchor="start" stroke="#333" stroke-width="0.06">Q1</text>
<text x="122.4" y="904.8" font-size="4.6" fill="#333" font-weight="normal" text-anchor="start" stroke="#333" stroke-width="0.06">26.2</text>
<text x="213.3" y="897.6" font-size="4.6" fill="#333" font-weight="normal" text-anchor="end" stroke="#333" stroke-width="0.06">Q2</text>
<text x="213.3" y="904.8" font-size="4.6" fill="#333" font-weight="normal" text-anchor="end" stroke="#333" stroke-width="0.06">23.4</text>
<text x="213.3" y="978.7" font-size="4.6" fill="#333" font-weight="normal" text-anchor="end" stroke="#333" stroke-width="0.06">Q3</text>
<text x="213.3" y="985.5" font-size="4.6" fill="#333" font-weight="normal" text-anchor="end" stroke="#333" stroke-width="0.06">37.2</text>
<text x="122.4" y="978.7" font-size="4.6" fill="#333" font-weight="normal" text-anchor="start" stroke="#333" stroke-width="0.06">Q4</text>
<text x="122.4" y="985.5" font-size="4.6" fill="#333" font-weight="normal" text-anchor="start" stroke="#333" stroke-width="0.06">13.1</text>
<text x="124.9" y="917.9" font-size="6.3" fill="#f52a2a" font-weight="normal" text-anchor="start" stroke="#f52a2a" stroke-width="0.28">CD8+</text>
<text x="124.9" y="924.9" font-size="6.3" fill="#f52a2a" font-weight="normal" text-anchor="start" stroke="#f52a2a" stroke-width="0.28">Tem</text>
<text x="179.6" y="918.3" font-size="6.3" fill="#f52a2a" font-weight="normal" text-anchor="start" stroke="#f52a2a" stroke-width="0.28">CD8+</text>
<text x="179.6" y="925.3" font-size="6.3" fill="#f52a2a" font-weight="normal" text-anchor="start" stroke="#f52a2a" stroke-width="0.28">Tcm</text>
<text x="124.9" y="970.3" font-size="6.3" fill="#f52a2a" font-weight="normal" text-anchor="start" stroke="#f52a2a" stroke-width="0.28">CD8+</text>
<text x="124.9" y="977.3" font-size="6.3" fill="#f52a2a" font-weight="normal" text-anchor="start" stroke="#f52a2a" stroke-width="0.28">Teff</text>
<text x="179.4" y="968.7" font-size="6.3" fill="#f52a2a" font-weight="normal" text-anchor="start" stroke="#f52a2a" stroke-width="0.28">CD8+</text>
<text x="179.4" y="975.7" font-size="6.3" fill="#f52a2a" font-weight="normal" text-anchor="start" stroke="#f52a2a" stroke-width="0.28">Tnaiv</text>
<text x="245.6" y="939.85" font-size="4.95" fill="#333" text-anchor="middle" transform="rotate(-90 245.6 939.85)">Comp-PE-Cy7-A :: CD45RO</text>
<path d="M256.2,898.01H259.2M256.2,921.57H259.2M256.2,950.49H259.2M256.2,968.46H259.2M256.2,986.54H259.2M263.55,991.5V994.5M282.07,991.5V994.5M298.87,991.5V994.5M327.31,991.5V994.5M350.48,991.5V994.5" stroke="#222" stroke-width="1" fill="none"/>
<path d="M257.5,914.48H259.2M257.5,910.33H259.2M257.5,907.39H259.2M257.5,905.1H259.2M257.5,903.24H259.2M257.5,901.66H259.2M257.5,900.3H259.2M257.5,899.09H259.2M257.5,941.78H259.2M257.5,936.69H259.2M257.5,933.08H259.2M257.5,930.27H259.2M257.5,927.98H259.2M257.5,926.05H259.2M257.5,924.37H259.2M257.5,922.89H259.2M257.5,955.88H259.2M257.5,959.48H259.2M257.5,962.17H259.2M257.5,964.87H259.2M257.5,974.79H259.2M257.5,979.31H259.2M257.5,982.93H259.2M334.28,991.5V993.2M338.36,991.5V993.2M341.26,991.5V993.2M343.51,991.5V993.2M345.34,991.5V993.2M346.89,991.5V993.2M348.24,991.5V993.2M349.42,991.5V993.2M307.43,991.5V993.2M312.44,991.5V993.2M315.99,991.5V993.2M318.75,991.5V993.2M321,991.5V993.2M322.9,991.5V993.2M324.55,991.5V993.2M326.01,991.5V993.2M286.27,991.5V993.2M289.63,991.5V993.2M292.15,991.5V993.2M294.67,991.5V993.2M296.85,991.5V993.2M267.26,991.5V993.2M271.89,991.5V993.2M275.59,991.5V993.2M278.37,991.5V993.2" stroke="#444" stroke-width="0.65" fill="none"/>
<rect x="256.8" y="966.06" width="2.4" height="4.8" fill="#111"/>
<rect x="279.47" y="991.5" width="4.8" height="2.3" fill="#111"/>
<text x="254.5" y="900.11" font-size="4.5" fill="#2a2a2a" font-weight="normal" text-anchor="end">10<tspan font-size="3.7" dx="0.6" dy="-2.8">5</tspan></text>
<text x="254.5" y="923.67" font-size="4.5" fill="#2a2a2a" font-weight="normal" text-anchor="end">10<tspan font-size="3.7" dx="0.6" dy="-2.8">4</tspan></text>
<text x="254.5" y="952.59" font-size="4.5" fill="#2a2a2a" font-weight="normal" text-anchor="end">10<tspan font-size="3.7" dx="0.6" dy="-2.8">3</tspan></text>
<text x="252.4" y="970.86" font-size="4.5" fill="#2a2a2a" font-weight="normal" text-anchor="end">0</text>
<text x="254.5" y="988.64" font-size="4.5" fill="#2a2a2a" font-weight="normal" text-anchor="end">-10<tspan font-size="3.7" dx="0.6" dy="-2.8">3</tspan></text>
<text x="265.25" y="1004.3" font-size="4.5" fill="#2a2a2a" font-weight="normal" text-anchor="middle">-10<tspan font-size="3.7" dx="0.6" dy="-3.0">3</tspan></text>
<text x="282.07" y="1004.3" font-size="4.5" fill="#2a2a2a" font-weight="normal" text-anchor="middle">0</text>
<text x="300.57" y="1004.3" font-size="4.5" fill="#2a2a2a" font-weight="normal" text-anchor="middle">10<tspan font-size="3.7" dx="0.6" dy="-3.0">3</tspan></text>
<text x="329.01" y="1004.3" font-size="4.5" fill="#2a2a2a" font-weight="normal" text-anchor="middle">10<tspan font-size="3.7" dx="0.6" dy="-3.0">4</tspan></text>
<text x="352.18" y="1004.3" font-size="4.5" fill="#2a2a2a" font-weight="normal" text-anchor="middle">10<tspan font-size="3.7" dx="0.6" dy="-3.0">5</tspan></text>
<rect x="259.2" y="888.2" width="101.2" height="103.3" fill="none" stroke="#7c7c7c" stroke-width="1.1"/>
<line x1="283.8" y1="888.2" x2="283.8" y2="991.5" stroke="#444" stroke-width="1.3"/>
<line x1="259.2" y1="962.3" x2="360.4" y2="962.3" stroke="#444" stroke-width="1.3"/>
<path d="M280.8 937.4h0.75v0.75h-0.75zM282.9 964.9h0.75v0.75h-0.75zM282.1 932.6h0.75v0.75h-0.75zM280.4 936.2h0.75v0.75h-0.75zM283.4 955.5h0.75v0.75h-0.75zM284.1 954.9h0.75v0.75h-0.75zM282.3 961.6h0.75v0.75h-0.75zM283.0 932.9h0.75v0.75h-0.75zM282.2 937.1h0.75v0.75h-0.75zM282.3 956.6h0.75v0.75h-0.75zM283.4 928.4h0.75v0.75h-0.75zM283.3 930.7h0.75v0.75h-0.75zM283.1 937.5h0.75v0.75h-0.75zM281.1 939.6h0.75v0.75h-0.75zM281.8 954.2h0.75v0.75h-0.75zM283.3 949.9h0.75v0.75h-0.75zM285.1 944.3h0.75v0.75h-0.75zM283.1 966.6h0.75v0.75h-0.75zM285.2 940.2h0.75v0.75h-0.75zM283.2 945.5h0.75v0.75h-0.75zM283.3 953.2h0.75v0.75h-0.75zM283.7 946.7h0.75v0.75h-0.75zM282.0 950.6h0.75v0.75h-0.75zM282.1 937.8h0.75v0.75h-0.75zM281.3 949.8h0.75v0.75h-0.75zM283.5 945.7h0.75v0.75h-0.75z" fill="#2a3aa6"/>
<path d="M286.0 933.1h0.75v0.75h-0.75zM285.4 935.7h0.75v0.75h-0.75zM283.9 958.8h0.75v0.75h-0.75zM284.7 951.2h0.75v0.75h-0.75zM284.9 957.8h0.75v0.75h-0.75zM284.4 937.9h0.75v0.75h-0.75zM283.3 947.3h0.75v0.75h-0.75zM286.5 951.4h0.75v0.75h-0.75zM286.1 929.8h0.75v0.75h-0.75zM289.2 966.8h0.75v0.75h-0.75zM283.6 956.6h0.75v0.75h-0.75zM281.9 967.0h0.75v0.75h-0.75zM293.6 965.4h0.75v0.75h-0.75zM284.5 964.9h0.75v0.75h-0.75zM292.0 967.0h0.75v0.75h-0.75zM285.0 969.6h0.75v0.75h-0.75zM292.5 967.6h0.75v0.75h-0.75zM288.4 968.8h0.75v0.75h-0.75zM289.9 969.1h0.75v0.75h-0.75zM295.1 966.8h0.75v0.75h-0.75zM284.6 962.8h0.75v0.75h-0.75zM285.1 968.9h0.75v0.75h-0.75zM297.0 970.8h0.75v0.75h-0.75zM288.4 968.4h0.75v0.75h-0.75zM293.6 969.9h0.75v0.75h-0.75zM284.3 964.7h0.75v0.75h-0.75zM284.2 969.0h0.75v0.75h-0.75zM282.9 966.1h0.75v0.75h-0.75zM293.9 970.1h0.75v0.75h-0.75zM283.7 966.3h0.75v0.75h-0.75zM304.5 966.4h0.75v0.75h-0.75zM293.7 967.7h0.75v0.75h-0.75z" fill="#8088c8"/>
<path d="M284.7 962.5h0.75v0.75h-0.75zM282.5 960.5h0.75v0.75h-0.75zM289.8 938.4h0.75v0.75h-0.75zM283.4 950.6h0.75v0.75h-0.75zM283.3 935.8h0.75v0.75h-0.75zM284.3 962.4h0.75v0.75h-0.75zM283.3 934.5h0.75v0.75h-0.75zM290.1 948.0h0.75v0.75h-0.75zM283.9 928.5h0.75v0.75h-0.75zM286.2 935.7h0.75v0.75h-0.75zM295.7 953.2h0.75v0.75h-0.75zM284.0 938.9h0.75v0.75h-0.75zM287.4 957.0h0.75v0.75h-0.75zM281.7 938.3h0.75v0.75h-0.75zM283.4 955.3h0.75v0.75h-0.75zM281.9 951.2h0.75v0.75h-0.75zM280.3 941.3h0.75v0.75h-0.75zM286.6 952.6h0.75v0.75h-0.75zM283.6 931.5h0.75v0.75h-0.75zM285.1 951.9h0.75v0.75h-0.75zM283.3 944.7h0.75v0.75h-0.75zM282.5 938.5h0.75v0.75h-0.75zM283.3 946.2h0.75v0.75h-0.75zM288.5 967.2h0.75v0.75h-0.75zM281.7 970.1h0.75v0.75h-0.75zM292.3 964.8h0.75v0.75h-0.75zM282.7 963.6h0.75v0.75h-0.75zM287.2 967.7h0.75v0.75h-0.75zM286.5 972.7h0.75v0.75h-0.75zM285.0 966.3h0.75v0.75h-0.75zM290.8 969.9h0.75v0.75h-0.75zM281.5 967.9h0.75v0.75h-0.75zM282.5 970.5h0.75v0.75h-0.75zM283.2 965.6h0.75v0.75h-0.75zM294.0 968.8h0.75v0.75h-0.75zM291.2 967.0h0.75v0.75h-0.75zM284.3 969.3h0.75v0.75h-0.75zM285.2 967.6h0.75v0.75h-0.75zM286.3 968.7h0.75v0.75h-0.75zM288.7 966.1h0.75v0.75h-0.75zM287.8 967.8h0.75v0.75h-0.75zM283.7 967.8h0.75v0.75h-0.75zM285.2 970.2h0.75v0.75h-0.75zM292.2 970.2h0.75v0.75h-0.75zM283.0 968.6h0.75v0.75h-0.75zM290.2 965.7h0.75v0.75h-0.75zM286.8 962.3h0.75v0.75h-0.75zM287.3 961.7h0.75v0.75h-0.75zM287.4 971.1h0.75v0.75h-0.75zM281.8 969.1h0.75v0.75h-0.75zM283.4 969.5h0.75v0.75h-0.75zM300.8 970.5h0.75v0.75h-0.75z" fill="#6a70b8"/>
<text x="260.8" y="898" font-size="4.6" fill="#333" font-weight="normal" text-anchor="start" stroke="#333" stroke-width="0.06">Q1</text>
<text x="260.8" y="905.2" font-size="4.6" fill="#333" font-weight="normal" text-anchor="start" stroke="#333" stroke-width="0.06">27.4</text>
<text x="352.2" y="898" font-size="4.6" fill="#333" font-weight="normal" text-anchor="end" stroke="#333" stroke-width="0.06">Q2</text>
<text x="352.2" y="905.2" font-size="4.6" fill="#333" font-weight="normal" text-anchor="end" stroke="#333" stroke-width="0.06">22.6</text>
<text x="352.2" y="978.7" font-size="4.6" fill="#333" font-weight="normal" text-anchor="end" stroke="#333" stroke-width="0.06">Q3</text>
<text x="352.2" y="985.5" font-size="4.6" fill="#333" font-weight="normal" text-anchor="end" stroke="#333" stroke-width="0.06">37.6</text>
<text x="260.8" y="978.7" font-size="4.6" fill="#333" font-weight="normal" text-anchor="start" stroke="#333" stroke-width="0.06">Q4</text>
<text x="260.8" y="985.5" font-size="4.6" fill="#333" font-weight="normal" text-anchor="start" stroke="#333" stroke-width="0.06">12.4</text>
<text x="263.7" y="919.7" font-size="6.3" fill="#f52a2a" font-weight="normal" text-anchor="start" stroke="#f52a2a" stroke-width="0.28">CD8+</text>
<text x="263.7" y="926.7" font-size="6.3" fill="#f52a2a" font-weight="normal" text-anchor="start" stroke="#f52a2a" stroke-width="0.28">Tem</text>
<text x="318" y="917.9" font-size="6.3" fill="#f52a2a" font-weight="normal" text-anchor="start" stroke="#f52a2a" stroke-width="0.28">CD8+</text>
<text x="318" y="924.9" font-size="6.3" fill="#f52a2a" font-weight="normal" text-anchor="start" stroke="#f52a2a" stroke-width="0.28">Tcm</text>
<text x="263" y="971.7" font-size="6.3" fill="#f52a2a" font-weight="normal" text-anchor="start" stroke="#f52a2a" stroke-width="0.28">CD8+</text>
<text x="263" y="978.7" font-size="6.3" fill="#f52a2a" font-weight="normal" text-anchor="start" stroke="#f52a2a" stroke-width="0.28">Teff</text>
<text x="318" y="968.7" font-size="6.3" fill="#f52a2a" font-weight="normal" text-anchor="start" stroke="#f52a2a" stroke-width="0.28">CD8+</text>
<text x="318" y="975.7" font-size="6.3" fill="#f52a2a" font-weight="normal" text-anchor="start" stroke="#f52a2a" stroke-width="0.28">Tnaiv</text>
<text x="380.8" y="939" font-size="4.95" fill="#333" text-anchor="middle" transform="rotate(-90 380.8 939)">Comp-PE-Cy7-A :: CD45RO</text>
<path d="M391.4,897.37H394.4M391.4,920.8H394.4M391.4,949.59H394.4M391.4,967.48H394.4M391.4,985.47H394.4M398.52,990.4V993.4M416.03,990.4V993.4M431.91,990.4V993.4M458.81,990.4V993.4M480.72,990.4V993.4" stroke="#222" stroke-width="1" fill="none"/>
<path d="M392.7,913.75H394.4M392.7,909.62H394.4M392.7,906.69H394.4M392.7,904.42H394.4M392.7,902.57H394.4M392.7,901H394.4M392.7,899.64H394.4M392.7,898.44H394.4M392.7,940.92H394.4M392.7,935.85H394.4M392.7,932.26H394.4M392.7,929.47H394.4M392.7,927.19H394.4M392.7,925.26H394.4M392.7,923.59H394.4M392.7,922.12H394.4M392.7,954.95H394.4M392.7,958.53H394.4M392.7,961.22H394.4M392.7,963.9H394.4M392.7,973.77H394.4M392.7,978.27H394.4M392.7,981.87H394.4M465.4,990.4V992.1M469.26,990.4V992.1M472,990.4V992.1M474.12,990.4V992.1M475.86,990.4V992.1M477.33,990.4V992.1M478.6,990.4V992.1M479.72,990.4V992.1M440.01,990.4V992.1M444.75,990.4V992.1M448.1,990.4V992.1M450.71,990.4V992.1M452.84,990.4V992.1M454.64,990.4V992.1M456.2,990.4V992.1M457.58,990.4V992.1M420,990.4V992.1M423.18,990.4V992.1M425.56,990.4V992.1M427.94,990.4V992.1M430.01,990.4V992.1M402.02,990.4V992.1M406.4,990.4V992.1M409.9,990.4V992.1M412.53,990.4V992.1" stroke="#444" stroke-width="0.65" fill="none"/>
<rect x="392" y="965.08" width="2.4" height="4.8" fill="#111"/>
<rect x="413.43" y="990.4" width="4.8" height="2.3" fill="#111"/>
<text x="389.7" y="899.47" font-size="4.5" fill="#2a2a2a" font-weight="normal" text-anchor="end">10<tspan font-size="3.7" dx="0.6" dy="-2.8">5</tspan></text>
<text x="389.7" y="922.9" font-size="4.5" fill="#2a2a2a" font-weight="normal" text-anchor="end">10<tspan font-size="3.7" dx="0.6" dy="-2.8">4</tspan></text>
<text x="389.7" y="951.69" font-size="4.5" fill="#2a2a2a" font-weight="normal" text-anchor="end">10<tspan font-size="3.7" dx="0.6" dy="-2.8">3</tspan></text>
<text x="387.6" y="969.88" font-size="4.5" fill="#2a2a2a" font-weight="normal" text-anchor="end">0</text>
<text x="389.7" y="987.57" font-size="4.5" fill="#2a2a2a" font-weight="normal" text-anchor="end">-10<tspan font-size="3.7" dx="0.6" dy="-2.8">3</tspan></text>
<text x="400.22" y="1003.2" font-size="4.5" fill="#2a2a2a" font-weight="normal" text-anchor="middle">-10<tspan font-size="3.7" dx="0.6" dy="-3.0">3</tspan></text>
<text x="416.03" y="1003.2" font-size="4.5" fill="#2a2a2a" font-weight="normal" text-anchor="middle">0</text>
<text x="433.61" y="1003.2" font-size="4.5" fill="#2a2a2a" font-weight="normal" text-anchor="middle">10<tspan font-size="3.7" dx="0.6" dy="-3.0">3</tspan></text>
<text x="460.51" y="1003.2" font-size="4.5" fill="#2a2a2a" font-weight="normal" text-anchor="middle">10<tspan font-size="3.7" dx="0.6" dy="-3.0">4</tspan></text>
<text x="482.42" y="1003.2" font-size="4.5" fill="#2a2a2a" font-weight="normal" text-anchor="middle">10<tspan font-size="3.7" dx="0.6" dy="-3.0">5</tspan></text>
<rect x="394.4" y="887.6" width="95.7" height="102.8" fill="none" stroke="#7c7c7c" stroke-width="1.1"/>
<line x1="418.7" y1="887.6" x2="418.7" y2="990.4" stroke="#444" stroke-width="1.3"/>
<line x1="394.4" y1="960.3" x2="490.1" y2="960.3" stroke="#444" stroke-width="1.3"/>
<path d="M417.2 942.5h0.75v0.75h-0.75zM417.4 952.1h0.75v0.75h-0.75zM419.4 953.2h0.75v0.75h-0.75zM416.4 936.7h0.75v0.75h-0.75zM417.7 930.1h0.75v0.75h-0.75zM419.2 935.0h0.75v0.75h-0.75zM416.1 945.8h0.75v0.75h-0.75zM417.5 935.1h0.75v0.75h-0.75zM418.1 956.3h0.75v0.75h-0.75zM417.4 941.6h0.75v0.75h-0.75zM418.5 941.0h0.75v0.75h-0.75zM418.4 941.1h0.75v0.75h-0.75zM418.2 944.4h0.75v0.75h-0.75zM418.3 933.9h0.75v0.75h-0.75zM417.1 944.9h0.75v0.75h-0.75zM416.2 950.3h0.75v0.75h-0.75zM418.5 934.4h0.75v0.75h-0.75zM418.3 958.6h0.75v0.75h-0.75zM416.3 962.9h0.75v0.75h-0.75zM416.6 936.1h0.75v0.75h-0.75zM416.0 931.4h0.75v0.75h-0.75zM416.2 932.9h0.75v0.75h-0.75zM415.5 954.1h0.75v0.75h-0.75zM418.1 939.4h0.75v0.75h-0.75zM419.8 944.9h0.75v0.75h-0.75zM418.0 952.2h0.75v0.75h-0.75zM417.1 959.7h0.75v0.75h-0.75zM417.8 954.1h0.75v0.75h-0.75zM416.9 948.9h0.75v0.75h-0.75zM417.4 962.2h0.75v0.75h-0.75zM416.4 938.3h0.75v0.75h-0.75zM416.1 950.8h0.75v0.75h-0.75zM418.8 953.5h0.75v0.75h-0.75zM417.2 942.4h0.75v0.75h-0.75zM418.6 948.2h0.75v0.75h-0.75zM416.6 955.7h0.75v0.75h-0.75zM418.4 935.8h0.75v0.75h-0.75zM416.4 964.5h0.75v0.75h-0.75zM418.7 960.5h0.75v0.75h-0.75zM417.7 938.4h0.75v0.75h-0.75zM416.6 930.7h0.75v0.75h-0.75zM417.8 931.9h0.75v0.75h-0.75zM416.9 948.8h0.75v0.75h-0.75zM418.1 955.9h0.75v0.75h-0.75zM419.7 941.1h0.75v0.75h-0.75zM417.2 955.4h0.75v0.75h-0.75zM417.9 930.7h0.75v0.75h-0.75zM415.6 946.7h0.75v0.75h-0.75zM416.5 942.2h0.75v0.75h-0.75zM418.1 952.3h0.75v0.75h-0.75zM416.6 955.0h0.75v0.75h-0.75zM417.6 941.7h0.75v0.75h-0.75zM417.5 937.4h0.75v0.75h-0.75zM418.0 935.3h0.75v0.75h-0.75zM418.3 943.8h0.75v0.75h-0.75zM416.7 947.8h0.75v0.75h-0.75zM417.3 937.7h0.75v0.75h-0.75zM418.6 946.4h0.75v0.75h-0.75zM418.4 950.2h0.75v0.75h-0.75zM417.9 945.2h0.75v0.75h-0.75zM418.1 938.0h0.75v0.75h-0.75zM419.4 930.9h0.75v0.75h-0.75zM418.5 948.0h0.75v0.75h-0.75zM416.3 956.8h0.75v0.75h-0.75zM418.6 942.9h0.75v0.75h-0.75zM418.1 954.7h0.75v0.75h-0.75zM415.7 950.5h0.75v0.75h-0.75zM418.4 940.2h0.75v0.75h-0.75zM417.6 933.2h0.75v0.75h-0.75zM417.3 949.0h0.75v0.75h-0.75zM417.9 947.7h0.75v0.75h-0.75zM418.2 950.4h0.75v0.75h-0.75zM417.2 948.6h0.75v0.75h-0.75zM419.2 948.0h0.75v0.75h-0.75zM417.9 951.7h0.75v0.75h-0.75zM418.5 944.1h0.75v0.75h-0.75zM417.5 948.4h0.75v0.75h-0.75zM418.5 953.5h0.75v0.75h-0.75zM418.0 943.4h0.75v0.75h-0.75zM418.7 964.7h0.75v0.75h-0.75zM417.5 937.0h0.75v0.75h-0.75zM419.7 946.7h0.75v0.75h-0.75zM418.2 934.4h0.75v0.75h-0.75zM417.7 961.6h0.75v0.75h-0.75zM417.6 936.5h0.75v0.75h-0.75zM418.2 949.1h0.75v0.75h-0.75zM417.1 959.0h0.75v0.75h-0.75zM416.5 952.5h0.75v0.75h-0.75zM417.8 960.0h0.75v0.75h-0.75zM417.1 949.5h0.75v0.75h-0.75zM417.1 948.1h0.75v0.75h-0.75zM417.8 933.1h0.75v0.75h-0.75z" fill="#2a3aa6"/>
<path d="M419.9 968.7h1v1h-1zM418.4 962.7h1v1h-1zM417.8 962.5h1v1h-1zM418.8 970.3h1v1h-1zM416.2 972.1h1v1h-1zM420.9 966.7h1v1h-1zM420.1 966.4h1v1h-1zM414.4 967.4h1v1h-1zM419.0 961.1h1v1h-1zM420.6 968.2h1v1h-1zM413.9 962.7h1v1h-1zM421.3 963.6h1v1h-1zM413.5 964.1h1v1h-1zM415.1 964.6h1v1h-1zM421.4 965.0h1v1h-1zM416.2 962.6h1v1h-1zM414.2 967.2h1v1h-1zM418.2 971.1h1v1h-1zM415.2 968.4h1v1h-1zM417.0 962.1h1v1h-1zM420.6 965.4h1v1h-1zM420.6 963.6h1v1h-1zM416.8 971.0h1v1h-1zM413.7 966.3h1v1h-1zM419.6 963.1h1v1h-1zM418.8 970.8h1v1h-1zM416.7 963.0h1v1h-1zM421.3 971.4h1v1h-1zM419.7 963.5h1v1h-1zM418.1 958.6h1v1h-1zM417.2 962.5h1v1h-1zM415.1 966.6h1v1h-1zM419.8 962.5h1v1h-1zM415.6 964.2h1v1h-1zM416.2 970.3h1v1h-1zM420.1 969.0h1v1h-1zM419.1 970.2h1v1h-1zM416.6 961.6h1v1h-1zM415.3 969.2h1v1h-1zM416.7 970.9h1v1h-1zM418.8 971.4h1v1h-1zM416.1 961.7h1v1h-1zM415.6 964.2h1v1h-1zM420.3 965.8h1v1h-1zM416.2 961.4h1v1h-1zM419.5 972.1h1v1h-1zM417.7 971.4h1v1h-1zM418.2 962.3h1v1h-1zM421.6 965.5h1v1h-1zM421.8 962.5h1v1h-1zM418.1 971.0h1v1h-1z" fill="#4a64cc"/>
<path d="M417.7 963.6h1v1h-1zM415.4 966.4h1v1h-1zM415.9 965.3h1v1h-1zM419.5 967.0h1v1h-1zM419.6 965.8h1v1h-1zM415.4 967.4h1v1h-1zM419.0 968.8h1v1h-1zM419.4 967.5h1v1h-1zM415.9 969.5h1v1h-1zM416.8 969.8h1v1h-1zM418.6 969.6h1v1h-1zM415.7 964.4h1v1h-1zM419.4 965.0h1v1h-1zM416.3 964.5h1v1h-1zM419.5 964.7h1v1h-1zM419.9 967.2h1v1h-1zM419.6 965.9h1v1h-1zM419.4 968.4h1v1h-1zM417.4 969.9h1v1h-1zM416.0 964.2h1v1h-1zM419.4 967.8h1v1h-1z" fill="#30b8e0"/>
<path d="M416.7 969.4h1v1h-1zM416.6 964.3h1v1h-1zM418.9 965.5h1v1h-1zM416.5 964.3h1v1h-1zM418.3 968.9h1v1h-1zM417.1 964.5h1v1h-1zM416.1 966.1h1v1h-1zM416.1 967.6h1v1h-1zM416.2 965.3h1v1h-1zM416.0 967.9h1v1h-1zM416.9 969.5h1v1h-1zM418.9 968.8h1v1h-1zM416.4 964.5h1v1h-1zM418.0 963.8h1v1h-1zM417.2 969.6h1v1h-1zM419.1 966.4h1v1h-1zM417.6 969.8h1v1h-1zM416.8 964.6h1v1h-1zM417.2 964.0h1v1h-1zM419.4 966.4h1v1h-1zM417.2 969.4h1v1h-1z" fill="#40c070"/>
<path d="M417.2 964.8h1v1h-1zM418.8 965.9h1v1h-1zM416.4 967.1h1v1h-1zM416.5 967.9h1v1h-1zM416.6 965.7h1v1h-1zM416.6 968.3h1v1h-1zM417.6 969.1h1v1h-1zM417.7 964.6h1v1h-1zM416.2 966.9h1v1h-1zM416.9 968.3h1v1h-1zM416.5 966.5h1v1h-1zM416.6 965.7h1v1h-1zM417.9 969.0h1v1h-1zM416.9 965.2h1v1h-1zM418.4 967.8h1v1h-1zM416.5 966.5h1v1h-1zM417.5 965.1h1v1h-1zM418.6 966.3h1v1h-1zM416.6 965.9h1v1h-1z" fill="#b8e040"/>
<path d="M417.1 967.4h1v1h-1zM418.0 965.8h1v1h-1zM416.7 966.5h1v1h-1zM418.0 965.7h1v1h-1zM417.5 965.7h1v1h-1zM418.3 967.1h1v1h-1zM417.7 965.3h1v1h-1zM417.6 965.2h1v1h-1zM417.2 968.2h1v1h-1zM418.4 966.5h1v1h-1zM417.2 965.9h1v1h-1zM416.7 967.4h1v1h-1zM418.0 967.7h1v1h-1zM417.1 967.3h1v1h-1zM416.9 966.0h1v1h-1zM418.3 966.9h1v1h-1z" fill="#f08020"/>
<path d="M417.8 966.8h1v1h-1zM417.2 967.1h1v1h-1zM417.7 966.1h1v1h-1zM417.7 966.0h1v1h-1zM417.2 967.4h1v1h-1zM417.5 966.5h1v1h-1zM418.0 966.2h1v1h-1zM417.7 966.5h1v1h-1zM417.2 967.1h1v1h-1zM417.6 966.0h1v1h-1zM417.5 966.9h1v1h-1zM418.0 967.0h1v1h-1z" fill="#e02020"/>
<path d="M419.2 954.3h0.75v0.75h-0.75zM422.1 937.1h0.75v0.75h-0.75zM418.6 959.6h0.75v0.75h-0.75zM424.1 945.7h0.75v0.75h-0.75zM422.1 934.2h0.75v0.75h-0.75zM429.2 938.9h0.75v0.75h-0.75zM418.0 940.1h0.75v0.75h-0.75zM418.8 941.3h0.75v0.75h-0.75zM418.0 948.7h0.75v0.75h-0.75zM422.2 947.7h0.75v0.75h-0.75zM420.6 945.8h0.75v0.75h-0.75zM421.7 941.3h0.75v0.75h-0.75zM422.8 945.4h0.75v0.75h-0.75zM425.7 941.7h0.75v0.75h-0.75zM419.5 956.8h0.75v0.75h-0.75zM421.7 954.0h0.75v0.75h-0.75zM422.9 956.7h0.75v0.75h-0.75zM424.2 950.4h0.75v0.75h-0.75zM419.6 940.5h0.75v0.75h-0.75zM418.1 943.1h0.75v0.75h-0.75zM421.1 949.9h0.75v0.75h-0.75zM423.9 931.1h0.75v0.75h-0.75zM418.8 950.2h0.75v0.75h-0.75zM418.8 933.9h0.75v0.75h-0.75zM420.4 964.6h0.75v0.75h-0.75zM423.1 936.1h0.75v0.75h-0.75zM418.8 952.3h0.75v0.75h-0.75zM424.4 950.9h0.75v0.75h-0.75zM420.5 933.5h0.75v0.75h-0.75zM421.6 954.7h0.75v0.75h-0.75zM423.4 934.5h0.75v0.75h-0.75zM419.7 945.6h0.75v0.75h-0.75zM423.4 941.1h0.75v0.75h-0.75zM422.8 942.6h0.75v0.75h-0.75zM421.4 934.4h0.75v0.75h-0.75zM420.5 938.4h0.75v0.75h-0.75zM420.3 930.5h0.75v0.75h-0.75zM424.5 935.3h0.75v0.75h-0.75zM422.4 963.2h0.75v0.75h-0.75zM427.4 930.9h0.75v0.75h-0.75zM429.8 930.1h0.75v0.75h-0.75zM418.6 939.4h0.75v0.75h-0.75zM419.9 958.3h0.75v0.75h-0.75zM420.1 938.0h0.75v0.75h-0.75zM418.2 961.5h0.75v0.75h-0.75zM421.4 954.5h0.75v0.75h-0.75zM417.9 967.0h0.75v0.75h-0.75zM416.5 965.5h0.75v0.75h-0.75zM423.6 968.3h0.75v0.75h-0.75zM435.2 969.4h0.75v0.75h-0.75zM417.6 969.0h0.75v0.75h-0.75zM417.7 962.4h0.75v0.75h-0.75zM421.1 963.5h0.75v0.75h-0.75zM418.9 967.5h0.75v0.75h-0.75zM427.0 966.3h0.75v0.75h-0.75zM416.9 963.0h0.75v0.75h-0.75zM426.6 966.4h0.75v0.75h-0.75zM418.4 965.7h0.75v0.75h-0.75zM420.2 967.8h0.75v0.75h-0.75zM419.0 965.9h0.75v0.75h-0.75zM428.1 966.6h0.75v0.75h-0.75zM424.5 969.1h0.75v0.75h-0.75zM422.4 967.0h0.75v0.75h-0.75zM426.3 966.3h0.75v0.75h-0.75zM418.1 968.3h0.75v0.75h-0.75zM417.0 963.5h0.75v0.75h-0.75zM423.8 966.4h0.75v0.75h-0.75zM421.8 965.9h0.75v0.75h-0.75zM417.5 966.1h0.75v0.75h-0.75zM429.2 968.7h0.75v0.75h-0.75zM421.6 965.0h0.75v0.75h-0.75zM428.1 964.6h0.75v0.75h-0.75zM416.8 967.8h0.75v0.75h-0.75zM431.6 961.4h0.75v0.75h-0.75zM429.7 962.1h0.75v0.75h-0.75zM421.9 962.3h0.75v0.75h-0.75zM424.1 962.9h0.75v0.75h-0.75zM417.9 964.0h0.75v0.75h-0.75zM429.8 965.5h0.75v0.75h-0.75zM422.2 967.7h0.75v0.75h-0.75zM420.4 966.6h0.75v0.75h-0.75zM423.0 965.8h0.75v0.75h-0.75zM421.2 963.4h0.75v0.75h-0.75zM432.9 965.1h0.75v0.75h-0.75zM418.5 967.7h0.75v0.75h-0.75zM428.3 965.3h0.75v0.75h-0.75zM419.7 965.8h0.75v0.75h-0.75zM423.7 964.6h0.75v0.75h-0.75zM425.5 966.3h0.75v0.75h-0.75zM417.0 968.5h0.75v0.75h-0.75zM425.2 961.8h0.75v0.75h-0.75zM424.7 963.7h0.75v0.75h-0.75zM419.9 965.4h0.75v0.75h-0.75zM423.6 966.7h0.75v0.75h-0.75zM427.4 966.0h0.75v0.75h-0.75zM424.6 967.2h0.75v0.75h-0.75zM425.4 965.6h0.75v0.75h-0.75zM419.3 968.2h0.75v0.75h-0.75zM417.6 964.9h0.75v0.75h-0.75zM423.5 968.4h0.75v0.75h-0.75zM421.5 967.8h0.75v0.75h-0.75zM431.5 963.5h0.75v0.75h-0.75zM418.8 966.8h0.75v0.75h-0.75zM424.4 967.7h0.75v0.75h-0.75zM420.4 966.1h0.75v0.75h-0.75zM425.5 967.0h0.75v0.75h-0.75zM420.3 970.9h0.75v0.75h-0.75zM418.3 966.4h0.75v0.75h-0.75zM428.4 967.8h0.75v0.75h-0.75zM422.2 967.1h0.75v0.75h-0.75zM425.2 965.4h0.75v0.75h-0.75zM423.6 967.9h0.75v0.75h-0.75zM418.4 966.9h0.75v0.75h-0.75zM418.8 967.8h0.75v0.75h-0.75zM433.2 966.1h0.75v0.75h-0.75zM421.9 966.0h0.75v0.75h-0.75zM418.2 967.5h0.75v0.75h-0.75zM421.9 966.4h0.75v0.75h-0.75z" fill="#8088c8"/>
<path d="M418.8 949.1h0.75v0.75h-0.75zM417.9 945.1h0.75v0.75h-0.75zM424.3 961.1h0.75v0.75h-0.75zM417.6 934.2h0.75v0.75h-0.75zM422.8 948.1h0.75v0.75h-0.75zM418.4 948.0h0.75v0.75h-0.75zM420.6 962.6h0.75v0.75h-0.75zM422.5 952.7h0.75v0.75h-0.75zM419.0 932.2h0.75v0.75h-0.75zM423.2 950.1h0.75v0.75h-0.75zM422.1 963.4h0.75v0.75h-0.75zM415.2 933.4h0.75v0.75h-0.75zM418.9 959.7h0.75v0.75h-0.75zM418.6 959.1h0.75v0.75h-0.75zM416.5 948.4h0.75v0.75h-0.75zM425.4 948.0h0.75v0.75h-0.75zM426.1 956.8h0.75v0.75h-0.75zM421.1 933.8h0.75v0.75h-0.75zM417.3 938.8h0.75v0.75h-0.75zM422.3 931.0h0.75v0.75h-0.75zM417.2 934.0h0.75v0.75h-0.75zM416.0 964.8h0.75v0.75h-0.75zM418.9 930.5h0.75v0.75h-0.75zM418.1 962.3h0.75v0.75h-0.75zM421.4 935.9h0.75v0.75h-0.75zM417.8 961.5h0.75v0.75h-0.75zM416.4 945.0h0.75v0.75h-0.75zM418.0 937.4h0.75v0.75h-0.75zM420.5 931.3h0.75v0.75h-0.75zM417.9 964.9h0.75v0.75h-0.75zM421.8 955.3h0.75v0.75h-0.75zM422.2 939.7h0.75v0.75h-0.75zM420.0 952.6h0.75v0.75h-0.75zM421.7 962.4h0.75v0.75h-0.75zM418.1 940.3h0.75v0.75h-0.75zM417.1 960.7h0.75v0.75h-0.75zM421.8 940.1h0.75v0.75h-0.75zM420.3 930.6h0.75v0.75h-0.75zM420.2 933.4h0.75v0.75h-0.75zM419.8 957.5h0.75v0.75h-0.75zM422.1 932.3h0.75v0.75h-0.75zM419.2 939.8h0.75v0.75h-0.75zM418.1 958.2h0.75v0.75h-0.75zM420.1 931.3h0.75v0.75h-0.75zM420.6 941.5h0.75v0.75h-0.75zM419.3 959.9h0.75v0.75h-0.75zM418.6 930.3h0.75v0.75h-0.75zM417.6 949.6h0.75v0.75h-0.75zM417.2 935.6h0.75v0.75h-0.75zM418.1 960.1h0.75v0.75h-0.75zM420.1 947.5h0.75v0.75h-0.75zM418.4 956.7h0.75v0.75h-0.75zM422.4 945.4h0.75v0.75h-0.75zM420.3 947.6h0.75v0.75h-0.75zM419.7 944.8h0.75v0.75h-0.75zM418.3 932.5h0.75v0.75h-0.75zM417.9 930.5h0.75v0.75h-0.75zM418.0 949.2h0.75v0.75h-0.75zM422.6 961.0h0.75v0.75h-0.75zM425.4 938.6h0.75v0.75h-0.75zM417.0 964.8h0.75v0.75h-0.75zM422.3 946.0h0.75v0.75h-0.75zM422.3 964.8h0.75v0.75h-0.75zM418.0 960.6h0.75v0.75h-0.75zM426.3 937.8h0.75v0.75h-0.75zM419.1 942.3h0.75v0.75h-0.75zM418.9 958.4h0.75v0.75h-0.75zM417.1 942.6h0.75v0.75h-0.75zM423.1 936.3h0.75v0.75h-0.75zM420.3 938.3h0.75v0.75h-0.75zM424.9 936.0h0.75v0.75h-0.75zM419.2 934.9h0.75v0.75h-0.75zM425.5 962.4h0.75v0.75h-0.75zM417.6 936.6h0.75v0.75h-0.75zM417.9 939.6h0.75v0.75h-0.75zM420.1 938.4h0.75v0.75h-0.75zM417.8 941.3h0.75v0.75h-0.75zM417.8 949.0h0.75v0.75h-0.75zM420.9 965.3h0.75v0.75h-0.75zM418.2 950.6h0.75v0.75h-0.75zM420.5 960.9h0.75v0.75h-0.75zM415.9 949.1h0.75v0.75h-0.75zM417.9 943.9h0.75v0.75h-0.75zM418.7 961.0h0.75v0.75h-0.75zM418.8 955.9h0.75v0.75h-0.75zM418.7 950.8h0.75v0.75h-0.75zM417.9 945.1h0.75v0.75h-0.75zM419.2 947.9h0.75v0.75h-0.75zM419.6 946.1h0.75v0.75h-0.75zM426.2 950.8h0.75v0.75h-0.75zM418.1 936.2h0.75v0.75h-0.75zM416.4 959.8h0.75v0.75h-0.75zM418.3 952.6h0.75v0.75h-0.75zM419.2 955.2h0.75v0.75h-0.75zM425.4 930.3h0.75v0.75h-0.75zM420.1 950.3h0.75v0.75h-0.75zM420.0 962.4h0.75v0.75h-0.75zM420.9 931.7h0.75v0.75h-0.75zM416.0 940.8h0.75v0.75h-0.75zM416.6 935.7h0.75v0.75h-0.75zM419.5 933.7h0.75v0.75h-0.75zM418.5 946.2h0.75v0.75h-0.75zM418.2 942.4h0.75v0.75h-0.75zM419.0 959.7h0.75v0.75h-0.75zM425.2 939.1h0.75v0.75h-0.75zM418.7 959.5h0.75v0.75h-0.75zM418.0 950.1h0.75v0.75h-0.75zM423.1 947.8h0.75v0.75h-0.75zM418.2 943.5h0.75v0.75h-0.75zM418.4 938.7h0.75v0.75h-0.75zM417.9 956.4h0.75v0.75h-0.75zM419.7 961.7h0.75v0.75h-0.75zM417.3 958.3h0.75v0.75h-0.75zM418.5 956.4h0.75v0.75h-0.75zM420.0 938.8h0.75v0.75h-0.75zM420.3 942.0h0.75v0.75h-0.75zM417.1 952.9h0.75v0.75h-0.75zM418.3 962.9h0.75v0.75h-0.75zM422.5 950.1h0.75v0.75h-0.75zM418.3 933.7h0.75v0.75h-0.75zM417.9 964.3h0.75v0.75h-0.75zM420.8 947.2h0.75v0.75h-0.75zM422.8 964.9h0.75v0.75h-0.75zM416.9 963.2h0.75v0.75h-0.75zM418.2 962.6h0.75v0.75h-0.75zM433.6 967.9h0.75v0.75h-0.75zM424.2 964.0h0.75v0.75h-0.75zM416.7 962.8h0.75v0.75h-0.75zM421.2 965.6h0.75v0.75h-0.75zM417.9 967.2h0.75v0.75h-0.75zM422.3 967.4h0.75v0.75h-0.75zM423.9 969.0h0.75v0.75h-0.75zM421.1 968.0h0.75v0.75h-0.75zM419.2 966.8h0.75v0.75h-0.75zM425.6 959.7h0.75v0.75h-0.75zM426.2 962.1h0.75v0.75h-0.75zM416.9 967.6h0.75v0.75h-0.75zM427.1 965.3h0.75v0.75h-0.75zM425.1 965.1h0.75v0.75h-0.75zM418.0 967.1h0.75v0.75h-0.75zM422.3 963.3h0.75v0.75h-0.75zM424.2 964.6h0.75v0.75h-0.75zM416.6 967.3h0.75v0.75h-0.75zM422.2 961.9h0.75v0.75h-0.75zM427.3 963.6h0.75v0.75h-0.75zM422.1 964.2h0.75v0.75h-0.75zM422.2 967.9h0.75v0.75h-0.75zM420.2 968.7h0.75v0.75h-0.75zM420.5 965.5h0.75v0.75h-0.75zM417.9 964.3h0.75v0.75h-0.75zM421.1 966.5h0.75v0.75h-0.75zM421.3 965.7h0.75v0.75h-0.75zM427.6 962.9h0.75v0.75h-0.75zM421.9 966.1h0.75v0.75h-0.75zM419.6 963.0h0.75v0.75h-0.75zM418.9 968.4h0.75v0.75h-0.75zM418.4 965.6h0.75v0.75h-0.75zM420.6 965.1h0.75v0.75h-0.75zM423.7 967.6h0.75v0.75h-0.75zM419.4 967.2h0.75v0.75h-0.75zM418.4 967.9h0.75v0.75h-0.75zM425.9 970.4h0.75v0.75h-0.75zM421.6 964.7h0.75v0.75h-0.75zM424.5 968.7h0.75v0.75h-0.75zM425.3 966.6h0.75v0.75h-0.75zM417.3 967.9h0.75v0.75h-0.75zM421.9 963.0h0.75v0.75h-0.75zM422.2 964.2h0.75v0.75h-0.75zM416.7 966.5h0.75v0.75h-0.75zM423.2 966.8h0.75v0.75h-0.75zM417.0 968.2h0.75v0.75h-0.75zM420.7 964.6h0.75v0.75h-0.75zM432.3 965.3h0.75v0.75h-0.75zM419.1 966.6h0.75v0.75h-0.75zM431.8 962.7h0.75v0.75h-0.75zM429.4 960.9h0.75v0.75h-0.75zM426.0 958.0h0.75v0.75h-0.75zM417.2 967.5h0.75v0.75h-0.75zM419.6 969.6h0.75v0.75h-0.75zM421.2 968.4h0.75v0.75h-0.75zM417.5 968.8h0.75v0.75h-0.75zM417.7 967.3h0.75v0.75h-0.75zM417.9 962.4h0.75v0.75h-0.75zM421.8 965.2h0.75v0.75h-0.75zM426.3 964.8h0.75v0.75h-0.75zM428.8 966.5h0.75v0.75h-0.75zM419.7 964.5h0.75v0.75h-0.75zM421.1 961.1h0.75v0.75h-0.75zM421.0 965.8h0.75v0.75h-0.75zM416.8 968.6h0.75v0.75h-0.75zM419.5 966.0h0.75v0.75h-0.75zM420.1 965.0h0.75v0.75h-0.75zM420.8 964.3h0.75v0.75h-0.75zM422.5 966.0h0.75v0.75h-0.75zM422.2 966.2h0.75v0.75h-0.75zM419.7 964.8h0.75v0.75h-0.75zM420.2 964.4h0.75v0.75h-0.75zM422.1 967.4h0.75v0.75h-0.75zM424.7 964.8h0.75v0.75h-0.75zM425.5 966.2h0.75v0.75h-0.75zM418.4 959.1h0.75v0.75h-0.75zM429.7 961.1h0.75v0.75h-0.75zM426.0 966.3h0.75v0.75h-0.75zM420.5 968.6h0.75v0.75h-0.75zM422.6 960.9h0.75v0.75h-0.75zM425.9 971.4h0.75v0.75h-0.75zM419.4 967.1h0.75v0.75h-0.75zM423.1 968.6h0.75v0.75h-0.75zM416.6 968.1h0.75v0.75h-0.75zM419.9 962.1h0.75v0.75h-0.75zM416.3 964.7h0.75v0.75h-0.75zM421.3 963.9h0.75v0.75h-0.75zM421.9 966.6h0.75v0.75h-0.75zM425.2 963.5h0.75v0.75h-0.75zM426.2 965.5h0.75v0.75h-0.75zM422.7 966.0h0.75v0.75h-0.75zM423.7 967.6h0.75v0.75h-0.75zM420.1 963.8h0.75v0.75h-0.75zM418.5 964.9h0.75v0.75h-0.75zM424.2 969.3h0.75v0.75h-0.75z" fill="#6a70b8"/>
<text x="396" y="897.4" font-size="4.6" fill="#333" font-weight="normal" text-anchor="start" stroke="#333" stroke-width="0.06">Q1</text>
<text x="396" y="904.6" font-size="4.6" fill="#333" font-weight="normal" text-anchor="start" stroke="#333" stroke-width="0.06">11.4</text>
<text x="481.9" y="897.4" font-size="4.6" fill="#333" font-weight="normal" text-anchor="end" stroke="#333" stroke-width="0.06">Q2</text>
<text x="481.9" y="904.6" font-size="4.6" fill="#333" font-weight="normal" text-anchor="end" stroke="#333" stroke-width="0.06">13.0</text>
<text x="481.9" y="977.6" font-size="4.6" fill="#333" font-weight="normal" text-anchor="end" stroke="#333" stroke-width="0.06">Q3</text>
<text x="481.9" y="984.4" font-size="4.6" fill="#333" font-weight="normal" text-anchor="end" stroke="#333" stroke-width="0.06">43.1</text>
<text x="396" y="977.6" font-size="4.6" fill="#333" font-weight="normal" text-anchor="start" stroke="#333" stroke-width="0.06">Q4</text>
<text x="396" y="984.4" font-size="4.6" fill="#333" font-weight="normal" text-anchor="start" stroke="#333" stroke-width="0.06">32.4</text>
<text x="401.2" y="917.9" font-size="6.3" fill="#f52a2a" font-weight="normal" text-anchor="start" stroke="#f52a2a" stroke-width="0.28">CD8+</text>
<text x="401.2" y="924.9" font-size="6.3" fill="#f52a2a" font-weight="normal" text-anchor="start" stroke="#f52a2a" stroke-width="0.28">Tem</text>
<text x="453.4" y="917.9" font-size="6.3" fill="#f52a2a" font-weight="normal" text-anchor="start" stroke="#f52a2a" stroke-width="0.28">CD8+</text>
<text x="453.4" y="924.9" font-size="6.3" fill="#f52a2a" font-weight="normal" text-anchor="start" stroke="#f52a2a" stroke-width="0.28">Tcm</text>
<text x="401.2" y="970.3" font-size="6.3" fill="#f52a2a" font-weight="normal" text-anchor="start" stroke="#f52a2a" stroke-width="0.28">CD8+</text>
<text x="401.2" y="977.3" font-size="6.3" fill="#f52a2a" font-weight="normal" text-anchor="start" stroke="#f52a2a" stroke-width="0.28">Teff</text>
<text x="453.2" y="968.3" font-size="6.3" fill="#f52a2a" font-weight="normal" text-anchor="start" stroke="#f52a2a" stroke-width="0.28">CD8+</text>
<text x="453.2" y="975.3" font-size="6.3" fill="#f52a2a" font-weight="normal" text-anchor="start" stroke="#f52a2a" stroke-width="0.28">Tnaiv</text>
<text x="525.1" y="936.7" font-size="4.95" fill="#333" text-anchor="middle" transform="rotate(-90 525.1 936.7)">Comp-PE-Cy7-A :: CD45RO</text>
<path d="M535.7,894.74H538.7M535.7,918.36H538.7M535.7,947.37H538.7M535.7,965.4H538.7M535.7,983.53H538.7M542.9,988.5V991.5M560.76,988.5V991.5M576.96,988.5V991.5M604.38,988.5V991.5M626.74,988.5V991.5" stroke="#222" stroke-width="1" fill="none"/>
<path d="M537,911.25H538.7M537,907.09H538.7M537,904.14H538.7M537,901.85H538.7M537,899.98H538.7M537,898.4H538.7M537,897.03H538.7M537,895.82H538.7M537,938.64H538.7M537,933.53H538.7M537,929.91H538.7M537,927.1H538.7M537,924.8H538.7M537,922.86H538.7M537,921.17H538.7M537,919.69H538.7M537,952.78H538.7M537,956.38H538.7M537,959.09H538.7M537,961.79H538.7M537,971.74H538.7M537,976.28H538.7M537,979.9H538.7M611.11,988.5V990.2M615.05,988.5V990.2M617.84,988.5V990.2M620.01,988.5V990.2M621.78,988.5V990.2M623.27,988.5V990.2M624.57,988.5V990.2M625.71,988.5V990.2M585.22,988.5V990.2M590.04,988.5V990.2M593.47,988.5V990.2M596.13,988.5V990.2M598.3,988.5V990.2M600.14,988.5V990.2M601.73,988.5V990.2M603.13,988.5V990.2M564.81,988.5V990.2M568.05,988.5V990.2M570.48,988.5V990.2M572.91,988.5V990.2M575.02,988.5V990.2M546.47,988.5V990.2M550.93,988.5V990.2M554.51,988.5V990.2M557.19,988.5V990.2" stroke="#444" stroke-width="0.65" fill="none"/>
<rect x="536.3" y="963" width="2.4" height="4.8" fill="#111"/>
<rect x="558.16" y="988.5" width="4.8" height="2.3" fill="#111"/>
<text x="534" y="896.84" font-size="4.5" fill="#2a2a2a" font-weight="normal" text-anchor="end">10<tspan font-size="3.7" dx="0.6" dy="-2.8">5</tspan></text>
<text x="534" y="920.46" font-size="4.5" fill="#2a2a2a" font-weight="normal" text-anchor="end">10<tspan font-size="3.7" dx="0.6" dy="-2.8">4</tspan></text>
<text x="534" y="949.47" font-size="4.5" fill="#2a2a2a" font-weight="normal" text-anchor="end">10<tspan font-size="3.7" dx="0.6" dy="-2.8">3</tspan></text>
<text x="531.9" y="967.8" font-size="4.5" fill="#2a2a2a" font-weight="normal" text-anchor="end">0</text>
<text x="534" y="985.63" font-size="4.5" fill="#2a2a2a" font-weight="normal" text-anchor="end">-10<tspan font-size="3.7" dx="0.6" dy="-2.8">3</tspan></text>
<text x="544.6" y="1001.3" font-size="4.5" fill="#2a2a2a" font-weight="normal" text-anchor="middle">-10<tspan font-size="3.7" dx="0.6" dy="-3.0">3</tspan></text>
<text x="560.76" y="1001.3" font-size="4.5" fill="#2a2a2a" font-weight="normal" text-anchor="middle">0</text>
<text x="578.66" y="1001.3" font-size="4.5" fill="#2a2a2a" font-weight="normal" text-anchor="middle">10<tspan font-size="3.7" dx="0.6" dy="-3.0">3</tspan></text>
<text x="606.08" y="1001.3" font-size="4.5" fill="#2a2a2a" font-weight="normal" text-anchor="middle">10<tspan font-size="3.7" dx="0.6" dy="-3.0">4</tspan></text>
<text x="628.44" y="1001.3" font-size="4.5" fill="#2a2a2a" font-weight="normal" text-anchor="middle">10<tspan font-size="3.7" dx="0.6" dy="-3.0">5</tspan></text>
<rect x="538.7" y="884.9" width="97.6" height="103.6" fill="none" stroke="#7c7c7c" stroke-width="1.1"/>
<line x1="563" y1="884.9" x2="563" y2="988.5" stroke="#444" stroke-width="1.3"/>
<line x1="538.7" y1="961.6" x2="636.3" y2="961.6" stroke="#444" stroke-width="1.3"/>
<path d="M561.2 963.5h0.75v0.75h-0.75zM561.4 957.5h0.75v0.75h-0.75zM562.6 955.9h0.75v0.75h-0.75zM562.3 960.0h0.75v0.75h-0.75zM563.3 951.2h0.75v0.75h-0.75zM562.1 930.3h0.75v0.75h-0.75zM561.8 956.6h0.75v0.75h-0.75zM563.2 963.0h0.75v0.75h-0.75zM562.4 936.7h0.75v0.75h-0.75zM560.5 945.0h0.75v0.75h-0.75zM562.2 943.5h0.75v0.75h-0.75zM562.9 960.6h0.75v0.75h-0.75zM562.0 933.7h0.75v0.75h-0.75zM562.1 966.0h0.75v0.75h-0.75zM562.6 929.4h0.75v0.75h-0.75zM561.4 938.9h0.75v0.75h-0.75zM562.1 955.2h0.75v0.75h-0.75zM560.9 964.2h0.75v0.75h-0.75zM561.5 954.1h0.75v0.75h-0.75zM562.4 935.0h0.75v0.75h-0.75zM561.6 934.1h0.75v0.75h-0.75zM560.8 957.2h0.75v0.75h-0.75zM563.8 942.0h0.75v0.75h-0.75zM560.5 967.1h0.75v0.75h-0.75zM560.9 965.0h0.75v0.75h-0.75zM561.3 929.6h0.75v0.75h-0.75zM562.8 930.8h0.75v0.75h-0.75zM562.3 935.1h0.75v0.75h-0.75zM562.6 958.6h0.75v0.75h-0.75zM562.1 945.3h0.75v0.75h-0.75zM562.3 961.1h0.75v0.75h-0.75zM562.9 965.0h0.75v0.75h-0.75zM562.1 946.4h0.75v0.75h-0.75zM559.9 934.1h0.75v0.75h-0.75zM560.6 961.0h0.75v0.75h-0.75zM562.2 951.3h0.75v0.75h-0.75zM561.8 944.6h0.75v0.75h-0.75z" fill="#2a3aa6"/>
<path d="M560.3 963.8h1v1h-1zM563.7 969.4h1v1h-1zM562.9 971.0h1v1h-1zM563.4 974.1h1v1h-1zM563.7 972.2h1v1h-1zM563.3 959.2h1v1h-1zM561.4 972.4h1v1h-1zM561.4 962.0h1v1h-1zM562.9 962.3h1v1h-1zM562.5 972.7h1v1h-1zM562.1 961.9h1v1h-1zM561.4 970.5h1v1h-1zM562.7 970.4h1v1h-1zM561.7 961.5h1v1h-1zM563.9 967.8h1v1h-1zM563.3 963.1h1v1h-1zM560.1 963.4h1v1h-1zM563.3 970.5h1v1h-1zM562.5 962.1h1v1h-1zM560.4 962.3h1v1h-1zM561.8 961.4h1v1h-1zM563.6 964.7h1v1h-1zM560.6 960.5h1v1h-1zM560.3 968.9h1v1h-1zM564.1 964.3h1v1h-1zM564.1 970.2h1v1h-1zM562.4 962.0h1v1h-1zM562.6 972.5h1v1h-1zM564.7 964.9h1v1h-1zM562.8 959.2h1v1h-1zM562.3 971.9h1v1h-1zM563.5 968.1h1v1h-1zM559.5 959.3h1v1h-1zM559.5 968.9h1v1h-1zM563.6 963.7h1v1h-1zM560.9 973.4h1v1h-1z" fill="#4a64cc"/>
<path d="M560.4 966.5h1v1h-1zM561.4 962.2h1v1h-1zM561.3 962.9h1v1h-1zM563.0 964.1h1v1h-1zM561.1 962.9h1v1h-1zM561.9 962.4h1v1h-1zM562.0 970.3h1v1h-1zM560.5 966.1h1v1h-1zM562.8 968.9h1v1h-1zM561.0 969.3h1v1h-1zM562.8 962.9h1v1h-1zM563.2 968.2h1v1h-1zM563.0 969.0h1v1h-1zM563.3 967.6h1v1h-1zM562.9 963.9h1v1h-1zM560.4 967.7h1v1h-1zM560.9 962.9h1v1h-1zM561.3 969.5h1v1h-1zM563.4 965.8h1v1h-1zM562.0 962.6h1v1h-1z" fill="#30b8e0"/>
<path d="M562.5 968.5h1v1h-1zM562.1 963.0h1v1h-1zM562.9 967.8h1v1h-1zM560.6 966.4h1v1h-1zM562.4 968.6h1v1h-1zM561.8 963.4h1v1h-1zM562.7 964.4h1v1h-1z" fill="#40c070"/>
<path d="M562.3 968.4h1v1h-1zM562.8 965.8h1v1h-1zM562.7 966.9h1v1h-1zM562.5 967.7h1v1h-1zM562.0 964.0h1v1h-1zM562.1 963.7h1v1h-1zM561.3 964.2h1v1h-1zM561.2 965.6h1v1h-1zM561.1 965.5h1v1h-1zM562.7 964.7h1v1h-1zM561.7 968.0h1v1h-1zM562.9 965.4h1v1h-1z" fill="#b8e040"/>
<path d="M561.5 966.6h1v1h-1zM561.5 967.1h1v1h-1zM562.0 967.3h1v1h-1zM561.5 965.7h1v1h-1zM562.0 964.6h1v1h-1zM562.0 964.9h1v1h-1zM562.0 964.8h1v1h-1zM562.3 965.8h1v1h-1zM561.9 964.9h1v1h-1zM561.5 965.1h1v1h-1zM562.4 966.0h1v1h-1zM562.3 966.8h1v1h-1zM562.0 967.4h1v1h-1zM561.6 965.2h1v1h-1zM561.7 967.4h1v1h-1z" fill="#f08020"/>
<path d="M561.9 965.9h1v1h-1zM562.2 966.4h1v1h-1zM562.2 965.5h1v1h-1zM561.8 965.6h1v1h-1zM562.3 965.7h1v1h-1zM561.8 965.6h1v1h-1zM561.6 966.2h1v1h-1zM562.0 965.3h1v1h-1zM561.9 965.6h1v1h-1zM561.8 966.6h1v1h-1z" fill="#e02020"/>
<path d="M564.1 938.7h0.75v0.75h-0.75zM568.4 948.3h0.75v0.75h-0.75zM571.3 957.0h0.75v0.75h-0.75zM564.3 944.9h0.75v0.75h-0.75zM567.4 959.3h0.75v0.75h-0.75zM564.9 947.2h0.75v0.75h-0.75zM569.9 965.7h0.75v0.75h-0.75zM562.8 936.7h0.75v0.75h-0.75zM570.3 933.1h0.75v0.75h-0.75zM565.6 940.1h0.75v0.75h-0.75zM564.3 939.4h0.75v0.75h-0.75zM562.2 959.7h0.75v0.75h-0.75zM566.7 930.8h0.75v0.75h-0.75zM572.8 960.7h0.75v0.75h-0.75zM562.5 949.7h0.75v0.75h-0.75zM570.6 967.2h0.75v0.75h-0.75zM569.3 960.9h0.75v0.75h-0.75zM569.6 942.2h0.75v0.75h-0.75zM563.4 965.6h0.75v0.75h-0.75zM564.3 949.6h0.75v0.75h-0.75zM565.9 951.3h0.75v0.75h-0.75zM562.3 933.8h0.75v0.75h-0.75zM564.4 967.1h0.75v0.75h-0.75zM565.8 965.9h0.75v0.75h-0.75zM572.4 967.3h0.75v0.75h-0.75zM564.5 970.4h0.75v0.75h-0.75zM567.0 964.0h0.75v0.75h-0.75zM561.4 968.4h0.75v0.75h-0.75zM567.1 967.8h0.75v0.75h-0.75zM565.1 969.4h0.75v0.75h-0.75zM564.0 964.9h0.75v0.75h-0.75zM572.4 963.4h0.75v0.75h-0.75zM577.6 966.2h0.75v0.75h-0.75zM568.0 969.8h0.75v0.75h-0.75zM565.3 966.5h0.75v0.75h-0.75zM572.8 967.5h0.75v0.75h-0.75zM583.6 968.3h0.75v0.75h-0.75zM562.9 968.3h0.75v0.75h-0.75zM563.1 968.9h0.75v0.75h-0.75zM571.7 965.8h0.75v0.75h-0.75zM575.1 969.0h0.75v0.75h-0.75zM575.6 967.6h0.75v0.75h-0.75zM568.5 968.2h0.75v0.75h-0.75zM573.9 964.8h0.75v0.75h-0.75zM567.8 964.3h0.75v0.75h-0.75zM568.4 969.0h0.75v0.75h-0.75zM576.5 968.7h0.75v0.75h-0.75zM579.4 968.4h0.75v0.75h-0.75zM562.7 970.9h0.75v0.75h-0.75zM569.9 967.1h0.75v0.75h-0.75zM573.7 965.5h0.75v0.75h-0.75zM574.0 968.9h0.75v0.75h-0.75zM573.3 967.0h0.75v0.75h-0.75zM597.5 971.3h0.75v0.75h-0.75zM566.9 968.1h0.75v0.75h-0.75zM564.7 966.5h0.75v0.75h-0.75zM561.5 966.5h0.75v0.75h-0.75zM564.0 967.3h0.75v0.75h-0.75zM571.2 971.0h0.75v0.75h-0.75zM569.3 968.7h0.75v0.75h-0.75zM562.3 964.3h0.75v0.75h-0.75zM566.6 967.2h0.75v0.75h-0.75zM565.2 966.2h0.75v0.75h-0.75zM572.6 971.5h0.75v0.75h-0.75zM561.1 966.2h0.75v0.75h-0.75zM562.0 971.5h0.75v0.75h-0.75z" fill="#8088c8"/>
<path d="M560.6 943.0h0.75v0.75h-0.75zM563.4 956.5h0.75v0.75h-0.75zM560.2 960.9h0.75v0.75h-0.75zM574.4 961.0h0.75v0.75h-0.75zM562.7 941.5h0.75v0.75h-0.75zM564.2 961.7h0.75v0.75h-0.75zM561.0 932.1h0.75v0.75h-0.75zM561.1 960.0h0.75v0.75h-0.75zM561.8 945.4h0.75v0.75h-0.75zM564.9 945.9h0.75v0.75h-0.75zM563.2 962.8h0.75v0.75h-0.75zM562.0 962.6h0.75v0.75h-0.75zM565.1 960.7h0.75v0.75h-0.75zM561.5 930.1h0.75v0.75h-0.75zM568.5 946.7h0.75v0.75h-0.75zM562.8 938.8h0.75v0.75h-0.75zM562.4 945.3h0.75v0.75h-0.75zM565.6 956.9h0.75v0.75h-0.75zM571.3 932.0h0.75v0.75h-0.75zM572.4 964.6h0.75v0.75h-0.75zM565.5 938.1h0.75v0.75h-0.75zM561.2 948.3h0.75v0.75h-0.75zM560.3 956.9h0.75v0.75h-0.75zM569.7 943.3h0.75v0.75h-0.75zM562.3 946.8h0.75v0.75h-0.75zM563.3 962.1h0.75v0.75h-0.75zM565.0 944.9h0.75v0.75h-0.75zM562.0 965.6h0.75v0.75h-0.75zM570.6 932.6h0.75v0.75h-0.75zM560.6 930.8h0.75v0.75h-0.75zM568.1 935.6h0.75v0.75h-0.75zM565.7 932.2h0.75v0.75h-0.75zM576.2 950.0h0.75v0.75h-0.75zM563.7 948.9h0.75v0.75h-0.75zM564.7 934.6h0.75v0.75h-0.75zM563.1 943.8h0.75v0.75h-0.75zM561.3 954.9h0.75v0.75h-0.75zM562.5 943.1h0.75v0.75h-0.75zM563.8 945.6h0.75v0.75h-0.75zM577.4 941.1h0.75v0.75h-0.75zM560.8 950.9h0.75v0.75h-0.75zM562.2 940.0h0.75v0.75h-0.75zM564.7 938.6h0.75v0.75h-0.75zM562.3 960.9h0.75v0.75h-0.75zM569.4 954.4h0.75v0.75h-0.75zM564.1 934.3h0.75v0.75h-0.75zM562.0 936.6h0.75v0.75h-0.75zM561.3 940.2h0.75v0.75h-0.75zM562.9 948.8h0.75v0.75h-0.75zM562.0 965.9h0.75v0.75h-0.75zM569.8 957.6h0.75v0.75h-0.75zM568.1 964.9h0.75v0.75h-0.75zM568.9 970.9h0.75v0.75h-0.75zM579.5 965.1h0.75v0.75h-0.75zM571.8 967.4h0.75v0.75h-0.75zM570.3 966.2h0.75v0.75h-0.75zM561.7 967.9h0.75v0.75h-0.75zM563.0 968.8h0.75v0.75h-0.75zM568.7 969.0h0.75v0.75h-0.75zM570.5 966.9h0.75v0.75h-0.75zM578.5 971.4h0.75v0.75h-0.75zM567.9 967.2h0.75v0.75h-0.75zM572.6 968.4h0.75v0.75h-0.75zM566.3 966.9h0.75v0.75h-0.75zM563.8 967.0h0.75v0.75h-0.75zM571.3 970.4h0.75v0.75h-0.75zM573.9 968.7h0.75v0.75h-0.75zM567.6 967.6h0.75v0.75h-0.75zM570.1 966.0h0.75v0.75h-0.75zM567.4 966.6h0.75v0.75h-0.75zM564.7 970.7h0.75v0.75h-0.75zM572.9 966.1h0.75v0.75h-0.75zM562.9 965.8h0.75v0.75h-0.75zM562.1 966.5h0.75v0.75h-0.75zM568.2 965.1h0.75v0.75h-0.75zM564.3 969.6h0.75v0.75h-0.75zM569.4 965.3h0.75v0.75h-0.75zM561.8 968.3h0.75v0.75h-0.75zM572.7 965.1h0.75v0.75h-0.75zM561.6 966.0h0.75v0.75h-0.75zM565.5 971.0h0.75v0.75h-0.75zM563.5 969.3h0.75v0.75h-0.75zM573.2 970.1h0.75v0.75h-0.75zM565.5 968.7h0.75v0.75h-0.75zM565.3 967.7h0.75v0.75h-0.75zM563.4 965.1h0.75v0.75h-0.75zM565.3 965.6h0.75v0.75h-0.75zM567.1 967.0h0.75v0.75h-0.75zM568.9 966.5h0.75v0.75h-0.75zM563.4 964.9h0.75v0.75h-0.75zM565.0 967.3h0.75v0.75h-0.75zM562.4 970.6h0.75v0.75h-0.75zM574.0 966.7h0.75v0.75h-0.75zM565.6 965.7h0.75v0.75h-0.75zM561.2 966.7h0.75v0.75h-0.75zM563.0 967.6h0.75v0.75h-0.75zM572.4 969.2h0.75v0.75h-0.75zM572.7 968.9h0.75v0.75h-0.75zM564.4 965.9h0.75v0.75h-0.75zM563.2 965.7h0.75v0.75h-0.75zM566.2 966.6h0.75v0.75h-0.75zM580.0 970.1h0.75v0.75h-0.75zM565.8 966.4h0.75v0.75h-0.75zM580.0 967.9h0.75v0.75h-0.75zM584.9 963.3h0.75v0.75h-0.75zM572.0 966.5h0.75v0.75h-0.75zM565.4 964.7h0.75v0.75h-0.75zM561.4 960.6h0.75v0.75h-0.75zM573.8 970.7h0.75v0.75h-0.75zM572.4 967.4h0.75v0.75h-0.75zM577.6 967.9h0.75v0.75h-0.75zM566.7 968.3h0.75v0.75h-0.75zM563.6 961.3h0.75v0.75h-0.75zM564.0 967.6h0.75v0.75h-0.75zM561.3 967.1h0.75v0.75h-0.75zM579.2 966.4h0.75v0.75h-0.75zM561.1 968.2h0.75v0.75h-0.75zM566.2 969.2h0.75v0.75h-0.75zM562.7 968.3h0.75v0.75h-0.75zM566.0 968.2h0.75v0.75h-0.75zM567.6 966.3h0.75v0.75h-0.75zM562.8 967.0h0.75v0.75h-0.75zM562.8 964.0h0.75v0.75h-0.75zM564.1 966.4h0.75v0.75h-0.75zM572.5 967.7h0.75v0.75h-0.75zM564.7 966.8h0.75v0.75h-0.75zM570.5 967.7h0.75v0.75h-0.75z" fill="#6a70b8"/>
<text x="540.3" y="894.7" font-size="4.6" fill="#333" font-weight="normal" text-anchor="start" stroke="#333" stroke-width="0.06">Q1</text>
<text x="540.3" y="901.9" font-size="4.6" fill="#333" font-weight="normal" text-anchor="start" stroke="#333" stroke-width="0.06">9.17</text>
<text x="628.1" y="894.7" font-size="4.6" fill="#333" font-weight="normal" text-anchor="end" stroke="#333" stroke-width="0.06">Q2</text>
<text x="628.1" y="901.9" font-size="4.6" fill="#333" font-weight="normal" text-anchor="end" stroke="#333" stroke-width="0.06">13.4</text>
<text x="628.1" y="975.7" font-size="4.6" fill="#333" font-weight="normal" text-anchor="end" stroke="#333" stroke-width="0.06">Q3</text>
<text x="628.1" y="982.5" font-size="4.6" fill="#333" font-weight="normal" text-anchor="end" stroke="#333" stroke-width="0.06">36.4</text>
<text x="540.3" y="975.7" font-size="4.6" fill="#333" font-weight="normal" text-anchor="start" stroke="#333" stroke-width="0.06">Q4</text>
<text x="540.3" y="982.5" font-size="4.6" fill="#333" font-weight="normal" text-anchor="start" stroke="#333" stroke-width="0.06">41.0</text>
<text x="543.8" y="917.9" font-size="6.3" fill="#f52a2a" font-weight="normal" text-anchor="start" stroke="#f52a2a" stroke-width="0.28">CD8+</text>
<text x="543.8" y="924.9" font-size="6.3" fill="#f52a2a" font-weight="normal" text-anchor="start" stroke="#f52a2a" stroke-width="0.28">Tem</text>
<text x="593" y="918.3" font-size="6.3" fill="#f52a2a" font-weight="normal" text-anchor="start" stroke="#f52a2a" stroke-width="0.28">CD8+</text>
<text x="593" y="925.3" font-size="6.3" fill="#f52a2a" font-weight="normal" text-anchor="start" stroke="#f52a2a" stroke-width="0.28">Tcm</text>
<text x="543.8" y="970.5" font-size="6.3" fill="#f52a2a" font-weight="normal" text-anchor="start" stroke="#f52a2a" stroke-width="0.28">CD8+</text>
<text x="543.8" y="977.5" font-size="6.3" fill="#f52a2a" font-weight="normal" text-anchor="start" stroke="#f52a2a" stroke-width="0.28">Teff</text>
<text x="593" y="968.3" font-size="6.3" fill="#f52a2a" font-weight="normal" text-anchor="start" stroke="#f52a2a" stroke-width="0.28">CD8+</text>
<text x="593" y="975.3" font-size="6.3" fill="#f52a2a" font-weight="normal" text-anchor="start" stroke="#f52a2a" stroke-width="0.28">Tnaiv</text>
</svg>
</body></html>
